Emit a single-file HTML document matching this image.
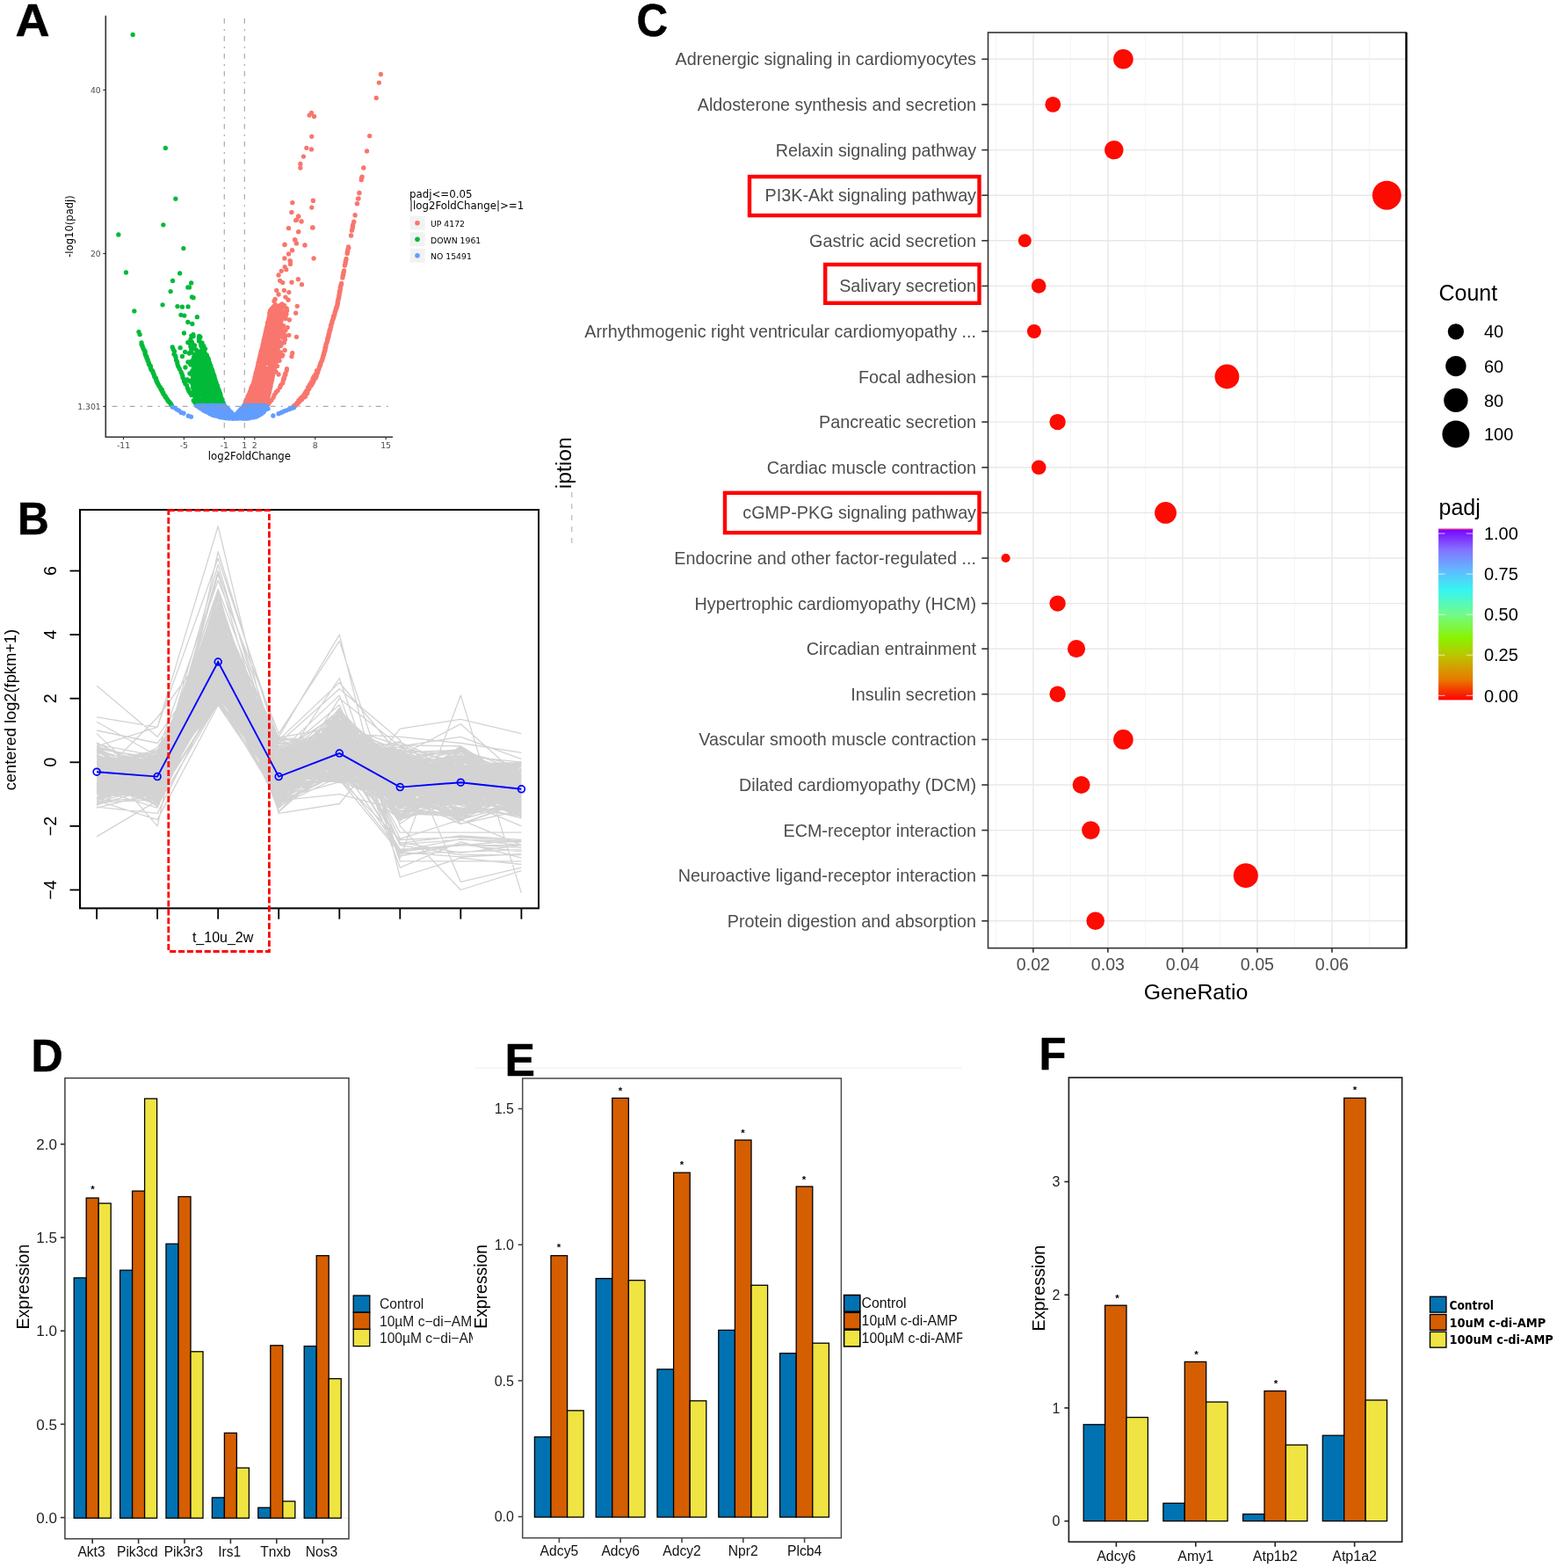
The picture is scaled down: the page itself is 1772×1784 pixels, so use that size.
<!DOCTYPE html>
<html><head><meta charset="utf-8"><title>Figure</title>
<style>html,body{margin:0;padding:0;background:#fff;}svg{display:block;}</style></head>
<body><svg width="1772" height="1784" viewBox="0 0 1772 1784" font-family="'Liberation Sans', Arial, sans-serif"><g>
<path d="M301.3 457.3a2.65 2.65 0 1 0 5.3 0a2.65 2.65 0 1 0 -5.3 0M296.7 456.1a2.65 2.65 0 1 0 5.3 0a2.65 2.65 0 1 0 -5.3 0M306.2 372.2a2.65 2.65 0 1 0 5.3 0a2.65 2.65 0 1 0 -5.3 0M288.6 447.5a2.65 2.65 0 1 0 5.3 0a2.65 2.65 0 1 0 -5.3 0M296.2 438a2.65 2.65 0 1 0 5.3 0a2.65 2.65 0 1 0 -5.3 0M298.3 391.1a2.65 2.65 0 1 0 5.3 0a2.65 2.65 0 1 0 -5.3 0M303.9 386a2.65 2.65 0 1 0 5.3 0a2.65 2.65 0 1 0 -5.3 0M311.3 361.4a2.65 2.65 0 1 0 5.3 0a2.65 2.65 0 1 0 -5.3 0M294.4 443a2.65 2.65 0 1 0 5.3 0a2.65 2.65 0 1 0 -5.3 0M310 365a2.65 2.65 0 1 0 5.3 0a2.65 2.65 0 1 0 -5.3 0M290.5 429.9a2.65 2.65 0 1 0 5.3 0a2.65 2.65 0 1 0 -5.3 0M291.6 457.1a2.65 2.65 0 1 0 5.3 0a2.65 2.65 0 1 0 -5.3 0M284.3 456.2a2.65 2.65 0 1 0 5.3 0a2.65 2.65 0 1 0 -5.3 0M305.7 376.7a2.65 2.65 0 1 0 5.3 0a2.65 2.65 0 1 0 -5.3 0M301.5 371.2a2.65 2.65 0 1 0 5.3 0a2.65 2.65 0 1 0 -5.3 0M312.9 360.8a2.65 2.65 0 1 0 5.3 0a2.65 2.65 0 1 0 -5.3 0M297.4 409.2a2.65 2.65 0 1 0 5.3 0a2.65 2.65 0 1 0 -5.3 0M287 435.6a2.65 2.65 0 1 0 5.3 0a2.65 2.65 0 1 0 -5.3 0M291.9 422.4a2.65 2.65 0 1 0 5.3 0a2.65 2.65 0 1 0 -5.3 0M299.8 382.5a2.65 2.65 0 1 0 5.3 0a2.65 2.65 0 1 0 -5.3 0M283 444.7a2.65 2.65 0 1 0 5.3 0a2.65 2.65 0 1 0 -5.3 0M289.2 423a2.65 2.65 0 1 0 5.3 0a2.65 2.65 0 1 0 -5.3 0M303.9 387.2a2.65 2.65 0 1 0 5.3 0a2.65 2.65 0 1 0 -5.3 0M293.1 422.6a2.65 2.65 0 1 0 5.3 0a2.65 2.65 0 1 0 -5.3 0M305.4 375.3a2.65 2.65 0 1 0 5.3 0a2.65 2.65 0 1 0 -5.3 0M311.8 387.3a2.65 2.65 0 1 0 5.3 0a2.65 2.65 0 1 0 -5.3 0M302.4 367.6a2.65 2.65 0 1 0 5.3 0a2.65 2.65 0 1 0 -5.3 0M280.3 451.8a2.65 2.65 0 1 0 5.3 0a2.65 2.65 0 1 0 -5.3 0M306.9 428.8a2.65 2.65 0 1 0 5.3 0a2.65 2.65 0 1 0 -5.3 0M302.8 367.4a2.65 2.65 0 1 0 5.3 0a2.65 2.65 0 1 0 -5.3 0M306.2 376a2.65 2.65 0 1 0 5.3 0a2.65 2.65 0 1 0 -5.3 0M294.1 425.5a2.65 2.65 0 1 0 5.3 0a2.65 2.65 0 1 0 -5.3 0M284.4 452a2.65 2.65 0 1 0 5.3 0a2.65 2.65 0 1 0 -5.3 0M307.6 356.6a2.65 2.65 0 1 0 5.3 0a2.65 2.65 0 1 0 -5.3 0M305.2 392a2.65 2.65 0 1 0 5.3 0a2.65 2.65 0 1 0 -5.3 0M302.4 398.9a2.65 2.65 0 1 0 5.3 0a2.65 2.65 0 1 0 -5.3 0M293.8 405.7a2.65 2.65 0 1 0 5.3 0a2.65 2.65 0 1 0 -5.3 0M315.3 361.4a2.65 2.65 0 1 0 5.3 0a2.65 2.65 0 1 0 -5.3 0M308.1 351.7a2.65 2.65 0 1 0 5.3 0a2.65 2.65 0 1 0 -5.3 0M305.7 423.9a2.65 2.65 0 1 0 5.3 0a2.65 2.65 0 1 0 -5.3 0M297.5 398a2.65 2.65 0 1 0 5.3 0a2.65 2.65 0 1 0 -5.3 0M288.2 448.6a2.65 2.65 0 1 0 5.3 0a2.65 2.65 0 1 0 -5.3 0M289.7 440.6a2.65 2.65 0 1 0 5.3 0a2.65 2.65 0 1 0 -5.3 0M298.9 434.3a2.65 2.65 0 1 0 5.3 0a2.65 2.65 0 1 0 -5.3 0M301.1 399.8a2.65 2.65 0 1 0 5.3 0a2.65 2.65 0 1 0 -5.3 0M303.4 375.7a2.65 2.65 0 1 0 5.3 0a2.65 2.65 0 1 0 -5.3 0M311.5 380.8a2.65 2.65 0 1 0 5.3 0a2.65 2.65 0 1 0 -5.3 0M310.8 383.6a2.65 2.65 0 1 0 5.3 0a2.65 2.65 0 1 0 -5.3 0M291.2 442.5a2.65 2.65 0 1 0 5.3 0a2.65 2.65 0 1 0 -5.3 0M299.7 419.1a2.65 2.65 0 1 0 5.3 0a2.65 2.65 0 1 0 -5.3 0M296.6 404.2a2.65 2.65 0 1 0 5.3 0a2.65 2.65 0 1 0 -5.3 0M304.9 365.6a2.65 2.65 0 1 0 5.3 0a2.65 2.65 0 1 0 -5.3 0M294.4 458.4a2.65 2.65 0 1 0 5.3 0a2.65 2.65 0 1 0 -5.3 0M309.2 395.7a2.65 2.65 0 1 0 5.3 0a2.65 2.65 0 1 0 -5.3 0M297.5 395.2a2.65 2.65 0 1 0 5.3 0a2.65 2.65 0 1 0 -5.3 0M304 441.9a2.65 2.65 0 1 0 5.3 0a2.65 2.65 0 1 0 -5.3 0M314.2 365.6a2.65 2.65 0 1 0 5.3 0a2.65 2.65 0 1 0 -5.3 0M299.6 386.8a2.65 2.65 0 1 0 5.3 0a2.65 2.65 0 1 0 -5.3 0M310.2 353.6a2.65 2.65 0 1 0 5.3 0a2.65 2.65 0 1 0 -5.3 0M304.4 416.9a2.65 2.65 0 1 0 5.3 0a2.65 2.65 0 1 0 -5.3 0M303.2 381.2a2.65 2.65 0 1 0 5.3 0a2.65 2.65 0 1 0 -5.3 0M290.1 448.7a2.65 2.65 0 1 0 5.3 0a2.65 2.65 0 1 0 -5.3 0M304.5 398.2a2.65 2.65 0 1 0 5.3 0a2.65 2.65 0 1 0 -5.3 0M293.3 407.8a2.65 2.65 0 1 0 5.3 0a2.65 2.65 0 1 0 -5.3 0M299.6 392.4a2.65 2.65 0 1 0 5.3 0a2.65 2.65 0 1 0 -5.3 0M296.4 410.5a2.65 2.65 0 1 0 5.3 0a2.65 2.65 0 1 0 -5.3 0M294.2 446.2a2.65 2.65 0 1 0 5.3 0a2.65 2.65 0 1 0 -5.3 0M299 429a2.65 2.65 0 1 0 5.3 0a2.65 2.65 0 1 0 -5.3 0M307.9 359.9a2.65 2.65 0 1 0 5.3 0a2.65 2.65 0 1 0 -5.3 0M308.7 362.5a2.65 2.65 0 1 0 5.3 0a2.65 2.65 0 1 0 -5.3 0M308.7 353.3a2.65 2.65 0 1 0 5.3 0a2.65 2.65 0 1 0 -5.3 0M305.8 395.8a2.65 2.65 0 1 0 5.3 0a2.65 2.65 0 1 0 -5.3 0M290 434.7a2.65 2.65 0 1 0 5.3 0a2.65 2.65 0 1 0 -5.3 0M304.6 441.8a2.65 2.65 0 1 0 5.3 0a2.65 2.65 0 1 0 -5.3 0M306.4 351.7a2.65 2.65 0 1 0 5.3 0a2.65 2.65 0 1 0 -5.3 0M298.9 439.2a2.65 2.65 0 1 0 5.3 0a2.65 2.65 0 1 0 -5.3 0M280.2 453.3a2.65 2.65 0 1 0 5.3 0a2.65 2.65 0 1 0 -5.3 0M304.4 376a2.65 2.65 0 1 0 5.3 0a2.65 2.65 0 1 0 -5.3 0M305 439.8a2.65 2.65 0 1 0 5.3 0a2.65 2.65 0 1 0 -5.3 0M296.9 447.3a2.65 2.65 0 1 0 5.3 0a2.65 2.65 0 1 0 -5.3 0M309.8 350.8a2.65 2.65 0 1 0 5.3 0a2.65 2.65 0 1 0 -5.3 0M304.6 391.9a2.65 2.65 0 1 0 5.3 0a2.65 2.65 0 1 0 -5.3 0M311.7 392a2.65 2.65 0 1 0 5.3 0a2.65 2.65 0 1 0 -5.3 0M284.7 449.7a2.65 2.65 0 1 0 5.3 0a2.65 2.65 0 1 0 -5.3 0M295.5 413.2a2.65 2.65 0 1 0 5.3 0a2.65 2.65 0 1 0 -5.3 0M295.1 460.3a2.65 2.65 0 1 0 5.3 0a2.65 2.65 0 1 0 -5.3 0M304.2 378.1a2.65 2.65 0 1 0 5.3 0a2.65 2.65 0 1 0 -5.3 0M298.1 456.9a2.65 2.65 0 1 0 5.3 0a2.65 2.65 0 1 0 -5.3 0M299.5 435.5a2.65 2.65 0 1 0 5.3 0a2.65 2.65 0 1 0 -5.3 0M302.6 419.8a2.65 2.65 0 1 0 5.3 0a2.65 2.65 0 1 0 -5.3 0M288.4 434.6a2.65 2.65 0 1 0 5.3 0a2.65 2.65 0 1 0 -5.3 0M307.1 405.3a2.65 2.65 0 1 0 5.3 0a2.65 2.65 0 1 0 -5.3 0M302.7 387.1a2.65 2.65 0 1 0 5.3 0a2.65 2.65 0 1 0 -5.3 0M299 393.5a2.65 2.65 0 1 0 5.3 0a2.65 2.65 0 1 0 -5.3 0M289.2 460.6a2.65 2.65 0 1 0 5.3 0a2.65 2.65 0 1 0 -5.3 0M299.8 381.5a2.65 2.65 0 1 0 5.3 0a2.65 2.65 0 1 0 -5.3 0M306.6 410.2a2.65 2.65 0 1 0 5.3 0a2.65 2.65 0 1 0 -5.3 0M300.3 460.5a2.65 2.65 0 1 0 5.3 0a2.65 2.65 0 1 0 -5.3 0M290.7 435.9a2.65 2.65 0 1 0 5.3 0a2.65 2.65 0 1 0 -5.3 0M293.8 446.7a2.65 2.65 0 1 0 5.3 0a2.65 2.65 0 1 0 -5.3 0M314 378.5a2.65 2.65 0 1 0 5.3 0a2.65 2.65 0 1 0 -5.3 0M305.6 371.8a2.65 2.65 0 1 0 5.3 0a2.65 2.65 0 1 0 -5.3 0M301.3 446.2a2.65 2.65 0 1 0 5.3 0a2.65 2.65 0 1 0 -5.3 0M303.2 369.4a2.65 2.65 0 1 0 5.3 0a2.65 2.65 0 1 0 -5.3 0M315 371.1a2.65 2.65 0 1 0 5.3 0a2.65 2.65 0 1 0 -5.3 0M289.4 433a2.65 2.65 0 1 0 5.3 0a2.65 2.65 0 1 0 -5.3 0M303.3 393.4a2.65 2.65 0 1 0 5.3 0a2.65 2.65 0 1 0 -5.3 0M304.5 385.6a2.65 2.65 0 1 0 5.3 0a2.65 2.65 0 1 0 -5.3 0M301.1 376.3a2.65 2.65 0 1 0 5.3 0a2.65 2.65 0 1 0 -5.3 0M301.8 430.1a2.65 2.65 0 1 0 5.3 0a2.65 2.65 0 1 0 -5.3 0M308.3 357.1a2.65 2.65 0 1 0 5.3 0a2.65 2.65 0 1 0 -5.3 0M310.4 395.5a2.65 2.65 0 1 0 5.3 0a2.65 2.65 0 1 0 -5.3 0M298.5 414.5a2.65 2.65 0 1 0 5.3 0a2.65 2.65 0 1 0 -5.3 0M299.2 422.4a2.65 2.65 0 1 0 5.3 0a2.65 2.65 0 1 0 -5.3 0M301.2 384.8a2.65 2.65 0 1 0 5.3 0a2.65 2.65 0 1 0 -5.3 0M307.2 376.4a2.65 2.65 0 1 0 5.3 0a2.65 2.65 0 1 0 -5.3 0M305.9 434.6a2.65 2.65 0 1 0 5.3 0a2.65 2.65 0 1 0 -5.3 0M308.7 382.3a2.65 2.65 0 1 0 5.3 0a2.65 2.65 0 1 0 -5.3 0M297.9 455.1a2.65 2.65 0 1 0 5.3 0a2.65 2.65 0 1 0 -5.3 0M295.8 422.2a2.65 2.65 0 1 0 5.3 0a2.65 2.65 0 1 0 -5.3 0M308.6 388.5a2.65 2.65 0 1 0 5.3 0a2.65 2.65 0 1 0 -5.3 0M307.9 357.1a2.65 2.65 0 1 0 5.3 0a2.65 2.65 0 1 0 -5.3 0M308.8 374.6a2.65 2.65 0 1 0 5.3 0a2.65 2.65 0 1 0 -5.3 0M302.7 386.4a2.65 2.65 0 1 0 5.3 0a2.65 2.65 0 1 0 -5.3 0M309.8 399.7a2.65 2.65 0 1 0 5.3 0a2.65 2.65 0 1 0 -5.3 0M289.3 450.8a2.65 2.65 0 1 0 5.3 0a2.65 2.65 0 1 0 -5.3 0M292.6 446.2a2.65 2.65 0 1 0 5.3 0a2.65 2.65 0 1 0 -5.3 0M293 452.6a2.65 2.65 0 1 0 5.3 0a2.65 2.65 0 1 0 -5.3 0M308 420.7a2.65 2.65 0 1 0 5.3 0a2.65 2.65 0 1 0 -5.3 0M288.2 461.2a2.65 2.65 0 1 0 5.3 0a2.65 2.65 0 1 0 -5.3 0M282.1 446.1a2.65 2.65 0 1 0 5.3 0a2.65 2.65 0 1 0 -5.3 0M312.7 377.5a2.65 2.65 0 1 0 5.3 0a2.65 2.65 0 1 0 -5.3 0M296.2 449.3a2.65 2.65 0 1 0 5.3 0a2.65 2.65 0 1 0 -5.3 0M301 398.9a2.65 2.65 0 1 0 5.3 0a2.65 2.65 0 1 0 -5.3 0M300.3 448.4a2.65 2.65 0 1 0 5.3 0a2.65 2.65 0 1 0 -5.3 0M284.4 448.5a2.65 2.65 0 1 0 5.3 0a2.65 2.65 0 1 0 -5.3 0M290.8 436.5a2.65 2.65 0 1 0 5.3 0a2.65 2.65 0 1 0 -5.3 0M312.5 367.7a2.65 2.65 0 1 0 5.3 0a2.65 2.65 0 1 0 -5.3 0M280.1 458.9a2.65 2.65 0 1 0 5.3 0a2.65 2.65 0 1 0 -5.3 0M304.7 357.1a2.65 2.65 0 1 0 5.3 0a2.65 2.65 0 1 0 -5.3 0M290 452.5a2.65 2.65 0 1 0 5.3 0a2.65 2.65 0 1 0 -5.3 0M285.4 438a2.65 2.65 0 1 0 5.3 0a2.65 2.65 0 1 0 -5.3 0M276.2 460.8a2.65 2.65 0 1 0 5.3 0a2.65 2.65 0 1 0 -5.3 0M289 447.9a2.65 2.65 0 1 0 5.3 0a2.65 2.65 0 1 0 -5.3 0M284.6 458.2a2.65 2.65 0 1 0 5.3 0a2.65 2.65 0 1 0 -5.3 0M292.9 410.8a2.65 2.65 0 1 0 5.3 0a2.65 2.65 0 1 0 -5.3 0M304.9 421.9a2.65 2.65 0 1 0 5.3 0a2.65 2.65 0 1 0 -5.3 0M298.7 409.9a2.65 2.65 0 1 0 5.3 0a2.65 2.65 0 1 0 -5.3 0M293.4 458.8a2.65 2.65 0 1 0 5.3 0a2.65 2.65 0 1 0 -5.3 0M301.5 453.4a2.65 2.65 0 1 0 5.3 0a2.65 2.65 0 1 0 -5.3 0M314.4 352.4a2.65 2.65 0 1 0 5.3 0a2.65 2.65 0 1 0 -5.3 0M305.2 384.1a2.65 2.65 0 1 0 5.3 0a2.65 2.65 0 1 0 -5.3 0M303.1 409.9a2.65 2.65 0 1 0 5.3 0a2.65 2.65 0 1 0 -5.3 0M288.9 458.6a2.65 2.65 0 1 0 5.3 0a2.65 2.65 0 1 0 -5.3 0M312 405.5a2.65 2.65 0 1 0 5.3 0a2.65 2.65 0 1 0 -5.3 0M307.3 390.3a2.65 2.65 0 1 0 5.3 0a2.65 2.65 0 1 0 -5.3 0M306 392a2.65 2.65 0 1 0 5.3 0a2.65 2.65 0 1 0 -5.3 0M298 417.3a2.65 2.65 0 1 0 5.3 0a2.65 2.65 0 1 0 -5.3 0M304.5 383.8a2.65 2.65 0 1 0 5.3 0a2.65 2.65 0 1 0 -5.3 0M302.4 409.3a2.65 2.65 0 1 0 5.3 0a2.65 2.65 0 1 0 -5.3 0M286.7 451.4a2.65 2.65 0 1 0 5.3 0a2.65 2.65 0 1 0 -5.3 0M295.7 429.8a2.65 2.65 0 1 0 5.3 0a2.65 2.65 0 1 0 -5.3 0M297.8 401.6a2.65 2.65 0 1 0 5.3 0a2.65 2.65 0 1 0 -5.3 0M297.9 407.5a2.65 2.65 0 1 0 5.3 0a2.65 2.65 0 1 0 -5.3 0M310.3 374.2a2.65 2.65 0 1 0 5.3 0a2.65 2.65 0 1 0 -5.3 0M295.1 420.5a2.65 2.65 0 1 0 5.3 0a2.65 2.65 0 1 0 -5.3 0M312.7 351.7a2.65 2.65 0 1 0 5.3 0a2.65 2.65 0 1 0 -5.3 0M291.7 442.6a2.65 2.65 0 1 0 5.3 0a2.65 2.65 0 1 0 -5.3 0M310.5 360.9a2.65 2.65 0 1 0 5.3 0a2.65 2.65 0 1 0 -5.3 0M309.9 406.8a2.65 2.65 0 1 0 5.3 0a2.65 2.65 0 1 0 -5.3 0M292.4 461.6a2.65 2.65 0 1 0 5.3 0a2.65 2.65 0 1 0 -5.3 0M305.2 398.5a2.65 2.65 0 1 0 5.3 0a2.65 2.65 0 1 0 -5.3 0M295.9 438.7a2.65 2.65 0 1 0 5.3 0a2.65 2.65 0 1 0 -5.3 0M308 364a2.65 2.65 0 1 0 5.3 0a2.65 2.65 0 1 0 -5.3 0M304.6 389a2.65 2.65 0 1 0 5.3 0a2.65 2.65 0 1 0 -5.3 0M306.2 378.3a2.65 2.65 0 1 0 5.3 0a2.65 2.65 0 1 0 -5.3 0M311.2 357.2a2.65 2.65 0 1 0 5.3 0a2.65 2.65 0 1 0 -5.3 0M302.7 445.6a2.65 2.65 0 1 0 5.3 0a2.65 2.65 0 1 0 -5.3 0M309.4 417.9a2.65 2.65 0 1 0 5.3 0a2.65 2.65 0 1 0 -5.3 0M306 380.7a2.65 2.65 0 1 0 5.3 0a2.65 2.65 0 1 0 -5.3 0M292.9 421.4a2.65 2.65 0 1 0 5.3 0a2.65 2.65 0 1 0 -5.3 0M310.2 387.3a2.65 2.65 0 1 0 5.3 0a2.65 2.65 0 1 0 -5.3 0M291.9 413.4a2.65 2.65 0 1 0 5.3 0a2.65 2.65 0 1 0 -5.3 0M315.1 368.8a2.65 2.65 0 1 0 5.3 0a2.65 2.65 0 1 0 -5.3 0M291.4 423.4a2.65 2.65 0 1 0 5.3 0a2.65 2.65 0 1 0 -5.3 0M307.9 390.4a2.65 2.65 0 1 0 5.3 0a2.65 2.65 0 1 0 -5.3 0M298 403.9a2.65 2.65 0 1 0 5.3 0a2.65 2.65 0 1 0 -5.3 0M295.2 399.9a2.65 2.65 0 1 0 5.3 0a2.65 2.65 0 1 0 -5.3 0M311.5 394.5a2.65 2.65 0 1 0 5.3 0a2.65 2.65 0 1 0 -5.3 0M295.7 449.3a2.65 2.65 0 1 0 5.3 0a2.65 2.65 0 1 0 -5.3 0M294.3 403.3a2.65 2.65 0 1 0 5.3 0a2.65 2.65 0 1 0 -5.3 0M297.4 441.7a2.65 2.65 0 1 0 5.3 0a2.65 2.65 0 1 0 -5.3 0M304.2 432a2.65 2.65 0 1 0 5.3 0a2.65 2.65 0 1 0 -5.3 0M304.6 410.5a2.65 2.65 0 1 0 5.3 0a2.65 2.65 0 1 0 -5.3 0M307.7 411.7a2.65 2.65 0 1 0 5.3 0a2.65 2.65 0 1 0 -5.3 0M305.9 402.3a2.65 2.65 0 1 0 5.3 0a2.65 2.65 0 1 0 -5.3 0M293.3 414a2.65 2.65 0 1 0 5.3 0a2.65 2.65 0 1 0 -5.3 0M312.8 363.5a2.65 2.65 0 1 0 5.3 0a2.65 2.65 0 1 0 -5.3 0M297.3 395.1a2.65 2.65 0 1 0 5.3 0a2.65 2.65 0 1 0 -5.3 0M312.2 376.3a2.65 2.65 0 1 0 5.3 0a2.65 2.65 0 1 0 -5.3 0M298.4 389.8a2.65 2.65 0 1 0 5.3 0a2.65 2.65 0 1 0 -5.3 0M295.3 403a2.65 2.65 0 1 0 5.3 0a2.65 2.65 0 1 0 -5.3 0M300.5 388.8a2.65 2.65 0 1 0 5.3 0a2.65 2.65 0 1 0 -5.3 0M309.8 369.8a2.65 2.65 0 1 0 5.3 0a2.65 2.65 0 1 0 -5.3 0M298.3 393.8a2.65 2.65 0 1 0 5.3 0a2.65 2.65 0 1 0 -5.3 0M299.6 384a2.65 2.65 0 1 0 5.3 0a2.65 2.65 0 1 0 -5.3 0M287.1 438.4a2.65 2.65 0 1 0 5.3 0a2.65 2.65 0 1 0 -5.3 0M287.9 428.6a2.65 2.65 0 1 0 5.3 0a2.65 2.65 0 1 0 -5.3 0M309.9 414.9a2.65 2.65 0 1 0 5.3 0a2.65 2.65 0 1 0 -5.3 0M294.9 454.4a2.65 2.65 0 1 0 5.3 0a2.65 2.65 0 1 0 -5.3 0M294.5 447.9a2.65 2.65 0 1 0 5.3 0a2.65 2.65 0 1 0 -5.3 0M312.4 355a2.65 2.65 0 1 0 5.3 0a2.65 2.65 0 1 0 -5.3 0M309.8 404.1a2.65 2.65 0 1 0 5.3 0a2.65 2.65 0 1 0 -5.3 0M304.3 424.5a2.65 2.65 0 1 0 5.3 0a2.65 2.65 0 1 0 -5.3 0M311.4 363.5a2.65 2.65 0 1 0 5.3 0a2.65 2.65 0 1 0 -5.3 0M314.8 370.5a2.65 2.65 0 1 0 5.3 0a2.65 2.65 0 1 0 -5.3 0M293.2 422.6a2.65 2.65 0 1 0 5.3 0a2.65 2.65 0 1 0 -5.3 0M286.4 451.1a2.65 2.65 0 1 0 5.3 0a2.65 2.65 0 1 0 -5.3 0M304.8 364.5a2.65 2.65 0 1 0 5.3 0a2.65 2.65 0 1 0 -5.3 0M300.4 383.4a2.65 2.65 0 1 0 5.3 0a2.65 2.65 0 1 0 -5.3 0M311.5 364.2a2.65 2.65 0 1 0 5.3 0a2.65 2.65 0 1 0 -5.3 0M291.7 420.5a2.65 2.65 0 1 0 5.3 0a2.65 2.65 0 1 0 -5.3 0M306.7 396.2a2.65 2.65 0 1 0 5.3 0a2.65 2.65 0 1 0 -5.3 0M304.5 359.9a2.65 2.65 0 1 0 5.3 0a2.65 2.65 0 1 0 -5.3 0M311 360.8a2.65 2.65 0 1 0 5.3 0a2.65 2.65 0 1 0 -5.3 0M307.6 403.9a2.65 2.65 0 1 0 5.3 0a2.65 2.65 0 1 0 -5.3 0M315.3 357.4a2.65 2.65 0 1 0 5.3 0a2.65 2.65 0 1 0 -5.3 0M296.2 446.2a2.65 2.65 0 1 0 5.3 0a2.65 2.65 0 1 0 -5.3 0M301.1 409a2.65 2.65 0 1 0 5.3 0a2.65 2.65 0 1 0 -5.3 0M287 449.6a2.65 2.65 0 1 0 5.3 0a2.65 2.65 0 1 0 -5.3 0M311.7 372.9a2.65 2.65 0 1 0 5.3 0a2.65 2.65 0 1 0 -5.3 0M315.1 350.4a2.65 2.65 0 1 0 5.3 0a2.65 2.65 0 1 0 -5.3 0M290.2 455.5a2.65 2.65 0 1 0 5.3 0a2.65 2.65 0 1 0 -5.3 0M299.1 437.5a2.65 2.65 0 1 0 5.3 0a2.65 2.65 0 1 0 -5.3 0M301 399.9a2.65 2.65 0 1 0 5.3 0a2.65 2.65 0 1 0 -5.3 0M303.9 365.6a2.65 2.65 0 1 0 5.3 0a2.65 2.65 0 1 0 -5.3 0M282.6 455.2a2.65 2.65 0 1 0 5.3 0a2.65 2.65 0 1 0 -5.3 0M289.6 443.7a2.65 2.65 0 1 0 5.3 0a2.65 2.65 0 1 0 -5.3 0M312.9 402a2.65 2.65 0 1 0 5.3 0a2.65 2.65 0 1 0 -5.3 0M313.1 360.2a2.65 2.65 0 1 0 5.3 0a2.65 2.65 0 1 0 -5.3 0M296.7 408.4a2.65 2.65 0 1 0 5.3 0a2.65 2.65 0 1 0 -5.3 0M285.7 447.1a2.65 2.65 0 1 0 5.3 0a2.65 2.65 0 1 0 -5.3 0M296.9 449.3a2.65 2.65 0 1 0 5.3 0a2.65 2.65 0 1 0 -5.3 0M296.4 437.8a2.65 2.65 0 1 0 5.3 0a2.65 2.65 0 1 0 -5.3 0M299.9 426.1a2.65 2.65 0 1 0 5.3 0a2.65 2.65 0 1 0 -5.3 0M313.6 356.4a2.65 2.65 0 1 0 5.3 0a2.65 2.65 0 1 0 -5.3 0M300.9 437a2.65 2.65 0 1 0 5.3 0a2.65 2.65 0 1 0 -5.3 0M305.9 353.9a2.65 2.65 0 1 0 5.3 0a2.65 2.65 0 1 0 -5.3 0M301.9 426.4a2.65 2.65 0 1 0 5.3 0a2.65 2.65 0 1 0 -5.3 0M310.4 386.1a2.65 2.65 0 1 0 5.3 0a2.65 2.65 0 1 0 -5.3 0M310.2 399.9a2.65 2.65 0 1 0 5.3 0a2.65 2.65 0 1 0 -5.3 0M304.5 364.1a2.65 2.65 0 1 0 5.3 0a2.65 2.65 0 1 0 -5.3 0M289.6 459.1a2.65 2.65 0 1 0 5.3 0a2.65 2.65 0 1 0 -5.3 0M296 404a2.65 2.65 0 1 0 5.3 0a2.65 2.65 0 1 0 -5.3 0M307.7 420a2.65 2.65 0 1 0 5.3 0a2.65 2.65 0 1 0 -5.3 0M307.4 362.2a2.65 2.65 0 1 0 5.3 0a2.65 2.65 0 1 0 -5.3 0M300.7 396.8a2.65 2.65 0 1 0 5.3 0a2.65 2.65 0 1 0 -5.3 0M312.8 381.1a2.65 2.65 0 1 0 5.3 0a2.65 2.65 0 1 0 -5.3 0M316 360a2.65 2.65 0 1 0 5.3 0a2.65 2.65 0 1 0 -5.3 0M286.2 443.3a2.65 2.65 0 1 0 5.3 0a2.65 2.65 0 1 0 -5.3 0M296.5 451.3a2.65 2.65 0 1 0 5.3 0a2.65 2.65 0 1 0 -5.3 0M304.8 428.5a2.65 2.65 0 1 0 5.3 0a2.65 2.65 0 1 0 -5.3 0M292.2 437a2.65 2.65 0 1 0 5.3 0a2.65 2.65 0 1 0 -5.3 0M303.4 443a2.65 2.65 0 1 0 5.3 0a2.65 2.65 0 1 0 -5.3 0M310.3 394.9a2.65 2.65 0 1 0 5.3 0a2.65 2.65 0 1 0 -5.3 0M301.4 399.4a2.65 2.65 0 1 0 5.3 0a2.65 2.65 0 1 0 -5.3 0M290.6 444a2.65 2.65 0 1 0 5.3 0a2.65 2.65 0 1 0 -5.3 0M302 380.4a2.65 2.65 0 1 0 5.3 0a2.65 2.65 0 1 0 -5.3 0M305.5 397.6a2.65 2.65 0 1 0 5.3 0a2.65 2.65 0 1 0 -5.3 0M303.8 439.7a2.65 2.65 0 1 0 5.3 0a2.65 2.65 0 1 0 -5.3 0M285 449.2a2.65 2.65 0 1 0 5.3 0a2.65 2.65 0 1 0 -5.3 0M301.6 449.7a2.65 2.65 0 1 0 5.3 0a2.65 2.65 0 1 0 -5.3 0M311.1 365.4a2.65 2.65 0 1 0 5.3 0a2.65 2.65 0 1 0 -5.3 0M282.9 455.6a2.65 2.65 0 1 0 5.3 0a2.65 2.65 0 1 0 -5.3 0M294.9 439.9a2.65 2.65 0 1 0 5.3 0a2.65 2.65 0 1 0 -5.3 0M312.4 405.9a2.65 2.65 0 1 0 5.3 0a2.65 2.65 0 1 0 -5.3 0M291.5 453.7a2.65 2.65 0 1 0 5.3 0a2.65 2.65 0 1 0 -5.3 0M294.4 457a2.65 2.65 0 1 0 5.3 0a2.65 2.65 0 1 0 -5.3 0M290.9 422.9a2.65 2.65 0 1 0 5.3 0a2.65 2.65 0 1 0 -5.3 0M302.5 390a2.65 2.65 0 1 0 5.3 0a2.65 2.65 0 1 0 -5.3 0M297.8 424.6a2.65 2.65 0 1 0 5.3 0a2.65 2.65 0 1 0 -5.3 0M291 459.2a2.65 2.65 0 1 0 5.3 0a2.65 2.65 0 1 0 -5.3 0M304.7 410.9a2.65 2.65 0 1 0 5.3 0a2.65 2.65 0 1 0 -5.3 0M294.6 433.2a2.65 2.65 0 1 0 5.3 0a2.65 2.65 0 1 0 -5.3 0M307.6 350.7a2.65 2.65 0 1 0 5.3 0a2.65 2.65 0 1 0 -5.3 0M292.2 432.8a2.65 2.65 0 1 0 5.3 0a2.65 2.65 0 1 0 -5.3 0M302.9 379.1a2.65 2.65 0 1 0 5.3 0a2.65 2.65 0 1 0 -5.3 0M308.1 380.2a2.65 2.65 0 1 0 5.3 0a2.65 2.65 0 1 0 -5.3 0M298.8 395.2a2.65 2.65 0 1 0 5.3 0a2.65 2.65 0 1 0 -5.3 0M291.7 457.6a2.65 2.65 0 1 0 5.3 0a2.65 2.65 0 1 0 -5.3 0M305.9 426.3a2.65 2.65 0 1 0 5.3 0a2.65 2.65 0 1 0 -5.3 0M300.1 441.8a2.65 2.65 0 1 0 5.3 0a2.65 2.65 0 1 0 -5.3 0M309.5 386.7a2.65 2.65 0 1 0 5.3 0a2.65 2.65 0 1 0 -5.3 0M313.1 365.4a2.65 2.65 0 1 0 5.3 0a2.65 2.65 0 1 0 -5.3 0M307.1 366.4a2.65 2.65 0 1 0 5.3 0a2.65 2.65 0 1 0 -5.3 0M315.9 369.4a2.65 2.65 0 1 0 5.3 0a2.65 2.65 0 1 0 -5.3 0M284.1 451.4a2.65 2.65 0 1 0 5.3 0a2.65 2.65 0 1 0 -5.3 0M294.7 443.1a2.65 2.65 0 1 0 5.3 0a2.65 2.65 0 1 0 -5.3 0M302.7 436.4a2.65 2.65 0 1 0 5.3 0a2.65 2.65 0 1 0 -5.3 0M307.9 400.9a2.65 2.65 0 1 0 5.3 0a2.65 2.65 0 1 0 -5.3 0M299.4 424a2.65 2.65 0 1 0 5.3 0a2.65 2.65 0 1 0 -5.3 0M307.7 378.4a2.65 2.65 0 1 0 5.3 0a2.65 2.65 0 1 0 -5.3 0M290.9 452.4a2.65 2.65 0 1 0 5.3 0a2.65 2.65 0 1 0 -5.3 0M302.4 376.6a2.65 2.65 0 1 0 5.3 0a2.65 2.65 0 1 0 -5.3 0M308.5 351.5a2.65 2.65 0 1 0 5.3 0a2.65 2.65 0 1 0 -5.3 0M310.9 412a2.65 2.65 0 1 0 5.3 0a2.65 2.65 0 1 0 -5.3 0M290.6 455a2.65 2.65 0 1 0 5.3 0a2.65 2.65 0 1 0 -5.3 0M307.8 424.8a2.65 2.65 0 1 0 5.3 0a2.65 2.65 0 1 0 -5.3 0M293.1 439.8a2.65 2.65 0 1 0 5.3 0a2.65 2.65 0 1 0 -5.3 0M302.6 426.4a2.65 2.65 0 1 0 5.3 0a2.65 2.65 0 1 0 -5.3 0M308.7 392.1a2.65 2.65 0 1 0 5.3 0a2.65 2.65 0 1 0 -5.3 0M310 387a2.65 2.65 0 1 0 5.3 0a2.65 2.65 0 1 0 -5.3 0M283.3 447.1a2.65 2.65 0 1 0 5.3 0a2.65 2.65 0 1 0 -5.3 0M298.2 406.7a2.65 2.65 0 1 0 5.3 0a2.65 2.65 0 1 0 -5.3 0M296.9 444.8a2.65 2.65 0 1 0 5.3 0a2.65 2.65 0 1 0 -5.3 0M304.1 413.3a2.65 2.65 0 1 0 5.3 0a2.65 2.65 0 1 0 -5.3 0M292.7 412.8a2.65 2.65 0 1 0 5.3 0a2.65 2.65 0 1 0 -5.3 0M287.1 444a2.65 2.65 0 1 0 5.3 0a2.65 2.65 0 1 0 -5.3 0M307.8 404.4a2.65 2.65 0 1 0 5.3 0a2.65 2.65 0 1 0 -5.3 0M303.3 447.9a2.65 2.65 0 1 0 5.3 0a2.65 2.65 0 1 0 -5.3 0M305.6 417.2a2.65 2.65 0 1 0 5.3 0a2.65 2.65 0 1 0 -5.3 0M301.3 441.7a2.65 2.65 0 1 0 5.3 0a2.65 2.65 0 1 0 -5.3 0M309.8 388.1a2.65 2.65 0 1 0 5.3 0a2.65 2.65 0 1 0 -5.3 0M305.4 355a2.65 2.65 0 1 0 5.3 0a2.65 2.65 0 1 0 -5.3 0M311.4 384.2a2.65 2.65 0 1 0 5.3 0a2.65 2.65 0 1 0 -5.3 0M299.2 439.7a2.65 2.65 0 1 0 5.3 0a2.65 2.65 0 1 0 -5.3 0M302.4 385.9a2.65 2.65 0 1 0 5.3 0a2.65 2.65 0 1 0 -5.3 0M284.3 443.4a2.65 2.65 0 1 0 5.3 0a2.65 2.65 0 1 0 -5.3 0M310.1 408.6a2.65 2.65 0 1 0 5.3 0a2.65 2.65 0 1 0 -5.3 0M302.4 430.2a2.65 2.65 0 1 0 5.3 0a2.65 2.65 0 1 0 -5.3 0M300.5 392.8a2.65 2.65 0 1 0 5.3 0a2.65 2.65 0 1 0 -5.3 0M297.4 414.5a2.65 2.65 0 1 0 5.3 0a2.65 2.65 0 1 0 -5.3 0M285.1 446.7a2.65 2.65 0 1 0 5.3 0a2.65 2.65 0 1 0 -5.3 0M294.9 425.3a2.65 2.65 0 1 0 5.3 0a2.65 2.65 0 1 0 -5.3 0M305.8 399.1a2.65 2.65 0 1 0 5.3 0a2.65 2.65 0 1 0 -5.3 0M297.5 397.2a2.65 2.65 0 1 0 5.3 0a2.65 2.65 0 1 0 -5.3 0M299.4 427.5a2.65 2.65 0 1 0 5.3 0a2.65 2.65 0 1 0 -5.3 0M306.4 429.6a2.65 2.65 0 1 0 5.3 0a2.65 2.65 0 1 0 -5.3 0M306.4 419.3a2.65 2.65 0 1 0 5.3 0a2.65 2.65 0 1 0 -5.3 0M290.6 450.3a2.65 2.65 0 1 0 5.3 0a2.65 2.65 0 1 0 -5.3 0M309.9 399.1a2.65 2.65 0 1 0 5.3 0a2.65 2.65 0 1 0 -5.3 0M295.6 460.8a2.65 2.65 0 1 0 5.3 0a2.65 2.65 0 1 0 -5.3 0M295.8 441.4a2.65 2.65 0 1 0 5.3 0a2.65 2.65 0 1 0 -5.3 0M299.6 405.2a2.65 2.65 0 1 0 5.3 0a2.65 2.65 0 1 0 -5.3 0M306.8 391a2.65 2.65 0 1 0 5.3 0a2.65 2.65 0 1 0 -5.3 0M302.2 448.7a2.65 2.65 0 1 0 5.3 0a2.65 2.65 0 1 0 -5.3 0M296.2 420.4a2.65 2.65 0 1 0 5.3 0a2.65 2.65 0 1 0 -5.3 0M295 414.2a2.65 2.65 0 1 0 5.3 0a2.65 2.65 0 1 0 -5.3 0M302.7 428.1a2.65 2.65 0 1 0 5.3 0a2.65 2.65 0 1 0 -5.3 0M306.5 352.9a2.65 2.65 0 1 0 5.3 0a2.65 2.65 0 1 0 -5.3 0M304.3 428.9a2.65 2.65 0 1 0 5.3 0a2.65 2.65 0 1 0 -5.3 0M305.1 401a2.65 2.65 0 1 0 5.3 0a2.65 2.65 0 1 0 -5.3 0M281.4 451.4a2.65 2.65 0 1 0 5.3 0a2.65 2.65 0 1 0 -5.3 0M285.6 460.4a2.65 2.65 0 1 0 5.3 0a2.65 2.65 0 1 0 -5.3 0M302.6 432.1a2.65 2.65 0 1 0 5.3 0a2.65 2.65 0 1 0 -5.3 0M285.7 453.9a2.65 2.65 0 1 0 5.3 0a2.65 2.65 0 1 0 -5.3 0M307.9 358.7a2.65 2.65 0 1 0 5.3 0a2.65 2.65 0 1 0 -5.3 0M299.3 441.3a2.65 2.65 0 1 0 5.3 0a2.65 2.65 0 1 0 -5.3 0M297 418.1a2.65 2.65 0 1 0 5.3 0a2.65 2.65 0 1 0 -5.3 0M300.9 438.8a2.65 2.65 0 1 0 5.3 0a2.65 2.65 0 1 0 -5.3 0M303.3 370.6a2.65 2.65 0 1 0 5.3 0a2.65 2.65 0 1 0 -5.3 0M311.8 358.4a2.65 2.65 0 1 0 5.3 0a2.65 2.65 0 1 0 -5.3 0M308.1 363.7a2.65 2.65 0 1 0 5.3 0a2.65 2.65 0 1 0 -5.3 0M305.1 415.7a2.65 2.65 0 1 0 5.3 0a2.65 2.65 0 1 0 -5.3 0M297.7 399.2a2.65 2.65 0 1 0 5.3 0a2.65 2.65 0 1 0 -5.3 0M292.9 417.1a2.65 2.65 0 1 0 5.3 0a2.65 2.65 0 1 0 -5.3 0M293.9 447.9a2.65 2.65 0 1 0 5.3 0a2.65 2.65 0 1 0 -5.3 0M283.1 455.3a2.65 2.65 0 1 0 5.3 0a2.65 2.65 0 1 0 -5.3 0M294.3 428.1a2.65 2.65 0 1 0 5.3 0a2.65 2.65 0 1 0 -5.3 0M307.7 378.3a2.65 2.65 0 1 0 5.3 0a2.65 2.65 0 1 0 -5.3 0M289.5 435.5a2.65 2.65 0 1 0 5.3 0a2.65 2.65 0 1 0 -5.3 0M309.5 408a2.65 2.65 0 1 0 5.3 0a2.65 2.65 0 1 0 -5.3 0M316.9 365.3a2.65 2.65 0 1 0 5.3 0a2.65 2.65 0 1 0 -5.3 0M298.2 421.6a2.65 2.65 0 1 0 5.3 0a2.65 2.65 0 1 0 -5.3 0M298.5 454.8a2.65 2.65 0 1 0 5.3 0a2.65 2.65 0 1 0 -5.3 0M292.9 452a2.65 2.65 0 1 0 5.3 0a2.65 2.65 0 1 0 -5.3 0M287.7 451.1a2.65 2.65 0 1 0 5.3 0a2.65 2.65 0 1 0 -5.3 0M304.9 426.3a2.65 2.65 0 1 0 5.3 0a2.65 2.65 0 1 0 -5.3 0M300.8 422.3a2.65 2.65 0 1 0 5.3 0a2.65 2.65 0 1 0 -5.3 0M301.1 426.8a2.65 2.65 0 1 0 5.3 0a2.65 2.65 0 1 0 -5.3 0M287.1 435.3a2.65 2.65 0 1 0 5.3 0a2.65 2.65 0 1 0 -5.3 0M305 398a2.65 2.65 0 1 0 5.3 0a2.65 2.65 0 1 0 -5.3 0M306.7 357.6a2.65 2.65 0 1 0 5.3 0a2.65 2.65 0 1 0 -5.3 0M311.1 350.2a2.65 2.65 0 1 0 5.3 0a2.65 2.65 0 1 0 -5.3 0M311 372.8a2.65 2.65 0 1 0 5.3 0a2.65 2.65 0 1 0 -5.3 0M304.2 378.7a2.65 2.65 0 1 0 5.3 0a2.65 2.65 0 1 0 -5.3 0M314.3 364.9a2.65 2.65 0 1 0 5.3 0a2.65 2.65 0 1 0 -5.3 0M303.7 414.3a2.65 2.65 0 1 0 5.3 0a2.65 2.65 0 1 0 -5.3 0M303.8 367.5a2.65 2.65 0 1 0 5.3 0a2.65 2.65 0 1 0 -5.3 0M303.4 412.3a2.65 2.65 0 1 0 5.3 0a2.65 2.65 0 1 0 -5.3 0M280.9 457.6a2.65 2.65 0 1 0 5.3 0a2.65 2.65 0 1 0 -5.3 0M291 429.9a2.65 2.65 0 1 0 5.3 0a2.65 2.65 0 1 0 -5.3 0M286 438.4a2.65 2.65 0 1 0 5.3 0a2.65 2.65 0 1 0 -5.3 0M308.2 372.5a2.65 2.65 0 1 0 5.3 0a2.65 2.65 0 1 0 -5.3 0M302.9 401.1a2.65 2.65 0 1 0 5.3 0a2.65 2.65 0 1 0 -5.3 0M312.7 352.5a2.65 2.65 0 1 0 5.3 0a2.65 2.65 0 1 0 -5.3 0M303.9 443.1a2.65 2.65 0 1 0 5.3 0a2.65 2.65 0 1 0 -5.3 0M295.1 428.7a2.65 2.65 0 1 0 5.3 0a2.65 2.65 0 1 0 -5.3 0M307.4 411.5a2.65 2.65 0 1 0 5.3 0a2.65 2.65 0 1 0 -5.3 0M312.2 359.4a2.65 2.65 0 1 0 5.3 0a2.65 2.65 0 1 0 -5.3 0M312.5 371.2a2.65 2.65 0 1 0 5.3 0a2.65 2.65 0 1 0 -5.3 0M306.8 355.3a2.65 2.65 0 1 0 5.3 0a2.65 2.65 0 1 0 -5.3 0M303.4 406a2.65 2.65 0 1 0 5.3 0a2.65 2.65 0 1 0 -5.3 0M307.2 408.6a2.65 2.65 0 1 0 5.3 0a2.65 2.65 0 1 0 -5.3 0M301.4 421.7a2.65 2.65 0 1 0 5.3 0a2.65 2.65 0 1 0 -5.3 0M312.2 389.1a2.65 2.65 0 1 0 5.3 0a2.65 2.65 0 1 0 -5.3 0M314.2 367.6a2.65 2.65 0 1 0 5.3 0a2.65 2.65 0 1 0 -5.3 0M314.1 356.1a2.65 2.65 0 1 0 5.3 0a2.65 2.65 0 1 0 -5.3 0M300.4 454.9a2.65 2.65 0 1 0 5.3 0a2.65 2.65 0 1 0 -5.3 0M292.6 424.9a2.65 2.65 0 1 0 5.3 0a2.65 2.65 0 1 0 -5.3 0M297.4 455.9a2.65 2.65 0 1 0 5.3 0a2.65 2.65 0 1 0 -5.3 0M296.5 461a2.65 2.65 0 1 0 5.3 0a2.65 2.65 0 1 0 -5.3 0M302.1 371.6a2.65 2.65 0 1 0 5.3 0a2.65 2.65 0 1 0 -5.3 0M311.2 370a2.65 2.65 0 1 0 5.3 0a2.65 2.65 0 1 0 -5.3 0M285.1 457.4a2.65 2.65 0 1 0 5.3 0a2.65 2.65 0 1 0 -5.3 0M290.1 423.7a2.65 2.65 0 1 0 5.3 0a2.65 2.65 0 1 0 -5.3 0M299.5 428.7a2.65 2.65 0 1 0 5.3 0a2.65 2.65 0 1 0 -5.3 0M280.5 457.3a2.65 2.65 0 1 0 5.3 0a2.65 2.65 0 1 0 -5.3 0M297.8 413.7a2.65 2.65 0 1 0 5.3 0a2.65 2.65 0 1 0 -5.3 0M313.5 353.3a2.65 2.65 0 1 0 5.3 0a2.65 2.65 0 1 0 -5.3 0M300.5 398.8a2.65 2.65 0 1 0 5.3 0a2.65 2.65 0 1 0 -5.3 0M292.9 449a2.65 2.65 0 1 0 5.3 0a2.65 2.65 0 1 0 -5.3 0M293.4 407.7a2.65 2.65 0 1 0 5.3 0a2.65 2.65 0 1 0 -5.3 0M303.4 405.8a2.65 2.65 0 1 0 5.3 0a2.65 2.65 0 1 0 -5.3 0M303.6 414.2a2.65 2.65 0 1 0 5.3 0a2.65 2.65 0 1 0 -5.3 0M305.1 376.2a2.65 2.65 0 1 0 5.3 0a2.65 2.65 0 1 0 -5.3 0M297.9 424.7a2.65 2.65 0 1 0 5.3 0a2.65 2.65 0 1 0 -5.3 0M302.2 401a2.65 2.65 0 1 0 5.3 0a2.65 2.65 0 1 0 -5.3 0M304.3 438.8a2.65 2.65 0 1 0 5.3 0a2.65 2.65 0 1 0 -5.3 0M304.5 428.4a2.65 2.65 0 1 0 5.3 0a2.65 2.65 0 1 0 -5.3 0M303.2 367.5a2.65 2.65 0 1 0 5.3 0a2.65 2.65 0 1 0 -5.3 0M292.9 457.5a2.65 2.65 0 1 0 5.3 0a2.65 2.65 0 1 0 -5.3 0M314.1 373.5a2.65 2.65 0 1 0 5.3 0a2.65 2.65 0 1 0 -5.3 0M307 388.1a2.65 2.65 0 1 0 5.3 0a2.65 2.65 0 1 0 -5.3 0M303.9 435a2.65 2.65 0 1 0 5.3 0a2.65 2.65 0 1 0 -5.3 0M290.6 427.9a2.65 2.65 0 1 0 5.3 0a2.65 2.65 0 1 0 -5.3 0M304.4 365.2a2.65 2.65 0 1 0 5.3 0a2.65 2.65 0 1 0 -5.3 0M291.2 457.6a2.65 2.65 0 1 0 5.3 0a2.65 2.65 0 1 0 -5.3 0M303 419.8a2.65 2.65 0 1 0 5.3 0a2.65 2.65 0 1 0 -5.3 0M306.6 378.1a2.65 2.65 0 1 0 5.3 0a2.65 2.65 0 1 0 -5.3 0M280.3 454.4a2.65 2.65 0 1 0 5.3 0a2.65 2.65 0 1 0 -5.3 0M317.1 363.8a2.65 2.65 0 1 0 5.3 0a2.65 2.65 0 1 0 -5.3 0M302.2 427a2.65 2.65 0 1 0 5.3 0a2.65 2.65 0 1 0 -5.3 0M286.7 437.9a2.65 2.65 0 1 0 5.3 0a2.65 2.65 0 1 0 -5.3 0M306.7 386.1a2.65 2.65 0 1 0 5.3 0a2.65 2.65 0 1 0 -5.3 0M305.1 391.1a2.65 2.65 0 1 0 5.3 0a2.65 2.65 0 1 0 -5.3 0M306.2 373.1a2.65 2.65 0 1 0 5.3 0a2.65 2.65 0 1 0 -5.3 0M303.9 411.8a2.65 2.65 0 1 0 5.3 0a2.65 2.65 0 1 0 -5.3 0M302.6 374.5a2.65 2.65 0 1 0 5.3 0a2.65 2.65 0 1 0 -5.3 0M298.3 430.2a2.65 2.65 0 1 0 5.3 0a2.65 2.65 0 1 0 -5.3 0M302.9 426.3a2.65 2.65 0 1 0 5.3 0a2.65 2.65 0 1 0 -5.3 0M301.8 450.6a2.65 2.65 0 1 0 5.3 0a2.65 2.65 0 1 0 -5.3 0M303.8 376.7a2.65 2.65 0 1 0 5.3 0a2.65 2.65 0 1 0 -5.3 0M309.5 382.4a2.65 2.65 0 1 0 5.3 0a2.65 2.65 0 1 0 -5.3 0M288.9 429.8a2.65 2.65 0 1 0 5.3 0a2.65 2.65 0 1 0 -5.3 0M297.8 388.5a2.65 2.65 0 1 0 5.3 0a2.65 2.65 0 1 0 -5.3 0M306.2 407.7a2.65 2.65 0 1 0 5.3 0a2.65 2.65 0 1 0 -5.3 0M308.7 358.9a2.65 2.65 0 1 0 5.3 0a2.65 2.65 0 1 0 -5.3 0M304.1 372.3a2.65 2.65 0 1 0 5.3 0a2.65 2.65 0 1 0 -5.3 0M306 435.4a2.65 2.65 0 1 0 5.3 0a2.65 2.65 0 1 0 -5.3 0M294.9 420.1a2.65 2.65 0 1 0 5.3 0a2.65 2.65 0 1 0 -5.3 0M302 381.3a2.65 2.65 0 1 0 5.3 0a2.65 2.65 0 1 0 -5.3 0M308.5 397.1a2.65 2.65 0 1 0 5.3 0a2.65 2.65 0 1 0 -5.3 0M279.4 457.7a2.65 2.65 0 1 0 5.3 0a2.65 2.65 0 1 0 -5.3 0M308.4 362.3a2.65 2.65 0 1 0 5.3 0a2.65 2.65 0 1 0 -5.3 0M311.2 366.2a2.65 2.65 0 1 0 5.3 0a2.65 2.65 0 1 0 -5.3 0M317.1 360.2a2.65 2.65 0 1 0 5.3 0a2.65 2.65 0 1 0 -5.3 0M295.7 456.9a2.65 2.65 0 1 0 5.3 0a2.65 2.65 0 1 0 -5.3 0M301.3 380a2.65 2.65 0 1 0 5.3 0a2.65 2.65 0 1 0 -5.3 0M295.4 429.2a2.65 2.65 0 1 0 5.3 0a2.65 2.65 0 1 0 -5.3 0M306.9 361.6a2.65 2.65 0 1 0 5.3 0a2.65 2.65 0 1 0 -5.3 0M283.7 457.1a2.65 2.65 0 1 0 5.3 0a2.65 2.65 0 1 0 -5.3 0M312.1 383.7a2.65 2.65 0 1 0 5.3 0a2.65 2.65 0 1 0 -5.3 0M293.3 441.4a2.65 2.65 0 1 0 5.3 0a2.65 2.65 0 1 0 -5.3 0M301.4 450.3a2.65 2.65 0 1 0 5.3 0a2.65 2.65 0 1 0 -5.3 0M285.1 451.5a2.65 2.65 0 1 0 5.3 0a2.65 2.65 0 1 0 -5.3 0M293 419.9a2.65 2.65 0 1 0 5.3 0a2.65 2.65 0 1 0 -5.3 0M285.9 452.6a2.65 2.65 0 1 0 5.3 0a2.65 2.65 0 1 0 -5.3 0M310.3 375.9a2.65 2.65 0 1 0 5.3 0a2.65 2.65 0 1 0 -5.3 0M303.6 390.6a2.65 2.65 0 1 0 5.3 0a2.65 2.65 0 1 0 -5.3 0M311.5 362.1a2.65 2.65 0 1 0 5.3 0a2.65 2.65 0 1 0 -5.3 0M298.5 385.5a2.65 2.65 0 1 0 5.3 0a2.65 2.65 0 1 0 -5.3 0M310.6 386.5a2.65 2.65 0 1 0 5.3 0a2.65 2.65 0 1 0 -5.3 0M313.1 362.7a2.65 2.65 0 1 0 5.3 0a2.65 2.65 0 1 0 -5.3 0M304.5 421.9a2.65 2.65 0 1 0 5.3 0a2.65 2.65 0 1 0 -5.3 0M298.9 399.2a2.65 2.65 0 1 0 5.3 0a2.65 2.65 0 1 0 -5.3 0M289.9 436.9a2.65 2.65 0 1 0 5.3 0a2.65 2.65 0 1 0 -5.3 0M309.6 372.9a2.65 2.65 0 1 0 5.3 0a2.65 2.65 0 1 0 -5.3 0M307.2 369.6a2.65 2.65 0 1 0 5.3 0a2.65 2.65 0 1 0 -5.3 0M288.7 447.4a2.65 2.65 0 1 0 5.3 0a2.65 2.65 0 1 0 -5.3 0M300.6 442.2a2.65 2.65 0 1 0 5.3 0a2.65 2.65 0 1 0 -5.3 0M297.6 402.5a2.65 2.65 0 1 0 5.3 0a2.65 2.65 0 1 0 -5.3 0M293.3 448.1a2.65 2.65 0 1 0 5.3 0a2.65 2.65 0 1 0 -5.3 0M304 370.7a2.65 2.65 0 1 0 5.3 0a2.65 2.65 0 1 0 -5.3 0M280.7 452a2.65 2.65 0 1 0 5.3 0a2.65 2.65 0 1 0 -5.3 0M293.9 429.4a2.65 2.65 0 1 0 5.3 0a2.65 2.65 0 1 0 -5.3 0M297.9 441.2a2.65 2.65 0 1 0 5.3 0a2.65 2.65 0 1 0 -5.3 0M309.3 387.8a2.65 2.65 0 1 0 5.3 0a2.65 2.65 0 1 0 -5.3 0M309.8 371.9a2.65 2.65 0 1 0 5.3 0a2.65 2.65 0 1 0 -5.3 0M289.5 431a2.65 2.65 0 1 0 5.3 0a2.65 2.65 0 1 0 -5.3 0M296.9 423.7a2.65 2.65 0 1 0 5.3 0a2.65 2.65 0 1 0 -5.3 0M281.5 456.9a2.65 2.65 0 1 0 5.3 0a2.65 2.65 0 1 0 -5.3 0M309.5 367.8a2.65 2.65 0 1 0 5.3 0a2.65 2.65 0 1 0 -5.3 0M290.9 453.1a2.65 2.65 0 1 0 5.3 0a2.65 2.65 0 1 0 -5.3 0M297 450.2a2.65 2.65 0 1 0 5.3 0a2.65 2.65 0 1 0 -5.3 0M297.3 454.1a2.65 2.65 0 1 0 5.3 0a2.65 2.65 0 1 0 -5.3 0M302.5 439.3a2.65 2.65 0 1 0 5.3 0a2.65 2.65 0 1 0 -5.3 0M293.6 416.1a2.65 2.65 0 1 0 5.3 0a2.65 2.65 0 1 0 -5.3 0M293.4 405.8a2.65 2.65 0 1 0 5.3 0a2.65 2.65 0 1 0 -5.3 0M306.2 432.9a2.65 2.65 0 1 0 5.3 0a2.65 2.65 0 1 0 -5.3 0M301.3 450.9a2.65 2.65 0 1 0 5.3 0a2.65 2.65 0 1 0 -5.3 0M306.3 433a2.65 2.65 0 1 0 5.3 0a2.65 2.65 0 1 0 -5.3 0M306 428.6a2.65 2.65 0 1 0 5.3 0a2.65 2.65 0 1 0 -5.3 0M287.1 443.3a2.65 2.65 0 1 0 5.3 0a2.65 2.65 0 1 0 -5.3 0M315.1 352.8a2.65 2.65 0 1 0 5.3 0a2.65 2.65 0 1 0 -5.3 0M289.8 435a2.65 2.65 0 1 0 5.3 0a2.65 2.65 0 1 0 -5.3 0M301.9 381.6a2.65 2.65 0 1 0 5.3 0a2.65 2.65 0 1 0 -5.3 0M294.3 458.8a2.65 2.65 0 1 0 5.3 0a2.65 2.65 0 1 0 -5.3 0M296.3 455.5a2.65 2.65 0 1 0 5.3 0a2.65 2.65 0 1 0 -5.3 0M305.1 391.8a2.65 2.65 0 1 0 5.3 0a2.65 2.65 0 1 0 -5.3 0M281.9 446.3a2.65 2.65 0 1 0 5.3 0a2.65 2.65 0 1 0 -5.3 0M290.6 419.3a2.65 2.65 0 1 0 5.3 0a2.65 2.65 0 1 0 -5.3 0M299.2 423a2.65 2.65 0 1 0 5.3 0a2.65 2.65 0 1 0 -5.3 0M300.7 424.7a2.65 2.65 0 1 0 5.3 0a2.65 2.65 0 1 0 -5.3 0M290 455.5a2.65 2.65 0 1 0 5.3 0a2.65 2.65 0 1 0 -5.3 0M299 393.1a2.65 2.65 0 1 0 5.3 0a2.65 2.65 0 1 0 -5.3 0M296 403.8a2.65 2.65 0 1 0 5.3 0a2.65 2.65 0 1 0 -5.3 0M291 449.8a2.65 2.65 0 1 0 5.3 0a2.65 2.65 0 1 0 -5.3 0M292 416.9a2.65 2.65 0 1 0 5.3 0a2.65 2.65 0 1 0 -5.3 0M309.1 376.7a2.65 2.65 0 1 0 5.3 0a2.65 2.65 0 1 0 -5.3 0M291 451.9a2.65 2.65 0 1 0 5.3 0a2.65 2.65 0 1 0 -5.3 0M289.6 441.3a2.65 2.65 0 1 0 5.3 0a2.65 2.65 0 1 0 -5.3 0M306.9 429.7a2.65 2.65 0 1 0 5.3 0a2.65 2.65 0 1 0 -5.3 0M299 452.9a2.65 2.65 0 1 0 5.3 0a2.65 2.65 0 1 0 -5.3 0M279.2 453.3a2.65 2.65 0 1 0 5.3 0a2.65 2.65 0 1 0 -5.3 0M305.8 419.3a2.65 2.65 0 1 0 5.3 0a2.65 2.65 0 1 0 -5.3 0M290.9 459.5a2.65 2.65 0 1 0 5.3 0a2.65 2.65 0 1 0 -5.3 0M305.7 366.9a2.65 2.65 0 1 0 5.3 0a2.65 2.65 0 1 0 -5.3 0M290.4 431.6a2.65 2.65 0 1 0 5.3 0a2.65 2.65 0 1 0 -5.3 0M294.3 437.8a2.65 2.65 0 1 0 5.3 0a2.65 2.65 0 1 0 -5.3 0M300.1 398.7a2.65 2.65 0 1 0 5.3 0a2.65 2.65 0 1 0 -5.3 0M291.8 426.3a2.65 2.65 0 1 0 5.3 0a2.65 2.65 0 1 0 -5.3 0M309.1 406a2.65 2.65 0 1 0 5.3 0a2.65 2.65 0 1 0 -5.3 0M293.2 423.8a2.65 2.65 0 1 0 5.3 0a2.65 2.65 0 1 0 -5.3 0M299.9 430.6a2.65 2.65 0 1 0 5.3 0a2.65 2.65 0 1 0 -5.3 0M292.9 457.3a2.65 2.65 0 1 0 5.3 0a2.65 2.65 0 1 0 -5.3 0M301.8 383.1a2.65 2.65 0 1 0 5.3 0a2.65 2.65 0 1 0 -5.3 0M289 434a2.65 2.65 0 1 0 5.3 0a2.65 2.65 0 1 0 -5.3 0M282.2 445.5a2.65 2.65 0 1 0 5.3 0a2.65 2.65 0 1 0 -5.3 0M315 356.3a2.65 2.65 0 1 0 5.3 0a2.65 2.65 0 1 0 -5.3 0M300 451.2a2.65 2.65 0 1 0 5.3 0a2.65 2.65 0 1 0 -5.3 0M300.6 395.9a2.65 2.65 0 1 0 5.3 0a2.65 2.65 0 1 0 -5.3 0M315.5 356.8a2.65 2.65 0 1 0 5.3 0a2.65 2.65 0 1 0 -5.3 0M308.8 358.6a2.65 2.65 0 1 0 5.3 0a2.65 2.65 0 1 0 -5.3 0M312.8 397.6a2.65 2.65 0 1 0 5.3 0a2.65 2.65 0 1 0 -5.3 0M306.6 376.3a2.65 2.65 0 1 0 5.3 0a2.65 2.65 0 1 0 -5.3 0M306.8 421.4a2.65 2.65 0 1 0 5.3 0a2.65 2.65 0 1 0 -5.3 0M306.4 371.4a2.65 2.65 0 1 0 5.3 0a2.65 2.65 0 1 0 -5.3 0M303.5 378.7a2.65 2.65 0 1 0 5.3 0a2.65 2.65 0 1 0 -5.3 0M291.3 452.7a2.65 2.65 0 1 0 5.3 0a2.65 2.65 0 1 0 -5.3 0M293.7 412.6a2.65 2.65 0 1 0 5.3 0a2.65 2.65 0 1 0 -5.3 0M295 446.2a2.65 2.65 0 1 0 5.3 0a2.65 2.65 0 1 0 -5.3 0M292.6 456.1a2.65 2.65 0 1 0 5.3 0a2.65 2.65 0 1 0 -5.3 0M307.6 363.4a2.65 2.65 0 1 0 5.3 0a2.65 2.65 0 1 0 -5.3 0M307.2 361.8a2.65 2.65 0 1 0 5.3 0a2.65 2.65 0 1 0 -5.3 0M302.7 390.1a2.65 2.65 0 1 0 5.3 0a2.65 2.65 0 1 0 -5.3 0M286.1 440.6a2.65 2.65 0 1 0 5.3 0a2.65 2.65 0 1 0 -5.3 0M313.8 350.7a2.65 2.65 0 1 0 5.3 0a2.65 2.65 0 1 0 -5.3 0M295.3 400.7a2.65 2.65 0 1 0 5.3 0a2.65 2.65 0 1 0 -5.3 0M306.3 430.7a2.65 2.65 0 1 0 5.3 0a2.65 2.65 0 1 0 -5.3 0M290.1 454.2a2.65 2.65 0 1 0 5.3 0a2.65 2.65 0 1 0 -5.3 0M310.4 360.5a2.65 2.65 0 1 0 5.3 0a2.65 2.65 0 1 0 -5.3 0M309.1 375.5a2.65 2.65 0 1 0 5.3 0a2.65 2.65 0 1 0 -5.3 0M314.6 372.2a2.65 2.65 0 1 0 5.3 0a2.65 2.65 0 1 0 -5.3 0M302.5 408.1a2.65 2.65 0 1 0 5.3 0a2.65 2.65 0 1 0 -5.3 0M312.1 397.8a2.65 2.65 0 1 0 5.3 0a2.65 2.65 0 1 0 -5.3 0M279.6 452a2.65 2.65 0 1 0 5.3 0a2.65 2.65 0 1 0 -5.3 0M307.4 373.4a2.65 2.65 0 1 0 5.3 0a2.65 2.65 0 1 0 -5.3 0M295.3 441.5a2.65 2.65 0 1 0 5.3 0a2.65 2.65 0 1 0 -5.3 0M299.2 393.4a2.65 2.65 0 1 0 5.3 0a2.65 2.65 0 1 0 -5.3 0M295.6 403.5a2.65 2.65 0 1 0 5.3 0a2.65 2.65 0 1 0 -5.3 0M299.2 434.5a2.65 2.65 0 1 0 5.3 0a2.65 2.65 0 1 0 -5.3 0M313.5 389.1a2.65 2.65 0 1 0 5.3 0a2.65 2.65 0 1 0 -5.3 0M298.9 382.9a2.65 2.65 0 1 0 5.3 0a2.65 2.65 0 1 0 -5.3 0M302.4 411.6a2.65 2.65 0 1 0 5.3 0a2.65 2.65 0 1 0 -5.3 0M290.9 456.1a2.65 2.65 0 1 0 5.3 0a2.65 2.65 0 1 0 -5.3 0M302.6 409.3a2.65 2.65 0 1 0 5.3 0a2.65 2.65 0 1 0 -5.3 0M290.8 416.4a2.65 2.65 0 1 0 5.3 0a2.65 2.65 0 1 0 -5.3 0M288.3 458.4a2.65 2.65 0 1 0 5.3 0a2.65 2.65 0 1 0 -5.3 0M285.9 458.8a2.65 2.65 0 1 0 5.3 0a2.65 2.65 0 1 0 -5.3 0M293.2 450.7a2.65 2.65 0 1 0 5.3 0a2.65 2.65 0 1 0 -5.3 0M300.7 441.7a2.65 2.65 0 1 0 5.3 0a2.65 2.65 0 1 0 -5.3 0M279.7 454.1a2.65 2.65 0 1 0 5.3 0a2.65 2.65 0 1 0 -5.3 0M286.9 448.1a2.65 2.65 0 1 0 5.3 0a2.65 2.65 0 1 0 -5.3 0M305.3 354.5a2.65 2.65 0 1 0 5.3 0a2.65 2.65 0 1 0 -5.3 0M291 422.9a2.65 2.65 0 1 0 5.3 0a2.65 2.65 0 1 0 -5.3 0M303.4 365.3a2.65 2.65 0 1 0 5.3 0a2.65 2.65 0 1 0 -5.3 0M306.6 410.2a2.65 2.65 0 1 0 5.3 0a2.65 2.65 0 1 0 -5.3 0M290.8 450.4a2.65 2.65 0 1 0 5.3 0a2.65 2.65 0 1 0 -5.3 0M300.7 439a2.65 2.65 0 1 0 5.3 0a2.65 2.65 0 1 0 -5.3 0M275.1 461.5a2.65 2.65 0 1 0 5.3 0a2.65 2.65 0 1 0 -5.3 0M276 460.1a2.65 2.65 0 1 0 5.3 0a2.65 2.65 0 1 0 -5.3 0M276.5 458.6a2.65 2.65 0 1 0 5.3 0a2.65 2.65 0 1 0 -5.3 0M276.9 456.9a2.65 2.65 0 1 0 5.3 0a2.65 2.65 0 1 0 -5.3 0M277.7 455.5a2.65 2.65 0 1 0 5.3 0a2.65 2.65 0 1 0 -5.3 0M278.5 454.1a2.65 2.65 0 1 0 5.3 0a2.65 2.65 0 1 0 -5.3 0M279.1 452.6a2.65 2.65 0 1 0 5.3 0a2.65 2.65 0 1 0 -5.3 0M279.3 451.3a2.65 2.65 0 1 0 5.3 0a2.65 2.65 0 1 0 -5.3 0M280.1 449.8a2.65 2.65 0 1 0 5.3 0a2.65 2.65 0 1 0 -5.3 0M280.9 448.3a2.65 2.65 0 1 0 5.3 0a2.65 2.65 0 1 0 -5.3 0M281.5 447.2a2.65 2.65 0 1 0 5.3 0a2.65 2.65 0 1 0 -5.3 0M281.9 445.6a2.65 2.65 0 1 0 5.3 0a2.65 2.65 0 1 0 -5.3 0M282.8 444.2a2.65 2.65 0 1 0 5.3 0a2.65 2.65 0 1 0 -5.3 0M283 442.4a2.65 2.65 0 1 0 5.3 0a2.65 2.65 0 1 0 -5.3 0M283.5 441.1a2.65 2.65 0 1 0 5.3 0a2.65 2.65 0 1 0 -5.3 0M284.1 439.8a2.65 2.65 0 1 0 5.3 0a2.65 2.65 0 1 0 -5.3 0M284.9 438.2a2.65 2.65 0 1 0 5.3 0a2.65 2.65 0 1 0 -5.3 0M285.6 437.1a2.65 2.65 0 1 0 5.3 0a2.65 2.65 0 1 0 -5.3 0M286 435.2a2.65 2.65 0 1 0 5.3 0a2.65 2.65 0 1 0 -5.3 0M286.4 433.8a2.65 2.65 0 1 0 5.3 0a2.65 2.65 0 1 0 -5.3 0M287.1 432.5a2.65 2.65 0 1 0 5.3 0a2.65 2.65 0 1 0 -5.3 0M287.2 430.6a2.65 2.65 0 1 0 5.3 0a2.65 2.65 0 1 0 -5.3 0M287.4 429.1a2.65 2.65 0 1 0 5.3 0a2.65 2.65 0 1 0 -5.3 0M288.2 427.8a2.65 2.65 0 1 0 5.3 0a2.65 2.65 0 1 0 -5.3 0M288.2 426.3a2.65 2.65 0 1 0 5.3 0a2.65 2.65 0 1 0 -5.3 0M288.5 424.7a2.65 2.65 0 1 0 5.3 0a2.65 2.65 0 1 0 -5.3 0M289 422.9a2.65 2.65 0 1 0 5.3 0a2.65 2.65 0 1 0 -5.3 0M289.6 421.8a2.65 2.65 0 1 0 5.3 0a2.65 2.65 0 1 0 -5.3 0M289.9 419.9a2.65 2.65 0 1 0 5.3 0a2.65 2.65 0 1 0 -5.3 0M290.3 418.5a2.65 2.65 0 1 0 5.3 0a2.65 2.65 0 1 0 -5.3 0M290.7 416.8a2.65 2.65 0 1 0 5.3 0a2.65 2.65 0 1 0 -5.3 0M291.2 415.2a2.65 2.65 0 1 0 5.3 0a2.65 2.65 0 1 0 -5.3 0M291.2 413.9a2.65 2.65 0 1 0 5.3 0a2.65 2.65 0 1 0 -5.3 0M291.5 412.2a2.65 2.65 0 1 0 5.3 0a2.65 2.65 0 1 0 -5.3 0M292.2 411.2a2.65 2.65 0 1 0 5.3 0a2.65 2.65 0 1 0 -5.3 0M292.3 409.2a2.65 2.65 0 1 0 5.3 0a2.65 2.65 0 1 0 -5.3 0M292.9 407.7a2.65 2.65 0 1 0 5.3 0a2.65 2.65 0 1 0 -5.3 0M293.1 406.4a2.65 2.65 0 1 0 5.3 0a2.65 2.65 0 1 0 -5.3 0M293.5 404.6a2.65 2.65 0 1 0 5.3 0a2.65 2.65 0 1 0 -5.3 0M293.6 403.4a2.65 2.65 0 1 0 5.3 0a2.65 2.65 0 1 0 -5.3 0M294.5 402.1a2.65 2.65 0 1 0 5.3 0a2.65 2.65 0 1 0 -5.3 0M294.3 400.4a2.65 2.65 0 1 0 5.3 0a2.65 2.65 0 1 0 -5.3 0M294.9 398.7a2.65 2.65 0 1 0 5.3 0a2.65 2.65 0 1 0 -5.3 0M295.4 397.4a2.65 2.65 0 1 0 5.3 0a2.65 2.65 0 1 0 -5.3 0M295.8 395.8a2.65 2.65 0 1 0 5.3 0a2.65 2.65 0 1 0 -5.3 0M296.2 394.7a2.65 2.65 0 1 0 5.3 0a2.65 2.65 0 1 0 -5.3 0M296.3 392.8a2.65 2.65 0 1 0 5.3 0a2.65 2.65 0 1 0 -5.3 0M296.6 391.3a2.65 2.65 0 1 0 5.3 0a2.65 2.65 0 1 0 -5.3 0M297.1 390.2a2.65 2.65 0 1 0 5.3 0a2.65 2.65 0 1 0 -5.3 0M297.4 388.9a2.65 2.65 0 1 0 5.3 0a2.65 2.65 0 1 0 -5.3 0M297.4 387.3a2.65 2.65 0 1 0 5.3 0a2.65 2.65 0 1 0 -5.3 0M298.2 385.4a2.65 2.65 0 1 0 5.3 0a2.65 2.65 0 1 0 -5.3 0M298.3 383.9a2.65 2.65 0 1 0 5.3 0a2.65 2.65 0 1 0 -5.3 0M298.8 382.8a2.65 2.65 0 1 0 5.3 0a2.65 2.65 0 1 0 -5.3 0M299 381.4a2.65 2.65 0 1 0 5.3 0a2.65 2.65 0 1 0 -5.3 0M299.3 379.9a2.65 2.65 0 1 0 5.3 0a2.65 2.65 0 1 0 -5.3 0M299.6 378.6a2.65 2.65 0 1 0 5.3 0a2.65 2.65 0 1 0 -5.3 0M300.1 376.5a2.65 2.65 0 1 0 5.3 0a2.65 2.65 0 1 0 -5.3 0M300.2 375.5a2.65 2.65 0 1 0 5.3 0a2.65 2.65 0 1 0 -5.3 0M301 374a2.65 2.65 0 1 0 5.3 0a2.65 2.65 0 1 0 -5.3 0M300.9 372.6a2.65 2.65 0 1 0 5.3 0a2.65 2.65 0 1 0 -5.3 0M301.6 370.6a2.65 2.65 0 1 0 5.3 0a2.65 2.65 0 1 0 -5.3 0M301.7 369.3a2.65 2.65 0 1 0 5.3 0a2.65 2.65 0 1 0 -5.3 0M301.8 367.4a2.65 2.65 0 1 0 5.3 0a2.65 2.65 0 1 0 -5.3 0M302.3 366.3a2.65 2.65 0 1 0 5.3 0a2.65 2.65 0 1 0 -5.3 0M303 364.3a2.65 2.65 0 1 0 5.3 0a2.65 2.65 0 1 0 -5.3 0M303.3 363a2.65 2.65 0 1 0 5.3 0a2.65 2.65 0 1 0 -5.3 0M303.6 361.3a2.65 2.65 0 1 0 5.3 0a2.65 2.65 0 1 0 -5.3 0M304 359.8a2.65 2.65 0 1 0 5.3 0a2.65 2.65 0 1 0 -5.3 0M304.3 358.1a2.65 2.65 0 1 0 5.3 0a2.65 2.65 0 1 0 -5.3 0M304.1 356.5a2.65 2.65 0 1 0 5.3 0a2.65 2.65 0 1 0 -5.3 0M304.6 354.8a2.65 2.65 0 1 0 5.3 0a2.65 2.65 0 1 0 -5.3 0M304.9 353.3a2.65 2.65 0 1 0 5.3 0a2.65 2.65 0 1 0 -5.3 0M306.1 351.8a2.65 2.65 0 1 0 5.3 0a2.65 2.65 0 1 0 -5.3 0M307.1 350.7a2.65 2.65 0 1 0 5.3 0a2.65 2.65 0 1 0 -5.3 0M308.4 349.3a2.65 2.65 0 1 0 5.3 0a2.65 2.65 0 1 0 -5.3 0M309.6 347.8a2.65 2.65 0 1 0 5.3 0a2.65 2.65 0 1 0 -5.3 0M310.7 346.6a2.65 2.65 0 1 0 5.3 0a2.65 2.65 0 1 0 -5.3 0M312.2 347.9a2.65 2.65 0 1 0 5.3 0a2.65 2.65 0 1 0 -5.3 0M313.5 348.8a2.65 2.65 0 1 0 5.3 0a2.65 2.65 0 1 0 -5.3 0M314.5 350.1a2.65 2.65 0 1 0 5.3 0a2.65 2.65 0 1 0 -5.3 0M316 350.9a2.65 2.65 0 1 0 5.3 0a2.65 2.65 0 1 0 -5.3 0M317.2 351.9a2.65 2.65 0 1 0 5.3 0a2.65 2.65 0 1 0 -5.3 0M317.7 353.8a2.65 2.65 0 1 0 5.3 0a2.65 2.65 0 1 0 -5.3 0M317.7 355.3a2.65 2.65 0 1 0 5.3 0a2.65 2.65 0 1 0 -5.3 0M317.8 356.8a2.65 2.65 0 1 0 5.3 0a2.65 2.65 0 1 0 -5.3 0M318.1 358.3a2.65 2.65 0 1 0 5.3 0a2.65 2.65 0 1 0 -5.3 0M318.3 360.2a2.65 2.65 0 1 0 5.3 0a2.65 2.65 0 1 0 -5.3 0M318.1 361.4a2.65 2.65 0 1 0 5.3 0a2.65 2.65 0 1 0 -5.3 0M317.5 363.4a2.65 2.65 0 1 0 5.3 0a2.65 2.65 0 1 0 -5.3 0M317.4 364.9a2.65 2.65 0 1 0 5.3 0a2.65 2.65 0 1 0 -5.3 0M317 366.5a2.65 2.65 0 1 0 5.3 0a2.65 2.65 0 1 0 -5.3 0M316.5 367.7a2.65 2.65 0 1 0 5.3 0a2.65 2.65 0 1 0 -5.3 0M316.2 369.3a2.65 2.65 0 1 0 5.3 0a2.65 2.65 0 1 0 -5.3 0M316.2 371.2a2.65 2.65 0 1 0 5.3 0a2.65 2.65 0 1 0 -5.3 0M315.7 373.1a2.65 2.65 0 1 0 5.3 0a2.65 2.65 0 1 0 -5.3 0M315.4 374.2a2.65 2.65 0 1 0 5.3 0a2.65 2.65 0 1 0 -5.3 0M314.8 375.8a2.65 2.65 0 1 0 5.3 0a2.65 2.65 0 1 0 -5.3 0M314.9 377.6a2.65 2.65 0 1 0 5.3 0a2.65 2.65 0 1 0 -5.3 0M314.7 378.9a2.65 2.65 0 1 0 5.3 0a2.65 2.65 0 1 0 -5.3 0M314.5 380.5a2.65 2.65 0 1 0 5.3 0a2.65 2.65 0 1 0 -5.3 0M314.6 382.2a2.65 2.65 0 1 0 5.3 0a2.65 2.65 0 1 0 -5.3 0M314.6 383.7a2.65 2.65 0 1 0 5.3 0a2.65 2.65 0 1 0 -5.3 0M314.3 385a2.65 2.65 0 1 0 5.3 0a2.65 2.65 0 1 0 -5.3 0M314.1 386.8a2.65 2.65 0 1 0 5.3 0a2.65 2.65 0 1 0 -5.3 0M313.9 387.8a2.65 2.65 0 1 0 5.3 0a2.65 2.65 0 1 0 -5.3 0M313.9 389.8a2.65 2.65 0 1 0 5.3 0a2.65 2.65 0 1 0 -5.3 0M314.1 391a2.65 2.65 0 1 0 5.3 0a2.65 2.65 0 1 0 -5.3 0M314 392.8a2.65 2.65 0 1 0 5.3 0a2.65 2.65 0 1 0 -5.3 0M313.6 394a2.65 2.65 0 1 0 5.3 0a2.65 2.65 0 1 0 -5.3 0M313.7 395.6a2.65 2.65 0 1 0 5.3 0a2.65 2.65 0 1 0 -5.3 0M313.2 397.4a2.65 2.65 0 1 0 5.3 0a2.65 2.65 0 1 0 -5.3 0M313.3 398.6a2.65 2.65 0 1 0 5.3 0a2.65 2.65 0 1 0 -5.3 0M313.3 400.1a2.65 2.65 0 1 0 5.3 0a2.65 2.65 0 1 0 -5.3 0M312.8 401.7a2.65 2.65 0 1 0 5.3 0a2.65 2.65 0 1 0 -5.3 0M312.9 403a2.65 2.65 0 1 0 5.3 0a2.65 2.65 0 1 0 -5.3 0M312.8 405a2.65 2.65 0 1 0 5.3 0a2.65 2.65 0 1 0 -5.3 0M312.4 406.4a2.65 2.65 0 1 0 5.3 0a2.65 2.65 0 1 0 -5.3 0M312.3 407.6a2.65 2.65 0 1 0 5.3 0a2.65 2.65 0 1 0 -5.3 0M311.6 409.4a2.65 2.65 0 1 0 5.3 0a2.65 2.65 0 1 0 -5.3 0M311.6 410.7a2.65 2.65 0 1 0 5.3 0a2.65 2.65 0 1 0 -5.3 0M311 412.5a2.65 2.65 0 1 0 5.3 0a2.65 2.65 0 1 0 -5.3 0M311.1 413.7a2.65 2.65 0 1 0 5.3 0a2.65 2.65 0 1 0 -5.3 0M310.6 415.4a2.65 2.65 0 1 0 5.3 0a2.65 2.65 0 1 0 -5.3 0M310.1 416.5a2.65 2.65 0 1 0 5.3 0a2.65 2.65 0 1 0 -5.3 0M309.8 418.4a2.65 2.65 0 1 0 5.3 0a2.65 2.65 0 1 0 -5.3 0M309.6 419.8a2.65 2.65 0 1 0 5.3 0a2.65 2.65 0 1 0 -5.3 0M309 421.2a2.65 2.65 0 1 0 5.3 0a2.65 2.65 0 1 0 -5.3 0M308.8 422.8a2.65 2.65 0 1 0 5.3 0a2.65 2.65 0 1 0 -5.3 0M308.5 424.6a2.65 2.65 0 1 0 5.3 0a2.65 2.65 0 1 0 -5.3 0M308 426.1a2.65 2.65 0 1 0 5.3 0a2.65 2.65 0 1 0 -5.3 0M307.7 427.6a2.65 2.65 0 1 0 5.3 0a2.65 2.65 0 1 0 -5.3 0M307.4 428.9a2.65 2.65 0 1 0 5.3 0a2.65 2.65 0 1 0 -5.3 0M307.1 430.1a2.65 2.65 0 1 0 5.3 0a2.65 2.65 0 1 0 -5.3 0M307.1 432a2.65 2.65 0 1 0 5.3 0a2.65 2.65 0 1 0 -5.3 0M306.4 433.5a2.65 2.65 0 1 0 5.3 0a2.65 2.65 0 1 0 -5.3 0M306.2 435.1a2.65 2.65 0 1 0 5.3 0a2.65 2.65 0 1 0 -5.3 0M305.6 436.3a2.65 2.65 0 1 0 5.3 0a2.65 2.65 0 1 0 -5.3 0M305.4 437.9a2.65 2.65 0 1 0 5.3 0a2.65 2.65 0 1 0 -5.3 0M305.4 439.6a2.65 2.65 0 1 0 5.3 0a2.65 2.65 0 1 0 -5.3 0M304.9 440.8a2.65 2.65 0 1 0 5.3 0a2.65 2.65 0 1 0 -5.3 0M304.7 442.1a2.65 2.65 0 1 0 5.3 0a2.65 2.65 0 1 0 -5.3 0M304.1 444a2.65 2.65 0 1 0 5.3 0a2.65 2.65 0 1 0 -5.3 0M303.9 445.7a2.65 2.65 0 1 0 5.3 0a2.65 2.65 0 1 0 -5.3 0M303.3 446.9a2.65 2.65 0 1 0 5.3 0a2.65 2.65 0 1 0 -5.3 0M303.1 448.1a2.65 2.65 0 1 0 5.3 0a2.65 2.65 0 1 0 -5.3 0M302.7 449.6a2.65 2.65 0 1 0 5.3 0a2.65 2.65 0 1 0 -5.3 0M302.5 451.3a2.65 2.65 0 1 0 5.3 0a2.65 2.65 0 1 0 -5.3 0M302.2 452.8a2.65 2.65 0 1 0 5.3 0a2.65 2.65 0 1 0 -5.3 0M302 454.4a2.65 2.65 0 1 0 5.3 0a2.65 2.65 0 1 0 -5.3 0M301.9 455.7a2.65 2.65 0 1 0 5.3 0a2.65 2.65 0 1 0 -5.3 0M301.3 457.4a2.65 2.65 0 1 0 5.3 0a2.65 2.65 0 1 0 -5.3 0M300.8 459.1a2.65 2.65 0 1 0 5.3 0a2.65 2.65 0 1 0 -5.3 0M300.4 460.6a2.65 2.65 0 1 0 5.3 0a2.65 2.65 0 1 0 -5.3 0M300.2 461.8a2.65 2.65 0 1 0 5.3 0a2.65 2.65 0 1 0 -5.3 0M298.8 461.9a2.65 2.65 0 1 0 5.3 0a2.65 2.65 0 1 0 -5.3 0M297 461.6a2.65 2.65 0 1 0 5.3 0a2.65 2.65 0 1 0 -5.3 0M295.9 461.7a2.65 2.65 0 1 0 5.3 0a2.65 2.65 0 1 0 -5.3 0M293.8 461.9a2.65 2.65 0 1 0 5.3 0a2.65 2.65 0 1 0 -5.3 0M292.5 461.7a2.65 2.65 0 1 0 5.3 0a2.65 2.65 0 1 0 -5.3 0M290.8 462a2.65 2.65 0 1 0 5.3 0a2.65 2.65 0 1 0 -5.3 0M289.3 461.7a2.65 2.65 0 1 0 5.3 0a2.65 2.65 0 1 0 -5.3 0M288.1 461.6a2.65 2.65 0 1 0 5.3 0a2.65 2.65 0 1 0 -5.3 0M286.2 461.5a2.65 2.65 0 1 0 5.3 0a2.65 2.65 0 1 0 -5.3 0M284.8 461.7a2.65 2.65 0 1 0 5.3 0a2.65 2.65 0 1 0 -5.3 0M283.1 461.6a2.65 2.65 0 1 0 5.3 0a2.65 2.65 0 1 0 -5.3 0M281.4 461.8a2.65 2.65 0 1 0 5.3 0a2.65 2.65 0 1 0 -5.3 0M280 461.8a2.65 2.65 0 1 0 5.3 0a2.65 2.65 0 1 0 -5.3 0M278.4 461.7a2.65 2.65 0 1 0 5.3 0a2.65 2.65 0 1 0 -5.3 0M276.6 461.4a2.65 2.65 0 1 0 5.3 0a2.65 2.65 0 1 0 -5.3 0M319.6 379.7a2.65 2.65 0 1 0 5.3 0a2.65 2.65 0 1 0 -5.3 0M314.7 352.8a2.65 2.65 0 1 0 5.3 0a2.65 2.65 0 1 0 -5.3 0M320 358.3a2.65 2.65 0 1 0 5.3 0a2.65 2.65 0 1 0 -5.3 0M318.8 347.3a2.65 2.65 0 1 0 5.3 0a2.65 2.65 0 1 0 -5.3 0M318.1 350.4a2.65 2.65 0 1 0 5.3 0a2.65 2.65 0 1 0 -5.3 0M315.6 363.3a2.65 2.65 0 1 0 5.3 0a2.65 2.65 0 1 0 -5.3 0M316.6 347.1a2.65 2.65 0 1 0 5.3 0a2.65 2.65 0 1 0 -5.3 0M315 390.5a2.65 2.65 0 1 0 5.3 0a2.65 2.65 0 1 0 -5.3 0M319.6 384.2a2.65 2.65 0 1 0 5.3 0a2.65 2.65 0 1 0 -5.3 0M318.2 405.2a2.65 2.65 0 1 0 5.3 0a2.65 2.65 0 1 0 -5.3 0M317.1 355a2.65 2.65 0 1 0 5.3 0a2.65 2.65 0 1 0 -5.3 0M314 409.7a2.65 2.65 0 1 0 5.3 0a2.65 2.65 0 1 0 -5.3 0M317 402.8a2.65 2.65 0 1 0 5.3 0a2.65 2.65 0 1 0 -5.3 0M312.1 375.4a2.65 2.65 0 1 0 5.3 0a2.65 2.65 0 1 0 -5.3 0M320.8 359.1a2.65 2.65 0 1 0 5.3 0a2.65 2.65 0 1 0 -5.3 0M323.6 350.9a2.65 2.65 0 1 0 5.3 0a2.65 2.65 0 1 0 -5.3 0M313.9 409.7a2.65 2.65 0 1 0 5.3 0a2.65 2.65 0 1 0 -5.3 0M319.9 382.9a2.65 2.65 0 1 0 5.3 0a2.65 2.65 0 1 0 -5.3 0M324 353.3a2.65 2.65 0 1 0 5.3 0a2.65 2.65 0 1 0 -5.3 0M318.3 345.9a2.65 2.65 0 1 0 5.3 0a2.65 2.65 0 1 0 -5.3 0M310 417.8a2.65 2.65 0 1 0 5.3 0a2.65 2.65 0 1 0 -5.3 0M322.4 360.3a2.65 2.65 0 1 0 5.3 0a2.65 2.65 0 1 0 -5.3 0M320.9 355.5a2.65 2.65 0 1 0 5.3 0a2.65 2.65 0 1 0 -5.3 0M316.6 390.1a2.65 2.65 0 1 0 5.3 0a2.65 2.65 0 1 0 -5.3 0M320.1 376.8a2.65 2.65 0 1 0 5.3 0a2.65 2.65 0 1 0 -5.3 0M322.2 376a2.65 2.65 0 1 0 5.3 0a2.65 2.65 0 1 0 -5.3 0M308.1 421.1a2.65 2.65 0 1 0 5.3 0a2.65 2.65 0 1 0 -5.3 0M323.3 357.3a2.65 2.65 0 1 0 5.3 0a2.65 2.65 0 1 0 -5.3 0M320 370.6a2.65 2.65 0 1 0 5.3 0a2.65 2.65 0 1 0 -5.3 0M308.7 354.6a2.65 2.65 0 1 0 5.3 0a2.65 2.65 0 1 0 -5.3 0M315.6 380.1a2.65 2.65 0 1 0 5.3 0a2.65 2.65 0 1 0 -5.3 0M311.9 353.9a2.65 2.65 0 1 0 5.3 0a2.65 2.65 0 1 0 -5.3 0M311.7 400.9a2.65 2.65 0 1 0 5.3 0a2.65 2.65 0 1 0 -5.3 0M319.1 371.5a2.65 2.65 0 1 0 5.3 0a2.65 2.65 0 1 0 -5.3 0M315.9 348.9a2.65 2.65 0 1 0 5.3 0a2.65 2.65 0 1 0 -5.3 0M315.5 405.8a2.65 2.65 0 1 0 5.3 0a2.65 2.65 0 1 0 -5.3 0M311.8 408.1a2.65 2.65 0 1 0 5.3 0a2.65 2.65 0 1 0 -5.3 0M318.6 378.4a2.65 2.65 0 1 0 5.3 0a2.65 2.65 0 1 0 -5.3 0M309.4 409.8a2.65 2.65 0 1 0 5.3 0a2.65 2.65 0 1 0 -5.3 0M316.6 389.1a2.65 2.65 0 1 0 5.3 0a2.65 2.65 0 1 0 -5.3 0M318.4 346.3a2.65 2.65 0 1 0 5.3 0a2.65 2.65 0 1 0 -5.3 0M322 361.3a2.65 2.65 0 1 0 5.3 0a2.65 2.65 0 1 0 -5.3 0M313.8 395.6a2.65 2.65 0 1 0 5.3 0a2.65 2.65 0 1 0 -5.3 0M315.6 348.4a2.65 2.65 0 1 0 5.3 0a2.65 2.65 0 1 0 -5.3 0M312.7 348.4a2.65 2.65 0 1 0 5.3 0a2.65 2.65 0 1 0 -5.3 0M316.3 374.6a2.65 2.65 0 1 0 5.3 0a2.65 2.65 0 1 0 -5.3 0M315.4 410.3a2.65 2.65 0 1 0 5.3 0a2.65 2.65 0 1 0 -5.3 0M321.8 386.3a2.65 2.65 0 1 0 5.3 0a2.65 2.65 0 1 0 -5.3 0M316.3 354.6a2.65 2.65 0 1 0 5.3 0a2.65 2.65 0 1 0 -5.3 0M322.1 362.6a2.65 2.65 0 1 0 5.3 0a2.65 2.65 0 1 0 -5.3 0M320.8 355.5a2.65 2.65 0 1 0 5.3 0a2.65 2.65 0 1 0 -5.3 0M317.1 393.3a2.65 2.65 0 1 0 5.3 0a2.65 2.65 0 1 0 -5.3 0M319.9 348.8a2.65 2.65 0 1 0 5.3 0a2.65 2.65 0 1 0 -5.3 0M316.6 401a2.65 2.65 0 1 0 5.3 0a2.65 2.65 0 1 0 -5.3 0M309.3 342.6a2.65 2.65 0 1 0 5.3 0a2.65 2.65 0 1 0 -5.3 0M300.9 461.5a2.65 2.65 0 1 0 5.3 0a2.65 2.65 0 1 0 -5.3 0M302.9 459.4a2.65 2.65 0 1 0 5.3 0a2.65 2.65 0 1 0 -5.3 0M304.5 457.3a2.65 2.65 0 1 0 5.3 0a2.65 2.65 0 1 0 -5.3 0M306.3 455.3a2.65 2.65 0 1 0 5.3 0a2.65 2.65 0 1 0 -5.3 0M308.4 452.3a2.65 2.65 0 1 0 5.3 0a2.65 2.65 0 1 0 -5.3 0M309.6 449.3a2.65 2.65 0 1 0 5.3 0a2.65 2.65 0 1 0 -5.3 0M311.4 446.5a2.65 2.65 0 1 0 5.3 0a2.65 2.65 0 1 0 -5.3 0M313.5 444.3a2.65 2.65 0 1 0 5.3 0a2.65 2.65 0 1 0 -5.3 0M315.8 440.8a2.65 2.65 0 1 0 5.3 0a2.65 2.65 0 1 0 -5.3 0M316.8 438.5a2.65 2.65 0 1 0 5.3 0a2.65 2.65 0 1 0 -5.3 0M319.1 435.8a2.65 2.65 0 1 0 5.3 0a2.65 2.65 0 1 0 -5.3 0M319.8 432.6a2.65 2.65 0 1 0 5.3 0a2.65 2.65 0 1 0 -5.3 0M320.2 430.5a2.65 2.65 0 1 0 5.3 0a2.65 2.65 0 1 0 -5.3 0M321.4 427.4a2.65 2.65 0 1 0 5.3 0a2.65 2.65 0 1 0 -5.3 0M322.1 425.1a2.65 2.65 0 1 0 5.3 0a2.65 2.65 0 1 0 -5.3 0M323.4 422.1a2.65 2.65 0 1 0 5.3 0a2.65 2.65 0 1 0 -5.3 0M331.6 461.9a2.65 2.65 0 1 0 5.3 0a2.65 2.65 0 1 0 -5.3 0M333.6 461.3a2.65 2.65 0 1 0 5.3 0a2.65 2.65 0 1 0 -5.3 0M333.7 461a2.65 2.65 0 1 0 5.3 0a2.65 2.65 0 1 0 -5.3 0M333.9 460.4a2.65 2.65 0 1 0 5.3 0a2.65 2.65 0 1 0 -5.3 0M334 459.8a2.65 2.65 0 1 0 5.3 0a2.65 2.65 0 1 0 -5.3 0M335.8 458.2a2.65 2.65 0 1 0 5.3 0a2.65 2.65 0 1 0 -5.3 0M335.4 459.2a2.65 2.65 0 1 0 5.3 0a2.65 2.65 0 1 0 -5.3 0M337.2 456.9a2.65 2.65 0 1 0 5.3 0a2.65 2.65 0 1 0 -5.3 0M337.1 457.5a2.65 2.65 0 1 0 5.3 0a2.65 2.65 0 1 0 -5.3 0M338.1 456.6a2.65 2.65 0 1 0 5.3 0a2.65 2.65 0 1 0 -5.3 0M337.2 455.7a2.65 2.65 0 1 0 5.3 0a2.65 2.65 0 1 0 -5.3 0M338.9 455.9a2.65 2.65 0 1 0 5.3 0a2.65 2.65 0 1 0 -5.3 0M338.5 455.1a2.65 2.65 0 1 0 5.3 0a2.65 2.65 0 1 0 -5.3 0M340 454.6a2.65 2.65 0 1 0 5.3 0a2.65 2.65 0 1 0 -5.3 0M339.3 453.5a2.65 2.65 0 1 0 5.3 0a2.65 2.65 0 1 0 -5.3 0M340.4 453.2a2.65 2.65 0 1 0 5.3 0a2.65 2.65 0 1 0 -5.3 0M341 451.7a2.65 2.65 0 1 0 5.3 0a2.65 2.65 0 1 0 -5.3 0M342.3 451.4a2.65 2.65 0 1 0 5.3 0a2.65 2.65 0 1 0 -5.3 0M343.1 450.8a2.65 2.65 0 1 0 5.3 0a2.65 2.65 0 1 0 -5.3 0M343.2 451.2a2.65 2.65 0 1 0 5.3 0a2.65 2.65 0 1 0 -5.3 0M342.9 450.5a2.65 2.65 0 1 0 5.3 0a2.65 2.65 0 1 0 -5.3 0M343.2 450.2a2.65 2.65 0 1 0 5.3 0a2.65 2.65 0 1 0 -5.3 0M343.5 449a2.65 2.65 0 1 0 5.3 0a2.65 2.65 0 1 0 -5.3 0M344.6 447.2a2.65 2.65 0 1 0 5.3 0a2.65 2.65 0 1 0 -5.3 0M345.1 447.2a2.65 2.65 0 1 0 5.3 0a2.65 2.65 0 1 0 -5.3 0M345.5 445.7a2.65 2.65 0 1 0 5.3 0a2.65 2.65 0 1 0 -5.3 0M346.1 445.3a2.65 2.65 0 1 0 5.3 0a2.65 2.65 0 1 0 -5.3 0M347.4 444.8a2.65 2.65 0 1 0 5.3 0a2.65 2.65 0 1 0 -5.3 0M346.8 443.8a2.65 2.65 0 1 0 5.3 0a2.65 2.65 0 1 0 -5.3 0M348.2 443.2a2.65 2.65 0 1 0 5.3 0a2.65 2.65 0 1 0 -5.3 0M348 443.5a2.65 2.65 0 1 0 5.3 0a2.65 2.65 0 1 0 -5.3 0M347.9 442.7a2.65 2.65 0 1 0 5.3 0a2.65 2.65 0 1 0 -5.3 0M348.1 440.7a2.65 2.65 0 1 0 5.3 0a2.65 2.65 0 1 0 -5.3 0M348 440.6a2.65 2.65 0 1 0 5.3 0a2.65 2.65 0 1 0 -5.3 0M350.1 439.4a2.65 2.65 0 1 0 5.3 0a2.65 2.65 0 1 0 -5.3 0M349.6 439.8a2.65 2.65 0 1 0 5.3 0a2.65 2.65 0 1 0 -5.3 0M349.7 437.9a2.65 2.65 0 1 0 5.3 0a2.65 2.65 0 1 0 -5.3 0M350.6 437.7a2.65 2.65 0 1 0 5.3 0a2.65 2.65 0 1 0 -5.3 0M351.8 438a2.65 2.65 0 1 0 5.3 0a2.65 2.65 0 1 0 -5.3 0M350.8 436.6a2.65 2.65 0 1 0 5.3 0a2.65 2.65 0 1 0 -5.3 0M351.6 434.8a2.65 2.65 0 1 0 5.3 0a2.65 2.65 0 1 0 -5.3 0M352.1 435.9a2.65 2.65 0 1 0 5.3 0a2.65 2.65 0 1 0 -5.3 0M352.2 434.5a2.65 2.65 0 1 0 5.3 0a2.65 2.65 0 1 0 -5.3 0M353.4 432.7a2.65 2.65 0 1 0 5.3 0a2.65 2.65 0 1 0 -5.3 0M354.2 432.1a2.65 2.65 0 1 0 5.3 0a2.65 2.65 0 1 0 -5.3 0M353.4 432.6a2.65 2.65 0 1 0 5.3 0a2.65 2.65 0 1 0 -5.3 0M353.3 431.2a2.65 2.65 0 1 0 5.3 0a2.65 2.65 0 1 0 -5.3 0M353.9 430.7a2.65 2.65 0 1 0 5.3 0a2.65 2.65 0 1 0 -5.3 0M354.1 429.4a2.65 2.65 0 1 0 5.3 0a2.65 2.65 0 1 0 -5.3 0M354.9 428.5a2.65 2.65 0 1 0 5.3 0a2.65 2.65 0 1 0 -5.3 0M355 428a2.65 2.65 0 1 0 5.3 0a2.65 2.65 0 1 0 -5.3 0M356.3 427.2a2.65 2.65 0 1 0 5.3 0a2.65 2.65 0 1 0 -5.3 0M357.3 427a2.65 2.65 0 1 0 5.3 0a2.65 2.65 0 1 0 -5.3 0M356.5 425.9a2.65 2.65 0 1 0 5.3 0a2.65 2.65 0 1 0 -5.3 0M358 424.7a2.65 2.65 0 1 0 5.3 0a2.65 2.65 0 1 0 -5.3 0M358.1 424.1a2.65 2.65 0 1 0 5.3 0a2.65 2.65 0 1 0 -5.3 0M358.9 423.9a2.65 2.65 0 1 0 5.3 0a2.65 2.65 0 1 0 -5.3 0M358.5 424.1a2.65 2.65 0 1 0 5.3 0a2.65 2.65 0 1 0 -5.3 0M357.9 421.7a2.65 2.65 0 1 0 5.3 0a2.65 2.65 0 1 0 -5.3 0M359.4 422a2.65 2.65 0 1 0 5.3 0a2.65 2.65 0 1 0 -5.3 0M334.1 461.2a2.65 2.65 0 1 0 5.3 0a2.65 2.65 0 1 0 -5.3 0M334.7 460.2a2.65 2.65 0 1 0 5.3 0a2.65 2.65 0 1 0 -5.3 0M335.5 459.4a2.65 2.65 0 1 0 5.3 0a2.65 2.65 0 1 0 -5.3 0M336.6 458.5a2.65 2.65 0 1 0 5.3 0a2.65 2.65 0 1 0 -5.3 0M337.1 458a2.65 2.65 0 1 0 5.3 0a2.65 2.65 0 1 0 -5.3 0M337.7 457.2a2.65 2.65 0 1 0 5.3 0a2.65 2.65 0 1 0 -5.3 0M339.1 455.6a2.65 2.65 0 1 0 5.3 0a2.65 2.65 0 1 0 -5.3 0M339.5 455a2.65 2.65 0 1 0 5.3 0a2.65 2.65 0 1 0 -5.3 0M340.8 454.4a2.65 2.65 0 1 0 5.3 0a2.65 2.65 0 1 0 -5.3 0M341.5 453.1a2.65 2.65 0 1 0 5.3 0a2.65 2.65 0 1 0 -5.3 0M343 452a2.65 2.65 0 1 0 5.3 0a2.65 2.65 0 1 0 -5.3 0M344 451.8a2.65 2.65 0 1 0 5.3 0a2.65 2.65 0 1 0 -5.3 0M344.9 451a2.65 2.65 0 1 0 5.3 0a2.65 2.65 0 1 0 -5.3 0M344.9 449.9a2.65 2.65 0 1 0 5.3 0a2.65 2.65 0 1 0 -5.3 0M345.9 448a2.65 2.65 0 1 0 5.3 0a2.65 2.65 0 1 0 -5.3 0M347 447.5a2.65 2.65 0 1 0 5.3 0a2.65 2.65 0 1 0 -5.3 0M347.3 446.3a2.65 2.65 0 1 0 5.3 0a2.65 2.65 0 1 0 -5.3 0M347.1 445.6a2.65 2.65 0 1 0 5.3 0a2.65 2.65 0 1 0 -5.3 0M347.8 443.7a2.65 2.65 0 1 0 5.3 0a2.65 2.65 0 1 0 -5.3 0M348.9 442.6a2.65 2.65 0 1 0 5.3 0a2.65 2.65 0 1 0 -5.3 0M349.3 442.1a2.65 2.65 0 1 0 5.3 0a2.65 2.65 0 1 0 -5.3 0M349.5 440.9a2.65 2.65 0 1 0 5.3 0a2.65 2.65 0 1 0 -5.3 0M350.1 439.6a2.65 2.65 0 1 0 5.3 0a2.65 2.65 0 1 0 -5.3 0M351.4 438.8a2.65 2.65 0 1 0 5.3 0a2.65 2.65 0 1 0 -5.3 0M351.3 437.1a2.65 2.65 0 1 0 5.3 0a2.65 2.65 0 1 0 -5.3 0M353 436.2a2.65 2.65 0 1 0 5.3 0a2.65 2.65 0 1 0 -5.3 0M352.9 435.1a2.65 2.65 0 1 0 5.3 0a2.65 2.65 0 1 0 -5.3 0M353.9 434.5a2.65 2.65 0 1 0 5.3 0a2.65 2.65 0 1 0 -5.3 0M354.4 433a2.65 2.65 0 1 0 5.3 0a2.65 2.65 0 1 0 -5.3 0M354.9 432a2.65 2.65 0 1 0 5.3 0a2.65 2.65 0 1 0 -5.3 0M355.1 431.4a2.65 2.65 0 1 0 5.3 0a2.65 2.65 0 1 0 -5.3 0M356.6 430.1a2.65 2.65 0 1 0 5.3 0a2.65 2.65 0 1 0 -5.3 0M357.2 428.6a2.65 2.65 0 1 0 5.3 0a2.65 2.65 0 1 0 -5.3 0M357.7 427.3a2.65 2.65 0 1 0 5.3 0a2.65 2.65 0 1 0 -5.3 0M359.5 421.2a2.65 2.65 0 1 0 5.3 0a2.65 2.65 0 1 0 -5.3 0M360 420.3a2.65 2.65 0 1 0 5.3 0a2.65 2.65 0 1 0 -5.3 0M360.4 418.9a2.65 2.65 0 1 0 5.3 0a2.65 2.65 0 1 0 -5.3 0M360.7 418.1a2.65 2.65 0 1 0 5.3 0a2.65 2.65 0 1 0 -5.3 0M360.8 417.1a2.65 2.65 0 1 0 5.3 0a2.65 2.65 0 1 0 -5.3 0M361.5 416.5a2.65 2.65 0 1 0 5.3 0a2.65 2.65 0 1 0 -5.3 0M361.9 415.4a2.65 2.65 0 1 0 5.3 0a2.65 2.65 0 1 0 -5.3 0M361.8 414.1a2.65 2.65 0 1 0 5.3 0a2.65 2.65 0 1 0 -5.3 0M362.5 413.1a2.65 2.65 0 1 0 5.3 0a2.65 2.65 0 1 0 -5.3 0M362.7 412.1a2.65 2.65 0 1 0 5.3 0a2.65 2.65 0 1 0 -5.3 0M363 411.6a2.65 2.65 0 1 0 5.3 0a2.65 2.65 0 1 0 -5.3 0M363.4 410.7a2.65 2.65 0 1 0 5.3 0a2.65 2.65 0 1 0 -5.3 0M363.9 409.8a2.65 2.65 0 1 0 5.3 0a2.65 2.65 0 1 0 -5.3 0M364.2 408.4a2.65 2.65 0 1 0 5.3 0a2.65 2.65 0 1 0 -5.3 0M364.7 407.3a2.65 2.65 0 1 0 5.3 0a2.65 2.65 0 1 0 -5.3 0M364.9 406.5a2.65 2.65 0 1 0 5.3 0a2.65 2.65 0 1 0 -5.3 0M364.9 405.9a2.65 2.65 0 1 0 5.3 0a2.65 2.65 0 1 0 -5.3 0M365.4 404.3a2.65 2.65 0 1 0 5.3 0a2.65 2.65 0 1 0 -5.3 0M366 403.5a2.65 2.65 0 1 0 5.3 0a2.65 2.65 0 1 0 -5.3 0M365.8 402.4a2.65 2.65 0 1 0 5.3 0a2.65 2.65 0 1 0 -5.3 0M365.9 401.9a2.65 2.65 0 1 0 5.3 0a2.65 2.65 0 1 0 -5.3 0M366.5 400.8a2.65 2.65 0 1 0 5.3 0a2.65 2.65 0 1 0 -5.3 0M366.5 399.6a2.65 2.65 0 1 0 5.3 0a2.65 2.65 0 1 0 -5.3 0M367.3 398.7a2.65 2.65 0 1 0 5.3 0a2.65 2.65 0 1 0 -5.3 0M367.5 398.1a2.65 2.65 0 1 0 5.3 0a2.65 2.65 0 1 0 -5.3 0M367.2 397.1a2.65 2.65 0 1 0 5.3 0a2.65 2.65 0 1 0 -5.3 0M367.3 396a2.65 2.65 0 1 0 5.3 0a2.65 2.65 0 1 0 -5.3 0M368.1 395a2.65 2.65 0 1 0 5.3 0a2.65 2.65 0 1 0 -5.3 0M368.2 394.1a2.65 2.65 0 1 0 5.3 0a2.65 2.65 0 1 0 -5.3 0M368.1 392.9a2.65 2.65 0 1 0 5.3 0a2.65 2.65 0 1 0 -5.3 0M368.5 391.9a2.65 2.65 0 1 0 5.3 0a2.65 2.65 0 1 0 -5.3 0M368.6 391.1a2.65 2.65 0 1 0 5.3 0a2.65 2.65 0 1 0 -5.3 0M369.2 390.2a2.65 2.65 0 1 0 5.3 0a2.65 2.65 0 1 0 -5.3 0M369.4 389.1a2.65 2.65 0 1 0 5.3 0a2.65 2.65 0 1 0 -5.3 0M369.9 388.2a2.65 2.65 0 1 0 5.3 0a2.65 2.65 0 1 0 -5.3 0M369.9 386.9a2.65 2.65 0 1 0 5.3 0a2.65 2.65 0 1 0 -5.3 0M370.4 386a2.65 2.65 0 1 0 5.3 0a2.65 2.65 0 1 0 -5.3 0M370.1 385a2.65 2.65 0 1 0 5.3 0a2.65 2.65 0 1 0 -5.3 0M370.7 384.4a2.65 2.65 0 1 0 5.3 0a2.65 2.65 0 1 0 -5.3 0M370.9 383.3a2.65 2.65 0 1 0 5.3 0a2.65 2.65 0 1 0 -5.3 0M371.4 382.4a2.65 2.65 0 1 0 5.3 0a2.65 2.65 0 1 0 -5.3 0M371.3 381.2a2.65 2.65 0 1 0 5.3 0a2.65 2.65 0 1 0 -5.3 0M371.8 380.1a2.65 2.65 0 1 0 5.3 0a2.65 2.65 0 1 0 -5.3 0M371.6 379.4a2.65 2.65 0 1 0 5.3 0a2.65 2.65 0 1 0 -5.3 0M372.3 378.1a2.65 2.65 0 1 0 5.3 0a2.65 2.65 0 1 0 -5.3 0M372.5 377.6a2.65 2.65 0 1 0 5.3 0a2.65 2.65 0 1 0 -5.3 0M372.3 376.1a2.65 2.65 0 1 0 5.3 0a2.65 2.65 0 1 0 -5.3 0M372.8 375.3a2.65 2.65 0 1 0 5.3 0a2.65 2.65 0 1 0 -5.3 0M373.4 374.8a2.65 2.65 0 1 0 5.3 0a2.65 2.65 0 1 0 -5.3 0M373.3 373.7a2.65 2.65 0 1 0 5.3 0a2.65 2.65 0 1 0 -5.3 0M373.7 372.3a2.65 2.65 0 1 0 5.3 0a2.65 2.65 0 1 0 -5.3 0M374.1 371.3a2.65 2.65 0 1 0 5.3 0a2.65 2.65 0 1 0 -5.3 0M373.8 370.5a2.65 2.65 0 1 0 5.3 0a2.65 2.65 0 1 0 -5.3 0M374 369.6a2.65 2.65 0 1 0 5.3 0a2.65 2.65 0 1 0 -5.3 0M374.5 368.9a2.65 2.65 0 1 0 5.3 0a2.65 2.65 0 1 0 -5.3 0M374.8 367.9a2.65 2.65 0 1 0 5.3 0a2.65 2.65 0 1 0 -5.3 0M375.3 366.7a2.65 2.65 0 1 0 5.3 0a2.65 2.65 0 1 0 -5.3 0M375.3 365.6a2.65 2.65 0 1 0 5.3 0a2.65 2.65 0 1 0 -5.3 0M375.7 364.7a2.65 2.65 0 1 0 5.3 0a2.65 2.65 0 1 0 -5.3 0M376.1 363.8a2.65 2.65 0 1 0 5.3 0a2.65 2.65 0 1 0 -5.3 0M376.2 362.9a2.65 2.65 0 1 0 5.3 0a2.65 2.65 0 1 0 -5.3 0M377 361.7a2.65 2.65 0 1 0 5.3 0a2.65 2.65 0 1 0 -5.3 0M376.8 360.6a2.65 2.65 0 1 0 5.3 0a2.65 2.65 0 1 0 -5.3 0M376.9 359.7a2.65 2.65 0 1 0 5.3 0a2.65 2.65 0 1 0 -5.3 0M377.5 359.2a2.65 2.65 0 1 0 5.3 0a2.65 2.65 0 1 0 -5.3 0M377.9 358.4a2.65 2.65 0 1 0 5.3 0a2.65 2.65 0 1 0 -5.3 0M378.3 357.2a2.65 2.65 0 1 0 5.3 0a2.65 2.65 0 1 0 -5.3 0M378.4 355.8a2.65 2.65 0 1 0 5.3 0a2.65 2.65 0 1 0 -5.3 0M378.6 355a2.65 2.65 0 1 0 5.3 0a2.65 2.65 0 1 0 -5.3 0M379.1 353.9a2.65 2.65 0 1 0 5.3 0a2.65 2.65 0 1 0 -5.3 0M379.3 353.2a2.65 2.65 0 1 0 5.3 0a2.65 2.65 0 1 0 -5.3 0M379.6 352.2a2.65 2.65 0 1 0 5.3 0a2.65 2.65 0 1 0 -5.3 0M379.6 351.5a2.65 2.65 0 1 0 5.3 0a2.65 2.65 0 1 0 -5.3 0M380.4 350.4a2.65 2.65 0 1 0 5.3 0a2.65 2.65 0 1 0 -5.3 0M380.2 349.5a2.65 2.65 0 1 0 5.3 0a2.65 2.65 0 1 0 -5.3 0M381 348.8a2.65 2.65 0 1 0 5.3 0a2.65 2.65 0 1 0 -5.3 0M381.2 347.2a2.65 2.65 0 1 0 5.3 0a2.65 2.65 0 1 0 -5.3 0M381.5 346.6a2.65 2.65 0 1 0 5.3 0a2.65 2.65 0 1 0 -5.3 0M381.3 345.8a2.65 2.65 0 1 0 5.3 0a2.65 2.65 0 1 0 -5.3 0M381.8 344.8a2.65 2.65 0 1 0 5.3 0a2.65 2.65 0 1 0 -5.3 0M381.6 343.6a2.65 2.65 0 1 0 5.3 0a2.65 2.65 0 1 0 -5.3 0M381.9 342.4a2.65 2.65 0 1 0 5.3 0a2.65 2.65 0 1 0 -5.3 0M382.3 341.6a2.65 2.65 0 1 0 5.3 0a2.65 2.65 0 1 0 -5.3 0M382.2 340.5a2.65 2.65 0 1 0 5.3 0a2.65 2.65 0 1 0 -5.3 0M382.8 339.5a2.65 2.65 0 1 0 5.3 0a2.65 2.65 0 1 0 -5.3 0M383 338.5a2.65 2.65 0 1 0 5.3 0a2.65 2.65 0 1 0 -5.3 0M383.2 337.2a2.65 2.65 0 1 0 5.3 0a2.65 2.65 0 1 0 -5.3 0M383.1 336.5a2.65 2.65 0 1 0 5.3 0a2.65 2.65 0 1 0 -5.3 0M383.4 335.8a2.65 2.65 0 1 0 5.3 0a2.65 2.65 0 1 0 -5.3 0M383.5 334.5a2.65 2.65 0 1 0 5.3 0a2.65 2.65 0 1 0 -5.3 0M383.7 333.5a2.65 2.65 0 1 0 5.3 0a2.65 2.65 0 1 0 -5.3 0M384 332.8a2.65 2.65 0 1 0 5.3 0a2.65 2.65 0 1 0 -5.3 0M383.7 331.4a2.65 2.65 0 1 0 5.3 0a2.65 2.65 0 1 0 -5.3 0M384.5 330.2a2.65 2.65 0 1 0 5.3 0a2.65 2.65 0 1 0 -5.3 0M384.6 329.2a2.65 2.65 0 1 0 5.3 0a2.65 2.65 0 1 0 -5.3 0M384.7 328.7a2.65 2.65 0 1 0 5.3 0a2.65 2.65 0 1 0 -5.3 0M384.6 327.4a2.65 2.65 0 1 0 5.3 0a2.65 2.65 0 1 0 -5.3 0M384.7 326.6a2.65 2.65 0 1 0 5.3 0a2.65 2.65 0 1 0 -5.3 0M385.1 325.6a2.65 2.65 0 1 0 5.3 0a2.65 2.65 0 1 0 -5.3 0M385.2 324.6a2.65 2.65 0 1 0 5.3 0a2.65 2.65 0 1 0 -5.3 0M385.8 323.7a2.65 2.65 0 1 0 5.3 0a2.65 2.65 0 1 0 -5.3 0M386 322.3a2.65 2.65 0 1 0 5.3 0a2.65 2.65 0 1 0 -5.3 0M387.2 316a2.65 2.65 0 1 0 5.3 0a2.65 2.65 0 1 0 -5.3 0M387.4 314.8a2.65 2.65 0 1 0 5.3 0a2.65 2.65 0 1 0 -5.3 0M387.6 313.4a2.65 2.65 0 1 0 5.3 0a2.65 2.65 0 1 0 -5.3 0M388.1 312.2a2.65 2.65 0 1 0 5.3 0a2.65 2.65 0 1 0 -5.3 0M388.1 310.6a2.65 2.65 0 1 0 5.3 0a2.65 2.65 0 1 0 -5.3 0M388.6 309.5a2.65 2.65 0 1 0 5.3 0a2.65 2.65 0 1 0 -5.3 0M388.9 308a2.65 2.65 0 1 0 5.3 0a2.65 2.65 0 1 0 -5.3 0M389.7 302.1a2.65 2.65 0 1 0 5.3 0a2.65 2.65 0 1 0 -5.3 0M390.1 300.8a2.65 2.65 0 1 0 5.3 0a2.65 2.65 0 1 0 -5.3 0M390.5 299.3a2.65 2.65 0 1 0 5.3 0a2.65 2.65 0 1 0 -5.3 0M390.5 298.1a2.65 2.65 0 1 0 5.3 0a2.65 2.65 0 1 0 -5.3 0M390.7 296.9a2.65 2.65 0 1 0 5.3 0a2.65 2.65 0 1 0 -5.3 0M391.2 295.8a2.65 2.65 0 1 0 5.3 0a2.65 2.65 0 1 0 -5.3 0M391.4 294.5a2.65 2.65 0 1 0 5.3 0a2.65 2.65 0 1 0 -5.3 0M392.4 288.1a2.65 2.65 0 1 0 5.3 0a2.65 2.65 0 1 0 -5.3 0M392.8 286.5a2.65 2.65 0 1 0 5.3 0a2.65 2.65 0 1 0 -5.3 0M393.2 285.3a2.65 2.65 0 1 0 5.3 0a2.65 2.65 0 1 0 -5.3 0M393.2 284a2.65 2.65 0 1 0 5.3 0a2.65 2.65 0 1 0 -5.3 0M393.7 282.3a2.65 2.65 0 1 0 5.3 0a2.65 2.65 0 1 0 -5.3 0M393.9 281a2.65 2.65 0 1 0 5.3 0a2.65 2.65 0 1 0 -5.3 0M396.8 267.9a2.65 2.65 0 1 0 5.3 0a2.65 2.65 0 1 0 -5.3 0M397 267.8a2.65 2.65 0 1 0 5.3 0a2.65 2.65 0 1 0 -5.3 0M398.6 259.5a2.65 2.65 0 1 0 5.3 0a2.65 2.65 0 1 0 -5.3 0M398.7 258.6a2.65 2.65 0 1 0 5.3 0a2.65 2.65 0 1 0 -5.3 0M398.8 257.4a2.65 2.65 0 1 0 5.3 0a2.65 2.65 0 1 0 -5.3 0M399 256a2.65 2.65 0 1 0 5.3 0a2.65 2.65 0 1 0 -5.3 0M400.2 252.3a2.65 2.65 0 1 0 5.3 0a2.65 2.65 0 1 0 -5.3 0M400.1 252.4a2.65 2.65 0 1 0 5.3 0a2.65 2.65 0 1 0 -5.3 0M401.5 244.9a2.65 2.65 0 1 0 5.3 0a2.65 2.65 0 1 0 -5.3 0M401.4 244.7a2.65 2.65 0 1 0 5.3 0a2.65 2.65 0 1 0 -5.3 0M403.7 231.8a2.65 2.65 0 1 0 5.3 0a2.65 2.65 0 1 0 -5.3 0M403.8 231.7a2.65 2.65 0 1 0 5.3 0a2.65 2.65 0 1 0 -5.3 0M405.4 226.1a2.65 2.65 0 1 0 5.3 0a2.65 2.65 0 1 0 -5.3 0M405.4 226a2.65 2.65 0 1 0 5.3 0a2.65 2.65 0 1 0 -5.3 0M406.3 219.4a2.65 2.65 0 1 0 5.3 0a2.65 2.65 0 1 0 -5.3 0M406.2 219.5a2.65 2.65 0 1 0 5.3 0a2.65 2.65 0 1 0 -5.3 0M408.6 203.6a2.65 2.65 0 1 0 5.3 0a2.65 2.65 0 1 0 -5.3 0M408.9 202.5a2.65 2.65 0 1 0 5.3 0a2.65 2.65 0 1 0 -5.3 0M409.5 201.1a2.65 2.65 0 1 0 5.3 0a2.65 2.65 0 1 0 -5.3 0M411.2 190.9a2.65 2.65 0 1 0 5.3 0a2.65 2.65 0 1 0 -5.3 0M411.1 191a2.65 2.65 0 1 0 5.3 0a2.65 2.65 0 1 0 -5.3 0M330.1 230.6a2.65 2.65 0 1 0 5.3 0a2.65 2.65 0 1 0 -5.3 0M329.3 241.6a2.65 2.65 0 1 0 5.3 0a2.65 2.65 0 1 0 -5.3 0M337.2 246.3a2.65 2.65 0 1 0 5.3 0a2.65 2.65 0 1 0 -5.3 0M334.8 250.2a2.65 2.65 0 1 0 5.3 0a2.65 2.65 0 1 0 -5.3 0M340.3 251.8a2.65 2.65 0 1 0 5.3 0a2.65 2.65 0 1 0 -5.3 0M325.7 259.6a2.65 2.65 0 1 0 5.3 0a2.65 2.65 0 1 0 -5.3 0M337.2 263.6a2.65 2.65 0 1 0 5.3 0a2.65 2.65 0 1 0 -5.3 0M333.3 273a2.65 2.65 0 1 0 5.3 0a2.65 2.65 0 1 0 -5.3 0M334.8 276.9a2.65 2.65 0 1 0 5.3 0a2.65 2.65 0 1 0 -5.3 0M344.2 278.9a2.65 2.65 0 1 0 5.3 0a2.65 2.65 0 1 0 -5.3 0M321.5 278.2a2.65 2.65 0 1 0 5.3 0a2.65 2.65 0 1 0 -5.3 0M329.8 284.7a2.65 2.65 0 1 0 5.3 0a2.65 2.65 0 1 0 -5.3 0M325.9 288.8a2.65 2.65 0 1 0 5.3 0a2.65 2.65 0 1 0 -5.3 0M321.2 293.8a2.65 2.65 0 1 0 5.3 0a2.65 2.65 0 1 0 -5.3 0M327.8 297.3a2.65 2.65 0 1 0 5.3 0a2.65 2.65 0 1 0 -5.3 0M327.8 300.4a2.65 2.65 0 1 0 5.3 0a2.65 2.65 0 1 0 -5.3 0M354.4 293.8a2.65 2.65 0 1 0 5.3 0a2.65 2.65 0 1 0 -5.3 0M352.1 236.1a2.65 2.65 0 1 0 5.3 0a2.65 2.65 0 1 0 -5.3 0M353.7 228.2a2.65 2.65 0 1 0 5.3 0a2.65 2.65 0 1 0 -5.3 0M352.9 258.9a2.65 2.65 0 1 0 5.3 0a2.65 2.65 0 1 0 -5.3 0M321.5 303.6a2.65 2.65 0 1 0 5.3 0a2.65 2.65 0 1 0 -5.3 0M317.6 308.3a2.65 2.65 0 1 0 5.3 0a2.65 2.65 0 1 0 -5.3 0M323.1 306.7a2.65 2.65 0 1 0 5.3 0a2.65 2.65 0 1 0 -5.3 0M314.4 313a2.65 2.65 0 1 0 5.3 0a2.65 2.65 0 1 0 -5.3 0M316 319.3a2.65 2.65 0 1 0 5.3 0a2.65 2.65 0 1 0 -5.3 0M319.1 321.6a2.65 2.65 0 1 0 5.3 0a2.65 2.65 0 1 0 -5.3 0M329.3 321.2a2.65 2.65 0 1 0 5.3 0a2.65 2.65 0 1 0 -5.3 0M336.7 317.7a2.65 2.65 0 1 0 5.3 0a2.65 2.65 0 1 0 -5.3 0M340.8 323.7a2.65 2.65 0 1 0 5.3 0a2.65 2.65 0 1 0 -5.3 0M312.1 330.3a2.65 2.65 0 1 0 5.3 0a2.65 2.65 0 1 0 -5.3 0M320.7 330.3a2.65 2.65 0 1 0 5.3 0a2.65 2.65 0 1 0 -5.3 0M326.2 332.6a2.65 2.65 0 1 0 5.3 0a2.65 2.65 0 1 0 -5.3 0M314.4 335a2.65 2.65 0 1 0 5.3 0a2.65 2.65 0 1 0 -5.3 0M310.5 340.5a2.65 2.65 0 1 0 5.3 0a2.65 2.65 0 1 0 -5.3 0M322.3 338.1a2.65 2.65 0 1 0 5.3 0a2.65 2.65 0 1 0 -5.3 0M325.4 341.2a2.65 2.65 0 1 0 5.3 0a2.65 2.65 0 1 0 -5.3 0M320.7 347.5a2.65 2.65 0 1 0 5.3 0a2.65 2.65 0 1 0 -5.3 0M323.1 351.4a2.65 2.65 0 1 0 5.3 0a2.65 2.65 0 1 0 -5.3 0M335.6 348.3a2.65 2.65 0 1 0 5.3 0a2.65 2.65 0 1 0 -5.3 0M334 356.2a2.65 2.65 0 1 0 5.3 0a2.65 2.65 0 1 0 -5.3 0M326.7 364a2.65 2.65 0 1 0 5.3 0a2.65 2.65 0 1 0 -5.3 0M324.6 372.6a2.65 2.65 0 1 0 5.3 0a2.65 2.65 0 1 0 -5.3 0M322.3 382a2.65 2.65 0 1 0 5.3 0a2.65 2.65 0 1 0 -5.3 0M326.2 381.3a2.65 2.65 0 1 0 5.3 0a2.65 2.65 0 1 0 -5.3 0M334.8 383.3a2.65 2.65 0 1 0 5.3 0a2.65 2.65 0 1 0 -5.3 0M320.7 389.9a2.65 2.65 0 1 0 5.3 0a2.65 2.65 0 1 0 -5.3 0M321.5 398.5a2.65 2.65 0 1 0 5.3 0a2.65 2.65 0 1 0 -5.3 0M330.1 401.7a2.65 2.65 0 1 0 5.3 0a2.65 2.65 0 1 0 -5.3 0M329.3 405.6a2.65 2.65 0 1 0 5.3 0a2.65 2.65 0 1 0 -5.3 0M319.1 404a2.65 2.65 0 1 0 5.3 0a2.65 2.65 0 1 0 -5.3 0M314.4 410.3a2.65 2.65 0 1 0 5.3 0a2.65 2.65 0 1 0 -5.3 0M323.8 419.7a2.65 2.65 0 1 0 5.3 0a2.65 2.65 0 1 0 -5.3 0M322.3 426a2.65 2.65 0 1 0 5.3 0a2.65 2.65 0 1 0 -5.3 0M320.7 430.7a2.65 2.65 0 1 0 5.3 0a2.65 2.65 0 1 0 -5.3 0M319.1 435.4a2.65 2.65 0 1 0 5.3 0a2.65 2.65 0 1 0 -5.3 0M312.9 416.6a2.65 2.65 0 1 0 5.3 0a2.65 2.65 0 1 0 -5.3 0M311.3 422.8a2.65 2.65 0 1 0 5.3 0a2.65 2.65 0 1 0 -5.3 0M314.4 426a2.65 2.65 0 1 0 5.3 0a2.65 2.65 0 1 0 -5.3 0M430.7 84.5a2.65 2.65 0 1 0 5.3 0a2.65 2.65 0 1 0 -5.3 0M428.7 94.1a2.65 2.65 0 1 0 5.3 0a2.65 2.65 0 1 0 -5.3 0M425.6 111.4a2.65 2.65 0 1 0 5.3 0a2.65 2.65 0 1 0 -5.3 0M351.8 128.3a2.65 2.65 0 1 0 5.3 0a2.65 2.65 0 1 0 -5.3 0M349.4 131.1a2.65 2.65 0 1 0 5.3 0a2.65 2.65 0 1 0 -5.3 0M354.9 132.5a2.65 2.65 0 1 0 5.3 0a2.65 2.65 0 1 0 -5.3 0M352.1 155.3a2.65 2.65 0 1 0 5.3 0a2.65 2.65 0 1 0 -5.3 0M418 154.7a2.65 2.65 0 1 0 5.3 0a2.65 2.65 0 1 0 -5.3 0M346.2 168.3a2.65 2.65 0 1 0 5.3 0a2.65 2.65 0 1 0 -5.3 0M351.8 169.9a2.65 2.65 0 1 0 5.3 0a2.65 2.65 0 1 0 -5.3 0M414.9 171.9a2.65 2.65 0 1 0 5.3 0a2.65 2.65 0 1 0 -5.3 0M342.8 178.1a2.65 2.65 0 1 0 5.3 0a2.65 2.65 0 1 0 -5.3 0M339.2 186.4a2.65 2.65 0 1 0 5.3 0a2.65 2.65 0 1 0 -5.3 0M339.2 191.1a2.65 2.65 0 1 0 5.3 0a2.65 2.65 0 1 0 -5.3 0M411.1 191.1a2.65 2.65 0 1 0 5.3 0a2.65 2.65 0 1 0 -5.3 0M409.1 202.1a2.65 2.65 0 1 0 5.3 0a2.65 2.65 0 1 0 -5.3 0M408.6 204.7a2.65 2.65 0 1 0 5.3 0a2.65 2.65 0 1 0 -5.3 0M330.2 230.6a2.65 2.65 0 1 0 5.3 0a2.65 2.65 0 1 0 -5.3 0M353.8 228.4a2.65 2.65 0 1 0 5.3 0a2.65 2.65 0 1 0 -5.3 0M352.2 236.1a2.65 2.65 0 1 0 5.3 0a2.65 2.65 0 1 0 -5.3 0M406.2 219.7a2.65 2.65 0 1 0 5.3 0a2.65 2.65 0 1 0 -5.3 0M404.8 226.1a2.65 2.65 0 1 0 5.3 0a2.65 2.65 0 1 0 -5.3 0M403.9 231.6a2.65 2.65 0 1 0 5.3 0a2.65 2.65 0 1 0 -5.3 0M329.2 241.6a2.65 2.65 0 1 0 5.3 0a2.65 2.65 0 1 0 -5.3 0M336.9 246a2.65 2.65 0 1 0 5.3 0a2.65 2.65 0 1 0 -5.3 0M334 250.7a2.65 2.65 0 1 0 5.3 0a2.65 2.65 0 1 0 -5.3 0M340.5 252a2.65 2.65 0 1 0 5.3 0a2.65 2.65 0 1 0 -5.3 0M401.5 244.8a2.65 2.65 0 1 0 5.3 0a2.65 2.65 0 1 0 -5.3 0M400 252.3a2.65 2.65 0 1 0 5.3 0a2.65 2.65 0 1 0 -5.3 0M398.4 258.6a2.65 2.65 0 1 0 5.3 0a2.65 2.65 0 1 0 -5.3 0M397.8 262.2a2.65 2.65 0 1 0 5.3 0a2.65 2.65 0 1 0 -5.3 0M325.9 259.7a2.65 2.65 0 1 0 5.3 0a2.65 2.65 0 1 0 -5.3 0M336.9 263.8a2.65 2.65 0 1 0 5.3 0a2.65 2.65 0 1 0 -5.3 0M353.4 259a2.65 2.65 0 1 0 5.3 0a2.65 2.65 0 1 0 -5.3 0M397 268a2.65 2.65 0 1 0 5.3 0a2.65 2.65 0 1 0 -5.3 0M332.9 272.7a2.65 2.65 0 1 0 5.3 0a2.65 2.65 0 1 0 -5.3 0M334.5 276.8a2.65 2.65 0 1 0 5.3 0a2.65 2.65 0 1 0 -5.3 0M321.2 278.5a2.65 2.65 0 1 0 5.3 0a2.65 2.65 0 1 0 -5.3 0M344.4 279a2.65 2.65 0 1 0 5.3 0a2.65 2.65 0 1 0 -5.3 0M330 284.8a2.65 2.65 0 1 0 5.3 0a2.65 2.65 0 1 0 -5.3 0M325.9 288.9a2.65 2.65 0 1 0 5.3 0a2.65 2.65 0 1 0 -5.3 0M321.2 293.9a2.65 2.65 0 1 0 5.3 0a2.65 2.65 0 1 0 -5.3 0M327.4 296.6a2.65 2.65 0 1 0 5.3 0a2.65 2.65 0 1 0 -5.3 0M354.4 293.9a2.65 2.65 0 1 0 5.3 0a2.65 2.65 0 1 0 -5.3 0M394.2 282.1a2.65 2.65 0 1 0 5.3 0a2.65 2.65 0 1 0 -5.3 0M392.6 288.4a2.65 2.65 0 1 0 5.3 0a2.65 2.65 0 1 0 -5.3 0M391 296.2a2.65 2.65 0 1 0 5.3 0a2.65 2.65 0 1 0 -5.3 0" fill="#F8766D"/>
<path d="M155.3 377.6a2.65 2.65 0 1 0 5.3 0a2.65 2.65 0 1 0 -5.3 0M156.5 380.6a2.65 2.65 0 1 0 5.3 0a2.65 2.65 0 1 0 -5.3 0M158.4 389.9a2.65 2.65 0 1 0 5.3 0a2.65 2.65 0 1 0 -5.3 0M158.4 391.4a2.65 2.65 0 1 0 5.3 0a2.65 2.65 0 1 0 -5.3 0M158.9 392.7a2.65 2.65 0 1 0 5.3 0a2.65 2.65 0 1 0 -5.3 0M159.3 393.5a2.65 2.65 0 1 0 5.3 0a2.65 2.65 0 1 0 -5.3 0M160.1 395.4a2.65 2.65 0 1 0 5.3 0a2.65 2.65 0 1 0 -5.3 0M160.2 396a2.65 2.65 0 1 0 5.3 0a2.65 2.65 0 1 0 -5.3 0M161.1 397.9a2.65 2.65 0 1 0 5.3 0a2.65 2.65 0 1 0 -5.3 0M161.5 398.5a2.65 2.65 0 1 0 5.3 0a2.65 2.65 0 1 0 -5.3 0M162.3 399.3a2.65 2.65 0 1 0 5.3 0a2.65 2.65 0 1 0 -5.3 0M162.6 400.7a2.65 2.65 0 1 0 5.3 0a2.65 2.65 0 1 0 -5.3 0M162.3 401.7a2.65 2.65 0 1 0 5.3 0a2.65 2.65 0 1 0 -5.3 0M162.9 403.5a2.65 2.65 0 1 0 5.3 0a2.65 2.65 0 1 0 -5.3 0M163.2 404.5a2.65 2.65 0 1 0 5.3 0a2.65 2.65 0 1 0 -5.3 0M164.1 405.4a2.65 2.65 0 1 0 5.3 0a2.65 2.65 0 1 0 -5.3 0M164.4 406.3a2.65 2.65 0 1 0 5.3 0a2.65 2.65 0 1 0 -5.3 0M164.3 407.6a2.65 2.65 0 1 0 5.3 0a2.65 2.65 0 1 0 -5.3 0M165.4 408.9a2.65 2.65 0 1 0 5.3 0a2.65 2.65 0 1 0 -5.3 0M165.4 410.3a2.65 2.65 0 1 0 5.3 0a2.65 2.65 0 1 0 -5.3 0M166 411.1a2.65 2.65 0 1 0 5.3 0a2.65 2.65 0 1 0 -5.3 0M166.7 412.7a2.65 2.65 0 1 0 5.3 0a2.65 2.65 0 1 0 -5.3 0M166.6 413.7a2.65 2.65 0 1 0 5.3 0a2.65 2.65 0 1 0 -5.3 0M167.3 415.2a2.65 2.65 0 1 0 5.3 0a2.65 2.65 0 1 0 -5.3 0M168 415.7a2.65 2.65 0 1 0 5.3 0a2.65 2.65 0 1 0 -5.3 0M168.8 416.7a2.65 2.65 0 1 0 5.3 0a2.65 2.65 0 1 0 -5.3 0M168.7 418.5a2.65 2.65 0 1 0 5.3 0a2.65 2.65 0 1 0 -5.3 0M169 419.3a2.65 2.65 0 1 0 5.3 0a2.65 2.65 0 1 0 -5.3 0M169.4 420.6a2.65 2.65 0 1 0 5.3 0a2.65 2.65 0 1 0 -5.3 0M170.6 421.7a2.65 2.65 0 1 0 5.3 0a2.65 2.65 0 1 0 -5.3 0M171.3 422.5a2.65 2.65 0 1 0 5.3 0a2.65 2.65 0 1 0 -5.3 0M171.6 424a2.65 2.65 0 1 0 5.3 0a2.65 2.65 0 1 0 -5.3 0M172 425a2.65 2.65 0 1 0 5.3 0a2.65 2.65 0 1 0 -5.3 0M172.8 426.6a2.65 2.65 0 1 0 5.3 0a2.65 2.65 0 1 0 -5.3 0M173 427.4a2.65 2.65 0 1 0 5.3 0a2.65 2.65 0 1 0 -5.3 0M173.1 428.6a2.65 2.65 0 1 0 5.3 0a2.65 2.65 0 1 0 -5.3 0M174.2 430a2.65 2.65 0 1 0 5.3 0a2.65 2.65 0 1 0 -5.3 0M174.9 430.5a2.65 2.65 0 1 0 5.3 0a2.65 2.65 0 1 0 -5.3 0M175 432a2.65 2.65 0 1 0 5.3 0a2.65 2.65 0 1 0 -5.3 0M175.1 432.9a2.65 2.65 0 1 0 5.3 0a2.65 2.65 0 1 0 -5.3 0M175.8 433.7a2.65 2.65 0 1 0 5.3 0a2.65 2.65 0 1 0 -5.3 0M176.2 435.5a2.65 2.65 0 1 0 5.3 0a2.65 2.65 0 1 0 -5.3 0M176.9 436a2.65 2.65 0 1 0 5.3 0a2.65 2.65 0 1 0 -5.3 0M177.7 437.7a2.65 2.65 0 1 0 5.3 0a2.65 2.65 0 1 0 -5.3 0M178 438.4a2.65 2.65 0 1 0 5.3 0a2.65 2.65 0 1 0 -5.3 0M179 439.9a2.65 2.65 0 1 0 5.3 0a2.65 2.65 0 1 0 -5.3 0M179.9 441a2.65 2.65 0 1 0 5.3 0a2.65 2.65 0 1 0 -5.3 0M180 441.6a2.65 2.65 0 1 0 5.3 0a2.65 2.65 0 1 0 -5.3 0M180.6 443.2a2.65 2.65 0 1 0 5.3 0a2.65 2.65 0 1 0 -5.3 0M181.8 443.5a2.65 2.65 0 1 0 5.3 0a2.65 2.65 0 1 0 -5.3 0M181.6 444.7a2.65 2.65 0 1 0 5.3 0a2.65 2.65 0 1 0 -5.3 0M182.3 446a2.65 2.65 0 1 0 5.3 0a2.65 2.65 0 1 0 -5.3 0M183.2 446.9a2.65 2.65 0 1 0 5.3 0a2.65 2.65 0 1 0 -5.3 0M183.2 448.1a2.65 2.65 0 1 0 5.3 0a2.65 2.65 0 1 0 -5.3 0M184.2 449.3a2.65 2.65 0 1 0 5.3 0a2.65 2.65 0 1 0 -5.3 0M185.3 450.5a2.65 2.65 0 1 0 5.3 0a2.65 2.65 0 1 0 -5.3 0M185.5 451.5a2.65 2.65 0 1 0 5.3 0a2.65 2.65 0 1 0 -5.3 0M186.2 452.1a2.65 2.65 0 1 0 5.3 0a2.65 2.65 0 1 0 -5.3 0M187.2 453.7a2.65 2.65 0 1 0 5.3 0a2.65 2.65 0 1 0 -5.3 0M188 454.7a2.65 2.65 0 1 0 5.3 0a2.65 2.65 0 1 0 -5.3 0M188.3 455.3a2.65 2.65 0 1 0 5.3 0a2.65 2.65 0 1 0 -5.3 0M188.8 456.5a2.65 2.65 0 1 0 5.3 0a2.65 2.65 0 1 0 -5.3 0M189.6 456.9a2.65 2.65 0 1 0 5.3 0a2.65 2.65 0 1 0 -5.3 0M190.5 458a2.65 2.65 0 1 0 5.3 0a2.65 2.65 0 1 0 -5.3 0M191.4 458.8a2.65 2.65 0 1 0 5.3 0a2.65 2.65 0 1 0 -5.3 0M191.9 459.9a2.65 2.65 0 1 0 5.3 0a2.65 2.65 0 1 0 -5.3 0M192.8 461.1a2.65 2.65 0 1 0 5.3 0a2.65 2.65 0 1 0 -5.3 0M193.6 395a2.65 2.65 0 1 0 5.3 0a2.65 2.65 0 1 0 -5.3 0M194.5 397.5a2.65 2.65 0 1 0 5.3 0a2.65 2.65 0 1 0 -5.3 0M195.8 399.7a2.65 2.65 0 1 0 5.3 0a2.65 2.65 0 1 0 -5.3 0M195.4 403a2.65 2.65 0 1 0 5.3 0a2.65 2.65 0 1 0 -5.3 0M196.7 404.3a2.65 2.65 0 1 0 5.3 0a2.65 2.65 0 1 0 -5.3 0M197.4 406.5a2.65 2.65 0 1 0 5.3 0a2.65 2.65 0 1 0 -5.3 0M198 410a2.65 2.65 0 1 0 5.3 0a2.65 2.65 0 1 0 -5.3 0M199.1 411.9a2.65 2.65 0 1 0 5.3 0a2.65 2.65 0 1 0 -5.3 0M199.2 413.8a2.65 2.65 0 1 0 5.3 0a2.65 2.65 0 1 0 -5.3 0M200 416.5a2.65 2.65 0 1 0 5.3 0a2.65 2.65 0 1 0 -5.3 0M201.3 418.8a2.65 2.65 0 1 0 5.3 0a2.65 2.65 0 1 0 -5.3 0M202 420.3a2.65 2.65 0 1 0 5.3 0a2.65 2.65 0 1 0 -5.3 0M203.5 423.5a2.65 2.65 0 1 0 5.3 0a2.65 2.65 0 1 0 -5.3 0M204.4 425.5a2.65 2.65 0 1 0 5.3 0a2.65 2.65 0 1 0 -5.3 0M205.2 427.7a2.65 2.65 0 1 0 5.3 0a2.65 2.65 0 1 0 -5.3 0M205.4 429.7a2.65 2.65 0 1 0 5.3 0a2.65 2.65 0 1 0 -5.3 0M206.5 431.3a2.65 2.65 0 1 0 5.3 0a2.65 2.65 0 1 0 -5.3 0M207 433.9a2.65 2.65 0 1 0 5.3 0a2.65 2.65 0 1 0 -5.3 0M208.2 436.6a2.65 2.65 0 1 0 5.3 0a2.65 2.65 0 1 0 -5.3 0M209.9 438.6a2.65 2.65 0 1 0 5.3 0a2.65 2.65 0 1 0 -5.3 0M210.8 441.4a2.65 2.65 0 1 0 5.3 0a2.65 2.65 0 1 0 -5.3 0M211.7 442.9a2.65 2.65 0 1 0 5.3 0a2.65 2.65 0 1 0 -5.3 0M212.1 444.7a2.65 2.65 0 1 0 5.3 0a2.65 2.65 0 1 0 -5.3 0M213.4 446.7a2.65 2.65 0 1 0 5.3 0a2.65 2.65 0 1 0 -5.3 0M215.2 449.5a2.65 2.65 0 1 0 5.3 0a2.65 2.65 0 1 0 -5.3 0M217.6 455.7a2.65 2.65 0 1 0 5.3 0a2.65 2.65 0 1 0 -5.3 0M218.9 457.5a2.65 2.65 0 1 0 5.3 0a2.65 2.65 0 1 0 -5.3 0M220.1 459.1a2.65 2.65 0 1 0 5.3 0a2.65 2.65 0 1 0 -5.3 0M222.3 460.7a2.65 2.65 0 1 0 5.3 0a2.65 2.65 0 1 0 -5.3 0M223.2 448.1a2.65 2.65 0 1 0 5.3 0a2.65 2.65 0 1 0 -5.3 0M228.7 448.9a2.65 2.65 0 1 0 5.3 0a2.65 2.65 0 1 0 -5.3 0M231.1 458.1a2.65 2.65 0 1 0 5.3 0a2.65 2.65 0 1 0 -5.3 0M221.4 407.6a2.65 2.65 0 1 0 5.3 0a2.65 2.65 0 1 0 -5.3 0M222 450.5a2.65 2.65 0 1 0 5.3 0a2.65 2.65 0 1 0 -5.3 0M229.3 432.8a2.65 2.65 0 1 0 5.3 0a2.65 2.65 0 1 0 -5.3 0M235.5 457.3a2.65 2.65 0 1 0 5.3 0a2.65 2.65 0 1 0 -5.3 0M232.3 453.4a2.65 2.65 0 1 0 5.3 0a2.65 2.65 0 1 0 -5.3 0M225.8 416.6a2.65 2.65 0 1 0 5.3 0a2.65 2.65 0 1 0 -5.3 0M225.4 435.2a2.65 2.65 0 1 0 5.3 0a2.65 2.65 0 1 0 -5.3 0M226.1 424.6a2.65 2.65 0 1 0 5.3 0a2.65 2.65 0 1 0 -5.3 0M221.5 455.8a2.65 2.65 0 1 0 5.3 0a2.65 2.65 0 1 0 -5.3 0M229.4 427.1a2.65 2.65 0 1 0 5.3 0a2.65 2.65 0 1 0 -5.3 0M237.6 455.4a2.65 2.65 0 1 0 5.3 0a2.65 2.65 0 1 0 -5.3 0M231.8 456.3a2.65 2.65 0 1 0 5.3 0a2.65 2.65 0 1 0 -5.3 0M234.7 431.8a2.65 2.65 0 1 0 5.3 0a2.65 2.65 0 1 0 -5.3 0M232.5 409.6a2.65 2.65 0 1 0 5.3 0a2.65 2.65 0 1 0 -5.3 0M223 428.1a2.65 2.65 0 1 0 5.3 0a2.65 2.65 0 1 0 -5.3 0M242.6 433.3a2.65 2.65 0 1 0 5.3 0a2.65 2.65 0 1 0 -5.3 0M228.4 430.9a2.65 2.65 0 1 0 5.3 0a2.65 2.65 0 1 0 -5.3 0M236.6 447.8a2.65 2.65 0 1 0 5.3 0a2.65 2.65 0 1 0 -5.3 0M220.6 433.6a2.65 2.65 0 1 0 5.3 0a2.65 2.65 0 1 0 -5.3 0M225.7 415.6a2.65 2.65 0 1 0 5.3 0a2.65 2.65 0 1 0 -5.3 0M236.8 446.3a2.65 2.65 0 1 0 5.3 0a2.65 2.65 0 1 0 -5.3 0M238.6 430.1a2.65 2.65 0 1 0 5.3 0a2.65 2.65 0 1 0 -5.3 0M235 442a2.65 2.65 0 1 0 5.3 0a2.65 2.65 0 1 0 -5.3 0M232.9 431.9a2.65 2.65 0 1 0 5.3 0a2.65 2.65 0 1 0 -5.3 0M233.8 457.8a2.65 2.65 0 1 0 5.3 0a2.65 2.65 0 1 0 -5.3 0M241.7 453.7a2.65 2.65 0 1 0 5.3 0a2.65 2.65 0 1 0 -5.3 0M236.7 457.9a2.65 2.65 0 1 0 5.3 0a2.65 2.65 0 1 0 -5.3 0M221.2 426.1a2.65 2.65 0 1 0 5.3 0a2.65 2.65 0 1 0 -5.3 0M219.4 413.3a2.65 2.65 0 1 0 5.3 0a2.65 2.65 0 1 0 -5.3 0M219.4 440.5a2.65 2.65 0 1 0 5.3 0a2.65 2.65 0 1 0 -5.3 0M244.7 455a2.65 2.65 0 1 0 5.3 0a2.65 2.65 0 1 0 -5.3 0M222.3 443.5a2.65 2.65 0 1 0 5.3 0a2.65 2.65 0 1 0 -5.3 0M248.2 459.4a2.65 2.65 0 1 0 5.3 0a2.65 2.65 0 1 0 -5.3 0M224.6 458.5a2.65 2.65 0 1 0 5.3 0a2.65 2.65 0 1 0 -5.3 0M231 428.9a2.65 2.65 0 1 0 5.3 0a2.65 2.65 0 1 0 -5.3 0M222.6 425.4a2.65 2.65 0 1 0 5.3 0a2.65 2.65 0 1 0 -5.3 0M235.2 419.5a2.65 2.65 0 1 0 5.3 0a2.65 2.65 0 1 0 -5.3 0M223.8 418.2a2.65 2.65 0 1 0 5.3 0a2.65 2.65 0 1 0 -5.3 0M236.5 426a2.65 2.65 0 1 0 5.3 0a2.65 2.65 0 1 0 -5.3 0M239 430.5a2.65 2.65 0 1 0 5.3 0a2.65 2.65 0 1 0 -5.3 0M244.8 459.7a2.65 2.65 0 1 0 5.3 0a2.65 2.65 0 1 0 -5.3 0M220.6 414.9a2.65 2.65 0 1 0 5.3 0a2.65 2.65 0 1 0 -5.3 0M226.5 406.2a2.65 2.65 0 1 0 5.3 0a2.65 2.65 0 1 0 -5.3 0M231.8 455.9a2.65 2.65 0 1 0 5.3 0a2.65 2.65 0 1 0 -5.3 0M222.2 456.4a2.65 2.65 0 1 0 5.3 0a2.65 2.65 0 1 0 -5.3 0M237.1 442.5a2.65 2.65 0 1 0 5.3 0a2.65 2.65 0 1 0 -5.3 0M239.4 448.9a2.65 2.65 0 1 0 5.3 0a2.65 2.65 0 1 0 -5.3 0M219.8 452.4a2.65 2.65 0 1 0 5.3 0a2.65 2.65 0 1 0 -5.3 0M233 419.5a2.65 2.65 0 1 0 5.3 0a2.65 2.65 0 1 0 -5.3 0M236.5 456.8a2.65 2.65 0 1 0 5.3 0a2.65 2.65 0 1 0 -5.3 0M226.4 406.2a2.65 2.65 0 1 0 5.3 0a2.65 2.65 0 1 0 -5.3 0M235.6 413.1a2.65 2.65 0 1 0 5.3 0a2.65 2.65 0 1 0 -5.3 0M227.9 417.4a2.65 2.65 0 1 0 5.3 0a2.65 2.65 0 1 0 -5.3 0M223.6 428.1a2.65 2.65 0 1 0 5.3 0a2.65 2.65 0 1 0 -5.3 0M234.4 451a2.65 2.65 0 1 0 5.3 0a2.65 2.65 0 1 0 -5.3 0M230.8 430.2a2.65 2.65 0 1 0 5.3 0a2.65 2.65 0 1 0 -5.3 0M241.3 460.4a2.65 2.65 0 1 0 5.3 0a2.65 2.65 0 1 0 -5.3 0M229 450.9a2.65 2.65 0 1 0 5.3 0a2.65 2.65 0 1 0 -5.3 0M241.9 438.4a2.65 2.65 0 1 0 5.3 0a2.65 2.65 0 1 0 -5.3 0M231.2 420.1a2.65 2.65 0 1 0 5.3 0a2.65 2.65 0 1 0 -5.3 0M219.4 445a2.65 2.65 0 1 0 5.3 0a2.65 2.65 0 1 0 -5.3 0M225.9 408.4a2.65 2.65 0 1 0 5.3 0a2.65 2.65 0 1 0 -5.3 0M219.8 451.4a2.65 2.65 0 1 0 5.3 0a2.65 2.65 0 1 0 -5.3 0M226.9 413.4a2.65 2.65 0 1 0 5.3 0a2.65 2.65 0 1 0 -5.3 0M227.3 427.2a2.65 2.65 0 1 0 5.3 0a2.65 2.65 0 1 0 -5.3 0M222.4 426.3a2.65 2.65 0 1 0 5.3 0a2.65 2.65 0 1 0 -5.3 0M226.2 459.1a2.65 2.65 0 1 0 5.3 0a2.65 2.65 0 1 0 -5.3 0M225.5 459.3a2.65 2.65 0 1 0 5.3 0a2.65 2.65 0 1 0 -5.3 0M227.8 420.6a2.65 2.65 0 1 0 5.3 0a2.65 2.65 0 1 0 -5.3 0M233.7 429.9a2.65 2.65 0 1 0 5.3 0a2.65 2.65 0 1 0 -5.3 0M224 430.1a2.65 2.65 0 1 0 5.3 0a2.65 2.65 0 1 0 -5.3 0M220 423.4a2.65 2.65 0 1 0 5.3 0a2.65 2.65 0 1 0 -5.3 0M227.7 412.8a2.65 2.65 0 1 0 5.3 0a2.65 2.65 0 1 0 -5.3 0M237.6 431.6a2.65 2.65 0 1 0 5.3 0a2.65 2.65 0 1 0 -5.3 0M243.5 439.8a2.65 2.65 0 1 0 5.3 0a2.65 2.65 0 1 0 -5.3 0M242.3 453.8a2.65 2.65 0 1 0 5.3 0a2.65 2.65 0 1 0 -5.3 0M230.7 418.7a2.65 2.65 0 1 0 5.3 0a2.65 2.65 0 1 0 -5.3 0M242.6 438.8a2.65 2.65 0 1 0 5.3 0a2.65 2.65 0 1 0 -5.3 0M242.9 449.6a2.65 2.65 0 1 0 5.3 0a2.65 2.65 0 1 0 -5.3 0M221.8 431.3a2.65 2.65 0 1 0 5.3 0a2.65 2.65 0 1 0 -5.3 0M234.8 451a2.65 2.65 0 1 0 5.3 0a2.65 2.65 0 1 0 -5.3 0M245.4 450.5a2.65 2.65 0 1 0 5.3 0a2.65 2.65 0 1 0 -5.3 0M237.6 454.7a2.65 2.65 0 1 0 5.3 0a2.65 2.65 0 1 0 -5.3 0M241.1 442a2.65 2.65 0 1 0 5.3 0a2.65 2.65 0 1 0 -5.3 0M221.6 420.9a2.65 2.65 0 1 0 5.3 0a2.65 2.65 0 1 0 -5.3 0M220.6 451.1a2.65 2.65 0 1 0 5.3 0a2.65 2.65 0 1 0 -5.3 0M236.7 437.9a2.65 2.65 0 1 0 5.3 0a2.65 2.65 0 1 0 -5.3 0M239.1 441.2a2.65 2.65 0 1 0 5.3 0a2.65 2.65 0 1 0 -5.3 0M245.2 445.5a2.65 2.65 0 1 0 5.3 0a2.65 2.65 0 1 0 -5.3 0M234.7 432a2.65 2.65 0 1 0 5.3 0a2.65 2.65 0 1 0 -5.3 0M219.5 414.9a2.65 2.65 0 1 0 5.3 0a2.65 2.65 0 1 0 -5.3 0M243.1 460a2.65 2.65 0 1 0 5.3 0a2.65 2.65 0 1 0 -5.3 0M234.4 422.3a2.65 2.65 0 1 0 5.3 0a2.65 2.65 0 1 0 -5.3 0M233.9 441.4a2.65 2.65 0 1 0 5.3 0a2.65 2.65 0 1 0 -5.3 0M222.1 414.1a2.65 2.65 0 1 0 5.3 0a2.65 2.65 0 1 0 -5.3 0M219 415.1a2.65 2.65 0 1 0 5.3 0a2.65 2.65 0 1 0 -5.3 0M240.7 442a2.65 2.65 0 1 0 5.3 0a2.65 2.65 0 1 0 -5.3 0M235.2 427.5a2.65 2.65 0 1 0 5.3 0a2.65 2.65 0 1 0 -5.3 0M217.5 427.1a2.65 2.65 0 1 0 5.3 0a2.65 2.65 0 1 0 -5.3 0M246 459.5a2.65 2.65 0 1 0 5.3 0a2.65 2.65 0 1 0 -5.3 0M232.8 415.1a2.65 2.65 0 1 0 5.3 0a2.65 2.65 0 1 0 -5.3 0M224.3 458a2.65 2.65 0 1 0 5.3 0a2.65 2.65 0 1 0 -5.3 0M224.3 434.9a2.65 2.65 0 1 0 5.3 0a2.65 2.65 0 1 0 -5.3 0M221.9 431.3a2.65 2.65 0 1 0 5.3 0a2.65 2.65 0 1 0 -5.3 0M225.1 455a2.65 2.65 0 1 0 5.3 0a2.65 2.65 0 1 0 -5.3 0M217 429.2a2.65 2.65 0 1 0 5.3 0a2.65 2.65 0 1 0 -5.3 0M232.9 417.2a2.65 2.65 0 1 0 5.3 0a2.65 2.65 0 1 0 -5.3 0M221.8 419.8a2.65 2.65 0 1 0 5.3 0a2.65 2.65 0 1 0 -5.3 0M228.1 451.4a2.65 2.65 0 1 0 5.3 0a2.65 2.65 0 1 0 -5.3 0M230.1 422.9a2.65 2.65 0 1 0 5.3 0a2.65 2.65 0 1 0 -5.3 0M229.7 425.2a2.65 2.65 0 1 0 5.3 0a2.65 2.65 0 1 0 -5.3 0M226.6 401.1a2.65 2.65 0 1 0 5.3 0a2.65 2.65 0 1 0 -5.3 0M220.5 451a2.65 2.65 0 1 0 5.3 0a2.65 2.65 0 1 0 -5.3 0M227 457.4a2.65 2.65 0 1 0 5.3 0a2.65 2.65 0 1 0 -5.3 0M225.7 414.9a2.65 2.65 0 1 0 5.3 0a2.65 2.65 0 1 0 -5.3 0M230.1 458.7a2.65 2.65 0 1 0 5.3 0a2.65 2.65 0 1 0 -5.3 0M248.2 449.6a2.65 2.65 0 1 0 5.3 0a2.65 2.65 0 1 0 -5.3 0M239.2 456a2.65 2.65 0 1 0 5.3 0a2.65 2.65 0 1 0 -5.3 0M243.6 438.9a2.65 2.65 0 1 0 5.3 0a2.65 2.65 0 1 0 -5.3 0M227 401.1a2.65 2.65 0 1 0 5.3 0a2.65 2.65 0 1 0 -5.3 0M233.6 419.8a2.65 2.65 0 1 0 5.3 0a2.65 2.65 0 1 0 -5.3 0M227.4 444.9a2.65 2.65 0 1 0 5.3 0a2.65 2.65 0 1 0 -5.3 0M236.6 423a2.65 2.65 0 1 0 5.3 0a2.65 2.65 0 1 0 -5.3 0M222.8 408.3a2.65 2.65 0 1 0 5.3 0a2.65 2.65 0 1 0 -5.3 0M224.2 455.5a2.65 2.65 0 1 0 5.3 0a2.65 2.65 0 1 0 -5.3 0M234.5 412a2.65 2.65 0 1 0 5.3 0a2.65 2.65 0 1 0 -5.3 0M249 461.3a2.65 2.65 0 1 0 5.3 0a2.65 2.65 0 1 0 -5.3 0M232.8 406.9a2.65 2.65 0 1 0 5.3 0a2.65 2.65 0 1 0 -5.3 0M223.7 403.8a2.65 2.65 0 1 0 5.3 0a2.65 2.65 0 1 0 -5.3 0M229 403.8a2.65 2.65 0 1 0 5.3 0a2.65 2.65 0 1 0 -5.3 0M225.3 414.4a2.65 2.65 0 1 0 5.3 0a2.65 2.65 0 1 0 -5.3 0M237.1 454.3a2.65 2.65 0 1 0 5.3 0a2.65 2.65 0 1 0 -5.3 0M231.5 431.3a2.65 2.65 0 1 0 5.3 0a2.65 2.65 0 1 0 -5.3 0M230.2 419.5a2.65 2.65 0 1 0 5.3 0a2.65 2.65 0 1 0 -5.3 0M219.1 415.6a2.65 2.65 0 1 0 5.3 0a2.65 2.65 0 1 0 -5.3 0M234.7 438a2.65 2.65 0 1 0 5.3 0a2.65 2.65 0 1 0 -5.3 0M226.5 413.8a2.65 2.65 0 1 0 5.3 0a2.65 2.65 0 1 0 -5.3 0M231 426.3a2.65 2.65 0 1 0 5.3 0a2.65 2.65 0 1 0 -5.3 0M218 443.1a2.65 2.65 0 1 0 5.3 0a2.65 2.65 0 1 0 -5.3 0M230.7 456.9a2.65 2.65 0 1 0 5.3 0a2.65 2.65 0 1 0 -5.3 0M246.2 452.3a2.65 2.65 0 1 0 5.3 0a2.65 2.65 0 1 0 -5.3 0M235.4 441.3a2.65 2.65 0 1 0 5.3 0a2.65 2.65 0 1 0 -5.3 0M239.8 446.6a2.65 2.65 0 1 0 5.3 0a2.65 2.65 0 1 0 -5.3 0M233.1 433a2.65 2.65 0 1 0 5.3 0a2.65 2.65 0 1 0 -5.3 0M225.1 456.4a2.65 2.65 0 1 0 5.3 0a2.65 2.65 0 1 0 -5.3 0M221.4 414a2.65 2.65 0 1 0 5.3 0a2.65 2.65 0 1 0 -5.3 0M239.4 442.4a2.65 2.65 0 1 0 5.3 0a2.65 2.65 0 1 0 -5.3 0M235.5 435a2.65 2.65 0 1 0 5.3 0a2.65 2.65 0 1 0 -5.3 0M230.6 412.2a2.65 2.65 0 1 0 5.3 0a2.65 2.65 0 1 0 -5.3 0M227.6 427.3a2.65 2.65 0 1 0 5.3 0a2.65 2.65 0 1 0 -5.3 0M225.2 413.7a2.65 2.65 0 1 0 5.3 0a2.65 2.65 0 1 0 -5.3 0M227.8 399.4a2.65 2.65 0 1 0 5.3 0a2.65 2.65 0 1 0 -5.3 0M234.5 440.8a2.65 2.65 0 1 0 5.3 0a2.65 2.65 0 1 0 -5.3 0M231.8 414.3a2.65 2.65 0 1 0 5.3 0a2.65 2.65 0 1 0 -5.3 0M240.5 456.7a2.65 2.65 0 1 0 5.3 0a2.65 2.65 0 1 0 -5.3 0M228.9 424.7a2.65 2.65 0 1 0 5.3 0a2.65 2.65 0 1 0 -5.3 0M245.1 444.9a2.65 2.65 0 1 0 5.3 0a2.65 2.65 0 1 0 -5.3 0M234.8 411a2.65 2.65 0 1 0 5.3 0a2.65 2.65 0 1 0 -5.3 0M224.7 446.3a2.65 2.65 0 1 0 5.3 0a2.65 2.65 0 1 0 -5.3 0M227.3 458.4a2.65 2.65 0 1 0 5.3 0a2.65 2.65 0 1 0 -5.3 0M234.4 409.9a2.65 2.65 0 1 0 5.3 0a2.65 2.65 0 1 0 -5.3 0M224.8 424.5a2.65 2.65 0 1 0 5.3 0a2.65 2.65 0 1 0 -5.3 0M240.5 458.2a2.65 2.65 0 1 0 5.3 0a2.65 2.65 0 1 0 -5.3 0M222 423a2.65 2.65 0 1 0 5.3 0a2.65 2.65 0 1 0 -5.3 0M224.4 459.9a2.65 2.65 0 1 0 5.3 0a2.65 2.65 0 1 0 -5.3 0M219 423a2.65 2.65 0 1 0 5.3 0a2.65 2.65 0 1 0 -5.3 0M248.7 454.1a2.65 2.65 0 1 0 5.3 0a2.65 2.65 0 1 0 -5.3 0M242.9 461.3a2.65 2.65 0 1 0 5.3 0a2.65 2.65 0 1 0 -5.3 0M223.4 457.4a2.65 2.65 0 1 0 5.3 0a2.65 2.65 0 1 0 -5.3 0M230.1 419.1a2.65 2.65 0 1 0 5.3 0a2.65 2.65 0 1 0 -5.3 0M226.8 420.3a2.65 2.65 0 1 0 5.3 0a2.65 2.65 0 1 0 -5.3 0M229.5 450.2a2.65 2.65 0 1 0 5.3 0a2.65 2.65 0 1 0 -5.3 0M218.6 428.1a2.65 2.65 0 1 0 5.3 0a2.65 2.65 0 1 0 -5.3 0M230.1 456.4a2.65 2.65 0 1 0 5.3 0a2.65 2.65 0 1 0 -5.3 0M223.7 421.1a2.65 2.65 0 1 0 5.3 0a2.65 2.65 0 1 0 -5.3 0M231.4 449.6a2.65 2.65 0 1 0 5.3 0a2.65 2.65 0 1 0 -5.3 0M243.4 455.1a2.65 2.65 0 1 0 5.3 0a2.65 2.65 0 1 0 -5.3 0M228.9 415.3a2.65 2.65 0 1 0 5.3 0a2.65 2.65 0 1 0 -5.3 0M226.2 443.5a2.65 2.65 0 1 0 5.3 0a2.65 2.65 0 1 0 -5.3 0M228.1 415.5a2.65 2.65 0 1 0 5.3 0a2.65 2.65 0 1 0 -5.3 0M225.2 428.2a2.65 2.65 0 1 0 5.3 0a2.65 2.65 0 1 0 -5.3 0M250.8 458.6a2.65 2.65 0 1 0 5.3 0a2.65 2.65 0 1 0 -5.3 0M230.6 413.9a2.65 2.65 0 1 0 5.3 0a2.65 2.65 0 1 0 -5.3 0M232.1 429.3a2.65 2.65 0 1 0 5.3 0a2.65 2.65 0 1 0 -5.3 0M245.3 444.9a2.65 2.65 0 1 0 5.3 0a2.65 2.65 0 1 0 -5.3 0M246.1 447.1a2.65 2.65 0 1 0 5.3 0a2.65 2.65 0 1 0 -5.3 0M228.2 421a2.65 2.65 0 1 0 5.3 0a2.65 2.65 0 1 0 -5.3 0M223.9 445.8a2.65 2.65 0 1 0 5.3 0a2.65 2.65 0 1 0 -5.3 0M225.6 402.1a2.65 2.65 0 1 0 5.3 0a2.65 2.65 0 1 0 -5.3 0M218.1 433.1a2.65 2.65 0 1 0 5.3 0a2.65 2.65 0 1 0 -5.3 0M228.4 460.2a2.65 2.65 0 1 0 5.3 0a2.65 2.65 0 1 0 -5.3 0M248.2 460.7a2.65 2.65 0 1 0 5.3 0a2.65 2.65 0 1 0 -5.3 0M226.3 403.3a2.65 2.65 0 1 0 5.3 0a2.65 2.65 0 1 0 -5.3 0M220.3 429.7a2.65 2.65 0 1 0 5.3 0a2.65 2.65 0 1 0 -5.3 0M225.2 424.5a2.65 2.65 0 1 0 5.3 0a2.65 2.65 0 1 0 -5.3 0M238.9 440.8a2.65 2.65 0 1 0 5.3 0a2.65 2.65 0 1 0 -5.3 0M243.4 451.8a2.65 2.65 0 1 0 5.3 0a2.65 2.65 0 1 0 -5.3 0M237 421.7a2.65 2.65 0 1 0 5.3 0a2.65 2.65 0 1 0 -5.3 0M225.6 413.6a2.65 2.65 0 1 0 5.3 0a2.65 2.65 0 1 0 -5.3 0M222.3 454.1a2.65 2.65 0 1 0 5.3 0a2.65 2.65 0 1 0 -5.3 0M237.4 418.7a2.65 2.65 0 1 0 5.3 0a2.65 2.65 0 1 0 -5.3 0M230.9 461a2.65 2.65 0 1 0 5.3 0a2.65 2.65 0 1 0 -5.3 0M234.9 412.7a2.65 2.65 0 1 0 5.3 0a2.65 2.65 0 1 0 -5.3 0M233.7 450a2.65 2.65 0 1 0 5.3 0a2.65 2.65 0 1 0 -5.3 0M246.7 456.1a2.65 2.65 0 1 0 5.3 0a2.65 2.65 0 1 0 -5.3 0M221.1 410a2.65 2.65 0 1 0 5.3 0a2.65 2.65 0 1 0 -5.3 0M226.1 447.4a2.65 2.65 0 1 0 5.3 0a2.65 2.65 0 1 0 -5.3 0M238 437.4a2.65 2.65 0 1 0 5.3 0a2.65 2.65 0 1 0 -5.3 0M224.6 421.4a2.65 2.65 0 1 0 5.3 0a2.65 2.65 0 1 0 -5.3 0M221.9 411a2.65 2.65 0 1 0 5.3 0a2.65 2.65 0 1 0 -5.3 0M225.9 436.1a2.65 2.65 0 1 0 5.3 0a2.65 2.65 0 1 0 -5.3 0M227.9 410.9a2.65 2.65 0 1 0 5.3 0a2.65 2.65 0 1 0 -5.3 0M230.9 432.9a2.65 2.65 0 1 0 5.3 0a2.65 2.65 0 1 0 -5.3 0M222.7 442.2a2.65 2.65 0 1 0 5.3 0a2.65 2.65 0 1 0 -5.3 0M231.4 416a2.65 2.65 0 1 0 5.3 0a2.65 2.65 0 1 0 -5.3 0M227.8 458.5a2.65 2.65 0 1 0 5.3 0a2.65 2.65 0 1 0 -5.3 0M227.9 434a2.65 2.65 0 1 0 5.3 0a2.65 2.65 0 1 0 -5.3 0M229.5 424.4a2.65 2.65 0 1 0 5.3 0a2.65 2.65 0 1 0 -5.3 0M247.5 461.3a2.65 2.65 0 1 0 5.3 0a2.65 2.65 0 1 0 -5.3 0M229.8 410.5a2.65 2.65 0 1 0 5.3 0a2.65 2.65 0 1 0 -5.3 0M231.9 450.1a2.65 2.65 0 1 0 5.3 0a2.65 2.65 0 1 0 -5.3 0M231.3 454.1a2.65 2.65 0 1 0 5.3 0a2.65 2.65 0 1 0 -5.3 0M233.2 408.3a2.65 2.65 0 1 0 5.3 0a2.65 2.65 0 1 0 -5.3 0M217.4 433a2.65 2.65 0 1 0 5.3 0a2.65 2.65 0 1 0 -5.3 0M239.6 455.8a2.65 2.65 0 1 0 5.3 0a2.65 2.65 0 1 0 -5.3 0M220 437.5a2.65 2.65 0 1 0 5.3 0a2.65 2.65 0 1 0 -5.3 0M230 430a2.65 2.65 0 1 0 5.3 0a2.65 2.65 0 1 0 -5.3 0M222 416a2.65 2.65 0 1 0 5.3 0a2.65 2.65 0 1 0 -5.3 0M235.4 456.8a2.65 2.65 0 1 0 5.3 0a2.65 2.65 0 1 0 -5.3 0M220.7 429.1a2.65 2.65 0 1 0 5.3 0a2.65 2.65 0 1 0 -5.3 0M245.4 459.4a2.65 2.65 0 1 0 5.3 0a2.65 2.65 0 1 0 -5.3 0M223.9 406a2.65 2.65 0 1 0 5.3 0a2.65 2.65 0 1 0 -5.3 0M250.3 459.9a2.65 2.65 0 1 0 5.3 0a2.65 2.65 0 1 0 -5.3 0M231.2 451.7a2.65 2.65 0 1 0 5.3 0a2.65 2.65 0 1 0 -5.3 0M224.6 423.4a2.65 2.65 0 1 0 5.3 0a2.65 2.65 0 1 0 -5.3 0M235.2 422.4a2.65 2.65 0 1 0 5.3 0a2.65 2.65 0 1 0 -5.3 0M221.2 413.7a2.65 2.65 0 1 0 5.3 0a2.65 2.65 0 1 0 -5.3 0M242.6 455a2.65 2.65 0 1 0 5.3 0a2.65 2.65 0 1 0 -5.3 0M218.3 433.7a2.65 2.65 0 1 0 5.3 0a2.65 2.65 0 1 0 -5.3 0M238.1 432.9a2.65 2.65 0 1 0 5.3 0a2.65 2.65 0 1 0 -5.3 0M231.8 435a2.65 2.65 0 1 0 5.3 0a2.65 2.65 0 1 0 -5.3 0M232 439.8a2.65 2.65 0 1 0 5.3 0a2.65 2.65 0 1 0 -5.3 0M232.7 425.8a2.65 2.65 0 1 0 5.3 0a2.65 2.65 0 1 0 -5.3 0M217.7 437.3a2.65 2.65 0 1 0 5.3 0a2.65 2.65 0 1 0 -5.3 0M234.2 412.9a2.65 2.65 0 1 0 5.3 0a2.65 2.65 0 1 0 -5.3 0M244 447.5a2.65 2.65 0 1 0 5.3 0a2.65 2.65 0 1 0 -5.3 0M233.1 409.4a2.65 2.65 0 1 0 5.3 0a2.65 2.65 0 1 0 -5.3 0M221.4 425.3a2.65 2.65 0 1 0 5.3 0a2.65 2.65 0 1 0 -5.3 0M220.1 426.1a2.65 2.65 0 1 0 5.3 0a2.65 2.65 0 1 0 -5.3 0M242.9 447.4a2.65 2.65 0 1 0 5.3 0a2.65 2.65 0 1 0 -5.3 0M234.7 422a2.65 2.65 0 1 0 5.3 0a2.65 2.65 0 1 0 -5.3 0M247.3 461.3a2.65 2.65 0 1 0 5.3 0a2.65 2.65 0 1 0 -5.3 0M242.8 449.8a2.65 2.65 0 1 0 5.3 0a2.65 2.65 0 1 0 -5.3 0M223.7 460.3a2.65 2.65 0 1 0 5.3 0a2.65 2.65 0 1 0 -5.3 0M234.3 458.7a2.65 2.65 0 1 0 5.3 0a2.65 2.65 0 1 0 -5.3 0M244.8 457.1a2.65 2.65 0 1 0 5.3 0a2.65 2.65 0 1 0 -5.3 0M219.2 420.3a2.65 2.65 0 1 0 5.3 0a2.65 2.65 0 1 0 -5.3 0M234.7 456.4a2.65 2.65 0 1 0 5.3 0a2.65 2.65 0 1 0 -5.3 0M224.2 414.7a2.65 2.65 0 1 0 5.3 0a2.65 2.65 0 1 0 -5.3 0M234.8 418.3a2.65 2.65 0 1 0 5.3 0a2.65 2.65 0 1 0 -5.3 0M222.6 457.5a2.65 2.65 0 1 0 5.3 0a2.65 2.65 0 1 0 -5.3 0M241 454.9a2.65 2.65 0 1 0 5.3 0a2.65 2.65 0 1 0 -5.3 0M222.8 447.8a2.65 2.65 0 1 0 5.3 0a2.65 2.65 0 1 0 -5.3 0M220.9 431.7a2.65 2.65 0 1 0 5.3 0a2.65 2.65 0 1 0 -5.3 0M237.4 454a2.65 2.65 0 1 0 5.3 0a2.65 2.65 0 1 0 -5.3 0M239.2 423a2.65 2.65 0 1 0 5.3 0a2.65 2.65 0 1 0 -5.3 0M229.6 446.6a2.65 2.65 0 1 0 5.3 0a2.65 2.65 0 1 0 -5.3 0M232.6 409.2a2.65 2.65 0 1 0 5.3 0a2.65 2.65 0 1 0 -5.3 0M239.5 460.5a2.65 2.65 0 1 0 5.3 0a2.65 2.65 0 1 0 -5.3 0M237.6 440.1a2.65 2.65 0 1 0 5.3 0a2.65 2.65 0 1 0 -5.3 0M238.7 425.4a2.65 2.65 0 1 0 5.3 0a2.65 2.65 0 1 0 -5.3 0M235.1 454.9a2.65 2.65 0 1 0 5.3 0a2.65 2.65 0 1 0 -5.3 0M221.5 412.4a2.65 2.65 0 1 0 5.3 0a2.65 2.65 0 1 0 -5.3 0M220.6 420.7a2.65 2.65 0 1 0 5.3 0a2.65 2.65 0 1 0 -5.3 0M224.8 435.1a2.65 2.65 0 1 0 5.3 0a2.65 2.65 0 1 0 -5.3 0M239 428.2a2.65 2.65 0 1 0 5.3 0a2.65 2.65 0 1 0 -5.3 0M221.6 457.5a2.65 2.65 0 1 0 5.3 0a2.65 2.65 0 1 0 -5.3 0M225.5 407.5a2.65 2.65 0 1 0 5.3 0a2.65 2.65 0 1 0 -5.3 0M220.3 438.5a2.65 2.65 0 1 0 5.3 0a2.65 2.65 0 1 0 -5.3 0M231.1 414.8a2.65 2.65 0 1 0 5.3 0a2.65 2.65 0 1 0 -5.3 0M217.3 439a2.65 2.65 0 1 0 5.3 0a2.65 2.65 0 1 0 -5.3 0M236.8 420.2a2.65 2.65 0 1 0 5.3 0a2.65 2.65 0 1 0 -5.3 0M239.8 426.2a2.65 2.65 0 1 0 5.3 0a2.65 2.65 0 1 0 -5.3 0M225.7 455.4a2.65 2.65 0 1 0 5.3 0a2.65 2.65 0 1 0 -5.3 0M218.4 431.8a2.65 2.65 0 1 0 5.3 0a2.65 2.65 0 1 0 -5.3 0M231.3 413.1a2.65 2.65 0 1 0 5.3 0a2.65 2.65 0 1 0 -5.3 0M218.9 447.5a2.65 2.65 0 1 0 5.3 0a2.65 2.65 0 1 0 -5.3 0M217.3 433a2.65 2.65 0 1 0 5.3 0a2.65 2.65 0 1 0 -5.3 0M223.9 436.6a2.65 2.65 0 1 0 5.3 0a2.65 2.65 0 1 0 -5.3 0M234.8 438.7a2.65 2.65 0 1 0 5.3 0a2.65 2.65 0 1 0 -5.3 0M227.8 417.1a2.65 2.65 0 1 0 5.3 0a2.65 2.65 0 1 0 -5.3 0M244.6 443.4a2.65 2.65 0 1 0 5.3 0a2.65 2.65 0 1 0 -5.3 0M224.9 404.7a2.65 2.65 0 1 0 5.3 0a2.65 2.65 0 1 0 -5.3 0M228.8 445.6a2.65 2.65 0 1 0 5.3 0a2.65 2.65 0 1 0 -5.3 0M241.5 451.7a2.65 2.65 0 1 0 5.3 0a2.65 2.65 0 1 0 -5.3 0M236.5 425.7a2.65 2.65 0 1 0 5.3 0a2.65 2.65 0 1 0 -5.3 0M226.3 438.8a2.65 2.65 0 1 0 5.3 0a2.65 2.65 0 1 0 -5.3 0M226.1 413a2.65 2.65 0 1 0 5.3 0a2.65 2.65 0 1 0 -5.3 0M243.3 458a2.65 2.65 0 1 0 5.3 0a2.65 2.65 0 1 0 -5.3 0M225.3 455.6a2.65 2.65 0 1 0 5.3 0a2.65 2.65 0 1 0 -5.3 0M239.2 442a2.65 2.65 0 1 0 5.3 0a2.65 2.65 0 1 0 -5.3 0M240.5 460.2a2.65 2.65 0 1 0 5.3 0a2.65 2.65 0 1 0 -5.3 0M233.5 451.3a2.65 2.65 0 1 0 5.3 0a2.65 2.65 0 1 0 -5.3 0M241.6 452.5a2.65 2.65 0 1 0 5.3 0a2.65 2.65 0 1 0 -5.3 0M232.4 444a2.65 2.65 0 1 0 5.3 0a2.65 2.65 0 1 0 -5.3 0M237.1 417.5a2.65 2.65 0 1 0 5.3 0a2.65 2.65 0 1 0 -5.3 0M224.4 437.5a2.65 2.65 0 1 0 5.3 0a2.65 2.65 0 1 0 -5.3 0M229.1 407a2.65 2.65 0 1 0 5.3 0a2.65 2.65 0 1 0 -5.3 0M241.4 438.3a2.65 2.65 0 1 0 5.3 0a2.65 2.65 0 1 0 -5.3 0M241.6 444.8a2.65 2.65 0 1 0 5.3 0a2.65 2.65 0 1 0 -5.3 0M219.2 435.5a2.65 2.65 0 1 0 5.3 0a2.65 2.65 0 1 0 -5.3 0M229.8 449.9a2.65 2.65 0 1 0 5.3 0a2.65 2.65 0 1 0 -5.3 0M245.9 454.6a2.65 2.65 0 1 0 5.3 0a2.65 2.65 0 1 0 -5.3 0M249.3 458a2.65 2.65 0 1 0 5.3 0a2.65 2.65 0 1 0 -5.3 0M220.7 411.1a2.65 2.65 0 1 0 5.3 0a2.65 2.65 0 1 0 -5.3 0M246.9 449.6a2.65 2.65 0 1 0 5.3 0a2.65 2.65 0 1 0 -5.3 0M239.4 450.4a2.65 2.65 0 1 0 5.3 0a2.65 2.65 0 1 0 -5.3 0M228.2 424.9a2.65 2.65 0 1 0 5.3 0a2.65 2.65 0 1 0 -5.3 0M226.9 443.5a2.65 2.65 0 1 0 5.3 0a2.65 2.65 0 1 0 -5.3 0M229.9 418.4a2.65 2.65 0 1 0 5.3 0a2.65 2.65 0 1 0 -5.3 0M217.9 424.2a2.65 2.65 0 1 0 5.3 0a2.65 2.65 0 1 0 -5.3 0M232.3 447.1a2.65 2.65 0 1 0 5.3 0a2.65 2.65 0 1 0 -5.3 0M229.2 442.7a2.65 2.65 0 1 0 5.3 0a2.65 2.65 0 1 0 -5.3 0M243.9 460.1a2.65 2.65 0 1 0 5.3 0a2.65 2.65 0 1 0 -5.3 0M217 429.2a2.65 2.65 0 1 0 5.3 0a2.65 2.65 0 1 0 -5.3 0M234.3 448.6a2.65 2.65 0 1 0 5.3 0a2.65 2.65 0 1 0 -5.3 0M223.4 429.4a2.65 2.65 0 1 0 5.3 0a2.65 2.65 0 1 0 -5.3 0M229.2 450.8a2.65 2.65 0 1 0 5.3 0a2.65 2.65 0 1 0 -5.3 0M226.1 457.9a2.65 2.65 0 1 0 5.3 0a2.65 2.65 0 1 0 -5.3 0M226.9 411.6a2.65 2.65 0 1 0 5.3 0a2.65 2.65 0 1 0 -5.3 0M220.8 438.4a2.65 2.65 0 1 0 5.3 0a2.65 2.65 0 1 0 -5.3 0M219.7 448a2.65 2.65 0 1 0 5.3 0a2.65 2.65 0 1 0 -5.3 0M241.6 448a2.65 2.65 0 1 0 5.3 0a2.65 2.65 0 1 0 -5.3 0M231.1 423.1a2.65 2.65 0 1 0 5.3 0a2.65 2.65 0 1 0 -5.3 0M224.2 414.7a2.65 2.65 0 1 0 5.3 0a2.65 2.65 0 1 0 -5.3 0M230.3 454.1a2.65 2.65 0 1 0 5.3 0a2.65 2.65 0 1 0 -5.3 0M225.1 427.3a2.65 2.65 0 1 0 5.3 0a2.65 2.65 0 1 0 -5.3 0M235.7 445.9a2.65 2.65 0 1 0 5.3 0a2.65 2.65 0 1 0 -5.3 0M243.6 439a2.65 2.65 0 1 0 5.3 0a2.65 2.65 0 1 0 -5.3 0M229.2 418.7a2.65 2.65 0 1 0 5.3 0a2.65 2.65 0 1 0 -5.3 0M222.4 451.5a2.65 2.65 0 1 0 5.3 0a2.65 2.65 0 1 0 -5.3 0M240.4 445.1a2.65 2.65 0 1 0 5.3 0a2.65 2.65 0 1 0 -5.3 0M222.9 425.9a2.65 2.65 0 1 0 5.3 0a2.65 2.65 0 1 0 -5.3 0M221.3 427.3a2.65 2.65 0 1 0 5.3 0a2.65 2.65 0 1 0 -5.3 0M223.7 417.1a2.65 2.65 0 1 0 5.3 0a2.65 2.65 0 1 0 -5.3 0M241.8 451.6a2.65 2.65 0 1 0 5.3 0a2.65 2.65 0 1 0 -5.3 0M222.3 407.9a2.65 2.65 0 1 0 5.3 0a2.65 2.65 0 1 0 -5.3 0M225.6 418.7a2.65 2.65 0 1 0 5.3 0a2.65 2.65 0 1 0 -5.3 0M228.5 410a2.65 2.65 0 1 0 5.3 0a2.65 2.65 0 1 0 -5.3 0M220.5 422.4a2.65 2.65 0 1 0 5.3 0a2.65 2.65 0 1 0 -5.3 0M223.8 438.5a2.65 2.65 0 1 0 5.3 0a2.65 2.65 0 1 0 -5.3 0M220.6 411.1a2.65 2.65 0 1 0 5.3 0a2.65 2.65 0 1 0 -5.3 0M231 448.2a2.65 2.65 0 1 0 5.3 0a2.65 2.65 0 1 0 -5.3 0M241.5 429.8a2.65 2.65 0 1 0 5.3 0a2.65 2.65 0 1 0 -5.3 0M239.3 427.4a2.65 2.65 0 1 0 5.3 0a2.65 2.65 0 1 0 -5.3 0M221.9 436.3a2.65 2.65 0 1 0 5.3 0a2.65 2.65 0 1 0 -5.3 0M231.2 445.1a2.65 2.65 0 1 0 5.3 0a2.65 2.65 0 1 0 -5.3 0M237.2 445.6a2.65 2.65 0 1 0 5.3 0a2.65 2.65 0 1 0 -5.3 0M231.8 412.5a2.65 2.65 0 1 0 5.3 0a2.65 2.65 0 1 0 -5.3 0M242.5 453.9a2.65 2.65 0 1 0 5.3 0a2.65 2.65 0 1 0 -5.3 0M244.3 442.5a2.65 2.65 0 1 0 5.3 0a2.65 2.65 0 1 0 -5.3 0M239.6 426.8a2.65 2.65 0 1 0 5.3 0a2.65 2.65 0 1 0 -5.3 0M228 437.9a2.65 2.65 0 1 0 5.3 0a2.65 2.65 0 1 0 -5.3 0M220.3 424.6a2.65 2.65 0 1 0 5.3 0a2.65 2.65 0 1 0 -5.3 0M244.6 443.3a2.65 2.65 0 1 0 5.3 0a2.65 2.65 0 1 0 -5.3 0M231.9 426.9a2.65 2.65 0 1 0 5.3 0a2.65 2.65 0 1 0 -5.3 0M238.9 424a2.65 2.65 0 1 0 5.3 0a2.65 2.65 0 1 0 -5.3 0M240.8 457.1a2.65 2.65 0 1 0 5.3 0a2.65 2.65 0 1 0 -5.3 0M223.3 439.6a2.65 2.65 0 1 0 5.3 0a2.65 2.65 0 1 0 -5.3 0M234.2 459.9a2.65 2.65 0 1 0 5.3 0a2.65 2.65 0 1 0 -5.3 0M218.2 432.5a2.65 2.65 0 1 0 5.3 0a2.65 2.65 0 1 0 -5.3 0M222.6 447.6a2.65 2.65 0 1 0 5.3 0a2.65 2.65 0 1 0 -5.3 0M220.4 434.5a2.65 2.65 0 1 0 5.3 0a2.65 2.65 0 1 0 -5.3 0M236.1 443.5a2.65 2.65 0 1 0 5.3 0a2.65 2.65 0 1 0 -5.3 0M235 438.6a2.65 2.65 0 1 0 5.3 0a2.65 2.65 0 1 0 -5.3 0M231.4 458.2a2.65 2.65 0 1 0 5.3 0a2.65 2.65 0 1 0 -5.3 0M224.3 441.5a2.65 2.65 0 1 0 5.3 0a2.65 2.65 0 1 0 -5.3 0M230.8 446.4a2.65 2.65 0 1 0 5.3 0a2.65 2.65 0 1 0 -5.3 0M229.5 401.6a2.65 2.65 0 1 0 5.3 0a2.65 2.65 0 1 0 -5.3 0M226.6 423.4a2.65 2.65 0 1 0 5.3 0a2.65 2.65 0 1 0 -5.3 0M217.3 424.6a2.65 2.65 0 1 0 5.3 0a2.65 2.65 0 1 0 -5.3 0M231.8 442.3a2.65 2.65 0 1 0 5.3 0a2.65 2.65 0 1 0 -5.3 0M229.4 414.8a2.65 2.65 0 1 0 5.3 0a2.65 2.65 0 1 0 -5.3 0M224.8 445.1a2.65 2.65 0 1 0 5.3 0a2.65 2.65 0 1 0 -5.3 0M224.6 448.9a2.65 2.65 0 1 0 5.3 0a2.65 2.65 0 1 0 -5.3 0M230.8 411.5a2.65 2.65 0 1 0 5.3 0a2.65 2.65 0 1 0 -5.3 0M221.4 447.3a2.65 2.65 0 1 0 5.3 0a2.65 2.65 0 1 0 -5.3 0M233.5 433.7a2.65 2.65 0 1 0 5.3 0a2.65 2.65 0 1 0 -5.3 0M224.9 459.2a2.65 2.65 0 1 0 5.3 0a2.65 2.65 0 1 0 -5.3 0M229.4 438.6a2.65 2.65 0 1 0 5.3 0a2.65 2.65 0 1 0 -5.3 0M245.9 449.8a2.65 2.65 0 1 0 5.3 0a2.65 2.65 0 1 0 -5.3 0M233.5 416.7a2.65 2.65 0 1 0 5.3 0a2.65 2.65 0 1 0 -5.3 0M230.2 414.1a2.65 2.65 0 1 0 5.3 0a2.65 2.65 0 1 0 -5.3 0M232 409.8a2.65 2.65 0 1 0 5.3 0a2.65 2.65 0 1 0 -5.3 0M226.8 413.6a2.65 2.65 0 1 0 5.3 0a2.65 2.65 0 1 0 -5.3 0M227.6 428.5a2.65 2.65 0 1 0 5.3 0a2.65 2.65 0 1 0 -5.3 0M232.1 438.5a2.65 2.65 0 1 0 5.3 0a2.65 2.65 0 1 0 -5.3 0M221.8 450.8a2.65 2.65 0 1 0 5.3 0a2.65 2.65 0 1 0 -5.3 0M225.1 447.3a2.65 2.65 0 1 0 5.3 0a2.65 2.65 0 1 0 -5.3 0M229.1 407.7a2.65 2.65 0 1 0 5.3 0a2.65 2.65 0 1 0 -5.3 0M222.8 454.6a2.65 2.65 0 1 0 5.3 0a2.65 2.65 0 1 0 -5.3 0M238.4 447.6a2.65 2.65 0 1 0 5.3 0a2.65 2.65 0 1 0 -5.3 0M240.6 454.8a2.65 2.65 0 1 0 5.3 0a2.65 2.65 0 1 0 -5.3 0M244.8 451.3a2.65 2.65 0 1 0 5.3 0a2.65 2.65 0 1 0 -5.3 0M223.9 442a2.65 2.65 0 1 0 5.3 0a2.65 2.65 0 1 0 -5.3 0M235.7 445.1a2.65 2.65 0 1 0 5.3 0a2.65 2.65 0 1 0 -5.3 0M232.4 454.1a2.65 2.65 0 1 0 5.3 0a2.65 2.65 0 1 0 -5.3 0M225.2 406.8a2.65 2.65 0 1 0 5.3 0a2.65 2.65 0 1 0 -5.3 0M233.4 407.2a2.65 2.65 0 1 0 5.3 0a2.65 2.65 0 1 0 -5.3 0M234.3 429.6a2.65 2.65 0 1 0 5.3 0a2.65 2.65 0 1 0 -5.3 0M236 452.8a2.65 2.65 0 1 0 5.3 0a2.65 2.65 0 1 0 -5.3 0M233.5 433.7a2.65 2.65 0 1 0 5.3 0a2.65 2.65 0 1 0 -5.3 0M240.5 451.4a2.65 2.65 0 1 0 5.3 0a2.65 2.65 0 1 0 -5.3 0M230.2 424.6a2.65 2.65 0 1 0 5.3 0a2.65 2.65 0 1 0 -5.3 0M239.5 438.4a2.65 2.65 0 1 0 5.3 0a2.65 2.65 0 1 0 -5.3 0M217.9 436.7a2.65 2.65 0 1 0 5.3 0a2.65 2.65 0 1 0 -5.3 0M241.1 457.1a2.65 2.65 0 1 0 5.3 0a2.65 2.65 0 1 0 -5.3 0M228.6 460.3a2.65 2.65 0 1 0 5.3 0a2.65 2.65 0 1 0 -5.3 0M235 428.8a2.65 2.65 0 1 0 5.3 0a2.65 2.65 0 1 0 -5.3 0M242.3 437.7a2.65 2.65 0 1 0 5.3 0a2.65 2.65 0 1 0 -5.3 0M228.9 452.7a2.65 2.65 0 1 0 5.3 0a2.65 2.65 0 1 0 -5.3 0M229.8 428.1a2.65 2.65 0 1 0 5.3 0a2.65 2.65 0 1 0 -5.3 0M235.5 446.9a2.65 2.65 0 1 0 5.3 0a2.65 2.65 0 1 0 -5.3 0M224.3 425.6a2.65 2.65 0 1 0 5.3 0a2.65 2.65 0 1 0 -5.3 0M231.8 433.2a2.65 2.65 0 1 0 5.3 0a2.65 2.65 0 1 0 -5.3 0M234.7 415.3a2.65 2.65 0 1 0 5.3 0a2.65 2.65 0 1 0 -5.3 0M234.8 459.9a2.65 2.65 0 1 0 5.3 0a2.65 2.65 0 1 0 -5.3 0M240.1 448.3a2.65 2.65 0 1 0 5.3 0a2.65 2.65 0 1 0 -5.3 0M228.6 418.1a2.65 2.65 0 1 0 5.3 0a2.65 2.65 0 1 0 -5.3 0M227.5 435.2a2.65 2.65 0 1 0 5.3 0a2.65 2.65 0 1 0 -5.3 0M239.4 447.8a2.65 2.65 0 1 0 5.3 0a2.65 2.65 0 1 0 -5.3 0M218.3 443.9a2.65 2.65 0 1 0 5.3 0a2.65 2.65 0 1 0 -5.3 0M218.6 417.1a2.65 2.65 0 1 0 5.3 0a2.65 2.65 0 1 0 -5.3 0M240.2 448.1a2.65 2.65 0 1 0 5.3 0a2.65 2.65 0 1 0 -5.3 0M238.7 437.8a2.65 2.65 0 1 0 5.3 0a2.65 2.65 0 1 0 -5.3 0M241.6 435.9a2.65 2.65 0 1 0 5.3 0a2.65 2.65 0 1 0 -5.3 0M240.5 427.1a2.65 2.65 0 1 0 5.3 0a2.65 2.65 0 1 0 -5.3 0M244.3 456a2.65 2.65 0 1 0 5.3 0a2.65 2.65 0 1 0 -5.3 0M246.1 447.9a2.65 2.65 0 1 0 5.3 0a2.65 2.65 0 1 0 -5.3 0M227.6 424.8a2.65 2.65 0 1 0 5.3 0a2.65 2.65 0 1 0 -5.3 0M228.2 425.3a2.65 2.65 0 1 0 5.3 0a2.65 2.65 0 1 0 -5.3 0M239.6 457.3a2.65 2.65 0 1 0 5.3 0a2.65 2.65 0 1 0 -5.3 0M218.8 434a2.65 2.65 0 1 0 5.3 0a2.65 2.65 0 1 0 -5.3 0M217.4 422.6a2.65 2.65 0 1 0 5.3 0a2.65 2.65 0 1 0 -5.3 0M237.9 457.5a2.65 2.65 0 1 0 5.3 0a2.65 2.65 0 1 0 -5.3 0M231.5 404.5a2.65 2.65 0 1 0 5.3 0a2.65 2.65 0 1 0 -5.3 0M220 453.2a2.65 2.65 0 1 0 5.3 0a2.65 2.65 0 1 0 -5.3 0M218.6 447.2a2.65 2.65 0 1 0 5.3 0a2.65 2.65 0 1 0 -5.3 0M242.2 452.3a2.65 2.65 0 1 0 5.3 0a2.65 2.65 0 1 0 -5.3 0M239.2 443a2.65 2.65 0 1 0 5.3 0a2.65 2.65 0 1 0 -5.3 0M233.2 457.2a2.65 2.65 0 1 0 5.3 0a2.65 2.65 0 1 0 -5.3 0M225.9 459.2a2.65 2.65 0 1 0 5.3 0a2.65 2.65 0 1 0 -5.3 0M217.4 439.3a2.65 2.65 0 1 0 5.3 0a2.65 2.65 0 1 0 -5.3 0M227.9 444.3a2.65 2.65 0 1 0 5.3 0a2.65 2.65 0 1 0 -5.3 0M222.7 452.7a2.65 2.65 0 1 0 5.3 0a2.65 2.65 0 1 0 -5.3 0M229.9 434.5a2.65 2.65 0 1 0 5.3 0a2.65 2.65 0 1 0 -5.3 0M232.4 441a2.65 2.65 0 1 0 5.3 0a2.65 2.65 0 1 0 -5.3 0M222 448.6a2.65 2.65 0 1 0 5.3 0a2.65 2.65 0 1 0 -5.3 0M229.7 439a2.65 2.65 0 1 0 5.3 0a2.65 2.65 0 1 0 -5.3 0M239.2 424.5a2.65 2.65 0 1 0 5.3 0a2.65 2.65 0 1 0 -5.3 0M230.5 447.9a2.65 2.65 0 1 0 5.3 0a2.65 2.65 0 1 0 -5.3 0M237 416.6a2.65 2.65 0 1 0 5.3 0a2.65 2.65 0 1 0 -5.3 0M241.8 450.5a2.65 2.65 0 1 0 5.3 0a2.65 2.65 0 1 0 -5.3 0M228.6 436.5a2.65 2.65 0 1 0 5.3 0a2.65 2.65 0 1 0 -5.3 0M232.1 454.4a2.65 2.65 0 1 0 5.3 0a2.65 2.65 0 1 0 -5.3 0M230.2 441.5a2.65 2.65 0 1 0 5.3 0a2.65 2.65 0 1 0 -5.3 0M238.2 454.9a2.65 2.65 0 1 0 5.3 0a2.65 2.65 0 1 0 -5.3 0M231.8 435.3a2.65 2.65 0 1 0 5.3 0a2.65 2.65 0 1 0 -5.3 0M245.8 454.4a2.65 2.65 0 1 0 5.3 0a2.65 2.65 0 1 0 -5.3 0M245.7 453.1a2.65 2.65 0 1 0 5.3 0a2.65 2.65 0 1 0 -5.3 0M247.1 449.2a2.65 2.65 0 1 0 5.3 0a2.65 2.65 0 1 0 -5.3 0M241.2 456a2.65 2.65 0 1 0 5.3 0a2.65 2.65 0 1 0 -5.3 0M229.2 403.4a2.65 2.65 0 1 0 5.3 0a2.65 2.65 0 1 0 -5.3 0M236.5 448.6a2.65 2.65 0 1 0 5.3 0a2.65 2.65 0 1 0 -5.3 0M224 445.6a2.65 2.65 0 1 0 5.3 0a2.65 2.65 0 1 0 -5.3 0M238.4 441a2.65 2.65 0 1 0 5.3 0a2.65 2.65 0 1 0 -5.3 0M233.4 411.1a2.65 2.65 0 1 0 5.3 0a2.65 2.65 0 1 0 -5.3 0M225.9 445.7a2.65 2.65 0 1 0 5.3 0a2.65 2.65 0 1 0 -5.3 0M220 449.2a2.65 2.65 0 1 0 5.3 0a2.65 2.65 0 1 0 -5.3 0M237.4 455a2.65 2.65 0 1 0 5.3 0a2.65 2.65 0 1 0 -5.3 0M233.8 435.4a2.65 2.65 0 1 0 5.3 0a2.65 2.65 0 1 0 -5.3 0M223.6 410.2a2.65 2.65 0 1 0 5.3 0a2.65 2.65 0 1 0 -5.3 0M223.3 442.5a2.65 2.65 0 1 0 5.3 0a2.65 2.65 0 1 0 -5.3 0M229.7 433.8a2.65 2.65 0 1 0 5.3 0a2.65 2.65 0 1 0 -5.3 0M231.1 430.8a2.65 2.65 0 1 0 5.3 0a2.65 2.65 0 1 0 -5.3 0M220.6 438.2a2.65 2.65 0 1 0 5.3 0a2.65 2.65 0 1 0 -5.3 0M238.1 419.9a2.65 2.65 0 1 0 5.3 0a2.65 2.65 0 1 0 -5.3 0M245.9 459.2a2.65 2.65 0 1 0 5.3 0a2.65 2.65 0 1 0 -5.3 0M225.9 400.4a2.65 2.65 0 1 0 5.3 0a2.65 2.65 0 1 0 -5.3 0M224 409.5a2.65 2.65 0 1 0 5.3 0a2.65 2.65 0 1 0 -5.3 0M236.6 453.3a2.65 2.65 0 1 0 5.3 0a2.65 2.65 0 1 0 -5.3 0M233.1 458.1a2.65 2.65 0 1 0 5.3 0a2.65 2.65 0 1 0 -5.3 0M238.1 423.2a2.65 2.65 0 1 0 5.3 0a2.65 2.65 0 1 0 -5.3 0M226 433.8a2.65 2.65 0 1 0 5.3 0a2.65 2.65 0 1 0 -5.3 0M239.6 458.7a2.65 2.65 0 1 0 5.3 0a2.65 2.65 0 1 0 -5.3 0M232.8 408.1a2.65 2.65 0 1 0 5.3 0a2.65 2.65 0 1 0 -5.3 0M251.1 461a2.65 2.65 0 1 0 5.3 0a2.65 2.65 0 1 0 -5.3 0M221.7 461.2a2.65 2.65 0 1 0 5.3 0a2.65 2.65 0 1 0 -5.3 0M221.3 459.9a2.65 2.65 0 1 0 5.3 0a2.65 2.65 0 1 0 -5.3 0M221.4 458.7a2.65 2.65 0 1 0 5.3 0a2.65 2.65 0 1 0 -5.3 0M221 456.6a2.65 2.65 0 1 0 5.3 0a2.65 2.65 0 1 0 -5.3 0M220.6 455.5a2.65 2.65 0 1 0 5.3 0a2.65 2.65 0 1 0 -5.3 0M220.2 454.1a2.65 2.65 0 1 0 5.3 0a2.65 2.65 0 1 0 -5.3 0M219.4 452.1a2.65 2.65 0 1 0 5.3 0a2.65 2.65 0 1 0 -5.3 0M219.5 451a2.65 2.65 0 1 0 5.3 0a2.65 2.65 0 1 0 -5.3 0M219.1 449.1a2.65 2.65 0 1 0 5.3 0a2.65 2.65 0 1 0 -5.3 0M218.7 447.8a2.65 2.65 0 1 0 5.3 0a2.65 2.65 0 1 0 -5.3 0M218 446a2.65 2.65 0 1 0 5.3 0a2.65 2.65 0 1 0 -5.3 0M217.8 444.4a2.65 2.65 0 1 0 5.3 0a2.65 2.65 0 1 0 -5.3 0M217.6 442.9a2.65 2.65 0 1 0 5.3 0a2.65 2.65 0 1 0 -5.3 0M217.1 441.3a2.65 2.65 0 1 0 5.3 0a2.65 2.65 0 1 0 -5.3 0M217 439.7a2.65 2.65 0 1 0 5.3 0a2.65 2.65 0 1 0 -5.3 0M217 438.3a2.65 2.65 0 1 0 5.3 0a2.65 2.65 0 1 0 -5.3 0M216.6 437.3a2.65 2.65 0 1 0 5.3 0a2.65 2.65 0 1 0 -5.3 0M216.7 435.8a2.65 2.65 0 1 0 5.3 0a2.65 2.65 0 1 0 -5.3 0M217.1 434.2a2.65 2.65 0 1 0 5.3 0a2.65 2.65 0 1 0 -5.3 0M216.6 432.5a2.65 2.65 0 1 0 5.3 0a2.65 2.65 0 1 0 -5.3 0M216.6 431.3a2.65 2.65 0 1 0 5.3 0a2.65 2.65 0 1 0 -5.3 0M217.1 429.6a2.65 2.65 0 1 0 5.3 0a2.65 2.65 0 1 0 -5.3 0M216.8 427.9a2.65 2.65 0 1 0 5.3 0a2.65 2.65 0 1 0 -5.3 0M217 426.5a2.65 2.65 0 1 0 5.3 0a2.65 2.65 0 1 0 -5.3 0M216.9 424.8a2.65 2.65 0 1 0 5.3 0a2.65 2.65 0 1 0 -5.3 0M217 423.1a2.65 2.65 0 1 0 5.3 0a2.65 2.65 0 1 0 -5.3 0M217.6 421.8a2.65 2.65 0 1 0 5.3 0a2.65 2.65 0 1 0 -5.3 0M217.6 420.3a2.65 2.65 0 1 0 5.3 0a2.65 2.65 0 1 0 -5.3 0M218 418.4a2.65 2.65 0 1 0 5.3 0a2.65 2.65 0 1 0 -5.3 0M218.2 416.7a2.65 2.65 0 1 0 5.3 0a2.65 2.65 0 1 0 -5.3 0M218.9 415.2a2.65 2.65 0 1 0 5.3 0a2.65 2.65 0 1 0 -5.3 0M218.8 413.6a2.65 2.65 0 1 0 5.3 0a2.65 2.65 0 1 0 -5.3 0M219.2 412.2a2.65 2.65 0 1 0 5.3 0a2.65 2.65 0 1 0 -5.3 0M219.7 410.9a2.65 2.65 0 1 0 5.3 0a2.65 2.65 0 1 0 -5.3 0M220.2 409.4a2.65 2.65 0 1 0 5.3 0a2.65 2.65 0 1 0 -5.3 0M221.2 407.5a2.65 2.65 0 1 0 5.3 0a2.65 2.65 0 1 0 -5.3 0M221.6 406.2a2.65 2.65 0 1 0 5.3 0a2.65 2.65 0 1 0 -5.3 0M222.1 404.7a2.65 2.65 0 1 0 5.3 0a2.65 2.65 0 1 0 -5.3 0M222.7 403.7a2.65 2.65 0 1 0 5.3 0a2.65 2.65 0 1 0 -5.3 0M223.6 402.3a2.65 2.65 0 1 0 5.3 0a2.65 2.65 0 1 0 -5.3 0M224.4 400.9a2.65 2.65 0 1 0 5.3 0a2.65 2.65 0 1 0 -5.3 0M226.1 399.7a2.65 2.65 0 1 0 5.3 0a2.65 2.65 0 1 0 -5.3 0M227.2 398.9a2.65 2.65 0 1 0 5.3 0a2.65 2.65 0 1 0 -5.3 0M228.6 397.7a2.65 2.65 0 1 0 5.3 0a2.65 2.65 0 1 0 -5.3 0M229.4 399.3a2.65 2.65 0 1 0 5.3 0a2.65 2.65 0 1 0 -5.3 0M229.8 400.6a2.65 2.65 0 1 0 5.3 0a2.65 2.65 0 1 0 -5.3 0M231 402.3a2.65 2.65 0 1 0 5.3 0a2.65 2.65 0 1 0 -5.3 0M231.5 403.7a2.65 2.65 0 1 0 5.3 0a2.65 2.65 0 1 0 -5.3 0M232.7 405a2.65 2.65 0 1 0 5.3 0a2.65 2.65 0 1 0 -5.3 0M233.4 406.4a2.65 2.65 0 1 0 5.3 0a2.65 2.65 0 1 0 -5.3 0M234 408.2a2.65 2.65 0 1 0 5.3 0a2.65 2.65 0 1 0 -5.3 0M234.8 409.3a2.65 2.65 0 1 0 5.3 0a2.65 2.65 0 1 0 -5.3 0M234.9 410.6a2.65 2.65 0 1 0 5.3 0a2.65 2.65 0 1 0 -5.3 0M235.7 412.3a2.65 2.65 0 1 0 5.3 0a2.65 2.65 0 1 0 -5.3 0M236 413.6a2.65 2.65 0 1 0 5.3 0a2.65 2.65 0 1 0 -5.3 0M236.7 415.4a2.65 2.65 0 1 0 5.3 0a2.65 2.65 0 1 0 -5.3 0M237.3 416.7a2.65 2.65 0 1 0 5.3 0a2.65 2.65 0 1 0 -5.3 0M237.4 417.9a2.65 2.65 0 1 0 5.3 0a2.65 2.65 0 1 0 -5.3 0M238.2 419.5a2.65 2.65 0 1 0 5.3 0a2.65 2.65 0 1 0 -5.3 0M238.7 420.7a2.65 2.65 0 1 0 5.3 0a2.65 2.65 0 1 0 -5.3 0M239.3 422.4a2.65 2.65 0 1 0 5.3 0a2.65 2.65 0 1 0 -5.3 0M239.8 424.1a2.65 2.65 0 1 0 5.3 0a2.65 2.65 0 1 0 -5.3 0M240 425.1a2.65 2.65 0 1 0 5.3 0a2.65 2.65 0 1 0 -5.3 0M240.8 426.8a2.65 2.65 0 1 0 5.3 0a2.65 2.65 0 1 0 -5.3 0M241.3 428.1a2.65 2.65 0 1 0 5.3 0a2.65 2.65 0 1 0 -5.3 0M241.3 429.9a2.65 2.65 0 1 0 5.3 0a2.65 2.65 0 1 0 -5.3 0M241.9 430.9a2.65 2.65 0 1 0 5.3 0a2.65 2.65 0 1 0 -5.3 0M242.4 432.6a2.65 2.65 0 1 0 5.3 0a2.65 2.65 0 1 0 -5.3 0M242.7 434a2.65 2.65 0 1 0 5.3 0a2.65 2.65 0 1 0 -5.3 0M243.5 435.5a2.65 2.65 0 1 0 5.3 0a2.65 2.65 0 1 0 -5.3 0M243.8 437a2.65 2.65 0 1 0 5.3 0a2.65 2.65 0 1 0 -5.3 0M244.7 438.6a2.65 2.65 0 1 0 5.3 0a2.65 2.65 0 1 0 -5.3 0M244.9 439.9a2.65 2.65 0 1 0 5.3 0a2.65 2.65 0 1 0 -5.3 0M245.4 441.4a2.65 2.65 0 1 0 5.3 0a2.65 2.65 0 1 0 -5.3 0M245.7 442.9a2.65 2.65 0 1 0 5.3 0a2.65 2.65 0 1 0 -5.3 0M246.7 444.1a2.65 2.65 0 1 0 5.3 0a2.65 2.65 0 1 0 -5.3 0M246.9 445.6a2.65 2.65 0 1 0 5.3 0a2.65 2.65 0 1 0 -5.3 0M247.5 446.8a2.65 2.65 0 1 0 5.3 0a2.65 2.65 0 1 0 -5.3 0M248.2 448.3a2.65 2.65 0 1 0 5.3 0a2.65 2.65 0 1 0 -5.3 0M248.2 449.7a2.65 2.65 0 1 0 5.3 0a2.65 2.65 0 1 0 -5.3 0M248.8 451.6a2.65 2.65 0 1 0 5.3 0a2.65 2.65 0 1 0 -5.3 0M249.1 452.6a2.65 2.65 0 1 0 5.3 0a2.65 2.65 0 1 0 -5.3 0M250 454.1a2.65 2.65 0 1 0 5.3 0a2.65 2.65 0 1 0 -5.3 0M250.1 455.8a2.65 2.65 0 1 0 5.3 0a2.65 2.65 0 1 0 -5.3 0M250.9 457.2a2.65 2.65 0 1 0 5.3 0a2.65 2.65 0 1 0 -5.3 0M251.5 458.4a2.65 2.65 0 1 0 5.3 0a2.65 2.65 0 1 0 -5.3 0M252.1 460.2a2.65 2.65 0 1 0 5.3 0a2.65 2.65 0 1 0 -5.3 0M252.1 461.3a2.65 2.65 0 1 0 5.3 0a2.65 2.65 0 1 0 -5.3 0M250.8 461.5a2.65 2.65 0 1 0 5.3 0a2.65 2.65 0 1 0 -5.3 0M249.2 461.3a2.65 2.65 0 1 0 5.3 0a2.65 2.65 0 1 0 -5.3 0M247.7 461.3a2.65 2.65 0 1 0 5.3 0a2.65 2.65 0 1 0 -5.3 0M246.3 461.7a2.65 2.65 0 1 0 5.3 0a2.65 2.65 0 1 0 -5.3 0M244.5 461.5a2.65 2.65 0 1 0 5.3 0a2.65 2.65 0 1 0 -5.3 0M243.3 461.3a2.65 2.65 0 1 0 5.3 0a2.65 2.65 0 1 0 -5.3 0M241.9 461.8a2.65 2.65 0 1 0 5.3 0a2.65 2.65 0 1 0 -5.3 0M240.1 461.5a2.65 2.65 0 1 0 5.3 0a2.65 2.65 0 1 0 -5.3 0M238.8 461.5a2.65 2.65 0 1 0 5.3 0a2.65 2.65 0 1 0 -5.3 0M237 461.8a2.65 2.65 0 1 0 5.3 0a2.65 2.65 0 1 0 -5.3 0M235.7 461.4a2.65 2.65 0 1 0 5.3 0a2.65 2.65 0 1 0 -5.3 0M233.9 461.4a2.65 2.65 0 1 0 5.3 0a2.65 2.65 0 1 0 -5.3 0M232.5 461.8a2.65 2.65 0 1 0 5.3 0a2.65 2.65 0 1 0 -5.3 0M231.2 461.7a2.65 2.65 0 1 0 5.3 0a2.65 2.65 0 1 0 -5.3 0M229.7 461.7a2.65 2.65 0 1 0 5.3 0a2.65 2.65 0 1 0 -5.3 0M227.7 461.5a2.65 2.65 0 1 0 5.3 0a2.65 2.65 0 1 0 -5.3 0M226.7 461.8a2.65 2.65 0 1 0 5.3 0a2.65 2.65 0 1 0 -5.3 0M224.7 461.5a2.65 2.65 0 1 0 5.3 0a2.65 2.65 0 1 0 -5.3 0M223.5 461.4a2.65 2.65 0 1 0 5.3 0a2.65 2.65 0 1 0 -5.3 0M224.1 382.3a2.65 2.65 0 1 0 5.3 0a2.65 2.65 0 1 0 -5.3 0M221.7 409.3a2.65 2.65 0 1 0 5.3 0a2.65 2.65 0 1 0 -5.3 0M226.7 394.5a2.65 2.65 0 1 0 5.3 0a2.65 2.65 0 1 0 -5.3 0M227.6 395a2.65 2.65 0 1 0 5.3 0a2.65 2.65 0 1 0 -5.3 0M226.3 393.5a2.65 2.65 0 1 0 5.3 0a2.65 2.65 0 1 0 -5.3 0M223.8 404.9a2.65 2.65 0 1 0 5.3 0a2.65 2.65 0 1 0 -5.3 0M218.7 418.1a2.65 2.65 0 1 0 5.3 0a2.65 2.65 0 1 0 -5.3 0M214.2 414.8a2.65 2.65 0 1 0 5.3 0a2.65 2.65 0 1 0 -5.3 0M217.8 406.9a2.65 2.65 0 1 0 5.3 0a2.65 2.65 0 1 0 -5.3 0M224.2 387.2a2.65 2.65 0 1 0 5.3 0a2.65 2.65 0 1 0 -5.3 0M214.3 386.1a2.65 2.65 0 1 0 5.3 0a2.65 2.65 0 1 0 -5.3 0M218.4 403.2a2.65 2.65 0 1 0 5.3 0a2.65 2.65 0 1 0 -5.3 0M218.3 393.1a2.65 2.65 0 1 0 5.3 0a2.65 2.65 0 1 0 -5.3 0M213.5 411.9a2.65 2.65 0 1 0 5.3 0a2.65 2.65 0 1 0 -5.3 0M216.2 422a2.65 2.65 0 1 0 5.3 0a2.65 2.65 0 1 0 -5.3 0M222.4 412a2.65 2.65 0 1 0 5.3 0a2.65 2.65 0 1 0 -5.3 0M226.1 407.1a2.65 2.65 0 1 0 5.3 0a2.65 2.65 0 1 0 -5.3 0M218.8 393a2.65 2.65 0 1 0 5.3 0a2.65 2.65 0 1 0 -5.3 0M216.7 409.8a2.65 2.65 0 1 0 5.3 0a2.65 2.65 0 1 0 -5.3 0M220.5 414.3a2.65 2.65 0 1 0 5.3 0a2.65 2.65 0 1 0 -5.3 0M224.7 408.5a2.65 2.65 0 1 0 5.3 0a2.65 2.65 0 1 0 -5.3 0M218.4 425.9a2.65 2.65 0 1 0 5.3 0a2.65 2.65 0 1 0 -5.3 0M215.2 382.1a2.65 2.65 0 1 0 5.3 0a2.65 2.65 0 1 0 -5.3 0M232.3 405.3a2.65 2.65 0 1 0 5.3 0a2.65 2.65 0 1 0 -5.3 0M212.8 402a2.65 2.65 0 1 0 5.3 0a2.65 2.65 0 1 0 -5.3 0M214 392a2.65 2.65 0 1 0 5.3 0a2.65 2.65 0 1 0 -5.3 0M215.1 398.9a2.65 2.65 0 1 0 5.3 0a2.65 2.65 0 1 0 -5.3 0M219.8 419.9a2.65 2.65 0 1 0 5.3 0a2.65 2.65 0 1 0 -5.3 0M229.6 407.5a2.65 2.65 0 1 0 5.3 0a2.65 2.65 0 1 0 -5.3 0M225.1 403.9a2.65 2.65 0 1 0 5.3 0a2.65 2.65 0 1 0 -5.3 0M225.9 401.5a2.65 2.65 0 1 0 5.3 0a2.65 2.65 0 1 0 -5.3 0M222.2 406.4a2.65 2.65 0 1 0 5.3 0a2.65 2.65 0 1 0 -5.3 0M228.7 396.2a2.65 2.65 0 1 0 5.3 0a2.65 2.65 0 1 0 -5.3 0M220.7 412.4a2.65 2.65 0 1 0 5.3 0a2.65 2.65 0 1 0 -5.3 0M220.6 398a2.65 2.65 0 1 0 5.3 0a2.65 2.65 0 1 0 -5.3 0M223.3 405.5a2.65 2.65 0 1 0 5.3 0a2.65 2.65 0 1 0 -5.3 0M215.8 396.9a2.65 2.65 0 1 0 5.3 0a2.65 2.65 0 1 0 -5.3 0M214.8 413.7a2.65 2.65 0 1 0 5.3 0a2.65 2.65 0 1 0 -5.3 0M225.3 383.5a2.65 2.65 0 1 0 5.3 0a2.65 2.65 0 1 0 -5.3 0M224.9 408.8a2.65 2.65 0 1 0 5.3 0a2.65 2.65 0 1 0 -5.3 0M223.8 410.1a2.65 2.65 0 1 0 5.3 0a2.65 2.65 0 1 0 -5.3 0M227.8 402.2a2.65 2.65 0 1 0 5.3 0a2.65 2.65 0 1 0 -5.3 0M219.9 414.9a2.65 2.65 0 1 0 5.3 0a2.65 2.65 0 1 0 -5.3 0M227.6 410.6a2.65 2.65 0 1 0 5.3 0a2.65 2.65 0 1 0 -5.3 0M213.7 401.2a2.65 2.65 0 1 0 5.3 0a2.65 2.65 0 1 0 -5.3 0M221 412.8a2.65 2.65 0 1 0 5.3 0a2.65 2.65 0 1 0 -5.3 0M234.5 408.2a2.65 2.65 0 1 0 5.3 0a2.65 2.65 0 1 0 -5.3 0M221.9 416.7a2.65 2.65 0 1 0 5.3 0a2.65 2.65 0 1 0 -5.3 0M215.4 397.7a2.65 2.65 0 1 0 5.3 0a2.65 2.65 0 1 0 -5.3 0M223.7 384.9a2.65 2.65 0 1 0 5.3 0a2.65 2.65 0 1 0 -5.3 0M232.7 404.1a2.65 2.65 0 1 0 5.3 0a2.65 2.65 0 1 0 -5.3 0M215.1 396a2.65 2.65 0 1 0 5.3 0a2.65 2.65 0 1 0 -5.3 0M223.6 409.3a2.65 2.65 0 1 0 5.3 0a2.65 2.65 0 1 0 -5.3 0M215.9 389.3a2.65 2.65 0 1 0 5.3 0a2.65 2.65 0 1 0 -5.3 0M218.7 420.8a2.65 2.65 0 1 0 5.3 0a2.65 2.65 0 1 0 -5.3 0M227.4 390.2a2.65 2.65 0 1 0 5.3 0a2.65 2.65 0 1 0 -5.3 0M217.7 418.1a2.65 2.65 0 1 0 5.3 0a2.65 2.65 0 1 0 -5.3 0M225.1 403.5a2.65 2.65 0 1 0 5.3 0a2.65 2.65 0 1 0 -5.3 0M214.3 387.7a2.65 2.65 0 1 0 5.3 0a2.65 2.65 0 1 0 -5.3 0M213.8 388.6a2.65 2.65 0 1 0 5.3 0a2.65 2.65 0 1 0 -5.3 0M229.8 398a2.65 2.65 0 1 0 5.3 0a2.65 2.65 0 1 0 -5.3 0M228.5 399.9a2.65 2.65 0 1 0 5.3 0a2.65 2.65 0 1 0 -5.3 0M215.4 394.5a2.65 2.65 0 1 0 5.3 0a2.65 2.65 0 1 0 -5.3 0M213.7 434a2.65 2.65 0 1 0 5.3 0a2.65 2.65 0 1 0 -5.3 0M225.3 399.6a2.65 2.65 0 1 0 5.3 0a2.65 2.65 0 1 0 -5.3 0M222.1 401.9a2.65 2.65 0 1 0 5.3 0a2.65 2.65 0 1 0 -5.3 0M212.7 433.2a2.65 2.65 0 1 0 5.3 0a2.65 2.65 0 1 0 -5.3 0M221.9 416.5a2.65 2.65 0 1 0 5.3 0a2.65 2.65 0 1 0 -5.3 0M217.3 380.7a2.65 2.65 0 1 0 5.3 0a2.65 2.65 0 1 0 -5.3 0M230.9 396.8a2.65 2.65 0 1 0 5.3 0a2.65 2.65 0 1 0 -5.3 0M148.5 39.4a2.65 2.65 0 1 0 5.3 0a2.65 2.65 0 1 0 -5.3 0M185.7 168.4a2.65 2.65 0 1 0 5.3 0a2.65 2.65 0 1 0 -5.3 0M197.2 226.2a2.65 2.65 0 1 0 5.3 0a2.65 2.65 0 1 0 -5.3 0M183.2 255.8a2.65 2.65 0 1 0 5.3 0a2.65 2.65 0 1 0 -5.3 0M132.2 267a2.65 2.65 0 1 0 5.3 0a2.65 2.65 0 1 0 -5.3 0M206.2 282.6a2.65 2.65 0 1 0 5.3 0a2.65 2.65 0 1 0 -5.3 0M140.8 310a2.65 2.65 0 1 0 5.3 0a2.65 2.65 0 1 0 -5.3 0M202 310.9a2.65 2.65 0 1 0 5.3 0a2.65 2.65 0 1 0 -5.3 0M193.9 319.5a2.65 2.65 0 1 0 5.3 0a2.65 2.65 0 1 0 -5.3 0M215 321.9a2.65 2.65 0 1 0 5.3 0a2.65 2.65 0 1 0 -5.3 0M212.8 326.9a2.65 2.65 0 1 0 5.3 0a2.65 2.65 0 1 0 -5.3 0M211.2 326.9a2.65 2.65 0 1 0 5.3 0a2.65 2.65 0 1 0 -5.3 0M191.5 331.6a2.65 2.65 0 1 0 5.3 0a2.65 2.65 0 1 0 -5.3 0M215.8 337.9a2.65 2.65 0 1 0 5.3 0a2.65 2.65 0 1 0 -5.3 0M217.4 338.7a2.65 2.65 0 1 0 5.3 0a2.65 2.65 0 1 0 -5.3 0M182.4 346.8a2.65 2.65 0 1 0 5.3 0a2.65 2.65 0 1 0 -5.3 0M199.3 348.6a2.65 2.65 0 1 0 5.3 0a2.65 2.65 0 1 0 -5.3 0M204.8 349.2a2.65 2.65 0 1 0 5.3 0a2.65 2.65 0 1 0 -5.3 0M211.4 348.9a2.65 2.65 0 1 0 5.3 0a2.65 2.65 0 1 0 -5.3 0M150.2 353.9a2.65 2.65 0 1 0 5.3 0a2.65 2.65 0 1 0 -5.3 0M203.3 358.3a2.65 2.65 0 1 0 5.3 0a2.65 2.65 0 1 0 -5.3 0M207.2 359.1a2.65 2.65 0 1 0 5.3 0a2.65 2.65 0 1 0 -5.3 0M221.7 360.7a2.65 2.65 0 1 0 5.3 0a2.65 2.65 0 1 0 -5.3 0M211.2 366.5a2.65 2.65 0 1 0 5.3 0a2.65 2.65 0 1 0 -5.3 0M216.2 368.5a2.65 2.65 0 1 0 5.3 0a2.65 2.65 0 1 0 -5.3 0M206.8 379a2.65 2.65 0 1 0 5.3 0a2.65 2.65 0 1 0 -5.3 0M217.4 382.6a2.65 2.65 0 1 0 5.3 0a2.65 2.65 0 1 0 -5.3 0M223.8 383.4a2.65 2.65 0 1 0 5.3 0a2.65 2.65 0 1 0 -5.3 0M223.8 388.1a2.65 2.65 0 1 0 5.3 0a2.65 2.65 0 1 0 -5.3 0M226 392a2.65 2.65 0 1 0 5.3 0a2.65 2.65 0 1 0 -5.3 0M211.2 389.7a2.65 2.65 0 1 0 5.3 0a2.65 2.65 0 1 0 -5.3 0M214.3 394.4a2.65 2.65 0 1 0 5.3 0a2.65 2.65 0 1 0 -5.3 0M229.2 393.6a2.65 2.65 0 1 0 5.3 0a2.65 2.65 0 1 0 -5.3 0M202.5 395.7a2.65 2.65 0 1 0 5.3 0a2.65 2.65 0 1 0 -5.3 0M230 397.5a2.65 2.65 0 1 0 5.3 0a2.65 2.65 0 1 0 -5.3 0M208 400.4a2.65 2.65 0 1 0 5.3 0a2.65 2.65 0 1 0 -5.3 0M204.8 405.4a2.65 2.65 0 1 0 5.3 0a2.65 2.65 0 1 0 -5.3 0M211.3 412a2.65 2.65 0 1 0 5.3 0a2.65 2.65 0 1 0 -5.3 0M208.3 418a2.65 2.65 0 1 0 5.3 0a2.65 2.65 0 1 0 -5.3 0M213.3 425a2.65 2.65 0 1 0 5.3 0a2.65 2.65 0 1 0 -5.3 0M210.3 432a2.65 2.65 0 1 0 5.3 0a2.65 2.65 0 1 0 -5.3 0" fill="#00BA38"/>
<path d="M193.6 463.1a2.65 2.65 0 1 0 5.3 0a2.65 2.65 0 1 0 -5.3 0M196.4 464.1a2.65 2.65 0 1 0 5.3 0a2.65 2.65 0 1 0 -5.3 0M198.5 465.8a2.65 2.65 0 1 0 5.3 0a2.65 2.65 0 1 0 -5.3 0M200.9 467.1a2.65 2.65 0 1 0 5.3 0a2.65 2.65 0 1 0 -5.3 0M203.6 469.4a2.65 2.65 0 1 0 5.3 0a2.65 2.65 0 1 0 -5.3 0M206.3 470.2a2.65 2.65 0 1 0 5.3 0a2.65 2.65 0 1 0 -5.3 0M211.7 473.2a2.65 2.65 0 1 0 5.3 0a2.65 2.65 0 1 0 -5.3 0M214.8 474.2a2.65 2.65 0 1 0 5.3 0a2.65 2.65 0 1 0 -5.3 0M276.8 471.3a2.65 2.65 0 1 0 5.3 0a2.65 2.65 0 1 0 -5.3 0M282.3 465.9a2.65 2.65 0 1 0 5.3 0a2.65 2.65 0 1 0 -5.3 0M229.2 465.6a2.65 2.65 0 1 0 5.3 0a2.65 2.65 0 1 0 -5.3 0M282.8 468.3a2.65 2.65 0 1 0 5.3 0a2.65 2.65 0 1 0 -5.3 0M286.3 463.8a2.65 2.65 0 1 0 5.3 0a2.65 2.65 0 1 0 -5.3 0M229.8 466.6a2.65 2.65 0 1 0 5.3 0a2.65 2.65 0 1 0 -5.3 0M291.4 463.8a2.65 2.65 0 1 0 5.3 0a2.65 2.65 0 1 0 -5.3 0M228 465.1a2.65 2.65 0 1 0 5.3 0a2.65 2.65 0 1 0 -5.3 0M274.2 474.2a2.65 2.65 0 1 0 5.3 0a2.65 2.65 0 1 0 -5.3 0M253.9 468a2.65 2.65 0 1 0 5.3 0a2.65 2.65 0 1 0 -5.3 0M278.2 472.9a2.65 2.65 0 1 0 5.3 0a2.65 2.65 0 1 0 -5.3 0M231.5 467.1a2.65 2.65 0 1 0 5.3 0a2.65 2.65 0 1 0 -5.3 0M244.7 465.6a2.65 2.65 0 1 0 5.3 0a2.65 2.65 0 1 0 -5.3 0M280.2 464.6a2.65 2.65 0 1 0 5.3 0a2.65 2.65 0 1 0 -5.3 0M247.2 465.6a2.65 2.65 0 1 0 5.3 0a2.65 2.65 0 1 0 -5.3 0M290.1 470.8a2.65 2.65 0 1 0 5.3 0a2.65 2.65 0 1 0 -5.3 0M257.1 469.7a2.65 2.65 0 1 0 5.3 0a2.65 2.65 0 1 0 -5.3 0M290 465.2a2.65 2.65 0 1 0 5.3 0a2.65 2.65 0 1 0 -5.3 0M241.9 463a2.65 2.65 0 1 0 5.3 0a2.65 2.65 0 1 0 -5.3 0M261.3 472.6a2.65 2.65 0 1 0 5.3 0a2.65 2.65 0 1 0 -5.3 0M233.8 467.8a2.65 2.65 0 1 0 5.3 0a2.65 2.65 0 1 0 -5.3 0M251.8 473.7a2.65 2.65 0 1 0 5.3 0a2.65 2.65 0 1 0 -5.3 0M292.4 467a2.65 2.65 0 1 0 5.3 0a2.65 2.65 0 1 0 -5.3 0M280.3 474.9a2.65 2.65 0 1 0 5.3 0a2.65 2.65 0 1 0 -5.3 0M273.9 466a2.65 2.65 0 1 0 5.3 0a2.65 2.65 0 1 0 -5.3 0M256.9 468.3a2.65 2.65 0 1 0 5.3 0a2.65 2.65 0 1 0 -5.3 0M295.1 468.4a2.65 2.65 0 1 0 5.3 0a2.65 2.65 0 1 0 -5.3 0M298.1 463.5a2.65 2.65 0 1 0 5.3 0a2.65 2.65 0 1 0 -5.3 0M290.8 467.5a2.65 2.65 0 1 0 5.3 0a2.65 2.65 0 1 0 -5.3 0M288.8 473.4a2.65 2.65 0 1 0 5.3 0a2.65 2.65 0 1 0 -5.3 0M251.1 473.5a2.65 2.65 0 1 0 5.3 0a2.65 2.65 0 1 0 -5.3 0M279.5 462.8a2.65 2.65 0 1 0 5.3 0a2.65 2.65 0 1 0 -5.3 0M299.2 464.7a2.65 2.65 0 1 0 5.3 0a2.65 2.65 0 1 0 -5.3 0M251.2 467.5a2.65 2.65 0 1 0 5.3 0a2.65 2.65 0 1 0 -5.3 0M267.2 474.4a2.65 2.65 0 1 0 5.3 0a2.65 2.65 0 1 0 -5.3 0M250.4 463.1a2.65 2.65 0 1 0 5.3 0a2.65 2.65 0 1 0 -5.3 0M249.3 467.6a2.65 2.65 0 1 0 5.3 0a2.65 2.65 0 1 0 -5.3 0M268.4 469.4a2.65 2.65 0 1 0 5.3 0a2.65 2.65 0 1 0 -5.3 0M255.2 465.1a2.65 2.65 0 1 0 5.3 0a2.65 2.65 0 1 0 -5.3 0M246.5 468.7a2.65 2.65 0 1 0 5.3 0a2.65 2.65 0 1 0 -5.3 0M256.9 475.7a2.65 2.65 0 1 0 5.3 0a2.65 2.65 0 1 0 -5.3 0M225.6 463.8a2.65 2.65 0 1 0 5.3 0a2.65 2.65 0 1 0 -5.3 0M248.9 472.8a2.65 2.65 0 1 0 5.3 0a2.65 2.65 0 1 0 -5.3 0M292.1 464.9a2.65 2.65 0 1 0 5.3 0a2.65 2.65 0 1 0 -5.3 0M283.5 467.9a2.65 2.65 0 1 0 5.3 0a2.65 2.65 0 1 0 -5.3 0M224.7 462.5a2.65 2.65 0 1 0 5.3 0a2.65 2.65 0 1 0 -5.3 0M274.5 471.5a2.65 2.65 0 1 0 5.3 0a2.65 2.65 0 1 0 -5.3 0M251.6 474.8a2.65 2.65 0 1 0 5.3 0a2.65 2.65 0 1 0 -5.3 0M286.6 465.9a2.65 2.65 0 1 0 5.3 0a2.65 2.65 0 1 0 -5.3 0M273.4 464.8a2.65 2.65 0 1 0 5.3 0a2.65 2.65 0 1 0 -5.3 0M236.2 464.1a2.65 2.65 0 1 0 5.3 0a2.65 2.65 0 1 0 -5.3 0M286.3 468.1a2.65 2.65 0 1 0 5.3 0a2.65 2.65 0 1 0 -5.3 0M278.3 466.5a2.65 2.65 0 1 0 5.3 0a2.65 2.65 0 1 0 -5.3 0M285.6 470.1a2.65 2.65 0 1 0 5.3 0a2.65 2.65 0 1 0 -5.3 0M273.4 467.2a2.65 2.65 0 1 0 5.3 0a2.65 2.65 0 1 0 -5.3 0M229.3 466.3a2.65 2.65 0 1 0 5.3 0a2.65 2.65 0 1 0 -5.3 0M290.5 472.8a2.65 2.65 0 1 0 5.3 0a2.65 2.65 0 1 0 -5.3 0M278.6 465.9a2.65 2.65 0 1 0 5.3 0a2.65 2.65 0 1 0 -5.3 0M239.8 471.7a2.65 2.65 0 1 0 5.3 0a2.65 2.65 0 1 0 -5.3 0M245.1 472a2.65 2.65 0 1 0 5.3 0a2.65 2.65 0 1 0 -5.3 0M249.2 472.5a2.65 2.65 0 1 0 5.3 0a2.65 2.65 0 1 0 -5.3 0M267 473.3a2.65 2.65 0 1 0 5.3 0a2.65 2.65 0 1 0 -5.3 0M291.2 461.9a2.65 2.65 0 1 0 5.3 0a2.65 2.65 0 1 0 -5.3 0M282.6 466.1a2.65 2.65 0 1 0 5.3 0a2.65 2.65 0 1 0 -5.3 0M265.2 472.5a2.65 2.65 0 1 0 5.3 0a2.65 2.65 0 1 0 -5.3 0M282.7 464.7a2.65 2.65 0 1 0 5.3 0a2.65 2.65 0 1 0 -5.3 0M242 471.2a2.65 2.65 0 1 0 5.3 0a2.65 2.65 0 1 0 -5.3 0M282.2 470.7a2.65 2.65 0 1 0 5.3 0a2.65 2.65 0 1 0 -5.3 0M256.6 472.1a2.65 2.65 0 1 0 5.3 0a2.65 2.65 0 1 0 -5.3 0M274.6 464.5a2.65 2.65 0 1 0 5.3 0a2.65 2.65 0 1 0 -5.3 0M279.4 464.4a2.65 2.65 0 1 0 5.3 0a2.65 2.65 0 1 0 -5.3 0M246.1 466.5a2.65 2.65 0 1 0 5.3 0a2.65 2.65 0 1 0 -5.3 0M229 466.6a2.65 2.65 0 1 0 5.3 0a2.65 2.65 0 1 0 -5.3 0M279.4 469.9a2.65 2.65 0 1 0 5.3 0a2.65 2.65 0 1 0 -5.3 0M233.1 462.9a2.65 2.65 0 1 0 5.3 0a2.65 2.65 0 1 0 -5.3 0M241.4 469a2.65 2.65 0 1 0 5.3 0a2.65 2.65 0 1 0 -5.3 0M296 465.6a2.65 2.65 0 1 0 5.3 0a2.65 2.65 0 1 0 -5.3 0M281 471.6a2.65 2.65 0 1 0 5.3 0a2.65 2.65 0 1 0 -5.3 0M246.9 464.4a2.65 2.65 0 1 0 5.3 0a2.65 2.65 0 1 0 -5.3 0M255.6 474.5a2.65 2.65 0 1 0 5.3 0a2.65 2.65 0 1 0 -5.3 0M245.9 461.7a2.65 2.65 0 1 0 5.3 0a2.65 2.65 0 1 0 -5.3 0M293 465.4a2.65 2.65 0 1 0 5.3 0a2.65 2.65 0 1 0 -5.3 0M238.2 463.2a2.65 2.65 0 1 0 5.3 0a2.65 2.65 0 1 0 -5.3 0M250.6 463.2a2.65 2.65 0 1 0 5.3 0a2.65 2.65 0 1 0 -5.3 0M235.7 465.1a2.65 2.65 0 1 0 5.3 0a2.65 2.65 0 1 0 -5.3 0M245.6 469.1a2.65 2.65 0 1 0 5.3 0a2.65 2.65 0 1 0 -5.3 0M283 472a2.65 2.65 0 1 0 5.3 0a2.65 2.65 0 1 0 -5.3 0M284.3 469.6a2.65 2.65 0 1 0 5.3 0a2.65 2.65 0 1 0 -5.3 0M240.3 469.3a2.65 2.65 0 1 0 5.3 0a2.65 2.65 0 1 0 -5.3 0M287.8 466.6a2.65 2.65 0 1 0 5.3 0a2.65 2.65 0 1 0 -5.3 0M261 471.1a2.65 2.65 0 1 0 5.3 0a2.65 2.65 0 1 0 -5.3 0M236.7 470.6a2.65 2.65 0 1 0 5.3 0a2.65 2.65 0 1 0 -5.3 0M230.7 463.7a2.65 2.65 0 1 0 5.3 0a2.65 2.65 0 1 0 -5.3 0M284.6 462.9a2.65 2.65 0 1 0 5.3 0a2.65 2.65 0 1 0 -5.3 0M270.9 474a2.65 2.65 0 1 0 5.3 0a2.65 2.65 0 1 0 -5.3 0M231.4 464.7a2.65 2.65 0 1 0 5.3 0a2.65 2.65 0 1 0 -5.3 0M282.2 468.3a2.65 2.65 0 1 0 5.3 0a2.65 2.65 0 1 0 -5.3 0M295.5 466.4a2.65 2.65 0 1 0 5.3 0a2.65 2.65 0 1 0 -5.3 0M292.3 464.4a2.65 2.65 0 1 0 5.3 0a2.65 2.65 0 1 0 -5.3 0M264.8 475.1a2.65 2.65 0 1 0 5.3 0a2.65 2.65 0 1 0 -5.3 0M283 472.4a2.65 2.65 0 1 0 5.3 0a2.65 2.65 0 1 0 -5.3 0M297.6 463a2.65 2.65 0 1 0 5.3 0a2.65 2.65 0 1 0 -5.3 0M283.7 472a2.65 2.65 0 1 0 5.3 0a2.65 2.65 0 1 0 -5.3 0M246.6 471.4a2.65 2.65 0 1 0 5.3 0a2.65 2.65 0 1 0 -5.3 0M254 472.4a2.65 2.65 0 1 0 5.3 0a2.65 2.65 0 1 0 -5.3 0M252 473.1a2.65 2.65 0 1 0 5.3 0a2.65 2.65 0 1 0 -5.3 0M258.9 473.3a2.65 2.65 0 1 0 5.3 0a2.65 2.65 0 1 0 -5.3 0M245.3 469.4a2.65 2.65 0 1 0 5.3 0a2.65 2.65 0 1 0 -5.3 0M275.3 467.7a2.65 2.65 0 1 0 5.3 0a2.65 2.65 0 1 0 -5.3 0M297.5 462.7a2.65 2.65 0 1 0 5.3 0a2.65 2.65 0 1 0 -5.3 0M277.4 472a2.65 2.65 0 1 0 5.3 0a2.65 2.65 0 1 0 -5.3 0M294.9 467.9a2.65 2.65 0 1 0 5.3 0a2.65 2.65 0 1 0 -5.3 0M268.7 473.3a2.65 2.65 0 1 0 5.3 0a2.65 2.65 0 1 0 -5.3 0M243.3 461.9a2.65 2.65 0 1 0 5.3 0a2.65 2.65 0 1 0 -5.3 0M294.9 465.4a2.65 2.65 0 1 0 5.3 0a2.65 2.65 0 1 0 -5.3 0M224.6 463.5a2.65 2.65 0 1 0 5.3 0a2.65 2.65 0 1 0 -5.3 0M238.1 463.6a2.65 2.65 0 1 0 5.3 0a2.65 2.65 0 1 0 -5.3 0M292.8 471.1a2.65 2.65 0 1 0 5.3 0a2.65 2.65 0 1 0 -5.3 0M254.2 475.2a2.65 2.65 0 1 0 5.3 0a2.65 2.65 0 1 0 -5.3 0M288.3 472.1a2.65 2.65 0 1 0 5.3 0a2.65 2.65 0 1 0 -5.3 0M285.2 463.4a2.65 2.65 0 1 0 5.3 0a2.65 2.65 0 1 0 -5.3 0M291.1 467.6a2.65 2.65 0 1 0 5.3 0a2.65 2.65 0 1 0 -5.3 0M242.5 465a2.65 2.65 0 1 0 5.3 0a2.65 2.65 0 1 0 -5.3 0M257.9 470.9a2.65 2.65 0 1 0 5.3 0a2.65 2.65 0 1 0 -5.3 0M266.7 474.4a2.65 2.65 0 1 0 5.3 0a2.65 2.65 0 1 0 -5.3 0M246.3 463.3a2.65 2.65 0 1 0 5.3 0a2.65 2.65 0 1 0 -5.3 0M294.6 468.5a2.65 2.65 0 1 0 5.3 0a2.65 2.65 0 1 0 -5.3 0M291.3 471.6a2.65 2.65 0 1 0 5.3 0a2.65 2.65 0 1 0 -5.3 0M279.4 472.5a2.65 2.65 0 1 0 5.3 0a2.65 2.65 0 1 0 -5.3 0M245.4 472.1a2.65 2.65 0 1 0 5.3 0a2.65 2.65 0 1 0 -5.3 0M237.8 469.5a2.65 2.65 0 1 0 5.3 0a2.65 2.65 0 1 0 -5.3 0M268.7 472.7a2.65 2.65 0 1 0 5.3 0a2.65 2.65 0 1 0 -5.3 0M234.7 466.5a2.65 2.65 0 1 0 5.3 0a2.65 2.65 0 1 0 -5.3 0M287 473.2a2.65 2.65 0 1 0 5.3 0a2.65 2.65 0 1 0 -5.3 0M299.2 463.2a2.65 2.65 0 1 0 5.3 0a2.65 2.65 0 1 0 -5.3 0M238.1 463a2.65 2.65 0 1 0 5.3 0a2.65 2.65 0 1 0 -5.3 0M279 472.3a2.65 2.65 0 1 0 5.3 0a2.65 2.65 0 1 0 -5.3 0M272.9 472.8a2.65 2.65 0 1 0 5.3 0a2.65 2.65 0 1 0 -5.3 0M273.6 470a2.65 2.65 0 1 0 5.3 0a2.65 2.65 0 1 0 -5.3 0M260.7 472.5a2.65 2.65 0 1 0 5.3 0a2.65 2.65 0 1 0 -5.3 0M255.2 467.6a2.65 2.65 0 1 0 5.3 0a2.65 2.65 0 1 0 -5.3 0M255.8 469.6a2.65 2.65 0 1 0 5.3 0a2.65 2.65 0 1 0 -5.3 0M250.1 467.2a2.65 2.65 0 1 0 5.3 0a2.65 2.65 0 1 0 -5.3 0M255.3 466.9a2.65 2.65 0 1 0 5.3 0a2.65 2.65 0 1 0 -5.3 0M298.7 462.8a2.65 2.65 0 1 0 5.3 0a2.65 2.65 0 1 0 -5.3 0M252.8 468a2.65 2.65 0 1 0 5.3 0a2.65 2.65 0 1 0 -5.3 0M240.4 461.7a2.65 2.65 0 1 0 5.3 0a2.65 2.65 0 1 0 -5.3 0M244.1 468.2a2.65 2.65 0 1 0 5.3 0a2.65 2.65 0 1 0 -5.3 0M247.1 462.3a2.65 2.65 0 1 0 5.3 0a2.65 2.65 0 1 0 -5.3 0M240.5 465.2a2.65 2.65 0 1 0 5.3 0a2.65 2.65 0 1 0 -5.3 0M276.9 473.1a2.65 2.65 0 1 0 5.3 0a2.65 2.65 0 1 0 -5.3 0M274.3 468.4a2.65 2.65 0 1 0 5.3 0a2.65 2.65 0 1 0 -5.3 0M279.5 463.3a2.65 2.65 0 1 0 5.3 0a2.65 2.65 0 1 0 -5.3 0M239.6 466.5a2.65 2.65 0 1 0 5.3 0a2.65 2.65 0 1 0 -5.3 0M256.3 473.3a2.65 2.65 0 1 0 5.3 0a2.65 2.65 0 1 0 -5.3 0M297.1 466.2a2.65 2.65 0 1 0 5.3 0a2.65 2.65 0 1 0 -5.3 0M254 470.5a2.65 2.65 0 1 0 5.3 0a2.65 2.65 0 1 0 -5.3 0M272.1 466.5a2.65 2.65 0 1 0 5.3 0a2.65 2.65 0 1 0 -5.3 0M224 463.3a2.65 2.65 0 1 0 5.3 0a2.65 2.65 0 1 0 -5.3 0M245.7 470.5a2.65 2.65 0 1 0 5.3 0a2.65 2.65 0 1 0 -5.3 0M293 469a2.65 2.65 0 1 0 5.3 0a2.65 2.65 0 1 0 -5.3 0M241.6 470a2.65 2.65 0 1 0 5.3 0a2.65 2.65 0 1 0 -5.3 0M243.3 472.8a2.65 2.65 0 1 0 5.3 0a2.65 2.65 0 1 0 -5.3 0M233.8 465.3a2.65 2.65 0 1 0 5.3 0a2.65 2.65 0 1 0 -5.3 0M256.3 474.7a2.65 2.65 0 1 0 5.3 0a2.65 2.65 0 1 0 -5.3 0M234.5 464.3a2.65 2.65 0 1 0 5.3 0a2.65 2.65 0 1 0 -5.3 0M231.8 464.6a2.65 2.65 0 1 0 5.3 0a2.65 2.65 0 1 0 -5.3 0M247.8 467.2a2.65 2.65 0 1 0 5.3 0a2.65 2.65 0 1 0 -5.3 0M281.8 467.4a2.65 2.65 0 1 0 5.3 0a2.65 2.65 0 1 0 -5.3 0M283 474.6a2.65 2.65 0 1 0 5.3 0a2.65 2.65 0 1 0 -5.3 0M255.2 474.9a2.65 2.65 0 1 0 5.3 0a2.65 2.65 0 1 0 -5.3 0M251.7 465.4a2.65 2.65 0 1 0 5.3 0a2.65 2.65 0 1 0 -5.3 0M250 471.6a2.65 2.65 0 1 0 5.3 0a2.65 2.65 0 1 0 -5.3 0M258 469.1a2.65 2.65 0 1 0 5.3 0a2.65 2.65 0 1 0 -5.3 0M237.8 464.1a2.65 2.65 0 1 0 5.3 0a2.65 2.65 0 1 0 -5.3 0M248.1 471.4a2.65 2.65 0 1 0 5.3 0a2.65 2.65 0 1 0 -5.3 0M277.9 467.8a2.65 2.65 0 1 0 5.3 0a2.65 2.65 0 1 0 -5.3 0M226.8 465.3a2.65 2.65 0 1 0 5.3 0a2.65 2.65 0 1 0 -5.3 0M241.1 465.7a2.65 2.65 0 1 0 5.3 0a2.65 2.65 0 1 0 -5.3 0M243.6 466.5a2.65 2.65 0 1 0 5.3 0a2.65 2.65 0 1 0 -5.3 0M284.3 472.9a2.65 2.65 0 1 0 5.3 0a2.65 2.65 0 1 0 -5.3 0M276.9 474.3a2.65 2.65 0 1 0 5.3 0a2.65 2.65 0 1 0 -5.3 0M224.9 463.9a2.65 2.65 0 1 0 5.3 0a2.65 2.65 0 1 0 -5.3 0M241.9 469.2a2.65 2.65 0 1 0 5.3 0a2.65 2.65 0 1 0 -5.3 0M286.8 470a2.65 2.65 0 1 0 5.3 0a2.65 2.65 0 1 0 -5.3 0M255.6 465a2.65 2.65 0 1 0 5.3 0a2.65 2.65 0 1 0 -5.3 0M248.5 462.2a2.65 2.65 0 1 0 5.3 0a2.65 2.65 0 1 0 -5.3 0M288.8 463.2a2.65 2.65 0 1 0 5.3 0a2.65 2.65 0 1 0 -5.3 0M273.3 466.7a2.65 2.65 0 1 0 5.3 0a2.65 2.65 0 1 0 -5.3 0M292.1 465.8a2.65 2.65 0 1 0 5.3 0a2.65 2.65 0 1 0 -5.3 0M229.4 464.4a2.65 2.65 0 1 0 5.3 0a2.65 2.65 0 1 0 -5.3 0M272.5 471.4a2.65 2.65 0 1 0 5.3 0a2.65 2.65 0 1 0 -5.3 0M243.8 465.5a2.65 2.65 0 1 0 5.3 0a2.65 2.65 0 1 0 -5.3 0M249.2 464.2a2.65 2.65 0 1 0 5.3 0a2.65 2.65 0 1 0 -5.3 0M256.1 475a2.65 2.65 0 1 0 5.3 0a2.65 2.65 0 1 0 -5.3 0M241.1 463.9a2.65 2.65 0 1 0 5.3 0a2.65 2.65 0 1 0 -5.3 0M271.5 471a2.65 2.65 0 1 0 5.3 0a2.65 2.65 0 1 0 -5.3 0M290.9 463.1a2.65 2.65 0 1 0 5.3 0a2.65 2.65 0 1 0 -5.3 0M235.2 465a2.65 2.65 0 1 0 5.3 0a2.65 2.65 0 1 0 -5.3 0M265.4 472a2.65 2.65 0 1 0 5.3 0a2.65 2.65 0 1 0 -5.3 0M292.5 468.3a2.65 2.65 0 1 0 5.3 0a2.65 2.65 0 1 0 -5.3 0M283.6 463.4a2.65 2.65 0 1 0 5.3 0a2.65 2.65 0 1 0 -5.3 0M276.2 463.1a2.65 2.65 0 1 0 5.3 0a2.65 2.65 0 1 0 -5.3 0M276 473a2.65 2.65 0 1 0 5.3 0a2.65 2.65 0 1 0 -5.3 0M253.9 463.8a2.65 2.65 0 1 0 5.3 0a2.65 2.65 0 1 0 -5.3 0M273.8 466.1a2.65 2.65 0 1 0 5.3 0a2.65 2.65 0 1 0 -5.3 0M232 463.9a2.65 2.65 0 1 0 5.3 0a2.65 2.65 0 1 0 -5.3 0M253.4 463.3a2.65 2.65 0 1 0 5.3 0a2.65 2.65 0 1 0 -5.3 0M252 469.5a2.65 2.65 0 1 0 5.3 0a2.65 2.65 0 1 0 -5.3 0M285 462.8a2.65 2.65 0 1 0 5.3 0a2.65 2.65 0 1 0 -5.3 0M282.3 469.3a2.65 2.65 0 1 0 5.3 0a2.65 2.65 0 1 0 -5.3 0M284 469.8a2.65 2.65 0 1 0 5.3 0a2.65 2.65 0 1 0 -5.3 0M230.7 465.2a2.65 2.65 0 1 0 5.3 0a2.65 2.65 0 1 0 -5.3 0M247 467.4a2.65 2.65 0 1 0 5.3 0a2.65 2.65 0 1 0 -5.3 0M277.5 473a2.65 2.65 0 1 0 5.3 0a2.65 2.65 0 1 0 -5.3 0M284.7 474.3a2.65 2.65 0 1 0 5.3 0a2.65 2.65 0 1 0 -5.3 0M246.6 463.6a2.65 2.65 0 1 0 5.3 0a2.65 2.65 0 1 0 -5.3 0M282 471.6a2.65 2.65 0 1 0 5.3 0a2.65 2.65 0 1 0 -5.3 0M250.9 466.5a2.65 2.65 0 1 0 5.3 0a2.65 2.65 0 1 0 -5.3 0M258 473.3a2.65 2.65 0 1 0 5.3 0a2.65 2.65 0 1 0 -5.3 0M248.4 466.2a2.65 2.65 0 1 0 5.3 0a2.65 2.65 0 1 0 -5.3 0M262.2 472.3a2.65 2.65 0 1 0 5.3 0a2.65 2.65 0 1 0 -5.3 0M291.6 466.6a2.65 2.65 0 1 0 5.3 0a2.65 2.65 0 1 0 -5.3 0M276.5 467.4a2.65 2.65 0 1 0 5.3 0a2.65 2.65 0 1 0 -5.3 0M289.9 472.5a2.65 2.65 0 1 0 5.3 0a2.65 2.65 0 1 0 -5.3 0M285.1 465.9a2.65 2.65 0 1 0 5.3 0a2.65 2.65 0 1 0 -5.3 0M228.1 464.3a2.65 2.65 0 1 0 5.3 0a2.65 2.65 0 1 0 -5.3 0M298.1 462.1a2.65 2.65 0 1 0 5.3 0a2.65 2.65 0 1 0 -5.3 0M285.8 469.2a2.65 2.65 0 1 0 5.3 0a2.65 2.65 0 1 0 -5.3 0M254 469.6a2.65 2.65 0 1 0 5.3 0a2.65 2.65 0 1 0 -5.3 0M229.5 463.5a2.65 2.65 0 1 0 5.3 0a2.65 2.65 0 1 0 -5.3 0M274.9 470.8a2.65 2.65 0 1 0 5.3 0a2.65 2.65 0 1 0 -5.3 0M285.6 471.5a2.65 2.65 0 1 0 5.3 0a2.65 2.65 0 1 0 -5.3 0M295.4 462.2a2.65 2.65 0 1 0 5.3 0a2.65 2.65 0 1 0 -5.3 0M283.4 463.7a2.65 2.65 0 1 0 5.3 0a2.65 2.65 0 1 0 -5.3 0M233.8 469.1a2.65 2.65 0 1 0 5.3 0a2.65 2.65 0 1 0 -5.3 0M253 468.4a2.65 2.65 0 1 0 5.3 0a2.65 2.65 0 1 0 -5.3 0M283.6 471.4a2.65 2.65 0 1 0 5.3 0a2.65 2.65 0 1 0 -5.3 0M245.6 472.1a2.65 2.65 0 1 0 5.3 0a2.65 2.65 0 1 0 -5.3 0M260.1 473.1a2.65 2.65 0 1 0 5.3 0a2.65 2.65 0 1 0 -5.3 0M250.3 474.3a2.65 2.65 0 1 0 5.3 0a2.65 2.65 0 1 0 -5.3 0M275.8 468a2.65 2.65 0 1 0 5.3 0a2.65 2.65 0 1 0 -5.3 0M266.1 473.2a2.65 2.65 0 1 0 5.3 0a2.65 2.65 0 1 0 -5.3 0M263.5 475.4a2.65 2.65 0 1 0 5.3 0a2.65 2.65 0 1 0 -5.3 0M278.2 468.6a2.65 2.65 0 1 0 5.3 0a2.65 2.65 0 1 0 -5.3 0M289 463.7a2.65 2.65 0 1 0 5.3 0a2.65 2.65 0 1 0 -5.3 0M248.2 471.9a2.65 2.65 0 1 0 5.3 0a2.65 2.65 0 1 0 -5.3 0M286.9 466.9a2.65 2.65 0 1 0 5.3 0a2.65 2.65 0 1 0 -5.3 0M225 463.3a2.65 2.65 0 1 0 5.3 0a2.65 2.65 0 1 0 -5.3 0M247 465.3a2.65 2.65 0 1 0 5.3 0a2.65 2.65 0 1 0 -5.3 0M245.9 470.2a2.65 2.65 0 1 0 5.3 0a2.65 2.65 0 1 0 -5.3 0M287.1 462.6a2.65 2.65 0 1 0 5.3 0a2.65 2.65 0 1 0 -5.3 0M231.2 466.5a2.65 2.65 0 1 0 5.3 0a2.65 2.65 0 1 0 -5.3 0M231.4 467.6a2.65 2.65 0 1 0 5.3 0a2.65 2.65 0 1 0 -5.3 0M297.7 464.7a2.65 2.65 0 1 0 5.3 0a2.65 2.65 0 1 0 -5.3 0M239 461.8a2.65 2.65 0 1 0 5.3 0a2.65 2.65 0 1 0 -5.3 0M243.1 462.3a2.65 2.65 0 1 0 5.3 0a2.65 2.65 0 1 0 -5.3 0M275 469.6a2.65 2.65 0 1 0 5.3 0a2.65 2.65 0 1 0 -5.3 0M279.8 471.5a2.65 2.65 0 1 0 5.3 0a2.65 2.65 0 1 0 -5.3 0M278.2 468.3a2.65 2.65 0 1 0 5.3 0a2.65 2.65 0 1 0 -5.3 0M289.3 473.3a2.65 2.65 0 1 0 5.3 0a2.65 2.65 0 1 0 -5.3 0M242.9 472.2a2.65 2.65 0 1 0 5.3 0a2.65 2.65 0 1 0 -5.3 0M299.7 463.1a2.65 2.65 0 1 0 5.3 0a2.65 2.65 0 1 0 -5.3 0M249.2 470.2a2.65 2.65 0 1 0 5.3 0a2.65 2.65 0 1 0 -5.3 0M247.6 465.9a2.65 2.65 0 1 0 5.3 0a2.65 2.65 0 1 0 -5.3 0M268.3 473.5a2.65 2.65 0 1 0 5.3 0a2.65 2.65 0 1 0 -5.3 0M279.7 475.8a2.65 2.65 0 1 0 5.3 0a2.65 2.65 0 1 0 -5.3 0M295.9 463a2.65 2.65 0 1 0 5.3 0a2.65 2.65 0 1 0 -5.3 0M263.9 475.4a2.65 2.65 0 1 0 5.3 0a2.65 2.65 0 1 0 -5.3 0M241.5 461.9a2.65 2.65 0 1 0 5.3 0a2.65 2.65 0 1 0 -5.3 0M296.7 465.3a2.65 2.65 0 1 0 5.3 0a2.65 2.65 0 1 0 -5.3 0M267.3 475a2.65 2.65 0 1 0 5.3 0a2.65 2.65 0 1 0 -5.3 0M296.5 465.2a2.65 2.65 0 1 0 5.3 0a2.65 2.65 0 1 0 -5.3 0M250.6 469.9a2.65 2.65 0 1 0 5.3 0a2.65 2.65 0 1 0 -5.3 0M240.2 471.8a2.65 2.65 0 1 0 5.3 0a2.65 2.65 0 1 0 -5.3 0M294.6 462.5a2.65 2.65 0 1 0 5.3 0a2.65 2.65 0 1 0 -5.3 0M276.8 466.6a2.65 2.65 0 1 0 5.3 0a2.65 2.65 0 1 0 -5.3 0M232.8 462.6a2.65 2.65 0 1 0 5.3 0a2.65 2.65 0 1 0 -5.3 0M257.9 473a2.65 2.65 0 1 0 5.3 0a2.65 2.65 0 1 0 -5.3 0M262.6 475.7a2.65 2.65 0 1 0 5.3 0a2.65 2.65 0 1 0 -5.3 0M279.5 471.2a2.65 2.65 0 1 0 5.3 0a2.65 2.65 0 1 0 -5.3 0M288.4 467.4a2.65 2.65 0 1 0 5.3 0a2.65 2.65 0 1 0 -5.3 0M265.8 473.8a2.65 2.65 0 1 0 5.3 0a2.65 2.65 0 1 0 -5.3 0M294.7 467.9a2.65 2.65 0 1 0 5.3 0a2.65 2.65 0 1 0 -5.3 0M236.1 467.5a2.65 2.65 0 1 0 5.3 0a2.65 2.65 0 1 0 -5.3 0M278.1 463.4a2.65 2.65 0 1 0 5.3 0a2.65 2.65 0 1 0 -5.3 0M235.2 461.6a2.65 2.65 0 1 0 5.3 0a2.65 2.65 0 1 0 -5.3 0M281.4 470.2a2.65 2.65 0 1 0 5.3 0a2.65 2.65 0 1 0 -5.3 0M250.4 461.8a2.65 2.65 0 1 0 5.3 0a2.65 2.65 0 1 0 -5.3 0M255.7 464.9a2.65 2.65 0 1 0 5.3 0a2.65 2.65 0 1 0 -5.3 0M268.2 475.7a2.65 2.65 0 1 0 5.3 0a2.65 2.65 0 1 0 -5.3 0M238 462.6a2.65 2.65 0 1 0 5.3 0a2.65 2.65 0 1 0 -5.3 0M276.6 463.1a2.65 2.65 0 1 0 5.3 0a2.65 2.65 0 1 0 -5.3 0M239.1 467.9a2.65 2.65 0 1 0 5.3 0a2.65 2.65 0 1 0 -5.3 0M246.5 468.4a2.65 2.65 0 1 0 5.3 0a2.65 2.65 0 1 0 -5.3 0M234.3 467.3a2.65 2.65 0 1 0 5.3 0a2.65 2.65 0 1 0 -5.3 0M277.1 466.2a2.65 2.65 0 1 0 5.3 0a2.65 2.65 0 1 0 -5.3 0M284.7 464.2a2.65 2.65 0 1 0 5.3 0a2.65 2.65 0 1 0 -5.3 0M257.4 474.8a2.65 2.65 0 1 0 5.3 0a2.65 2.65 0 1 0 -5.3 0M274.7 466.9a2.65 2.65 0 1 0 5.3 0a2.65 2.65 0 1 0 -5.3 0M281.7 468.4a2.65 2.65 0 1 0 5.3 0a2.65 2.65 0 1 0 -5.3 0M259 471.4a2.65 2.65 0 1 0 5.3 0a2.65 2.65 0 1 0 -5.3 0M269.9 467.6a2.65 2.65 0 1 0 5.3 0a2.65 2.65 0 1 0 -5.3 0M236.2 468.2a2.65 2.65 0 1 0 5.3 0a2.65 2.65 0 1 0 -5.3 0M265.1 474.5a2.65 2.65 0 1 0 5.3 0a2.65 2.65 0 1 0 -5.3 0M247.5 464.7a2.65 2.65 0 1 0 5.3 0a2.65 2.65 0 1 0 -5.3 0M271.5 472.2a2.65 2.65 0 1 0 5.3 0a2.65 2.65 0 1 0 -5.3 0M241.1 471.5a2.65 2.65 0 1 0 5.3 0a2.65 2.65 0 1 0 -5.3 0M296.1 467.8a2.65 2.65 0 1 0 5.3 0a2.65 2.65 0 1 0 -5.3 0M273.3 474.1a2.65 2.65 0 1 0 5.3 0a2.65 2.65 0 1 0 -5.3 0M237.5 466.5a2.65 2.65 0 1 0 5.3 0a2.65 2.65 0 1 0 -5.3 0M299.7 462.4a2.65 2.65 0 1 0 5.3 0a2.65 2.65 0 1 0 -5.3 0M245.7 468.4a2.65 2.65 0 1 0 5.3 0a2.65 2.65 0 1 0 -5.3 0M280.6 470.6a2.65 2.65 0 1 0 5.3 0a2.65 2.65 0 1 0 -5.3 0M289.5 467.5a2.65 2.65 0 1 0 5.3 0a2.65 2.65 0 1 0 -5.3 0M297.8 466.7a2.65 2.65 0 1 0 5.3 0a2.65 2.65 0 1 0 -5.3 0M270.7 469.4a2.65 2.65 0 1 0 5.3 0a2.65 2.65 0 1 0 -5.3 0M242.3 472.8a2.65 2.65 0 1 0 5.3 0a2.65 2.65 0 1 0 -5.3 0M245.2 470.3a2.65 2.65 0 1 0 5.3 0a2.65 2.65 0 1 0 -5.3 0M285.7 463.1a2.65 2.65 0 1 0 5.3 0a2.65 2.65 0 1 0 -5.3 0M283.4 467.2a2.65 2.65 0 1 0 5.3 0a2.65 2.65 0 1 0 -5.3 0M279.9 471.7a2.65 2.65 0 1 0 5.3 0a2.65 2.65 0 1 0 -5.3 0M232.6 462a2.65 2.65 0 1 0 5.3 0a2.65 2.65 0 1 0 -5.3 0M287.5 471.3a2.65 2.65 0 1 0 5.3 0a2.65 2.65 0 1 0 -5.3 0M271.6 466a2.65 2.65 0 1 0 5.3 0a2.65 2.65 0 1 0 -5.3 0M248.5 466.6a2.65 2.65 0 1 0 5.3 0a2.65 2.65 0 1 0 -5.3 0M285.8 472.9a2.65 2.65 0 1 0 5.3 0a2.65 2.65 0 1 0 -5.3 0M284.4 463.3a2.65 2.65 0 1 0 5.3 0a2.65 2.65 0 1 0 -5.3 0M288.4 473.5a2.65 2.65 0 1 0 5.3 0a2.65 2.65 0 1 0 -5.3 0M289.6 463.2a2.65 2.65 0 1 0 5.3 0a2.65 2.65 0 1 0 -5.3 0M247.2 461.5a2.65 2.65 0 1 0 5.3 0a2.65 2.65 0 1 0 -5.3 0M282.7 473.1a2.65 2.65 0 1 0 5.3 0a2.65 2.65 0 1 0 -5.3 0M267.6 475.8a2.65 2.65 0 1 0 5.3 0a2.65 2.65 0 1 0 -5.3 0M283 474.9a2.65 2.65 0 1 0 5.3 0a2.65 2.65 0 1 0 -5.3 0M298 462.7a2.65 2.65 0 1 0 5.3 0a2.65 2.65 0 1 0 -5.3 0M281.1 464.8a2.65 2.65 0 1 0 5.3 0a2.65 2.65 0 1 0 -5.3 0M247.2 466.5a2.65 2.65 0 1 0 5.3 0a2.65 2.65 0 1 0 -5.3 0M300 462.4a2.65 2.65 0 1 0 5.3 0a2.65 2.65 0 1 0 -5.3 0M277.2 469a2.65 2.65 0 1 0 5.3 0a2.65 2.65 0 1 0 -5.3 0M282.4 466.4a2.65 2.65 0 1 0 5.3 0a2.65 2.65 0 1 0 -5.3 0M254.3 472.3a2.65 2.65 0 1 0 5.3 0a2.65 2.65 0 1 0 -5.3 0M277.3 474.4a2.65 2.65 0 1 0 5.3 0a2.65 2.65 0 1 0 -5.3 0M246 473.8a2.65 2.65 0 1 0 5.3 0a2.65 2.65 0 1 0 -5.3 0M280 469.8a2.65 2.65 0 1 0 5.3 0a2.65 2.65 0 1 0 -5.3 0M253.8 469.7a2.65 2.65 0 1 0 5.3 0a2.65 2.65 0 1 0 -5.3 0M227.5 462.9a2.65 2.65 0 1 0 5.3 0a2.65 2.65 0 1 0 -5.3 0M246.1 463.3a2.65 2.65 0 1 0 5.3 0a2.65 2.65 0 1 0 -5.3 0M279.6 470.4a2.65 2.65 0 1 0 5.3 0a2.65 2.65 0 1 0 -5.3 0M287.1 470.5a2.65 2.65 0 1 0 5.3 0a2.65 2.65 0 1 0 -5.3 0M239.5 469.7a2.65 2.65 0 1 0 5.3 0a2.65 2.65 0 1 0 -5.3 0M252.8 465.4a2.65 2.65 0 1 0 5.3 0a2.65 2.65 0 1 0 -5.3 0M271.7 475a2.65 2.65 0 1 0 5.3 0a2.65 2.65 0 1 0 -5.3 0M235 465.3a2.65 2.65 0 1 0 5.3 0a2.65 2.65 0 1 0 -5.3 0M245.4 469.3a2.65 2.65 0 1 0 5.3 0a2.65 2.65 0 1 0 -5.3 0M259.7 474.7a2.65 2.65 0 1 0 5.3 0a2.65 2.65 0 1 0 -5.3 0M267.3 470.7a2.65 2.65 0 1 0 5.3 0a2.65 2.65 0 1 0 -5.3 0M267.9 472.9a2.65 2.65 0 1 0 5.3 0a2.65 2.65 0 1 0 -5.3 0M250.5 461.5a2.65 2.65 0 1 0 5.3 0a2.65 2.65 0 1 0 -5.3 0M231.4 463.1a2.65 2.65 0 1 0 5.3 0a2.65 2.65 0 1 0 -5.3 0M239 471a2.65 2.65 0 1 0 5.3 0a2.65 2.65 0 1 0 -5.3 0M231.8 461.8a2.65 2.65 0 1 0 5.3 0a2.65 2.65 0 1 0 -5.3 0M242 467a2.65 2.65 0 1 0 5.3 0a2.65 2.65 0 1 0 -5.3 0M237.7 461.5a2.65 2.65 0 1 0 5.3 0a2.65 2.65 0 1 0 -5.3 0M242 465a2.65 2.65 0 1 0 5.3 0a2.65 2.65 0 1 0 -5.3 0M247.2 467.5a2.65 2.65 0 1 0 5.3 0a2.65 2.65 0 1 0 -5.3 0M250 466.2a2.65 2.65 0 1 0 5.3 0a2.65 2.65 0 1 0 -5.3 0M280.1 468.6a2.65 2.65 0 1 0 5.3 0a2.65 2.65 0 1 0 -5.3 0M293 468.1a2.65 2.65 0 1 0 5.3 0a2.65 2.65 0 1 0 -5.3 0M292.3 463.3a2.65 2.65 0 1 0 5.3 0a2.65 2.65 0 1 0 -5.3 0M230.7 466.1a2.65 2.65 0 1 0 5.3 0a2.65 2.65 0 1 0 -5.3 0M270.6 471.3a2.65 2.65 0 1 0 5.3 0a2.65 2.65 0 1 0 -5.3 0M271.4 470.5a2.65 2.65 0 1 0 5.3 0a2.65 2.65 0 1 0 -5.3 0M251.4 462.5a2.65 2.65 0 1 0 5.3 0a2.65 2.65 0 1 0 -5.3 0M235 466.5a2.65 2.65 0 1 0 5.3 0a2.65 2.65 0 1 0 -5.3 0M286.5 473.6a2.65 2.65 0 1 0 5.3 0a2.65 2.65 0 1 0 -5.3 0M251.7 475.1a2.65 2.65 0 1 0 5.3 0a2.65 2.65 0 1 0 -5.3 0M242.1 469.8a2.65 2.65 0 1 0 5.3 0a2.65 2.65 0 1 0 -5.3 0M274.9 464.9a2.65 2.65 0 1 0 5.3 0a2.65 2.65 0 1 0 -5.3 0M251.7 463a2.65 2.65 0 1 0 5.3 0a2.65 2.65 0 1 0 -5.3 0M284.8 464.2a2.65 2.65 0 1 0 5.3 0a2.65 2.65 0 1 0 -5.3 0M232.2 465.5a2.65 2.65 0 1 0 5.3 0a2.65 2.65 0 1 0 -5.3 0M272.3 470.7a2.65 2.65 0 1 0 5.3 0a2.65 2.65 0 1 0 -5.3 0M263.1 473.9a2.65 2.65 0 1 0 5.3 0a2.65 2.65 0 1 0 -5.3 0M281.2 464.5a2.65 2.65 0 1 0 5.3 0a2.65 2.65 0 1 0 -5.3 0M240.6 463.6a2.65 2.65 0 1 0 5.3 0a2.65 2.65 0 1 0 -5.3 0M291.9 471a2.65 2.65 0 1 0 5.3 0a2.65 2.65 0 1 0 -5.3 0M228.3 464.7a2.65 2.65 0 1 0 5.3 0a2.65 2.65 0 1 0 -5.3 0M268.4 469.2a2.65 2.65 0 1 0 5.3 0a2.65 2.65 0 1 0 -5.3 0M223.5 462.9a2.65 2.65 0 1 0 5.3 0a2.65 2.65 0 1 0 -5.3 0M240.5 470a2.65 2.65 0 1 0 5.3 0a2.65 2.65 0 1 0 -5.3 0M296.7 467.2a2.65 2.65 0 1 0 5.3 0a2.65 2.65 0 1 0 -5.3 0M255 469.3a2.65 2.65 0 1 0 5.3 0a2.65 2.65 0 1 0 -5.3 0M282.6 469.3a2.65 2.65 0 1 0 5.3 0a2.65 2.65 0 1 0 -5.3 0M278.4 470.8a2.65 2.65 0 1 0 5.3 0a2.65 2.65 0 1 0 -5.3 0M281.8 464.6a2.65 2.65 0 1 0 5.3 0a2.65 2.65 0 1 0 -5.3 0M239 471.8a2.65 2.65 0 1 0 5.3 0a2.65 2.65 0 1 0 -5.3 0M277.6 472a2.65 2.65 0 1 0 5.3 0a2.65 2.65 0 1 0 -5.3 0M285 465.3a2.65 2.65 0 1 0 5.3 0a2.65 2.65 0 1 0 -5.3 0M274.6 468.7a2.65 2.65 0 1 0 5.3 0a2.65 2.65 0 1 0 -5.3 0M296.2 468a2.65 2.65 0 1 0 5.3 0a2.65 2.65 0 1 0 -5.3 0M249.8 461.9a2.65 2.65 0 1 0 5.3 0a2.65 2.65 0 1 0 -5.3 0M258.8 469.2a2.65 2.65 0 1 0 5.3 0a2.65 2.65 0 1 0 -5.3 0M245.9 463a2.65 2.65 0 1 0 5.3 0a2.65 2.65 0 1 0 -5.3 0M235 467.9a2.65 2.65 0 1 0 5.3 0a2.65 2.65 0 1 0 -5.3 0M249.1 468.8a2.65 2.65 0 1 0 5.3 0a2.65 2.65 0 1 0 -5.3 0M232 461.8a2.65 2.65 0 1 0 5.3 0a2.65 2.65 0 1 0 -5.3 0M265.9 475.6a2.65 2.65 0 1 0 5.3 0a2.65 2.65 0 1 0 -5.3 0M243.7 466.6a2.65 2.65 0 1 0 5.3 0a2.65 2.65 0 1 0 -5.3 0M246.8 472.3a2.65 2.65 0 1 0 5.3 0a2.65 2.65 0 1 0 -5.3 0M260.6 473a2.65 2.65 0 1 0 5.3 0a2.65 2.65 0 1 0 -5.3 0M237.8 466.8a2.65 2.65 0 1 0 5.3 0a2.65 2.65 0 1 0 -5.3 0M253.1 467.1a2.65 2.65 0 1 0 5.3 0a2.65 2.65 0 1 0 -5.3 0M267.2 475.5a2.65 2.65 0 1 0 5.3 0a2.65 2.65 0 1 0 -5.3 0M272.4 470.1a2.65 2.65 0 1 0 5.3 0a2.65 2.65 0 1 0 -5.3 0M287.3 466.3a2.65 2.65 0 1 0 5.3 0a2.65 2.65 0 1 0 -5.3 0M251.1 470.8a2.65 2.65 0 1 0 5.3 0a2.65 2.65 0 1 0 -5.3 0M250.7 465.5a2.65 2.65 0 1 0 5.3 0a2.65 2.65 0 1 0 -5.3 0M292.5 464.7a2.65 2.65 0 1 0 5.3 0a2.65 2.65 0 1 0 -5.3 0M242.9 468.6a2.65 2.65 0 1 0 5.3 0a2.65 2.65 0 1 0 -5.3 0M299.4 463.2a2.65 2.65 0 1 0 5.3 0a2.65 2.65 0 1 0 -5.3 0M283.7 471.8a2.65 2.65 0 1 0 5.3 0a2.65 2.65 0 1 0 -5.3 0M284.5 463.2a2.65 2.65 0 1 0 5.3 0a2.65 2.65 0 1 0 -5.3 0M292.2 466.7a2.65 2.65 0 1 0 5.3 0a2.65 2.65 0 1 0 -5.3 0M286.2 468.3a2.65 2.65 0 1 0 5.3 0a2.65 2.65 0 1 0 -5.3 0M292.3 468.4a2.65 2.65 0 1 0 5.3 0a2.65 2.65 0 1 0 -5.3 0M241.9 463.7a2.65 2.65 0 1 0 5.3 0a2.65 2.65 0 1 0 -5.3 0M267 474a2.65 2.65 0 1 0 5.3 0a2.65 2.65 0 1 0 -5.3 0M233.4 468.5a2.65 2.65 0 1 0 5.3 0a2.65 2.65 0 1 0 -5.3 0M278.9 468.9a2.65 2.65 0 1 0 5.3 0a2.65 2.65 0 1 0 -5.3 0M269.9 474a2.65 2.65 0 1 0 5.3 0a2.65 2.65 0 1 0 -5.3 0M234.5 465a2.65 2.65 0 1 0 5.3 0a2.65 2.65 0 1 0 -5.3 0M278.5 469.3a2.65 2.65 0 1 0 5.3 0a2.65 2.65 0 1 0 -5.3 0M245.9 473.6a2.65 2.65 0 1 0 5.3 0a2.65 2.65 0 1 0 -5.3 0M299.7 462.5a2.65 2.65 0 1 0 5.3 0a2.65 2.65 0 1 0 -5.3 0M252.3 468a2.65 2.65 0 1 0 5.3 0a2.65 2.65 0 1 0 -5.3 0M241.8 472.3a2.65 2.65 0 1 0 5.3 0a2.65 2.65 0 1 0 -5.3 0M293.4 463.5a2.65 2.65 0 1 0 5.3 0a2.65 2.65 0 1 0 -5.3 0M261.6 475.5a2.65 2.65 0 1 0 5.3 0a2.65 2.65 0 1 0 -5.3 0M292.1 468a2.65 2.65 0 1 0 5.3 0a2.65 2.65 0 1 0 -5.3 0M262.5 472.9a2.65 2.65 0 1 0 5.3 0a2.65 2.65 0 1 0 -5.3 0M236.2 465.6a2.65 2.65 0 1 0 5.3 0a2.65 2.65 0 1 0 -5.3 0M281.1 467.6a2.65 2.65 0 1 0 5.3 0a2.65 2.65 0 1 0 -5.3 0M295 464.7a2.65 2.65 0 1 0 5.3 0a2.65 2.65 0 1 0 -5.3 0M291.2 464.8a2.65 2.65 0 1 0 5.3 0a2.65 2.65 0 1 0 -5.3 0M225.1 462.8a2.65 2.65 0 1 0 5.3 0a2.65 2.65 0 1 0 -5.3 0M278.4 462a2.65 2.65 0 1 0 5.3 0a2.65 2.65 0 1 0 -5.3 0M256.9 466.2a2.65 2.65 0 1 0 5.3 0a2.65 2.65 0 1 0 -5.3 0M287.5 471.5a2.65 2.65 0 1 0 5.3 0a2.65 2.65 0 1 0 -5.3 0M230.9 463a2.65 2.65 0 1 0 5.3 0a2.65 2.65 0 1 0 -5.3 0M272 475.5a2.65 2.65 0 1 0 5.3 0a2.65 2.65 0 1 0 -5.3 0M282 468.4a2.65 2.65 0 1 0 5.3 0a2.65 2.65 0 1 0 -5.3 0M230.8 464.6a2.65 2.65 0 1 0 5.3 0a2.65 2.65 0 1 0 -5.3 0M271 473.9a2.65 2.65 0 1 0 5.3 0a2.65 2.65 0 1 0 -5.3 0M222.2 461.6a2.65 2.65 0 1 0 5.3 0a2.65 2.65 0 1 0 -5.3 0M298.8 465.3a2.65 2.65 0 1 0 5.3 0a2.65 2.65 0 1 0 -5.3 0M292.7 469.7a2.65 2.65 0 1 0 5.3 0a2.65 2.65 0 1 0 -5.3 0M269.6 470.4a2.65 2.65 0 1 0 5.3 0a2.65 2.65 0 1 0 -5.3 0M282.7 469a2.65 2.65 0 1 0 5.3 0a2.65 2.65 0 1 0 -5.3 0M230.4 464.7a2.65 2.65 0 1 0 5.3 0a2.65 2.65 0 1 0 -5.3 0M229.9 465.1a2.65 2.65 0 1 0 5.3 0a2.65 2.65 0 1 0 -5.3 0M284.7 469.4a2.65 2.65 0 1 0 5.3 0a2.65 2.65 0 1 0 -5.3 0M266.4 473.9a2.65 2.65 0 1 0 5.3 0a2.65 2.65 0 1 0 -5.3 0M250.7 467.8a2.65 2.65 0 1 0 5.3 0a2.65 2.65 0 1 0 -5.3 0M267.3 475.8a2.65 2.65 0 1 0 5.3 0a2.65 2.65 0 1 0 -5.3 0M259 471.8a2.65 2.65 0 1 0 5.3 0a2.65 2.65 0 1 0 -5.3 0M246.4 470.2a2.65 2.65 0 1 0 5.3 0a2.65 2.65 0 1 0 -5.3 0M286.7 468.3a2.65 2.65 0 1 0 5.3 0a2.65 2.65 0 1 0 -5.3 0M241.7 468.9a2.65 2.65 0 1 0 5.3 0a2.65 2.65 0 1 0 -5.3 0M282.3 468.7a2.65 2.65 0 1 0 5.3 0a2.65 2.65 0 1 0 -5.3 0M249.7 465.2a2.65 2.65 0 1 0 5.3 0a2.65 2.65 0 1 0 -5.3 0M296 465.1a2.65 2.65 0 1 0 5.3 0a2.65 2.65 0 1 0 -5.3 0M275.4 466.4a2.65 2.65 0 1 0 5.3 0a2.65 2.65 0 1 0 -5.3 0M256.5 471.4a2.65 2.65 0 1 0 5.3 0a2.65 2.65 0 1 0 -5.3 0M234.1 466.8a2.65 2.65 0 1 0 5.3 0a2.65 2.65 0 1 0 -5.3 0M284 471.4a2.65 2.65 0 1 0 5.3 0a2.65 2.65 0 1 0 -5.3 0M238.6 465.2a2.65 2.65 0 1 0 5.3 0a2.65 2.65 0 1 0 -5.3 0M266.9 474.9a2.65 2.65 0 1 0 5.3 0a2.65 2.65 0 1 0 -5.3 0M265.5 474.8a2.65 2.65 0 1 0 5.3 0a2.65 2.65 0 1 0 -5.3 0M258.7 469a2.65 2.65 0 1 0 5.3 0a2.65 2.65 0 1 0 -5.3 0M243.7 468.2a2.65 2.65 0 1 0 5.3 0a2.65 2.65 0 1 0 -5.3 0M295.9 468.6a2.65 2.65 0 1 0 5.3 0a2.65 2.65 0 1 0 -5.3 0M237.1 470.5a2.65 2.65 0 1 0 5.3 0a2.65 2.65 0 1 0 -5.3 0M228.3 461.9a2.65 2.65 0 1 0 5.3 0a2.65 2.65 0 1 0 -5.3 0M277.1 470.2a2.65 2.65 0 1 0 5.3 0a2.65 2.65 0 1 0 -5.3 0M273.3 468.8a2.65 2.65 0 1 0 5.3 0a2.65 2.65 0 1 0 -5.3 0M287.9 470.2a2.65 2.65 0 1 0 5.3 0a2.65 2.65 0 1 0 -5.3 0M224.9 463.3a2.65 2.65 0 1 0 5.3 0a2.65 2.65 0 1 0 -5.3 0M293.4 469.4a2.65 2.65 0 1 0 5.3 0a2.65 2.65 0 1 0 -5.3 0M272.7 473.2a2.65 2.65 0 1 0 5.3 0a2.65 2.65 0 1 0 -5.3 0M285.9 466.5a2.65 2.65 0 1 0 5.3 0a2.65 2.65 0 1 0 -5.3 0M277.4 461.6a2.65 2.65 0 1 0 5.3 0a2.65 2.65 0 1 0 -5.3 0M291.1 463a2.65 2.65 0 1 0 5.3 0a2.65 2.65 0 1 0 -5.3 0M247.8 463.7a2.65 2.65 0 1 0 5.3 0a2.65 2.65 0 1 0 -5.3 0M273.6 470.9a2.65 2.65 0 1 0 5.3 0a2.65 2.65 0 1 0 -5.3 0M264.6 475.1a2.65 2.65 0 1 0 5.3 0a2.65 2.65 0 1 0 -5.3 0M277.4 464a2.65 2.65 0 1 0 5.3 0a2.65 2.65 0 1 0 -5.3 0M293.2 468.6a2.65 2.65 0 1 0 5.3 0a2.65 2.65 0 1 0 -5.3 0M247.3 471.1a2.65 2.65 0 1 0 5.3 0a2.65 2.65 0 1 0 -5.3 0M277.9 468.2a2.65 2.65 0 1 0 5.3 0a2.65 2.65 0 1 0 -5.3 0M243.3 467.6a2.65 2.65 0 1 0 5.3 0a2.65 2.65 0 1 0 -5.3 0M278.2 464.8a2.65 2.65 0 1 0 5.3 0a2.65 2.65 0 1 0 -5.3 0M233.9 468.5a2.65 2.65 0 1 0 5.3 0a2.65 2.65 0 1 0 -5.3 0M242.6 472.7a2.65 2.65 0 1 0 5.3 0a2.65 2.65 0 1 0 -5.3 0M245.7 462.7a2.65 2.65 0 1 0 5.3 0a2.65 2.65 0 1 0 -5.3 0M260.1 474.1a2.65 2.65 0 1 0 5.3 0a2.65 2.65 0 1 0 -5.3 0M283.2 462.2a2.65 2.65 0 1 0 5.3 0a2.65 2.65 0 1 0 -5.3 0M277.3 470.5a2.65 2.65 0 1 0 5.3 0a2.65 2.65 0 1 0 -5.3 0M259.7 471.1a2.65 2.65 0 1 0 5.3 0a2.65 2.65 0 1 0 -5.3 0M276.7 463.4a2.65 2.65 0 1 0 5.3 0a2.65 2.65 0 1 0 -5.3 0M246 473.8a2.65 2.65 0 1 0 5.3 0a2.65 2.65 0 1 0 -5.3 0M277.9 468.6a2.65 2.65 0 1 0 5.3 0a2.65 2.65 0 1 0 -5.3 0M251.9 469.5a2.65 2.65 0 1 0 5.3 0a2.65 2.65 0 1 0 -5.3 0M293.6 471a2.65 2.65 0 1 0 5.3 0a2.65 2.65 0 1 0 -5.3 0M243.9 473.2a2.65 2.65 0 1 0 5.3 0a2.65 2.65 0 1 0 -5.3 0M273.2 470.3a2.65 2.65 0 1 0 5.3 0a2.65 2.65 0 1 0 -5.3 0M280.4 465.4a2.65 2.65 0 1 0 5.3 0a2.65 2.65 0 1 0 -5.3 0M287.8 469.4a2.65 2.65 0 1 0 5.3 0a2.65 2.65 0 1 0 -5.3 0M281.6 473.7a2.65 2.65 0 1 0 5.3 0a2.65 2.65 0 1 0 -5.3 0M241.6 467.5a2.65 2.65 0 1 0 5.3 0a2.65 2.65 0 1 0 -5.3 0M250.1 462.6a2.65 2.65 0 1 0 5.3 0a2.65 2.65 0 1 0 -5.3 0M291 471.4a2.65 2.65 0 1 0 5.3 0a2.65 2.65 0 1 0 -5.3 0M260.3 469.4a2.65 2.65 0 1 0 5.3 0a2.65 2.65 0 1 0 -5.3 0M291.4 462.5a2.65 2.65 0 1 0 5.3 0a2.65 2.65 0 1 0 -5.3 0M249.8 471.5a2.65 2.65 0 1 0 5.3 0a2.65 2.65 0 1 0 -5.3 0M241.9 464.7a2.65 2.65 0 1 0 5.3 0a2.65 2.65 0 1 0 -5.3 0M274.7 466.4a2.65 2.65 0 1 0 5.3 0a2.65 2.65 0 1 0 -5.3 0M298.6 465.5a2.65 2.65 0 1 0 5.3 0a2.65 2.65 0 1 0 -5.3 0M249.9 462.6a2.65 2.65 0 1 0 5.3 0a2.65 2.65 0 1 0 -5.3 0M261.3 475.4a2.65 2.65 0 1 0 5.3 0a2.65 2.65 0 1 0 -5.3 0M282 466.8a2.65 2.65 0 1 0 5.3 0a2.65 2.65 0 1 0 -5.3 0M289.5 462.5a2.65 2.65 0 1 0 5.3 0a2.65 2.65 0 1 0 -5.3 0M252.3 467.7a2.65 2.65 0 1 0 5.3 0a2.65 2.65 0 1 0 -5.3 0M269.8 469.1a2.65 2.65 0 1 0 5.3 0a2.65 2.65 0 1 0 -5.3 0M247.3 461.6a2.65 2.65 0 1 0 5.3 0a2.65 2.65 0 1 0 -5.3 0M283.3 470.9a2.65 2.65 0 1 0 5.3 0a2.65 2.65 0 1 0 -5.3 0M250.3 468.4a2.65 2.65 0 1 0 5.3 0a2.65 2.65 0 1 0 -5.3 0M298.8 464.3a2.65 2.65 0 1 0 5.3 0a2.65 2.65 0 1 0 -5.3 0M266 472.2a2.65 2.65 0 1 0 5.3 0a2.65 2.65 0 1 0 -5.3 0M278.4 469.4a2.65 2.65 0 1 0 5.3 0a2.65 2.65 0 1 0 -5.3 0M287 473.2a2.65 2.65 0 1 0 5.3 0a2.65 2.65 0 1 0 -5.3 0M271.4 471.2a2.65 2.65 0 1 0 5.3 0a2.65 2.65 0 1 0 -5.3 0M235.6 466.4a2.65 2.65 0 1 0 5.3 0a2.65 2.65 0 1 0 -5.3 0M247.3 474a2.65 2.65 0 1 0 5.3 0a2.65 2.65 0 1 0 -5.3 0M283.6 465.7a2.65 2.65 0 1 0 5.3 0a2.65 2.65 0 1 0 -5.3 0M300.5 462.4a2.65 2.65 0 1 0 5.3 0a2.65 2.65 0 1 0 -5.3 0M249.9 467.1a2.65 2.65 0 1 0 5.3 0a2.65 2.65 0 1 0 -5.3 0M289.4 469.2a2.65 2.65 0 1 0 5.3 0a2.65 2.65 0 1 0 -5.3 0M271.5 467.9a2.65 2.65 0 1 0 5.3 0a2.65 2.65 0 1 0 -5.3 0M258 475.4a2.65 2.65 0 1 0 5.3 0a2.65 2.65 0 1 0 -5.3 0M243.4 469.1a2.65 2.65 0 1 0 5.3 0a2.65 2.65 0 1 0 -5.3 0M284.9 467.8a2.65 2.65 0 1 0 5.3 0a2.65 2.65 0 1 0 -5.3 0M233 465.3a2.65 2.65 0 1 0 5.3 0a2.65 2.65 0 1 0 -5.3 0M254.9 472.5a2.65 2.65 0 1 0 5.3 0a2.65 2.65 0 1 0 -5.3 0M256 467.6a2.65 2.65 0 1 0 5.3 0a2.65 2.65 0 1 0 -5.3 0M253.4 469.1a2.65 2.65 0 1 0 5.3 0a2.65 2.65 0 1 0 -5.3 0M236.5 463.4a2.65 2.65 0 1 0 5.3 0a2.65 2.65 0 1 0 -5.3 0M278.8 462.1a2.65 2.65 0 1 0 5.3 0a2.65 2.65 0 1 0 -5.3 0M275.2 466.8a2.65 2.65 0 1 0 5.3 0a2.65 2.65 0 1 0 -5.3 0M295.2 465.9a2.65 2.65 0 1 0 5.3 0a2.65 2.65 0 1 0 -5.3 0M255.8 466.1a2.65 2.65 0 1 0 5.3 0a2.65 2.65 0 1 0 -5.3 0M274.7 467.5a2.65 2.65 0 1 0 5.3 0a2.65 2.65 0 1 0 -5.3 0M277.7 465.7a2.65 2.65 0 1 0 5.3 0a2.65 2.65 0 1 0 -5.3 0M257.7 469.6a2.65 2.65 0 1 0 5.3 0a2.65 2.65 0 1 0 -5.3 0M278.5 471a2.65 2.65 0 1 0 5.3 0a2.65 2.65 0 1 0 -5.3 0M230.3 463.6a2.65 2.65 0 1 0 5.3 0a2.65 2.65 0 1 0 -5.3 0M236 464.2a2.65 2.65 0 1 0 5.3 0a2.65 2.65 0 1 0 -5.3 0M274 466.4a2.65 2.65 0 1 0 5.3 0a2.65 2.65 0 1 0 -5.3 0M293.6 464.9a2.65 2.65 0 1 0 5.3 0a2.65 2.65 0 1 0 -5.3 0M240.9 464.2a2.65 2.65 0 1 0 5.3 0a2.65 2.65 0 1 0 -5.3 0M285.9 471.3a2.65 2.65 0 1 0 5.3 0a2.65 2.65 0 1 0 -5.3 0M255.5 470.3a2.65 2.65 0 1 0 5.3 0a2.65 2.65 0 1 0 -5.3 0M273.6 467.9a2.65 2.65 0 1 0 5.3 0a2.65 2.65 0 1 0 -5.3 0M296.7 466.9a2.65 2.65 0 1 0 5.3 0a2.65 2.65 0 1 0 -5.3 0M283 474a2.65 2.65 0 1 0 5.3 0a2.65 2.65 0 1 0 -5.3 0M251.1 466.9a2.65 2.65 0 1 0 5.3 0a2.65 2.65 0 1 0 -5.3 0M238.1 463.4a2.65 2.65 0 1 0 5.3 0a2.65 2.65 0 1 0 -5.3 0M276 468.9a2.65 2.65 0 1 0 5.3 0a2.65 2.65 0 1 0 -5.3 0M288.1 461.9a2.65 2.65 0 1 0 5.3 0a2.65 2.65 0 1 0 -5.3 0M290.9 470.4a2.65 2.65 0 1 0 5.3 0a2.65 2.65 0 1 0 -5.3 0M270.7 467.8a2.65 2.65 0 1 0 5.3 0a2.65 2.65 0 1 0 -5.3 0M267.1 474.2a2.65 2.65 0 1 0 5.3 0a2.65 2.65 0 1 0 -5.3 0M244.7 469.9a2.65 2.65 0 1 0 5.3 0a2.65 2.65 0 1 0 -5.3 0M238 470.9a2.65 2.65 0 1 0 5.3 0a2.65 2.65 0 1 0 -5.3 0M263 473.4a2.65 2.65 0 1 0 5.3 0a2.65 2.65 0 1 0 -5.3 0M237.5 464.2a2.65 2.65 0 1 0 5.3 0a2.65 2.65 0 1 0 -5.3 0M245.7 473.1a2.65 2.65 0 1 0 5.3 0a2.65 2.65 0 1 0 -5.3 0M239.8 470.7a2.65 2.65 0 1 0 5.3 0a2.65 2.65 0 1 0 -5.3 0M223.9 462.7a2.65 2.65 0 1 0 5.3 0a2.65 2.65 0 1 0 -5.3 0M277.7 468.7a2.65 2.65 0 1 0 5.3 0a2.65 2.65 0 1 0 -5.3 0M296.2 467.2a2.65 2.65 0 1 0 5.3 0a2.65 2.65 0 1 0 -5.3 0M291.6 469.9a2.65 2.65 0 1 0 5.3 0a2.65 2.65 0 1 0 -5.3 0M249 465.6a2.65 2.65 0 1 0 5.3 0a2.65 2.65 0 1 0 -5.3 0M288.3 467a2.65 2.65 0 1 0 5.3 0a2.65 2.65 0 1 0 -5.3 0M269.4 469.5a2.65 2.65 0 1 0 5.3 0a2.65 2.65 0 1 0 -5.3 0M237.3 462a2.65 2.65 0 1 0 5.3 0a2.65 2.65 0 1 0 -5.3 0M279.9 463.9a2.65 2.65 0 1 0 5.3 0a2.65 2.65 0 1 0 -5.3 0M273.4 470.4a2.65 2.65 0 1 0 5.3 0a2.65 2.65 0 1 0 -5.3 0M289.6 462.1a2.65 2.65 0 1 0 5.3 0a2.65 2.65 0 1 0 -5.3 0M287.8 468.4a2.65 2.65 0 1 0 5.3 0a2.65 2.65 0 1 0 -5.3 0M238.6 467.4a2.65 2.65 0 1 0 5.3 0a2.65 2.65 0 1 0 -5.3 0M238.8 471.7a2.65 2.65 0 1 0 5.3 0a2.65 2.65 0 1 0 -5.3 0M270.5 471.8a2.65 2.65 0 1 0 5.3 0a2.65 2.65 0 1 0 -5.3 0M297 465.8a2.65 2.65 0 1 0 5.3 0a2.65 2.65 0 1 0 -5.3 0M275.7 467.3a2.65 2.65 0 1 0 5.3 0a2.65 2.65 0 1 0 -5.3 0M282.1 470.2a2.65 2.65 0 1 0 5.3 0a2.65 2.65 0 1 0 -5.3 0M248.3 473.4a2.65 2.65 0 1 0 5.3 0a2.65 2.65 0 1 0 -5.3 0M275.4 473.7a2.65 2.65 0 1 0 5.3 0a2.65 2.65 0 1 0 -5.3 0M285.2 468.1a2.65 2.65 0 1 0 5.3 0a2.65 2.65 0 1 0 -5.3 0M252.8 473a2.65 2.65 0 1 0 5.3 0a2.65 2.65 0 1 0 -5.3 0M273.5 469.3a2.65 2.65 0 1 0 5.3 0a2.65 2.65 0 1 0 -5.3 0M290.9 462a2.65 2.65 0 1 0 5.3 0a2.65 2.65 0 1 0 -5.3 0M239.3 463.4a2.65 2.65 0 1 0 5.3 0a2.65 2.65 0 1 0 -5.3 0M281.3 471.3a2.65 2.65 0 1 0 5.3 0a2.65 2.65 0 1 0 -5.3 0M254 470.1a2.65 2.65 0 1 0 5.3 0a2.65 2.65 0 1 0 -5.3 0M265.4 475.3a2.65 2.65 0 1 0 5.3 0a2.65 2.65 0 1 0 -5.3 0M258.1 467.5a2.65 2.65 0 1 0 5.3 0a2.65 2.65 0 1 0 -5.3 0M276.3 463.1a2.65 2.65 0 1 0 5.3 0a2.65 2.65 0 1 0 -5.3 0M276.5 475a2.65 2.65 0 1 0 5.3 0a2.65 2.65 0 1 0 -5.3 0M281.9 469.4a2.65 2.65 0 1 0 5.3 0a2.65 2.65 0 1 0 -5.3 0M249.5 462.9a2.65 2.65 0 1 0 5.3 0a2.65 2.65 0 1 0 -5.3 0M285.6 468.5a2.65 2.65 0 1 0 5.3 0a2.65 2.65 0 1 0 -5.3 0M289.7 464.2a2.65 2.65 0 1 0 5.3 0a2.65 2.65 0 1 0 -5.3 0M248.1 469a2.65 2.65 0 1 0 5.3 0a2.65 2.65 0 1 0 -5.3 0M279.2 468a2.65 2.65 0 1 0 5.3 0a2.65 2.65 0 1 0 -5.3 0M252.5 467.6a2.65 2.65 0 1 0 5.3 0a2.65 2.65 0 1 0 -5.3 0M239.2 468.5a2.65 2.65 0 1 0 5.3 0a2.65 2.65 0 1 0 -5.3 0M277.6 466.7a2.65 2.65 0 1 0 5.3 0a2.65 2.65 0 1 0 -5.3 0M274.1 468.7a2.65 2.65 0 1 0 5.3 0a2.65 2.65 0 1 0 -5.3 0M244.3 469.4a2.65 2.65 0 1 0 5.3 0a2.65 2.65 0 1 0 -5.3 0M297.7 464.5a2.65 2.65 0 1 0 5.3 0a2.65 2.65 0 1 0 -5.3 0M226.4 464.5a2.65 2.65 0 1 0 5.3 0a2.65 2.65 0 1 0 -5.3 0M243 468.9a2.65 2.65 0 1 0 5.3 0a2.65 2.65 0 1 0 -5.3 0M235.2 465.9a2.65 2.65 0 1 0 5.3 0a2.65 2.65 0 1 0 -5.3 0M293.4 467.9a2.65 2.65 0 1 0 5.3 0a2.65 2.65 0 1 0 -5.3 0M239.9 470.2a2.65 2.65 0 1 0 5.3 0a2.65 2.65 0 1 0 -5.3 0M280.6 470.4a2.65 2.65 0 1 0 5.3 0a2.65 2.65 0 1 0 -5.3 0M293.7 470.3a2.65 2.65 0 1 0 5.3 0a2.65 2.65 0 1 0 -5.3 0M235.9 464.2a2.65 2.65 0 1 0 5.3 0a2.65 2.65 0 1 0 -5.3 0M277.4 473.3a2.65 2.65 0 1 0 5.3 0a2.65 2.65 0 1 0 -5.3 0M243.9 468.3a2.65 2.65 0 1 0 5.3 0a2.65 2.65 0 1 0 -5.3 0M290.8 469.6a2.65 2.65 0 1 0 5.3 0a2.65 2.65 0 1 0 -5.3 0M280.6 472.6a2.65 2.65 0 1 0 5.3 0a2.65 2.65 0 1 0 -5.3 0M243.5 470.5a2.65 2.65 0 1 0 5.3 0a2.65 2.65 0 1 0 -5.3 0M251.2 468.4a2.65 2.65 0 1 0 5.3 0a2.65 2.65 0 1 0 -5.3 0M234.2 466a2.65 2.65 0 1 0 5.3 0a2.65 2.65 0 1 0 -5.3 0M237.3 462a2.65 2.65 0 1 0 5.3 0a2.65 2.65 0 1 0 -5.3 0M282 463.8a2.65 2.65 0 1 0 5.3 0a2.65 2.65 0 1 0 -5.3 0M281.2 461.6a2.65 2.65 0 1 0 5.3 0a2.65 2.65 0 1 0 -5.3 0M231.2 466.7a2.65 2.65 0 1 0 5.3 0a2.65 2.65 0 1 0 -5.3 0M248.9 472.2a2.65 2.65 0 1 0 5.3 0a2.65 2.65 0 1 0 -5.3 0M260.6 475.5a2.65 2.65 0 1 0 5.3 0a2.65 2.65 0 1 0 -5.3 0M288.5 464a2.65 2.65 0 1 0 5.3 0a2.65 2.65 0 1 0 -5.3 0M234.9 466.2a2.65 2.65 0 1 0 5.3 0a2.65 2.65 0 1 0 -5.3 0M238.9 464.3a2.65 2.65 0 1 0 5.3 0a2.65 2.65 0 1 0 -5.3 0M282.5 469.8a2.65 2.65 0 1 0 5.3 0a2.65 2.65 0 1 0 -5.3 0M287.2 462.8a2.65 2.65 0 1 0 5.3 0a2.65 2.65 0 1 0 -5.3 0M288.8 468.9a2.65 2.65 0 1 0 5.3 0a2.65 2.65 0 1 0 -5.3 0M276.8 467.4a2.65 2.65 0 1 0 5.3 0a2.65 2.65 0 1 0 -5.3 0M278.8 470a2.65 2.65 0 1 0 5.3 0a2.65 2.65 0 1 0 -5.3 0M232.5 465.9a2.65 2.65 0 1 0 5.3 0a2.65 2.65 0 1 0 -5.3 0M281.2 461.7a2.65 2.65 0 1 0 5.3 0a2.65 2.65 0 1 0 -5.3 0M271.6 469.4a2.65 2.65 0 1 0 5.3 0a2.65 2.65 0 1 0 -5.3 0M278.2 466.3a2.65 2.65 0 1 0 5.3 0a2.65 2.65 0 1 0 -5.3 0M259.3 468.4a2.65 2.65 0 1 0 5.3 0a2.65 2.65 0 1 0 -5.3 0M281 462.6a2.65 2.65 0 1 0 5.3 0a2.65 2.65 0 1 0 -5.3 0M237.8 464.9a2.65 2.65 0 1 0 5.3 0a2.65 2.65 0 1 0 -5.3 0M292.6 466.8a2.65 2.65 0 1 0 5.3 0a2.65 2.65 0 1 0 -5.3 0M291.4 472.2a2.65 2.65 0 1 0 5.3 0a2.65 2.65 0 1 0 -5.3 0M242.8 469.5a2.65 2.65 0 1 0 5.3 0a2.65 2.65 0 1 0 -5.3 0M274.7 465.7a2.65 2.65 0 1 0 5.3 0a2.65 2.65 0 1 0 -5.3 0M293.8 470.5a2.65 2.65 0 1 0 5.3 0a2.65 2.65 0 1 0 -5.3 0M291.8 465.9a2.65 2.65 0 1 0 5.3 0a2.65 2.65 0 1 0 -5.3 0M278 474a2.65 2.65 0 1 0 5.3 0a2.65 2.65 0 1 0 -5.3 0M291.6 462.5a2.65 2.65 0 1 0 5.3 0a2.65 2.65 0 1 0 -5.3 0M288 465.1a2.65 2.65 0 1 0 5.3 0a2.65 2.65 0 1 0 -5.3 0M285.2 471.5a2.65 2.65 0 1 0 5.3 0a2.65 2.65 0 1 0 -5.3 0M258.4 474.6a2.65 2.65 0 1 0 5.3 0a2.65 2.65 0 1 0 -5.3 0M279.8 471.2a2.65 2.65 0 1 0 5.3 0a2.65 2.65 0 1 0 -5.3 0M253.2 468.7a2.65 2.65 0 1 0 5.3 0a2.65 2.65 0 1 0 -5.3 0M288.7 471.6a2.65 2.65 0 1 0 5.3 0a2.65 2.65 0 1 0 -5.3 0M276.2 468.9a2.65 2.65 0 1 0 5.3 0a2.65 2.65 0 1 0 -5.3 0M267 471.2a2.65 2.65 0 1 0 5.3 0a2.65 2.65 0 1 0 -5.3 0M298.5 464.5a2.65 2.65 0 1 0 5.3 0a2.65 2.65 0 1 0 -5.3 0M284.9 474.1a2.65 2.65 0 1 0 5.3 0a2.65 2.65 0 1 0 -5.3 0M250.9 468a2.65 2.65 0 1 0 5.3 0a2.65 2.65 0 1 0 -5.3 0M275.5 463.1a2.65 2.65 0 1 0 5.3 0a2.65 2.65 0 1 0 -5.3 0M275.3 464.3a2.65 2.65 0 1 0 5.3 0a2.65 2.65 0 1 0 -5.3 0M277.9 466.1a2.65 2.65 0 1 0 5.3 0a2.65 2.65 0 1 0 -5.3 0M287.6 472.9a2.65 2.65 0 1 0 5.3 0a2.65 2.65 0 1 0 -5.3 0M267.6 471.5a2.65 2.65 0 1 0 5.3 0a2.65 2.65 0 1 0 -5.3 0M248.4 463.4a2.65 2.65 0 1 0 5.3 0a2.65 2.65 0 1 0 -5.3 0M247.2 472.2a2.65 2.65 0 1 0 5.3 0a2.65 2.65 0 1 0 -5.3 0M240.5 468.4a2.65 2.65 0 1 0 5.3 0a2.65 2.65 0 1 0 -5.3 0M222.5 462.1a2.65 2.65 0 1 0 5.3 0a2.65 2.65 0 1 0 -5.3 0M292.1 463.4a2.65 2.65 0 1 0 5.3 0a2.65 2.65 0 1 0 -5.3 0M281 473a2.65 2.65 0 1 0 5.3 0a2.65 2.65 0 1 0 -5.3 0M246.5 469.4a2.65 2.65 0 1 0 5.3 0a2.65 2.65 0 1 0 -5.3 0M246 467.6a2.65 2.65 0 1 0 5.3 0a2.65 2.65 0 1 0 -5.3 0M246.5 471a2.65 2.65 0 1 0 5.3 0a2.65 2.65 0 1 0 -5.3 0M291.6 471.5a2.65 2.65 0 1 0 5.3 0a2.65 2.65 0 1 0 -5.3 0M221.2 461.8a2.65 2.65 0 1 0 5.3 0a2.65 2.65 0 1 0 -5.3 0M222.8 462.4a2.65 2.65 0 1 0 5.3 0a2.65 2.65 0 1 0 -5.3 0M224.2 463.1a2.65 2.65 0 1 0 5.3 0a2.65 2.65 0 1 0 -5.3 0M225.4 464.4a2.65 2.65 0 1 0 5.3 0a2.65 2.65 0 1 0 -5.3 0M226.8 465.3a2.65 2.65 0 1 0 5.3 0a2.65 2.65 0 1 0 -5.3 0M227.8 466.1a2.65 2.65 0 1 0 5.3 0a2.65 2.65 0 1 0 -5.3 0M229.2 467.1a2.65 2.65 0 1 0 5.3 0a2.65 2.65 0 1 0 -5.3 0M230.7 467.7a2.65 2.65 0 1 0 5.3 0a2.65 2.65 0 1 0 -5.3 0M232.2 468.5a2.65 2.65 0 1 0 5.3 0a2.65 2.65 0 1 0 -5.3 0M233.9 469a2.65 2.65 0 1 0 5.3 0a2.65 2.65 0 1 0 -5.3 0M234.9 469.7a2.65 2.65 0 1 0 5.3 0a2.65 2.65 0 1 0 -5.3 0M236.3 470.8a2.65 2.65 0 1 0 5.3 0a2.65 2.65 0 1 0 -5.3 0M238.2 471.1a2.65 2.65 0 1 0 5.3 0a2.65 2.65 0 1 0 -5.3 0M239.3 472.2a2.65 2.65 0 1 0 5.3 0a2.65 2.65 0 1 0 -5.3 0M241.2 472.8a2.65 2.65 0 1 0 5.3 0a2.65 2.65 0 1 0 -5.3 0M243 472.9a2.65 2.65 0 1 0 5.3 0a2.65 2.65 0 1 0 -5.3 0M244.1 473.3a2.65 2.65 0 1 0 5.3 0a2.65 2.65 0 1 0 -5.3 0M246 473.7a2.65 2.65 0 1 0 5.3 0a2.65 2.65 0 1 0 -5.3 0M247.5 474.5a2.65 2.65 0 1 0 5.3 0a2.65 2.65 0 1 0 -5.3 0M249.5 474.8a2.65 2.65 0 1 0 5.3 0a2.65 2.65 0 1 0 -5.3 0M250.8 475.1a2.65 2.65 0 1 0 5.3 0a2.65 2.65 0 1 0 -5.3 0M252.4 475.1a2.65 2.65 0 1 0 5.3 0a2.65 2.65 0 1 0 -5.3 0M254.1 475.7a2.65 2.65 0 1 0 5.3 0a2.65 2.65 0 1 0 -5.3 0M256.2 475.4a2.65 2.65 0 1 0 5.3 0a2.65 2.65 0 1 0 -5.3 0M257.9 476a2.65 2.65 0 1 0 5.3 0a2.65 2.65 0 1 0 -5.3 0M259.4 475.9a2.65 2.65 0 1 0 5.3 0a2.65 2.65 0 1 0 -5.3 0M261.1 475.7a2.65 2.65 0 1 0 5.3 0a2.65 2.65 0 1 0 -5.3 0M262.2 476.3a2.65 2.65 0 1 0 5.3 0a2.65 2.65 0 1 0 -5.3 0M263.8 476.2a2.65 2.65 0 1 0 5.3 0a2.65 2.65 0 1 0 -5.3 0M265.7 475.7a2.65 2.65 0 1 0 5.3 0a2.65 2.65 0 1 0 -5.3 0M266.8 476.1a2.65 2.65 0 1 0 5.3 0a2.65 2.65 0 1 0 -5.3 0M268.4 476.1a2.65 2.65 0 1 0 5.3 0a2.65 2.65 0 1 0 -5.3 0M270.2 475.8a2.65 2.65 0 1 0 5.3 0a2.65 2.65 0 1 0 -5.3 0M271.6 475.8a2.65 2.65 0 1 0 5.3 0a2.65 2.65 0 1 0 -5.3 0M273.4 476.1a2.65 2.65 0 1 0 5.3 0a2.65 2.65 0 1 0 -5.3 0M274.8 476.1a2.65 2.65 0 1 0 5.3 0a2.65 2.65 0 1 0 -5.3 0M276 476.2a2.65 2.65 0 1 0 5.3 0a2.65 2.65 0 1 0 -5.3 0M278 476a2.65 2.65 0 1 0 5.3 0a2.65 2.65 0 1 0 -5.3 0M279.4 476a2.65 2.65 0 1 0 5.3 0a2.65 2.65 0 1 0 -5.3 0M281.2 475.7a2.65 2.65 0 1 0 5.3 0a2.65 2.65 0 1 0 -5.3 0M282.5 475.3a2.65 2.65 0 1 0 5.3 0a2.65 2.65 0 1 0 -5.3 0M284.2 474.7a2.65 2.65 0 1 0 5.3 0a2.65 2.65 0 1 0 -5.3 0M286 474.9a2.65 2.65 0 1 0 5.3 0a2.65 2.65 0 1 0 -5.3 0M287.8 474.2a2.65 2.65 0 1 0 5.3 0a2.65 2.65 0 1 0 -5.3 0M289.4 474.1a2.65 2.65 0 1 0 5.3 0a2.65 2.65 0 1 0 -5.3 0M290.7 473.1a2.65 2.65 0 1 0 5.3 0a2.65 2.65 0 1 0 -5.3 0M292 472.4a2.65 2.65 0 1 0 5.3 0a2.65 2.65 0 1 0 -5.3 0M293.6 471.5a2.65 2.65 0 1 0 5.3 0a2.65 2.65 0 1 0 -5.3 0M294.9 470.8a2.65 2.65 0 1 0 5.3 0a2.65 2.65 0 1 0 -5.3 0M295.8 469.7a2.65 2.65 0 1 0 5.3 0a2.65 2.65 0 1 0 -5.3 0M297.2 468.9a2.65 2.65 0 1 0 5.3 0a2.65 2.65 0 1 0 -5.3 0M298.1 467.5a2.65 2.65 0 1 0 5.3 0a2.65 2.65 0 1 0 -5.3 0M299.1 466.3a2.65 2.65 0 1 0 5.3 0a2.65 2.65 0 1 0 -5.3 0M299.4 464.9a2.65 2.65 0 1 0 5.3 0a2.65 2.65 0 1 0 -5.3 0M300.5 463.2a2.65 2.65 0 1 0 5.3 0a2.65 2.65 0 1 0 -5.3 0M301 462.3a2.65 2.65 0 1 0 5.3 0a2.65 2.65 0 1 0 -5.3 0M299.1 462a2.65 2.65 0 1 0 5.3 0a2.65 2.65 0 1 0 -5.3 0M297.5 461.4a2.65 2.65 0 1 0 5.3 0a2.65 2.65 0 1 0 -5.3 0M295.6 461.7a2.65 2.65 0 1 0 5.3 0a2.65 2.65 0 1 0 -5.3 0M294.2 461.4a2.65 2.65 0 1 0 5.3 0a2.65 2.65 0 1 0 -5.3 0M292.7 461.6a2.65 2.65 0 1 0 5.3 0a2.65 2.65 0 1 0 -5.3 0M291.4 461.7a2.65 2.65 0 1 0 5.3 0a2.65 2.65 0 1 0 -5.3 0M289.8 461.3a2.65 2.65 0 1 0 5.3 0a2.65 2.65 0 1 0 -5.3 0M288 461.2a2.65 2.65 0 1 0 5.3 0a2.65 2.65 0 1 0 -5.3 0M286.3 461.4a2.65 2.65 0 1 0 5.3 0a2.65 2.65 0 1 0 -5.3 0M284.8 461.5a2.65 2.65 0 1 0 5.3 0a2.65 2.65 0 1 0 -5.3 0M283.2 461.6a2.65 2.65 0 1 0 5.3 0a2.65 2.65 0 1 0 -5.3 0M281.8 461.3a2.65 2.65 0 1 0 5.3 0a2.65 2.65 0 1 0 -5.3 0M280.4 461.4a2.65 2.65 0 1 0 5.3 0a2.65 2.65 0 1 0 -5.3 0M278.5 461.7a2.65 2.65 0 1 0 5.3 0a2.65 2.65 0 1 0 -5.3 0M277.4 461.7a2.65 2.65 0 1 0 5.3 0a2.65 2.65 0 1 0 -5.3 0M275.5 461.4a2.65 2.65 0 1 0 5.3 0a2.65 2.65 0 1 0 -5.3 0M274.6 462.5a2.65 2.65 0 1 0 5.3 0a2.65 2.65 0 1 0 -5.3 0M273.6 463.9a2.65 2.65 0 1 0 5.3 0a2.65 2.65 0 1 0 -5.3 0M272.2 464.7a2.65 2.65 0 1 0 5.3 0a2.65 2.65 0 1 0 -5.3 0M270.9 466.1a2.65 2.65 0 1 0 5.3 0a2.65 2.65 0 1 0 -5.3 0M270.2 467.1a2.65 2.65 0 1 0 5.3 0a2.65 2.65 0 1 0 -5.3 0M268.8 468.3a2.65 2.65 0 1 0 5.3 0a2.65 2.65 0 1 0 -5.3 0M267.9 469.8a2.65 2.65 0 1 0 5.3 0a2.65 2.65 0 1 0 -5.3 0M266.6 471a2.65 2.65 0 1 0 5.3 0a2.65 2.65 0 1 0 -5.3 0M265.1 471.9a2.65 2.65 0 1 0 5.3 0a2.65 2.65 0 1 0 -5.3 0M263.9 473.2a2.65 2.65 0 1 0 5.3 0a2.65 2.65 0 1 0 -5.3 0M262.7 471.8a2.65 2.65 0 1 0 5.3 0a2.65 2.65 0 1 0 -5.3 0M261.7 471.1a2.65 2.65 0 1 0 5.3 0a2.65 2.65 0 1 0 -5.3 0M260.9 469.6a2.65 2.65 0 1 0 5.3 0a2.65 2.65 0 1 0 -5.3 0M259.8 468.3a2.65 2.65 0 1 0 5.3 0a2.65 2.65 0 1 0 -5.3 0M258.2 467.3a2.65 2.65 0 1 0 5.3 0a2.65 2.65 0 1 0 -5.3 0M257.4 465.9a2.65 2.65 0 1 0 5.3 0a2.65 2.65 0 1 0 -5.3 0M256.3 465a2.65 2.65 0 1 0 5.3 0a2.65 2.65 0 1 0 -5.3 0M255.1 463.7a2.65 2.65 0 1 0 5.3 0a2.65 2.65 0 1 0 -5.3 0M253.5 462.4a2.65 2.65 0 1 0 5.3 0a2.65 2.65 0 1 0 -5.3 0M252.8 461.5a2.65 2.65 0 1 0 5.3 0a2.65 2.65 0 1 0 -5.3 0M251.2 461.3a2.65 2.65 0 1 0 5.3 0a2.65 2.65 0 1 0 -5.3 0M249.4 461.3a2.65 2.65 0 1 0 5.3 0a2.65 2.65 0 1 0 -5.3 0M248.2 461.6a2.65 2.65 0 1 0 5.3 0a2.65 2.65 0 1 0 -5.3 0M246.2 461.6a2.65 2.65 0 1 0 5.3 0a2.65 2.65 0 1 0 -5.3 0M244.5 461.5a2.65 2.65 0 1 0 5.3 0a2.65 2.65 0 1 0 -5.3 0M243.1 461.7a2.65 2.65 0 1 0 5.3 0a2.65 2.65 0 1 0 -5.3 0M241.8 461.6a2.65 2.65 0 1 0 5.3 0a2.65 2.65 0 1 0 -5.3 0M239.9 461.2a2.65 2.65 0 1 0 5.3 0a2.65 2.65 0 1 0 -5.3 0M238.6 461.6a2.65 2.65 0 1 0 5.3 0a2.65 2.65 0 1 0 -5.3 0M236.7 461.7a2.65 2.65 0 1 0 5.3 0a2.65 2.65 0 1 0 -5.3 0M235.7 461.4a2.65 2.65 0 1 0 5.3 0a2.65 2.65 0 1 0 -5.3 0M233.9 461.6a2.65 2.65 0 1 0 5.3 0a2.65 2.65 0 1 0 -5.3 0M232.6 461.6a2.65 2.65 0 1 0 5.3 0a2.65 2.65 0 1 0 -5.3 0M230.7 461.7a2.65 2.65 0 1 0 5.3 0a2.65 2.65 0 1 0 -5.3 0M229.2 461.2a2.65 2.65 0 1 0 5.3 0a2.65 2.65 0 1 0 -5.3 0M227.6 461.4a2.65 2.65 0 1 0 5.3 0a2.65 2.65 0 1 0 -5.3 0M225.9 461.4a2.65 2.65 0 1 0 5.3 0a2.65 2.65 0 1 0 -5.3 0M224.3 461.4a2.65 2.65 0 1 0 5.3 0a2.65 2.65 0 1 0 -5.3 0M223.1 461.7a2.65 2.65 0 1 0 5.3 0a2.65 2.65 0 1 0 -5.3 0M308.2 473a2.65 2.65 0 1 0 5.3 0a2.65 2.65 0 1 0 -5.3 0M314.4 470.7a2.65 2.65 0 1 0 5.3 0a2.65 2.65 0 1 0 -5.3 0M317.4 469.5a2.65 2.65 0 1 0 5.3 0a2.65 2.65 0 1 0 -5.3 0M320.4 468a2.65 2.65 0 1 0 5.3 0a2.65 2.65 0 1 0 -5.3 0M323.4 466.8a2.65 2.65 0 1 0 5.3 0a2.65 2.65 0 1 0 -5.3 0M326.4 465.7a2.65 2.65 0 1 0 5.3 0a2.65 2.65 0 1 0 -5.3 0M329.4 464.5a2.65 2.65 0 1 0 5.3 0a2.65 2.65 0 1 0 -5.3 0M331.7 463.7a2.65 2.65 0 1 0 5.3 0a2.65 2.65 0 1 0 -5.3 0M302.4 465a2.65 2.65 0 1 0 5.3 0a2.65 2.65 0 1 0 -5.3 0" fill="#619CFF"/>
</g>
<line x1="127.7" y1="462.4" x2="443.7" y2="462.4" stroke="#999" stroke-width="1.2" stroke-dasharray="5.8 6.3 2 5.9" opacity="0.85"/>
<line x1="255.3" y1="21" x2="255.3" y2="491" stroke="#999" stroke-width="1.2" stroke-dasharray="5.8 6.3 2 5.9" opacity="0.85"/>
<line x1="278.3" y1="21" x2="278.3" y2="491" stroke="#999" stroke-width="1.2" stroke-dasharray="5.8 6.3 2 5.9" opacity="0.85"/>
<path d="M120.3 17.8V497.2H447" fill="none" stroke="#333" stroke-width="1.6"/>
<line x1="117.3" y1="102.4" x2="120.3" y2="102.4" stroke="#333" stroke-width="1.2"/>
<text x="114.8" y="105.8" font-size="9.3" fill="#4d4d4d" text-anchor="end" font-family="'DejaVu Sans', Verdana, sans-serif">40</text>
<line x1="117.3" y1="288.5" x2="120.3" y2="288.5" stroke="#333" stroke-width="1.2"/>
<text x="114.8" y="291.9" font-size="9.3" fill="#4d4d4d" text-anchor="end" font-family="'DejaVu Sans', Verdana, sans-serif">20</text>
<line x1="117.3" y1="462.5" x2="120.3" y2="462.5" stroke="#333" stroke-width="1.2"/>
<text x="114.8" y="465.9" font-size="9.3" fill="#4d4d4d" text-anchor="end" font-family="'DejaVu Sans', Verdana, sans-serif">1.301</text>
<line x1="140.5" y1="497.2" x2="140.5" y2="500.2" stroke="#333" stroke-width="1.2"/>
<text x="140.5" y="509.5" font-size="9.3" fill="#4d4d4d" text-anchor="middle" font-family="'DejaVu Sans', Verdana, sans-serif">-11</text>
<line x1="209.4" y1="497.2" x2="209.4" y2="500.2" stroke="#333" stroke-width="1.2"/>
<text x="209.4" y="509.5" font-size="9.3" fill="#4d4d4d" text-anchor="middle" font-family="'DejaVu Sans', Verdana, sans-serif">-5</text>
<line x1="255.3" y1="497.2" x2="255.3" y2="500.2" stroke="#333" stroke-width="1.2"/>
<text x="255.3" y="509.5" font-size="9.3" fill="#4d4d4d" text-anchor="middle" font-family="'DejaVu Sans', Verdana, sans-serif">-1</text>
<line x1="278.3" y1="497.2" x2="278.3" y2="500.2" stroke="#333" stroke-width="1.2"/>
<text x="278.3" y="509.5" font-size="9.3" fill="#4d4d4d" text-anchor="middle" font-family="'DejaVu Sans', Verdana, sans-serif">1</text>
<line x1="289.8" y1="497.2" x2="289.8" y2="500.2" stroke="#333" stroke-width="1.2"/>
<text x="289.8" y="509.5" font-size="9.3" fill="#4d4d4d" text-anchor="middle" font-family="'DejaVu Sans', Verdana, sans-serif">2</text>
<line x1="358.7" y1="497.2" x2="358.7" y2="500.2" stroke="#333" stroke-width="1.2"/>
<text x="358.7" y="509.5" font-size="9.3" fill="#4d4d4d" text-anchor="middle" font-family="'DejaVu Sans', Verdana, sans-serif">8</text>
<line x1="439.1" y1="497.2" x2="439.1" y2="500.2" stroke="#333" stroke-width="1.2"/>
<text x="439.1" y="509.5" font-size="9.3" fill="#4d4d4d" text-anchor="middle" font-family="'DejaVu Sans', Verdana, sans-serif">15</text>
<text x="283.9" y="523.3" font-size="11.7" fill="#000" text-anchor="middle" font-family="'DejaVu Sans', Verdana, sans-serif">log2FoldChange</text>
<text x="83.2" y="257.5" font-size="11.6" fill="#000" text-anchor="middle" font-family="'DejaVu Sans', Verdana, sans-serif" transform="rotate(-90 83.2 257.5)">-log10(padj)</text>
<text x="466" y="224.9" font-size="11.8" fill="#000" font-family="'DejaVu Sans', Verdana, sans-serif">padj&lt;=0.05</text>
<text x="466" y="237.6" font-size="11.8" fill="#000" font-family="'DejaVu Sans', Verdana, sans-serif">|log2FoldChange|&gt;=1</text>
<rect x="466.6" y="245.7" width="17" height="16" fill="#f2f2f2"/>
<circle cx="475" cy="253.7" r="2.8" fill="#F8766D"/>
<text x="490" y="258" font-size="9.3" fill="#000" font-family="'DejaVu Sans', Verdana, sans-serif">UP 4172</text>
<rect x="466.6" y="264.2" width="17" height="16" fill="#f2f2f2"/>
<circle cx="475" cy="272.2" r="2.8" fill="#00BA38"/>
<text x="490" y="276.5" font-size="9.3" fill="#000" font-family="'DejaVu Sans', Verdana, sans-serif">DOWN 1961</text>
<rect x="466.6" y="282.7" width="17" height="16" fill="#f2f2f2"/>
<circle cx="475" cy="290.7" r="2.8" fill="#619CFF"/>
<text x="490" y="295" font-size="9.3" fill="#000" font-family="'DejaVu Sans', Verdana, sans-serif">NO 15491</text>
<path d="M110.1 910.4L179.1 875.7L248.2 719.8L317.2 866.3L386.3 854L455.3 929L524.3 898.4L593.4 887.7M110.1 858.3L179.1 888.7L248.2 764.7L317.2 895.5L386.3 833.1L455.3 870.7L524.3 926.2L593.4 872M110.1 894.2L179.1 905.5L248.2 797L317.2 894.7L386.3 808.3L455.3 916.3L524.3 902.6L593.4 892.4M110.1 873.4L179.1 890.4L248.2 798L317.2 888.8L386.3 866L455.3 928.2L524.3 885.3L593.4 923.4M110.1 907.7L179.1 861.3L248.2 717.5L317.2 856.5L386.3 850.5L455.3 898.4L524.3 890.2L593.4 921.5M110.1 868.2L179.1 879.5L248.2 757.2L317.2 914.1L386.3 854.9L455.3 854.5L524.3 857.5L593.4 878.7M110.1 885.6L179.1 881.5L248.2 729.8L317.2 878.2L386.3 832.4L455.3 903.9L524.3 937.7L593.4 913.4M110.1 901.4L179.1 873.7L248.2 713.5L317.2 881.8L386.3 842.3L455.3 888.1L524.3 884.5L593.4 904.8M110.1 886.1L179.1 865.9L248.2 755.5L317.2 882.5L386.3 829.7L455.3 868.2L524.3 896.3L593.4 890.7M110.1 895.6L179.1 881.7L248.2 737.3L317.2 881.8L386.3 849.4L455.3 881.8L524.3 905.9L593.4 893.9M110.1 887.8L179.1 897.5L248.2 755.1L317.2 853.7L386.3 857.2L455.3 903.6L524.3 898.6L593.4 918.1M110.1 872.3L179.1 897.8L248.2 718.4L317.2 865.8L386.3 841.6L455.3 867.2L524.3 890.2L593.4 929M110.1 881L179.1 874.1L248.2 796.8L317.2 902.8L386.3 831.4L455.3 880.1L524.3 859.7L593.4 882.6M110.1 878.9L179.1 877.2L248.2 720.4L317.2 882.1L386.3 856.9L455.3 882.8L524.3 895.1L593.4 910.6M110.1 903.5L179.1 902.9L248.2 714.3L317.2 889L386.3 849.5L455.3 894.5L524.3 882.3L593.4 923.9M110.1 878.5L179.1 892.2L248.2 713.1L317.2 870.8L386.3 876.7L455.3 911.1L524.3 876.2L593.4 872.3M110.1 867.8L179.1 885.9L248.2 712.2L317.2 923.7L386.3 862.8L455.3 911.3L524.3 909.7L593.4 884.6M110.1 875.4L179.1 879.4L248.2 751.3L317.2 870.8L386.3 837.5L455.3 902.4L524.3 868.5L593.4 913.7M110.1 852.1L179.1 903.1L248.2 756.1L317.2 901L386.3 851.8L455.3 860.8L524.3 903.8L593.4 868.2M110.1 873.8L179.1 892.1L248.2 718.6L317.2 895.4L386.3 834L455.3 890.7L524.3 902.8L593.4 921M110.1 883.4L179.1 874.9L248.2 693L317.2 912.4L386.3 849.7L455.3 862.1L524.3 902.7L593.4 904.1M110.1 899.4L179.1 872.1L248.2 720.9L317.2 871.2L386.3 848L455.3 868L524.3 890.9L593.4 881.5M110.1 866.9L179.1 864.3L248.2 731.1L317.2 880.1L386.3 838.9L455.3 923.2L524.3 926L593.4 892.9M110.1 896.4L179.1 892.3L248.2 751.8L317.2 880.5L386.3 867.3L455.3 867.8L524.3 924L593.4 916.3M110.1 853.4L179.1 873.6L248.2 801.5L317.2 903.1L386.3 851.6L455.3 883.6L524.3 897.4L593.4 895.1M110.1 877.4L179.1 900.4L248.2 745.6L317.2 841.5L386.3 865.5L455.3 911.7L524.3 874.1L593.4 869.2M110.1 863.3L179.1 892.8L248.2 749.9L317.2 878L386.3 856.9L455.3 880.8L524.3 865.1L593.4 884.7M110.1 880.2L179.1 886.4L248.2 690L317.2 903.3L386.3 813.4L455.3 873.3L524.3 886.5L593.4 909.8M110.1 850.5L179.1 865.4L248.2 718.2L317.2 844.6L386.3 888.1L455.3 887.3L524.3 894.9L593.4 909.5M110.1 878.8L179.1 875.4L248.2 730.6L317.2 884L386.3 878.8L455.3 877.2L524.3 875.3L593.4 877.3M110.1 879.5L179.1 900.9L248.2 769.2L317.2 878.1L386.3 838L455.3 878.4L524.3 859.8L593.4 915.6M110.1 891.1L179.1 880.8L248.2 787.2L317.2 892.5L386.3 825.5L455.3 883L524.3 890.5L593.4 906.5M110.1 879.2L179.1 883.9L248.2 782.2L317.2 867.5L386.3 878L455.3 861.1L524.3 895.6L593.4 926.2M110.1 875.1L179.1 896.7L248.2 688.8L317.2 857L386.3 811.1L455.3 869.9L524.3 859.1L593.4 907.6M110.1 858.8L179.1 890.2L248.2 748.7L317.2 906.2L386.3 851.4L455.3 880.8L524.3 889.4L593.4 917.5M110.1 865.2L179.1 869.9L248.2 749.9L317.2 867.7L386.3 833L455.3 911.7L524.3 888.8L593.4 915.8M110.1 873.1L179.1 896.7L248.2 734.8L317.2 875.1L386.3 862.1L455.3 855.9L524.3 887.8L593.4 893.2M110.1 891.2L179.1 907.9L248.2 798.6L317.2 884.9L386.3 870L455.3 887L524.3 930.2L593.4 867.6M110.1 852.2L179.1 894.8L248.2 737L317.2 897.8L386.3 835.8L455.3 908.3L524.3 891.5L593.4 869.4M110.1 871.5L179.1 888.4L248.2 796.8L317.2 910.4L386.3 828.9L455.3 878L524.3 887.1L593.4 870.4M110.1 877.6L179.1 894.5L248.2 750.9L317.2 883.3L386.3 853.1L455.3 876.8L524.3 882.1L593.4 900.6M110.1 890.9L179.1 898.7L248.2 762.5L317.2 909.1L386.3 889.6L455.3 910.6L524.3 932.4L593.4 868M110.1 859.7L179.1 898.2L248.2 680.9L317.2 869.6L386.3 852.1L455.3 912.2L524.3 926L593.4 900.8M110.1 861L179.1 876.9L248.2 794.8L317.2 893.8L386.3 867.7L455.3 864.1L524.3 890.2L593.4 915.1M110.1 894.7L179.1 913.6L248.2 774.7L317.2 865.6L386.3 890.7L455.3 885.5L524.3 890.6L593.4 879.4M110.1 898.5L179.1 869.8L248.2 696.4L317.2 840.3L386.3 885.1L455.3 890.5L524.3 892.7L593.4 893.2M110.1 896L179.1 870.6L248.2 670.5L317.2 854.5L386.3 871.7L455.3 902.8L524.3 872.2L593.4 892.9M110.1 892.3L179.1 864.8L248.2 730.2L317.2 863.2L386.3 856.1L455.3 861L524.3 898.3L593.4 917.9M110.1 880L179.1 904.9L248.2 706.2L317.2 868.5L386.3 886.3L455.3 886L524.3 869.6L593.4 902.8M110.1 873.1L179.1 892.6L248.2 749.5L317.2 883.4L386.3 842.9L455.3 911.6L524.3 912.9L593.4 889M110.1 888.2L179.1 875.7L248.2 763.8L317.2 905.7L386.3 837.8L455.3 883.8L524.3 872.2L593.4 902.4M110.1 885.8L179.1 864.3L248.2 802.8L317.2 850.2L386.3 842.3L455.3 891.1L524.3 886.3L593.4 883.5M110.1 892.6L179.1 879.4L248.2 778.6L317.2 915.4L386.3 848.6L455.3 887.6L524.3 874.1L593.4 884.5M110.1 868.4L179.1 871.6L248.2 782L317.2 859.7L386.3 864.1L455.3 918.2L524.3 873.4L593.4 877.1M110.1 863.4L179.1 860L248.2 792.9L317.2 874.9L386.3 843.5L455.3 861.4L524.3 907.8L593.4 895M110.1 886.1L179.1 886L248.2 752.3L317.2 884.5L386.3 888.2L455.3 890.6L524.3 886.9L593.4 903.3M110.1 891.3L179.1 893.6L248.2 775.9L317.2 852.6L386.3 834.1L455.3 894L524.3 875.1L593.4 915M110.1 872.2L179.1 892.8L248.2 698.8L317.2 861.5L386.3 855.2L455.3 875.8L524.3 905.8L593.4 927.3M110.1 866.2L179.1 858.5L248.2 757.5L317.2 891.4L386.3 888.7L455.3 916.9L524.3 909.5L593.4 899.5M110.1 860L179.1 882.8L248.2 748L317.2 881.4L386.3 835.7L455.3 890.6L524.3 884.8L593.4 897.1M110.1 898.2L179.1 863.1L248.2 770.2L317.2 905.8L386.3 861.5L455.3 889.1L524.3 870.3L593.4 925.1M110.1 900.8L179.1 880.9L248.2 734.8L317.2 901.8L386.3 875.5L455.3 885.8L524.3 891.4L593.4 928.1M110.1 894.4L179.1 860.9L248.2 782.2L317.2 862.7L386.3 883.5L455.3 856.2L524.3 853.2L593.4 908.3M110.1 891.2L179.1 874L248.2 788.2L317.2 871.8L386.3 828.3L455.3 883.9L524.3 881.2L593.4 898.8M110.1 863.5L179.1 896.2L248.2 695.2L317.2 882.2L386.3 859.3L455.3 926.7L524.3 898L593.4 890.9M110.1 859.5L179.1 908.3L248.2 751.6L317.2 894.3L386.3 876.8L455.3 889.7L524.3 904.9L593.4 878.2M110.1 867.9L179.1 912.8L248.2 730.4L317.2 888L386.3 850.2L455.3 911.7L524.3 911.3L593.4 910.4M110.1 880.9L179.1 896.5L248.2 761.2L317.2 897.5L386.3 848.1L455.3 915.5L524.3 933.9L593.4 896M110.1 878.4L179.1 868.9L248.2 771.8L317.2 902.6L386.3 882.7L455.3 872.6L524.3 902L593.4 875.8M110.1 881.3L179.1 887.8L248.2 769.7L317.2 867.4L386.3 865L455.3 874.5L524.3 924.3L593.4 875.3M110.1 861.7L179.1 878.7L248.2 788L317.2 891.4L386.3 865.9L455.3 885.6L524.3 932.5L593.4 912.9M110.1 867L179.1 881.4L248.2 723.2L317.2 866.3L386.3 875.7L455.3 920.2L524.3 878.2L593.4 894.9M110.1 878.7L179.1 896.1L248.2 714.1L317.2 872.8L386.3 829.9L455.3 897.8L524.3 873.2L593.4 896.8M110.1 895.4L179.1 884.9L248.2 801.8L317.2 885.1L386.3 849.2L455.3 874.1L524.3 911.4L593.4 922.2M110.1 892L179.1 915.3L248.2 768.9L317.2 879.2L386.3 868L455.3 905.2L524.3 849.7L593.4 919M110.1 881.9L179.1 884.8L248.2 771.6L317.2 894.9L386.3 886.4L455.3 908.8L524.3 859.9L593.4 867.2M110.1 884.6L179.1 872.9L248.2 732.4L317.2 879.8L386.3 855.5L455.3 862.4L524.3 875.9L593.4 900.1M110.1 883.8L179.1 869.3L248.2 767L317.2 894.9L386.3 858.3L455.3 901.1L524.3 860.8L593.4 888.5M110.1 881.4L179.1 891.7L248.2 701.1L317.2 873.8L386.3 811.1L455.3 869.3L524.3 893L593.4 906.6M110.1 884.7L179.1 880.9L248.2 721.6L317.2 873L386.3 821.3L455.3 924.1L524.3 887.7L593.4 924M110.1 896.9L179.1 892.8L248.2 768.8L317.2 899.5L386.3 883.2L455.3 864.1L524.3 895.4L593.4 876.3M110.1 898.1L179.1 919.1L248.2 767L317.2 865.8L386.3 864L455.3 880.9L524.3 911.9L593.4 867.7M110.1 872.9L179.1 867.6L248.2 756.6L317.2 858.5L386.3 851.3L455.3 900.8L524.3 902.3L593.4 894.5M110.1 894.9L179.1 901.9L248.2 743.3L317.2 868.9L386.3 858.6L455.3 870.8L524.3 853.7L593.4 921M110.1 875.8L179.1 898.4L248.2 768.6L317.2 878.6L386.3 840.7L455.3 870.9L524.3 876.5L593.4 882.6M110.1 850.3L179.1 889.2L248.2 711.7L317.2 855.5L386.3 843L455.3 930.1L524.3 891.8L593.4 901.5M110.1 906.5L179.1 884.6L248.2 722.8L317.2 886.5L386.3 856.4L455.3 856.7L524.3 901.8L593.4 914.5M110.1 879.4L179.1 866.5L248.2 728.1L317.2 880.5L386.3 862.7L455.3 862L524.3 869L593.4 930.3M110.1 874.6L179.1 860.8L248.2 727.5L317.2 893.3L386.3 878.6L455.3 896.6L524.3 926.6L593.4 884.3M110.1 888.4L179.1 910.7L248.2 748.2L317.2 860.3L386.3 878.2L455.3 897.8L524.3 848.7L593.4 891.9M110.1 889.1L179.1 880.8L248.2 722L317.2 900.1L386.3 854.8L455.3 926.7L524.3 923L593.4 926.4M110.1 866.2L179.1 878.9L248.2 723.6L317.2 859.7L386.3 851.9L455.3 884.5L524.3 879.5L593.4 886.3M110.1 897.4L179.1 887.8L248.2 752.5L317.2 881.2L386.3 867.8L455.3 892.8L524.3 882.1L593.4 891.9M110.1 870.4L179.1 871.1L248.2 729.3L317.2 864.3L386.3 836L455.3 858.4L524.3 874.7L593.4 908M110.1 861.6L179.1 864.6L248.2 723.6L317.2 881L386.3 875.7L455.3 880L524.3 896.1L593.4 903.6M110.1 915L179.1 860L248.2 785.8L317.2 901.8L386.3 843.5L455.3 877L524.3 905.7L593.4 895.8M110.1 875.9L179.1 881.3L248.2 730.3L317.2 867.7L386.3 860.2L455.3 926.4L524.3 896.8L593.4 915.5M110.1 867.7L179.1 874.7L248.2 767.8L317.2 839.1L386.3 827.2L455.3 890.7L524.3 881.6L593.4 889.3M110.1 883.8L179.1 878.8L248.2 790.2L317.2 889.1L386.3 815.8L455.3 862L524.3 937.2L593.4 912.7M110.1 865.6L179.1 889.9L248.2 766.5L317.2 909.1L386.3 855.2L455.3 893.8L524.3 902.3L593.4 926.9M110.1 877.5L179.1 877.2L248.2 710.2L317.2 872.5L386.3 822.3L455.3 862.8L524.3 852L593.4 897.7M110.1 897.2L179.1 877L248.2 716.1L317.2 910L386.3 877.5L455.3 874.3L524.3 900.5L593.4 891.3M110.1 889L179.1 904L248.2 727.9L317.2 913.2L386.3 878.9L455.3 919.4L524.3 851.2L593.4 900.1M110.1 886.3L179.1 872.9L248.2 706.7L317.2 896.5L386.3 808.7L455.3 894.5L524.3 863.6L593.4 896.7M110.1 891.5L179.1 853.3L248.2 754.6L317.2 905L386.3 813.7L455.3 905.3L524.3 888.4L593.4 920.7M110.1 868.9L179.1 880.7L248.2 757L317.2 889.2L386.3 864.2L455.3 906.1L524.3 919.2L593.4 871.5M110.1 865.4L179.1 904.9L248.2 785.7L317.2 874.4L386.3 807.4L455.3 894.5L524.3 895.2L593.4 900.7M110.1 875.9L179.1 886.3L248.2 712L317.2 863.9L386.3 841.7L455.3 854.3L524.3 893.4L593.4 906.7M110.1 911.7L179.1 907.5L248.2 735.8L317.2 901.3L386.3 831.5L455.3 937.2L524.3 891.4L593.4 903.5M110.1 897.7L179.1 866.5L248.2 760.6L317.2 873.6L386.3 863.4L455.3 886.4L524.3 898.2L593.4 894.2M110.1 881.7L179.1 894.1L248.2 733.2L317.2 885.2L386.3 872.2L455.3 913.5L524.3 878.7L593.4 869M110.1 901.5L179.1 890L248.2 732.8L317.2 862.9L386.3 838.5L455.3 916.6L524.3 887.6L593.4 877.6M110.1 876.1L179.1 887.1L248.2 786.3L317.2 878.8L386.3 854.1L455.3 889.1L524.3 855.5L593.4 871.8M110.1 893L179.1 880.1L248.2 757.7L317.2 880L386.3 820.1L455.3 869.1L524.3 887.5L593.4 908.8M110.1 882.7L179.1 878.1L248.2 763.9L317.2 861.8L386.3 852.4L455.3 916.5L524.3 894.3L593.4 898.1M110.1 863.8L179.1 866.6L248.2 699.7L317.2 853.4L386.3 846.4L455.3 887.3L524.3 866.1L593.4 896.2M110.1 900.7L179.1 890.6L248.2 725.8L317.2 870.7L386.3 875L455.3 862.8L524.3 881.6L593.4 925.7M110.1 872.3L179.1 868.3L248.2 730L317.2 887.5L386.3 868.9L455.3 864.5L524.3 883.4L593.4 895.7M110.1 886.6L179.1 899.4L248.2 758.8L317.2 861.6L386.3 837.5L455.3 905.2L524.3 855L593.4 900.2M110.1 896.5L179.1 868.7L248.2 702.1L317.2 888.9L386.3 877.3L455.3 891.3L524.3 887.2L593.4 890.1M110.1 892L179.1 872.8L248.2 763.7L317.2 858.7L386.3 860L455.3 843.7L524.3 896L593.4 891.8M110.1 895.4L179.1 903.2L248.2 736.2L317.2 875.4L386.3 872.3L455.3 877.1L524.3 897.4L593.4 906.7M110.1 881.2L179.1 877.6L248.2 723.7L317.2 859.3L386.3 845.2L455.3 906.3L524.3 903.3L593.4 888.2M110.1 899.6L179.1 886.3L248.2 760.1L317.2 883.6L386.3 849.2L455.3 866.3L524.3 852.6L593.4 877.9M110.1 863.5L179.1 900L248.2 713.6L317.2 858.2L386.3 879.9L455.3 902.6L524.3 849.8L593.4 894.3M110.1 893.1L179.1 892.4L248.2 712.4L317.2 877.1L386.3 860.3L455.3 863.8L524.3 908.9L593.4 912.6M110.1 889.2L179.1 895.1L248.2 724.9L317.2 886L386.3 873.9L455.3 900.2L524.3 931.7L593.4 892.3M110.1 878.4L179.1 874.3L248.2 755.2L317.2 874.6L386.3 871.5L455.3 889.2L524.3 885L593.4 920M110.1 870.4L179.1 881.5L248.2 745.8L317.2 890.5L386.3 812.7L455.3 889.8L524.3 905.1L593.4 912.6M110.1 870.3L179.1 886.8L248.2 773.4L317.2 895L386.3 834.1L455.3 887.9L524.3 865.4L593.4 895.9M110.1 899.4L179.1 870.4L248.2 737.1L317.2 893.7L386.3 859L455.3 911.7L524.3 870.3L593.4 904M110.1 872.2L179.1 879.7L248.2 756L317.2 875.1L386.3 857.7L455.3 916.4L524.3 897.4L593.4 919.2M110.1 867.7L179.1 873.7L248.2 766.7L317.2 870.6L386.3 847.9L455.3 867.8L524.3 908.7L593.4 895.1M110.1 896.2L179.1 894.1L248.2 702.8L317.2 918.4L386.3 871.1L455.3 878.8L524.3 871.4L593.4 911.3M110.1 913.2L179.1 909.9L248.2 735.6L317.2 861.8L386.3 834.7L455.3 906.3L524.3 858.9L593.4 899.4M110.1 870L179.1 886.6L248.2 695.5L317.2 891.2L386.3 859.1L455.3 885.5L524.3 882.3L593.4 909.9M110.1 883.8L179.1 900.9L248.2 755.2L317.2 880.3L386.3 848L455.3 852.8L524.3 931.9L593.4 885.3M110.1 872.9L179.1 901.3L248.2 745.2L317.2 882L386.3 872.8L455.3 873.6L524.3 873.7L593.4 880.1M110.1 862.6L179.1 885.6L248.2 715.8L317.2 896.5L386.3 849.2L455.3 874L524.3 859.9L593.4 901.4M110.1 884.8L179.1 876.5L248.2 750.1L317.2 879.3L386.3 836.8L455.3 907L524.3 869.3L593.4 888.1M110.1 884.3L179.1 902.7L248.2 768.1L317.2 882.6L386.3 834.1L455.3 934L524.3 872.9L593.4 891.8M110.1 898.4L179.1 870.6L248.2 734.6L317.2 873.9L386.3 872.2L455.3 914.7L524.3 868.7L593.4 867.7M110.1 874.1L179.1 886.6L248.2 762.2L317.2 912.8L386.3 833.2L455.3 891.9L524.3 861.7L593.4 909.9M110.1 862.9L179.1 894.5L248.2 728.5L317.2 857L386.3 866.8L455.3 869.5L524.3 888.5L593.4 914.2M110.1 876.8L179.1 873.9L248.2 770.7L317.2 886.6L386.3 864.1L455.3 907L524.3 892.9L593.4 879.3M110.1 888.1L179.1 864.8L248.2 759.9L317.2 894.3L386.3 831.5L455.3 858.4L524.3 902.4L593.4 884M110.1 898.9L179.1 889.8L248.2 759.7L317.2 869.1L386.3 877.6L455.3 901.2L524.3 903.2L593.4 893.6M110.1 899.9L179.1 903.9L248.2 740.6L317.2 908.9L386.3 836.3L455.3 919.2L524.3 929L593.4 870.9M110.1 893.6L179.1 900.1L248.2 732.2L317.2 845.3L386.3 840.9L455.3 875.1L524.3 913.9L593.4 930.8M110.1 873.8L179.1 868.4L248.2 743.1L317.2 881.9L386.3 825.5L455.3 908.5L524.3 864.7L593.4 879.2M110.1 890.1L179.1 881.8L248.2 744L317.2 871.4L386.3 872.1L455.3 895L524.3 886.4L593.4 895.1M110.1 879.7L179.1 879.9L248.2 753.7L317.2 890.8L386.3 832.4L455.3 904.1L524.3 895.2L593.4 913M110.1 898.5L179.1 876.9L248.2 748.9L317.2 884.2L386.3 843.9L455.3 893.6L524.3 873.7L593.4 888.8M110.1 884.3L179.1 858.8L248.2 724.8L317.2 911.6L386.3 826.6L455.3 885.1L524.3 870.1L593.4 918.3M110.1 893.7L179.1 893.4L248.2 729.7L317.2 901.9L386.3 866.7L455.3 868.7L524.3 902.2L593.4 893.3M110.1 894.5L179.1 909.2L248.2 750.2L317.2 884L386.3 880.9L455.3 868.2L524.3 870.8L593.4 878.2M110.1 888.2L179.1 900.8L248.2 750.4L317.2 878.9L386.3 856.2L455.3 902.8L524.3 909.7L593.4 910.1M110.1 881.4L179.1 891L248.2 694L317.2 886.8L386.3 843.9L455.3 900.1L524.3 892.3L593.4 914.7M110.1 887.8L179.1 906.1L248.2 704.5L317.2 900.7L386.3 844.3L455.3 892.6L524.3 900.5L593.4 881.4M110.1 888.9L179.1 877.1L248.2 759.4L317.2 864.5L386.3 834.1L455.3 888.4L524.3 864.9L593.4 885.8M110.1 855.1L179.1 885.5L248.2 797.1L317.2 878.1L386.3 848.1L455.3 897.9L524.3 892.8L593.4 900.9M110.1 900.1L179.1 858L248.2 772.4L317.2 900.9L386.3 883.8L455.3 908.4L524.3 889.2L593.4 866.8M110.1 870.4L179.1 894.5L248.2 787.4L317.2 901.8L386.3 854.4L455.3 870.7L524.3 898.6L593.4 892.6M110.1 914.7L179.1 867.4L248.2 750.7L317.2 870L386.3 833.5L455.3 912L524.3 887L593.4 892.2M110.1 892.1L179.1 873.3L248.2 751.7L317.2 889L386.3 816.1L455.3 886.2L524.3 853.5L593.4 898.7M110.1 863.4L179.1 894.9L248.2 742.8L317.2 862.7L386.3 842.3L455.3 895.8L524.3 865.2L593.4 892.2M110.1 881.3L179.1 902.8L248.2 771.2L317.2 887.6L386.3 867L455.3 896.5L524.3 883.7L593.4 921.8M110.1 863.1L179.1 887.6L248.2 728.4L317.2 919.3L386.3 863L455.3 896.4L524.3 896.7L593.4 908.7M110.1 875.1L179.1 877.6L248.2 779L317.2 916.7L386.3 838.6L455.3 896.9L524.3 865.6L593.4 878.7M110.1 881.7L179.1 905L248.2 759.2L317.2 894.8L386.3 828.6L455.3 927.2L524.3 868.9L593.4 925.7M110.1 889.2L179.1 904.8L248.2 769.9L317.2 889.7L386.3 845.6L455.3 902.9L524.3 873.7L593.4 892.5M110.1 898.5L179.1 886.3L248.2 750.9L317.2 888.3L386.3 830.4L455.3 864.4L524.3 877.2L593.4 898.3M110.1 869.4L179.1 895.7L248.2 766.9L317.2 865.7L386.3 850.1L455.3 914.7L524.3 900.9L593.4 895.8M110.1 899.6L179.1 884.5L248.2 785.6L317.2 898.4L386.3 862.9L455.3 916L524.3 913.7L593.4 906.2M110.1 863.2L179.1 871.8L248.2 725.5L317.2 887.6L386.3 850.4L455.3 906.9L524.3 892.4L593.4 911.4M110.1 903.3L179.1 898.5L248.2 686.2L317.2 874.8L386.3 867.6L455.3 892.3L524.3 898.1L593.4 871.9M110.1 880.6L179.1 893.2L248.2 726.1L317.2 876.2L386.3 866.2L455.3 906.9L524.3 885.5L593.4 927.7M110.1 894.7L179.1 868.6L248.2 720.2L317.2 862.1L386.3 861.6L455.3 903L524.3 894.3L593.4 905.1M110.1 859.7L179.1 887L248.2 704.6L317.2 894.5L386.3 845.6L455.3 854.2L524.3 904.3L593.4 908.4M110.1 889.7L179.1 907.8L248.2 757.3L317.2 893.3L386.3 810L455.3 900.4L524.3 933.9L593.4 877.2M110.1 865L179.1 884.2L248.2 738.7L317.2 869.2L386.3 863.9L455.3 889L524.3 885.5L593.4 868.3M110.1 877.4L179.1 903.7L248.2 719.4L317.2 883L386.3 830L455.3 888.9L524.3 884.6L593.4 883.1M110.1 891.8L179.1 893.6L248.2 674.3L317.2 897.3L386.3 834.6L455.3 875.1L524.3 871L593.4 869.2M110.1 901.5L179.1 869.6L248.2 746.2L317.2 875.9L386.3 833L455.3 866L524.3 908.4L593.4 901M110.1 882.7L179.1 894.1L248.2 773.9L317.2 893.7L386.3 830.7L455.3 859.9L524.3 872.7L593.4 894.1M110.1 897.5L179.1 893.5L248.2 741.1L317.2 863.9L386.3 829.1L455.3 909.7L524.3 868L593.4 906.2M110.1 870.5L179.1 870.2L248.2 700.2L317.2 891.4L386.3 848.1L455.3 880.7L524.3 897.4L593.4 894.1M110.1 870.5L179.1 908.2L248.2 768.2L317.2 841.3L386.3 844L455.3 902.3L524.3 927.6L593.4 914.5M110.1 871.8L179.1 873.7L248.2 733.3L317.2 871.6L386.3 864.6L455.3 855.2L524.3 912.4L593.4 886M110.1 884.3L179.1 909.2L248.2 718.7L317.2 886.9L386.3 838.9L455.3 862.2L524.3 884.9L593.4 908.7M110.1 883.5L179.1 884.9L248.2 701.3L317.2 867L386.3 821.8L455.3 873.5L524.3 904.7L593.4 877.9M110.1 864.5L179.1 885.7L248.2 732.7L317.2 887.7L386.3 877.5L455.3 892.1L524.3 872.1L593.4 902.9M110.1 915.9L179.1 895.7L248.2 712.7L317.2 878.1L386.3 830.8L455.3 906.6L524.3 897.4L593.4 915.3M110.1 892.5L179.1 876.3L248.2 743.1L317.2 890.6L386.3 847L455.3 918.7L524.3 896.7L593.4 925M110.1 904.1L179.1 904L248.2 782.8L317.2 854.2L386.3 825.9L455.3 862.6L524.3 900.8L593.4 883.8M110.1 898.2L179.1 891.9L248.2 739.8L317.2 910.3L386.3 848.9L455.3 876.7L524.3 932.7L593.4 901.1M110.1 882.2L179.1 881.5L248.2 784L317.2 871.7L386.3 850.7L455.3 906L524.3 853.9L593.4 890.6M110.1 868.5L179.1 855.9L248.2 763.7L317.2 885.8L386.3 886.8L455.3 894.9L524.3 879.4L593.4 885M110.1 876.8L179.1 902.6L248.2 775L317.2 914.8L386.3 879.9L455.3 887.7L524.3 882L593.4 913.7M110.1 883.5L179.1 895.8L248.2 727.6L317.2 870.8L386.3 863.8L455.3 900.2L524.3 914.7L593.4 905M110.1 844.8L179.1 884.1L248.2 719.9L317.2 871.9L386.3 823.8L455.3 897.3L524.3 907.8L593.4 875.8M110.1 865.2L179.1 893.7L248.2 712.3L317.2 882.4L386.3 853.6L455.3 849.9L524.3 877L593.4 889.9M110.1 885.2L179.1 880.9L248.2 713.6L317.2 874.1L386.3 867.7L455.3 880.3L524.3 890.9L593.4 890M110.1 883.1L179.1 916.3L248.2 799.6L317.2 888.9L386.3 882.4L455.3 844.7L524.3 874L593.4 904.7M110.1 875.1L179.1 917.4L248.2 740.1L317.2 864.2L386.3 849.4L455.3 918.9L524.3 868.2L593.4 906.1M110.1 889.4L179.1 880.7L248.2 757.7L317.2 845.3L386.3 855.8L455.3 880.3L524.3 915.1L593.4 896M110.1 879.2L179.1 862.5L248.2 706.1L317.2 893.8L386.3 861.6L455.3 909.9L524.3 880.7L593.4 915.7M110.1 885.8L179.1 894.9L248.2 731.3L317.2 874.6L386.3 853.9L455.3 875.2L524.3 905.4L593.4 903.1M110.1 872.8L179.1 853.1L248.2 749.3L317.2 880.8L386.3 827.5L455.3 888.1L524.3 861L593.4 890.9M110.1 861.9L179.1 880.9L248.2 777.4L317.2 897.2L386.3 844.7L455.3 847.8L524.3 849L593.4 901.9M110.1 898.1L179.1 896.5L248.2 717.3L317.2 909.2L386.3 834.7L455.3 881.9L524.3 874.8L593.4 919.5M110.1 873.8L179.1 869.9L248.2 749.2L317.2 863.8L386.3 852.3L455.3 882.6L524.3 895.2L593.4 922.4M110.1 882.6L179.1 876.4L248.2 772.2L317.2 916.8L386.3 883.5L455.3 861.2L524.3 893.2L593.4 910.9M110.1 859.9L179.1 886.5L248.2 796.5L317.2 889.9L386.3 870.3L455.3 894.2L524.3 908.2L593.4 894.6M110.1 872.6L179.1 892.4L248.2 754.1L317.2 884.9L386.3 836.3L455.3 906L524.3 872.1L593.4 871.5M110.1 883.2L179.1 898.3L248.2 757.6L317.2 913.6L386.3 863.6L455.3 916.5L524.3 892.1L593.4 903.2M110.1 871.6L179.1 882.1L248.2 733.8L317.2 882.9L386.3 847.2L455.3 915.1L524.3 874L593.4 870.4M110.1 861.9L179.1 904L248.2 733.9L317.2 911L386.3 837.7L455.3 894.7L524.3 898.3L593.4 910.5M110.1 883.9L179.1 883.9L248.2 778.9L317.2 881L386.3 847.6L455.3 878.5L524.3 889.3L593.4 896M110.1 864.1L179.1 878.7L248.2 792.5L317.2 870.6L386.3 841.8L455.3 893.8L524.3 880L593.4 895.2M110.1 878.4L179.1 886.2L248.2 702.4L317.2 875.3L386.3 858.4L455.3 895.2L524.3 907.1L593.4 906.1M110.1 875L179.1 881.4L248.2 738.3L317.2 857.2L386.3 830.7L455.3 880.3L524.3 887.7L593.4 896.9M110.1 883.9L179.1 868.3L248.2 788.6L317.2 900.7L386.3 862L455.3 911.4L524.3 904.4L593.4 871.8M110.1 916.4L179.1 874.8L248.2 790.1L317.2 886.2L386.3 864.3L455.3 912.1L524.3 920.5L593.4 894.2M110.1 914.6L179.1 889.7L248.2 711.6L317.2 848.9L386.3 858.6L455.3 907.9L524.3 894.5L593.4 886.6M110.1 864.7L179.1 898.2L248.2 732L317.2 882.6L386.3 829.9L455.3 899.1L524.3 892.9L593.4 912.6M110.1 901.6L179.1 879.7L248.2 724.2L317.2 861.9L386.3 847.4L455.3 900.3L524.3 908.4L593.4 918.7M110.1 891.8L179.1 878.8L248.2 744.5L317.2 923.1L386.3 854.8L455.3 896.5L524.3 911.1L593.4 896.3M110.1 871.3L179.1 899.4L248.2 791.7L317.2 887.8L386.3 847.5L455.3 895.8L524.3 854.7L593.4 893M110.1 896.4L179.1 872.1L248.2 768.6L317.2 869.7L386.3 850.8L455.3 862.7L524.3 910L593.4 881.6M110.1 873.1L179.1 897.4L248.2 724.5L317.2 841.4L386.3 845.6L455.3 907.1L524.3 891.7L593.4 870.1M110.1 875.8L179.1 861.5L248.2 768.8L317.2 858.5L386.3 884.3L455.3 893.7L524.3 894.8L593.4 905.5M110.1 860L179.1 892.9L248.2 736L317.2 848.7L386.3 836.3L455.3 899.2L524.3 904.3L593.4 888M110.1 865.8L179.1 866.7L248.2 740L317.2 842.7L386.3 837.7L455.3 909.7L524.3 870.9L593.4 903.7M110.1 866.3L179.1 895.3L248.2 676.2L317.2 883.3L386.3 882.1L455.3 887.6L524.3 869L593.4 907.2M110.1 854.5L179.1 896.9L248.2 754.1L317.2 865.1L386.3 857.1L455.3 902.4L524.3 888.9L593.4 882.5M110.1 852L179.1 862.9L248.2 687L317.2 882.3L386.3 885.8L455.3 890.7L524.3 897.4L593.4 915.5M110.1 888.5L179.1 884.7L248.2 746L317.2 865.2L386.3 871L455.3 864L524.3 887.5L593.4 880.9M110.1 859.9L179.1 902.5L248.2 695.8L317.2 894.9L386.3 845L455.3 865.3L524.3 868.5L593.4 926.9M110.1 877.4L179.1 866.3L248.2 751.6L317.2 883.3L386.3 851.5L455.3 852.8L524.3 900.2L593.4 914.4M110.1 898.1L179.1 891.7L248.2 755.3L317.2 875.5L386.3 854.5L455.3 928.5L524.3 922.6L593.4 882M110.1 868.3L179.1 904.3L248.2 717.1L317.2 839.9L386.3 841L455.3 927.1L524.3 877.2L593.4 896.4M110.1 887.4L179.1 889.3L248.2 754.8L317.2 883.7L386.3 870.8L455.3 902.6L524.3 876.2L593.4 885.2M110.1 901.8L179.1 891.2L248.2 696.3L317.2 868.9L386.3 819.8L455.3 920.2L524.3 911L593.4 903.2M110.1 897.2L179.1 900.3L248.2 770.3L317.2 885.2L386.3 836.1L455.3 877.3L524.3 926.7L593.4 902.2M110.1 896.4L179.1 884.1L248.2 760.6L317.2 907.1L386.3 821.7L455.3 902.8L524.3 901.5L593.4 884.9M110.1 852.7L179.1 876.2L248.2 776.9L317.2 873.9L386.3 830.7L455.3 881.2L524.3 874.3L593.4 905.2M110.1 881.2L179.1 909.3L248.2 771L317.2 902.5L386.3 852.7L455.3 856.1L524.3 937.4L593.4 922M110.1 895.2L179.1 885L248.2 709.5L317.2 896L386.3 868.5L455.3 862.4L524.3 880.3L593.4 885.1M110.1 866.4L179.1 895L248.2 740.2L317.2 893.8L386.3 867.2L455.3 886.8L524.3 878.9L593.4 921.1M110.1 892.6L179.1 874.3L248.2 742.1L317.2 869.7L386.3 859.1L455.3 907.9L524.3 871.3L593.4 883.6M110.1 865.8L179.1 895.3L248.2 725.6L317.2 853.3L386.3 858.4L455.3 911.7L524.3 882.7L593.4 893.8M110.1 870.7L179.1 905.1L248.2 739.4L317.2 865.6L386.3 838.8L455.3 875.6L524.3 862.2L593.4 912.2M110.1 860L179.1 880.5L248.2 780.1L317.2 887.3L386.3 847.3L455.3 882.3L524.3 858.9L593.4 891.8M110.1 888.4L179.1 850.2L248.2 758.3L317.2 896.8L386.3 834.2L455.3 899.2L524.3 905.6L593.4 916.9M110.1 860.6L179.1 899.9L248.2 744.1L317.2 890.2L386.3 856.6L455.3 908.3L524.3 885L593.4 883.5M110.1 862.7L179.1 889.1L248.2 785.6L317.2 908.8L386.3 852.6L455.3 859.7L524.3 887.7L593.4 893.1M110.1 902.9L179.1 893.4L248.2 771.9L317.2 869.5L386.3 861L455.3 875.8L524.3 877.1L593.4 900.3M110.1 859.3L179.1 891.5L248.2 743.2L317.2 884.1L386.3 877.2L455.3 892.7L524.3 874.4L593.4 904.5M110.1 857L179.1 866L248.2 708.8L317.2 864.4L386.3 838.7L455.3 858.4L524.3 879.6L593.4 892.8M110.1 866.7L179.1 897.2L248.2 720.8L317.2 879L386.3 866.7L455.3 895.9L524.3 909L593.4 912.5M110.1 876.8L179.1 881.8L248.2 720.1L317.2 883.5L386.3 840L455.3 874.4L524.3 903.5L593.4 929.5M110.1 891.1L179.1 887.5L248.2 764.7L317.2 841.6L386.3 866.3L455.3 879.1L524.3 904.8L593.4 881.8M110.1 900.5L179.1 869.1L248.2 741.3L317.2 889.1L386.3 876.5L455.3 852.1L524.3 900.8L593.4 866.7M110.1 919.2L179.1 902L248.2 688L317.2 849.3L386.3 852.2L455.3 867.3L524.3 874.9L593.4 902.8M110.1 877.7L179.1 901.2L248.2 791L317.2 879.6L386.3 838L455.3 886.2L524.3 914.8L593.4 878.6M110.1 878.4L179.1 872.1L248.2 756.6L317.2 886.7L386.3 831.6L455.3 858.8L524.3 914.3L593.4 917.8M110.1 864L179.1 878.1L248.2 745.4L317.2 899.7L386.3 832.4L455.3 885.6L524.3 883.4L593.4 887.9M110.1 888.4L179.1 877.6L248.2 742.9L317.2 868.7L386.3 845L455.3 918.8L524.3 903.5L593.4 901M110.1 860.8L179.1 893.6L248.2 710.1L317.2 862.2L386.3 835.1L455.3 889.7L524.3 881.3L593.4 871.1M110.1 873.3L179.1 868.3L248.2 751.8L317.2 855.9L386.3 845.7L455.3 932.5L524.3 864.7L593.4 899.2M110.1 894.5L179.1 888L248.2 756.8L317.2 860.8L386.3 846.1L455.3 891.1L524.3 888.7L593.4 913.2M110.1 890.5L179.1 890.5L248.2 755L317.2 902.7L386.3 860.8L455.3 867L524.3 878.5L593.4 895.3M110.1 874.3L179.1 887.1L248.2 786.4L317.2 865.6L386.3 807.8L455.3 878L524.3 873.4L593.4 919.9M110.1 871.2L179.1 888.9L248.2 756.1L317.2 912L386.3 854.1L455.3 880.8L524.3 922.7L593.4 900M110.1 887.8L179.1 898.9L248.2 726.5L317.2 851.9L386.3 844.2L455.3 866.6L524.3 871.5L593.4 896.9M110.1 870.3L179.1 863.4L248.2 760.9L317.2 884.5L386.3 879.9L455.3 931.8L524.3 905.7L593.4 877.7M110.1 873.8L179.1 879.7L248.2 704.3L317.2 914L386.3 825.1L455.3 887.9L524.3 871.2L593.4 867.9M110.1 893L179.1 896.9L248.2 733.9L317.2 882.9L386.3 864L455.3 892.6L524.3 903.7L593.4 892.9M110.1 886L179.1 857.6L248.2 780.9L317.2 871.2L386.3 851L455.3 854.1L524.3 909L593.4 905M110.1 851.7L179.1 893.7L248.2 759.4L317.2 889L386.3 871.9L455.3 862.2L524.3 855.3L593.4 898.6M110.1 892L179.1 904.4L248.2 725.6L317.2 891.5L386.3 841.6L455.3 898.9L524.3 874.6L593.4 887.1M110.1 875L179.1 881.7L248.2 747.7L317.2 888L386.3 861.3L455.3 886.6L524.3 877L593.4 895.5M110.1 864.7L179.1 886.7L248.2 707.4L317.2 898.4L386.3 814.4L455.3 868L524.3 897.2L593.4 866.7M110.1 854.1L179.1 901.9L248.2 750.7L317.2 873.2L386.3 831.7L455.3 888.1L524.3 916.1L593.4 871.1M110.1 882.5L179.1 876.9L248.2 757.4L317.2 883.9L386.3 879.7L455.3 874.7L524.3 901.6L593.4 887.2M110.1 880.6L179.1 868.9L248.2 720.6L317.2 903.4L386.3 856.3L455.3 889.5L524.3 886.4L593.4 916.2M110.1 878.8L179.1 868.6L248.2 706.8L317.2 855.4L386.3 837.6L455.3 895.9L524.3 899.8L593.4 877.3M110.1 879.9L179.1 878.1L248.2 731.4L317.2 885.8L386.3 825.4L455.3 848.6L524.3 870.4L593.4 906.8M110.1 875.7L179.1 868.7L248.2 723.8L317.2 894.3L386.3 833.7L455.3 873.4L524.3 875.6L593.4 904M110.1 880.2L179.1 912.9L248.2 748.1L317.2 889.9L386.3 858.4L455.3 896.2L524.3 895L593.4 893.9M110.1 878.2L179.1 893L248.2 751.4L317.2 883.5L386.3 842.8L455.3 879.8L524.3 895.8L593.4 912.2M110.1 906.3L179.1 902.8L248.2 734L317.2 898.6L386.3 820.8L455.3 893.4L524.3 896.4L593.4 898.8M110.1 888.6L179.1 893.3L248.2 745L317.2 908.2L386.3 849.9L455.3 891.9L524.3 907.6L593.4 875M110.1 874L179.1 867L248.2 768.7L317.2 904.4L386.3 876L455.3 925.3L524.3 928.9L593.4 904.8M110.1 876.8L179.1 891.5L248.2 752.2L317.2 853.3L386.3 887.5L455.3 911.5L524.3 885.4L593.4 913.3M110.1 868.7L179.1 864L248.2 718.2L317.2 868.2L386.3 856L455.3 867.3L524.3 905.9L593.4 918.9M110.1 884.3L179.1 887.3L248.2 707.4L317.2 899.3L386.3 829.8L455.3 906.9L524.3 916L593.4 928.9M110.1 880.6L179.1 905.3L248.2 740.5L317.2 880.8L386.3 860.8L455.3 932.5L524.3 899.7L593.4 886.6M110.1 909.2L179.1 873.1L248.2 746.9L317.2 891.4L386.3 848.7L455.3 875.1L524.3 888.8L593.4 910.8M110.1 867.1L179.1 893.7L248.2 735.7L317.2 864.2L386.3 826.6L455.3 854.2L524.3 866L593.4 892.6M110.1 883.3L179.1 880.7L248.2 730.2L317.2 869.8L386.3 868.9L455.3 855.4L524.3 922.4L593.4 875.5M110.1 900.5L179.1 900.3L248.2 763.5L317.2 887L386.3 879.3L455.3 875.8L524.3 890.7L593.4 868.7M110.1 896.3L179.1 911.3L248.2 725.1L317.2 885.9L386.3 833.4L455.3 917.4L524.3 886.4L593.4 920.3M110.1 910.7L179.1 890.6L248.2 701.6L317.2 853L386.3 879.5L455.3 903.6L524.3 927.9L593.4 912.5M110.1 895.5L179.1 877.1L248.2 710.6L317.2 838.4L386.3 859.8L455.3 871.3L524.3 883.5L593.4 893.1M110.1 848.7L179.1 872.9L248.2 696.9L317.2 876.3L386.3 835.6L455.3 878.3L524.3 890.3L593.4 909.6M110.1 886.4L179.1 883.4L248.2 759.7L317.2 888L386.3 866.6L455.3 870.4L524.3 893.5L593.4 898M110.1 883.5L179.1 863.6L248.2 764.7L317.2 856.1L386.3 869.7L455.3 855.3L524.3 875.1L593.4 905.4M110.1 872.6L179.1 866.2L248.2 778.1L317.2 885.9L386.3 846.5L455.3 894.5L524.3 894.5L593.4 895.2M110.1 874.9L179.1 871.8L248.2 699.6L317.2 887.6L386.3 859.3L455.3 850.2L524.3 891.1L593.4 924.2M110.1 887.1L179.1 888.8L248.2 712.4L317.2 918L386.3 865.4L455.3 892.6L524.3 874L593.4 887.7M110.1 866L179.1 886L248.2 755.1L317.2 860.1L386.3 818.4L455.3 881.2L524.3 884.9L593.4 912.4M110.1 845.6L179.1 877.5L248.2 727.2L317.2 910.5L386.3 840.6L455.3 893.4L524.3 892.6L593.4 899.2M110.1 866.2L179.1 854.3L248.2 785.6L317.2 896.6L386.3 839.2L455.3 887.1L524.3 887.4L593.4 898.8M110.1 877.9L179.1 878.2L248.2 762.9L317.2 886.7L386.3 848.1L455.3 913.9L524.3 878.6L593.4 882.8M110.1 881.9L179.1 901.5L248.2 703.8L317.2 903L386.3 811.9L455.3 906.1L524.3 862.2L593.4 896.8M110.1 853.8L179.1 887L248.2 714L317.2 887.6L386.3 889.7L455.3 881L524.3 878L593.4 887.6M110.1 852.9L179.1 894.8L248.2 793.6L317.2 877.1L386.3 866.4L455.3 892L524.3 888.3L593.4 911.8M110.1 862.3L179.1 885.4L248.2 689.5L317.2 877.2L386.3 831.8L455.3 896.2L524.3 902.5L593.4 906M110.1 894.2L179.1 876.8L248.2 742.9L317.2 901.3L386.3 883.1L455.3 909L524.3 927.6L593.4 913.1M110.1 904.5L179.1 872.9L248.2 784.9L317.2 892.4L386.3 855.1L455.3 889L524.3 879.2L593.4 880.4M110.1 869.5L179.1 888.8L248.2 707L317.2 875L386.3 866.7L455.3 856.2L524.3 913.8L593.4 886.1M110.1 859.6L179.1 881.8L248.2 736.2L317.2 879.5L386.3 839.5L455.3 884.7L524.3 888.1L593.4 881.6M110.1 910.6L179.1 879.7L248.2 757.2L317.2 846.4L386.3 847L455.3 904.4L524.3 874.2L593.4 903.1M110.1 899.1L179.1 887.8L248.2 731.1L317.2 860.3L386.3 832L455.3 884.6L524.3 891.8L593.4 891.5M110.1 860.4L179.1 885.5L248.2 709.8L317.2 896L386.3 853L455.3 872.4L524.3 873.1L593.4 891.5M110.1 888.3L179.1 910.7L248.2 761.6L317.2 897L386.3 860.7L455.3 854.5L524.3 904.9L593.4 878.8M110.1 880.3L179.1 900.2L248.2 743.9L317.2 868.2L386.3 876.2L455.3 915.5L524.3 896.5L593.4 881.2M110.1 889.7L179.1 877.2L248.2 732.6L317.2 881.5L386.3 843.8L455.3 861.5L524.3 892.4L593.4 889.1M110.1 897.2L179.1 878.7L248.2 679.6L317.2 898.1L386.3 843L455.3 959.1L524.3 951L593.4 955.4M110.1 907.1L179.1 870.5L248.2 767.1L317.2 876.3L386.3 869.7L455.3 967.8L524.3 954.7L593.4 961.7M110.1 878.1L179.1 886.1L248.2 732.3L317.2 875.7L386.3 886.6L455.3 955.5L524.3 952.5L593.4 957.2M110.1 865.7L179.1 906.8L248.2 786.3L317.2 895.7L386.3 849.6L455.3 958.4L524.3 970.3L593.4 961.6M110.1 875.2L179.1 890.9L248.2 795.5L317.2 853.8L386.3 887L455.3 970.8L524.3 969.3L593.4 966.6M110.1 846.8L179.1 860.3L248.2 781.4L317.2 891.4L386.3 811.6L455.3 974L524.3 960.8L593.4 968.8M110.1 867.3L179.1 871.3L248.2 716.8L317.2 886.9L386.3 827.4L455.3 969.5L524.3 975L593.4 971.7M110.1 894.4L179.1 873.9L248.2 760.8L317.2 873.8L386.3 829.7L455.3 960.9L524.3 955.2L593.4 958.2M110.1 861.7L179.1 872.5L248.2 679.2L317.2 901.5L386.3 857.3L455.3 966.4L524.3 962L593.4 955.8M110.1 877.2L179.1 891L248.2 768.6L317.2 890.3L386.3 851.1L455.3 968.7L524.3 960.5L593.4 964.3M110.1 780.2L179.1 838.3L248.2 740.2L317.2 910.9L386.3 903.6L455.3 921.8L524.3 925.4L593.4 918.1M110.1 951.9L179.1 910.9L248.2 776.5L317.2 867.3L386.3 831L455.3 860L524.3 867.3L593.4 874.6M110.1 815.8L179.1 827.4L248.2 598.7L317.2 885.4L386.3 881.8L455.3 968.9L524.3 961.7L593.4 961.7M110.1 860L179.1 939.9L248.2 627.7L317.2 849.1L386.3 878.2L455.3 932.6L524.3 910.9L593.4 939.9M110.1 885.4L179.1 816.5L248.2 722.1L317.2 838.3L386.3 722.1L455.3 998L524.3 976.2L593.4 983.5M110.1 867.3L179.1 856.4L248.2 660.4L317.2 834.6L386.3 729.4L455.3 939.9L524.3 1012.5L593.4 990.7M110.1 889.1L179.1 881.8L248.2 642.2L317.2 874.6L386.3 771.5L455.3 976.2L524.3 791.1L593.4 1016.1M110.1 896.3L179.1 874.6L248.2 671.3L317.2 925.4L386.3 914.5L455.3 829.2L524.3 818.3L593.4 834.6M110.1 821.2L179.1 860L248.2 693.1L317.2 845.5L386.3 783.8L455.3 841.9L524.3 1003.4L593.4 987.1M110.1 903.6L179.1 892.7L248.2 649.5L317.2 856.4L386.3 791.1L455.3 979.8L524.3 979.8L593.4 979.8M110.1 874.6L179.1 885.4L248.2 703.9L317.2 860L386.3 802L455.3 961.7L524.3 972.6L593.4 972.6M110.1 856.4L179.1 867.3L248.2 682.2L317.2 881.8L386.3 823.7L455.3 947.2L524.3 947.2L593.4 947.2M110.1 831L179.1 845.5L248.2 758.4L317.2 896.3L386.3 812.8L455.3 954.4L524.3 932.6L593.4 961.7M110.1 918.1L179.1 925.4L248.2 787.4L317.2 852.8L386.3 834.6L455.3 838.3L524.3 845.5L593.4 856.4M110.1 849.1L179.1 827.4L248.2 635L317.2 841.9L386.3 776.5L455.3 860L524.3 823.7L593.4 885.4M110.1 910.9L179.1 932.6L248.2 802L317.2 903.6L386.3 794.7L455.3 849.1L524.3 838.3L593.4 863.7M110.1 834.6L179.1 900L248.2 653.1L317.2 889.1L386.3 805.6L455.3 987.1L524.3 958L593.4 976.2" fill="none" stroke="#d3d3d3" stroke-width="1.3" stroke-linejoin="round"/>
<polyline points="110.1,878.2 179.1,883.6 248.2,753 317.2,883.6 386.3,857.1 455.3,895.6 524.3,890.2 593.4,897.8" fill="none" stroke="#0000ff" stroke-width="1.9"/>
<circle cx="110.1" cy="878.2" r="3.9" fill="none" stroke="#0000ff" stroke-width="1.7"/>
<circle cx="179.1" cy="883.6" r="3.9" fill="none" stroke="#0000ff" stroke-width="1.7"/>
<circle cx="248.2" cy="753" r="3.9" fill="none" stroke="#0000ff" stroke-width="1.7"/>
<circle cx="317.2" cy="883.6" r="3.9" fill="none" stroke="#0000ff" stroke-width="1.7"/>
<circle cx="386.3" cy="857.1" r="3.9" fill="none" stroke="#0000ff" stroke-width="1.7"/>
<circle cx="455.3" cy="895.6" r="3.9" fill="none" stroke="#0000ff" stroke-width="1.7"/>
<circle cx="524.3" cy="890.2" r="3.9" fill="none" stroke="#0000ff" stroke-width="1.7"/>
<circle cx="593.4" cy="897.8" r="3.9" fill="none" stroke="#0000ff" stroke-width="1.7"/>
<rect x="91" y="580" width="522" height="453.4" fill="none" stroke="#000" stroke-width="2"/>
<line x1="79.5" y1="649.5" x2="91.2" y2="649.5" stroke="#000" stroke-width="1.8"/>
<text x="63.9" y="649.5" font-size="19.7" fill="#000" text-anchor="middle" transform="rotate(-90 63.9 649.5)">6</text>
<line x1="79.5" y1="722.1" x2="91.2" y2="722.1" stroke="#000" stroke-width="1.8"/>
<text x="63.9" y="722.1" font-size="19.7" fill="#000" text-anchor="middle" transform="rotate(-90 63.9 722.1)">4</text>
<line x1="79.5" y1="794.7" x2="91.2" y2="794.7" stroke="#000" stroke-width="1.8"/>
<text x="63.9" y="794.7" font-size="19.7" fill="#000" text-anchor="middle" transform="rotate(-90 63.9 794.7)">2</text>
<line x1="79.5" y1="867.3" x2="91.2" y2="867.3" stroke="#000" stroke-width="1.8"/>
<text x="63.9" y="867.3" font-size="19.7" fill="#000" text-anchor="middle" transform="rotate(-90 63.9 867.3)">0</text>
<line x1="79.5" y1="939.9" x2="91.2" y2="939.9" stroke="#000" stroke-width="1.8"/>
<text x="63.9" y="939.9" font-size="19.7" fill="#000" text-anchor="middle" transform="rotate(-90 63.9 939.9)">&#8722;2</text>
<line x1="79.5" y1="1012.5" x2="91.2" y2="1012.5" stroke="#000" stroke-width="1.8"/>
<text x="63.9" y="1012.5" font-size="19.7" fill="#000" text-anchor="middle" transform="rotate(-90 63.9 1012.5)">&#8722;4</text>
<line x1="110.1" y1="1033" x2="110.1" y2="1045.7" stroke="#000" stroke-width="1.8"/>
<line x1="179.1" y1="1033" x2="179.1" y2="1045.7" stroke="#000" stroke-width="1.8"/>
<line x1="248.2" y1="1033" x2="248.2" y2="1045.7" stroke="#000" stroke-width="1.8"/>
<line x1="317.2" y1="1033" x2="317.2" y2="1045.7" stroke="#000" stroke-width="1.8"/>
<line x1="386.3" y1="1033" x2="386.3" y2="1045.7" stroke="#000" stroke-width="1.8"/>
<line x1="455.3" y1="1033" x2="455.3" y2="1045.7" stroke="#000" stroke-width="1.8"/>
<line x1="524.3" y1="1033" x2="524.3" y2="1045.7" stroke="#000" stroke-width="1.8"/>
<line x1="593.4" y1="1033" x2="593.4" y2="1045.7" stroke="#000" stroke-width="1.8"/>
<text x="253.6" y="1072.4" font-size="16" fill="#000" text-anchor="middle">t_10u_2w</text>
<text x="18.4" y="807.6" font-size="18.3" fill="#000" text-anchor="middle" transform="rotate(-90 18.4 807.6)">centered log2(fpkm+1)</text>
<rect x="191.8" y="580.6" width="114.6" height="501.9" fill="none" stroke="#ff0000" stroke-width="2.8" stroke-dasharray="7.1 2.8"/>
<line x1="1133.4" y1="37" x2="1133.4" y2="1078.7" stroke="#ebebeb" stroke-width="0.6"/>
<line x1="1218.4" y1="37" x2="1218.4" y2="1078.7" stroke="#ebebeb" stroke-width="0.6"/>
<line x1="1303.4" y1="37" x2="1303.4" y2="1078.7" stroke="#ebebeb" stroke-width="0.6"/>
<line x1="1388.4" y1="37" x2="1388.4" y2="1078.7" stroke="#ebebeb" stroke-width="0.6"/>
<line x1="1473.4" y1="37" x2="1473.4" y2="1078.7" stroke="#ebebeb" stroke-width="0.6"/>
<line x1="1558.4" y1="37" x2="1558.4" y2="1078.7" stroke="#ebebeb" stroke-width="0.6"/>
<line x1="1175.9" y1="37" x2="1175.9" y2="1078.7" stroke="#e8e8e8" stroke-width="1.4"/>
<line x1="1260.9" y1="37" x2="1260.9" y2="1078.7" stroke="#e8e8e8" stroke-width="1.4"/>
<line x1="1345.9" y1="37" x2="1345.9" y2="1078.7" stroke="#e8e8e8" stroke-width="1.4"/>
<line x1="1430.9" y1="37" x2="1430.9" y2="1078.7" stroke="#e8e8e8" stroke-width="1.4"/>
<line x1="1515.9" y1="37" x2="1515.9" y2="1078.7" stroke="#e8e8e8" stroke-width="1.4"/>
<line x1="1124.5" y1="67.3" x2="1600.5" y2="67.3" stroke="#e8e8e8" stroke-width="1.4"/>
<line x1="1124.5" y1="118.9" x2="1600.5" y2="118.9" stroke="#e8e8e8" stroke-width="1.4"/>
<line x1="1124.5" y1="170.6" x2="1600.5" y2="170.6" stroke="#e8e8e8" stroke-width="1.4"/>
<line x1="1124.5" y1="222.2" x2="1600.5" y2="222.2" stroke="#e8e8e8" stroke-width="1.4"/>
<line x1="1124.5" y1="273.8" x2="1600.5" y2="273.8" stroke="#e8e8e8" stroke-width="1.4"/>
<line x1="1124.5" y1="325.4" x2="1600.5" y2="325.4" stroke="#e8e8e8" stroke-width="1.4"/>
<line x1="1124.5" y1="377" x2="1600.5" y2="377" stroke="#e8e8e8" stroke-width="1.4"/>
<line x1="1124.5" y1="428.5" x2="1600.5" y2="428.5" stroke="#e8e8e8" stroke-width="1.4"/>
<line x1="1124.5" y1="480.1" x2="1600.5" y2="480.1" stroke="#e8e8e8" stroke-width="1.4"/>
<line x1="1124.5" y1="531.8" x2="1600.5" y2="531.8" stroke="#e8e8e8" stroke-width="1.4"/>
<line x1="1124.5" y1="583.4" x2="1600.5" y2="583.4" stroke="#e8e8e8" stroke-width="1.4"/>
<line x1="1124.5" y1="635" x2="1600.5" y2="635" stroke="#e8e8e8" stroke-width="1.4"/>
<line x1="1124.5" y1="686.6" x2="1600.5" y2="686.6" stroke="#e8e8e8" stroke-width="1.4"/>
<line x1="1124.5" y1="738.2" x2="1600.5" y2="738.2" stroke="#e8e8e8" stroke-width="1.4"/>
<line x1="1124.5" y1="789.8" x2="1600.5" y2="789.8" stroke="#e8e8e8" stroke-width="1.4"/>
<line x1="1124.5" y1="841.4" x2="1600.5" y2="841.4" stroke="#e8e8e8" stroke-width="1.4"/>
<line x1="1124.5" y1="893" x2="1600.5" y2="893" stroke="#e8e8e8" stroke-width="1.4"/>
<line x1="1124.5" y1="944.6" x2="1600.5" y2="944.6" stroke="#e8e8e8" stroke-width="1.4"/>
<line x1="1124.5" y1="996.2" x2="1600.5" y2="996.2" stroke="#e8e8e8" stroke-width="1.4"/>
<line x1="1124.5" y1="1047.8" x2="1600.5" y2="1047.8" stroke="#e8e8e8" stroke-width="1.4"/>
<circle cx="1278.4" cy="67.3" r="11.3" fill="#fd0a00"/>
<line x1="1117.3" y1="67.3" x2="1124.5" y2="67.3" stroke="#333" stroke-width="1.6"/>
<text x="1111" y="74.4" font-size="19.75" fill="#4d4d4d" text-anchor="end">Adrenergic signaling in cardiomyocytes</text>
<circle cx="1198.3" cy="118.9" r="8.9" fill="#fd0a00"/>
<line x1="1117.3" y1="118.9" x2="1124.5" y2="118.9" stroke="#333" stroke-width="1.6"/>
<text x="1111" y="126" font-size="19.75" fill="#4d4d4d" text-anchor="end">Aldosterone synthesis and secretion</text>
<circle cx="1267.8" cy="170.6" r="10.7" fill="#fd0a00"/>
<line x1="1117.3" y1="170.6" x2="1124.5" y2="170.6" stroke="#333" stroke-width="1.6"/>
<text x="1111" y="177.6" font-size="19.75" fill="#4d4d4d" text-anchor="end">Relaxin signaling pathway</text>
<circle cx="1578.3" cy="222.2" r="16.5" fill="#fd0a00"/>
<line x1="1117.3" y1="222.2" x2="1124.5" y2="222.2" stroke="#333" stroke-width="1.6"/>
<text x="1111" y="229.2" font-size="19.75" fill="#4d4d4d" text-anchor="end">PI3K-Akt signaling pathway</text>
<circle cx="1166.3" cy="273.8" r="7.5" fill="#fd0a00"/>
<line x1="1117.3" y1="273.8" x2="1124.5" y2="273.8" stroke="#333" stroke-width="1.6"/>
<text x="1111" y="280.8" font-size="19.75" fill="#4d4d4d" text-anchor="end">Gastric acid secretion</text>
<circle cx="1182.2" cy="325.4" r="8.3" fill="#fd0a00"/>
<line x1="1117.3" y1="325.4" x2="1124.5" y2="325.4" stroke="#333" stroke-width="1.6"/>
<text x="1111" y="332.4" font-size="19.75" fill="#4d4d4d" text-anchor="end">Salivary secretion</text>
<circle cx="1176.9" cy="377" r="8.0" fill="#fd0a00"/>
<line x1="1117.3" y1="377" x2="1124.5" y2="377" stroke="#333" stroke-width="1.6"/>
<text x="1111" y="384" font-size="19.75" fill="#4d4d4d" text-anchor="end">Arrhythmogenic right ventricular cardiomyopathy ...</text>
<circle cx="1396.4" cy="428.5" r="13.9" fill="#fd0a00"/>
<line x1="1117.3" y1="428.5" x2="1124.5" y2="428.5" stroke="#333" stroke-width="1.6"/>
<text x="1111" y="435.6" font-size="19.75" fill="#4d4d4d" text-anchor="end">Focal adhesion</text>
<circle cx="1203.6" cy="480.1" r="9.2" fill="#fd0a00"/>
<line x1="1117.3" y1="480.1" x2="1124.5" y2="480.1" stroke="#333" stroke-width="1.6"/>
<text x="1111" y="487.2" font-size="19.75" fill="#4d4d4d" text-anchor="end">Pancreatic secretion</text>
<circle cx="1182.2" cy="531.8" r="8.3" fill="#fd0a00"/>
<line x1="1117.3" y1="531.8" x2="1124.5" y2="531.8" stroke="#333" stroke-width="1.6"/>
<text x="1111" y="538.8" font-size="19.75" fill="#4d4d4d" text-anchor="end">Cardiac muscle contraction</text>
<circle cx="1326.5" cy="583.4" r="12.4" fill="#fd0a00"/>
<line x1="1117.3" y1="583.4" x2="1124.5" y2="583.4" stroke="#333" stroke-width="1.6"/>
<text x="1111" y="590.4" font-size="19.75" fill="#4d4d4d" text-anchor="end">cGMP-PKG signaling pathway</text>
<circle cx="1144.6" cy="635" r="5.1" fill="#fd0a00"/>
<line x1="1117.3" y1="635" x2="1124.5" y2="635" stroke="#333" stroke-width="1.6"/>
<text x="1111" y="642" font-size="19.75" fill="#4d4d4d" text-anchor="end">Endocrine and other factor-regulated ...</text>
<circle cx="1203.6" cy="686.6" r="9.2" fill="#fd0a00"/>
<line x1="1117.3" y1="686.6" x2="1124.5" y2="686.6" stroke="#333" stroke-width="1.6"/>
<text x="1111" y="693.6" font-size="19.75" fill="#4d4d4d" text-anchor="end">Hypertrophic cardiomyopathy (HCM)</text>
<circle cx="1225" cy="738.2" r="10.1" fill="#fd0a00"/>
<line x1="1117.3" y1="738.2" x2="1124.5" y2="738.2" stroke="#333" stroke-width="1.6"/>
<text x="1111" y="745.2" font-size="19.75" fill="#4d4d4d" text-anchor="end">Circadian entrainment</text>
<circle cx="1203.6" cy="789.8" r="9.2" fill="#fd0a00"/>
<line x1="1117.3" y1="789.8" x2="1124.5" y2="789.8" stroke="#333" stroke-width="1.6"/>
<text x="1111" y="796.8" font-size="19.75" fill="#4d4d4d" text-anchor="end">Insulin secretion</text>
<circle cx="1278.4" cy="841.4" r="11.3" fill="#fd0a00"/>
<line x1="1117.3" y1="841.4" x2="1124.5" y2="841.4" stroke="#333" stroke-width="1.6"/>
<text x="1111" y="848.4" font-size="19.75" fill="#4d4d4d" text-anchor="end">Vascular smooth muscle contraction</text>
<circle cx="1230.6" cy="893" r="10.0" fill="#fd0a00"/>
<line x1="1117.3" y1="893" x2="1124.5" y2="893" stroke="#333" stroke-width="1.6"/>
<text x="1111" y="900" font-size="19.75" fill="#4d4d4d" text-anchor="end">Dilated cardiomyopathy (DCM)</text>
<circle cx="1241.4" cy="944.6" r="10.3" fill="#fd0a00"/>
<line x1="1117.3" y1="944.6" x2="1124.5" y2="944.6" stroke="#333" stroke-width="1.6"/>
<text x="1111" y="951.6" font-size="19.75" fill="#4d4d4d" text-anchor="end">ECM-receptor interaction</text>
<circle cx="1417.8" cy="996.2" r="14.0" fill="#fd0a00"/>
<line x1="1117.3" y1="996.2" x2="1124.5" y2="996.2" stroke="#333" stroke-width="1.6"/>
<text x="1111" y="1003.2" font-size="19.75" fill="#4d4d4d" text-anchor="end">Neuroactive ligand-receptor interaction</text>
<circle cx="1246.7" cy="1047.8" r="10.3" fill="#fd0a00"/>
<line x1="1117.3" y1="1047.8" x2="1124.5" y2="1047.8" stroke="#333" stroke-width="1.6"/>
<text x="1111" y="1054.8" font-size="19.75" fill="#4d4d4d" text-anchor="end">Protein digestion and absorption</text>
<rect x="1124.5" y="37" width="476" height="1041.7" fill="none" stroke="#333" stroke-width="1.6"/>
<line x1="1600.5" y1="37" x2="1600.5" y2="1078.7" stroke="#000" stroke-width="2.2"/>
<line x1="1175.9" y1="1078.7" x2="1175.9" y2="1083.7" stroke="#333" stroke-width="1.6"/>
<text x="1175.9" y="1104.4" font-size="19.6" fill="#4d4d4d" text-anchor="middle">0.02</text>
<line x1="1260.9" y1="1078.7" x2="1260.9" y2="1083.7" stroke="#333" stroke-width="1.6"/>
<text x="1260.9" y="1104.4" font-size="19.6" fill="#4d4d4d" text-anchor="middle">0.03</text>
<line x1="1345.9" y1="1078.7" x2="1345.9" y2="1083.7" stroke="#333" stroke-width="1.6"/>
<text x="1345.9" y="1104.4" font-size="19.6" fill="#4d4d4d" text-anchor="middle">0.04</text>
<line x1="1430.9" y1="1078.7" x2="1430.9" y2="1083.7" stroke="#333" stroke-width="1.6"/>
<text x="1430.9" y="1104.4" font-size="19.6" fill="#4d4d4d" text-anchor="middle">0.05</text>
<line x1="1515.9" y1="1078.7" x2="1515.9" y2="1083.7" stroke="#333" stroke-width="1.6"/>
<text x="1515.9" y="1104.4" font-size="19.6" fill="#4d4d4d" text-anchor="middle">0.06</text>
<text x="1361" y="1137.4" font-size="24.8" fill="#000" text-anchor="middle">GeneRatio</text>
<rect x="853" y="201" width="261.5" height="44.1" fill="none" stroke="#ff0000" stroke-width="4.4"/>
<rect x="939.2" y="301" width="175.3" height="43.8" fill="none" stroke="#ff0000" stroke-width="4.4"/>
<rect x="825" y="560.8" width="289.5" height="45.3" fill="none" stroke="#ff0000" stroke-width="4.4"/>
<text x="650.3" y="497.3" font-size="24.7" fill="#000" text-anchor="end" transform="rotate(-90 650.3 497.3)">iption</text>
<line x1="650.8" y1="560" x2="650.8" y2="618" stroke="#aaa" stroke-width="1" stroke-dasharray="6 7"/>
<text x="1637.5" y="341.6" font-size="25" fill="#000">Count</text>
<circle cx="1656.9" cy="377.3" r="9.1" fill="#000"/>
<text x="1688.9" y="384.4" font-size="20" fill="#000">40</text>
<circle cx="1656.9" cy="416.6" r="11.7" fill="#000"/>
<text x="1688.9" y="423.7" font-size="20" fill="#000">60</text>
<circle cx="1656.9" cy="455.4" r="13.7" fill="#000"/>
<text x="1688.9" y="462.5" font-size="20" fill="#000">80</text>
<circle cx="1656.9" cy="493.9" r="15.5" fill="#000"/>
<text x="1688.9" y="501" font-size="20" fill="#000">100</text>
<text x="1637.5" y="585.7" font-size="25" fill="#000">padj</text>
<defs><linearGradient id="gb" x1="0" y1="1" x2="0" y2="0"><stop offset="0" stop-color="#ff0000"/><stop offset="0.12" stop-color="#e87a00"/><stop offset="0.26" stop-color="#bcc400"/><stop offset="0.36" stop-color="#8af200"/><stop offset="0.5" stop-color="#72fa8a"/><stop offset="0.64" stop-color="#36f6f0"/><stop offset="0.76" stop-color="#62b8ff"/><stop offset="0.88" stop-color="#8570ff"/><stop offset="1" stop-color="#7800ff"/></linearGradient></defs>
<rect x="1637.1" y="601.7" width="39.1" height="194.7" fill="url(#gb)"/>
<line x1="1637.1" y1="602.2" x2="1676.2" y2="602.2" stroke="#ff3060" stroke-width="1"/>
<line x1="1637.1" y1="607" x2="1644.5" y2="607" stroke="#fff" stroke-width="1.2" opacity="0.6"/>
<line x1="1668.8" y1="607" x2="1676.2" y2="607" stroke="#fff" stroke-width="1.2" opacity="0.6"/>
<text x="1688.9" y="614.1" font-size="20" fill="#000">1.00</text>
<line x1="1637.1" y1="653.1" x2="1644.5" y2="653.1" stroke="#fff" stroke-width="1.2" opacity="0.6"/>
<line x1="1668.8" y1="653.1" x2="1676.2" y2="653.1" stroke="#fff" stroke-width="1.2" opacity="0.6"/>
<text x="1688.9" y="660.2" font-size="20" fill="#000">0.75</text>
<line x1="1637.1" y1="699.2" x2="1644.5" y2="699.2" stroke="#fff" stroke-width="1.2" opacity="0.6"/>
<line x1="1668.8" y1="699.2" x2="1676.2" y2="699.2" stroke="#fff" stroke-width="1.2" opacity="0.6"/>
<text x="1688.9" y="706.3" font-size="20" fill="#000">0.50</text>
<line x1="1637.1" y1="745.3" x2="1644.5" y2="745.3" stroke="#fff" stroke-width="1.2" opacity="0.6"/>
<line x1="1668.8" y1="745.3" x2="1676.2" y2="745.3" stroke="#fff" stroke-width="1.2" opacity="0.6"/>
<text x="1688.9" y="752.4" font-size="20" fill="#000">0.25</text>
<line x1="1637.1" y1="791.4" x2="1644.5" y2="791.4" stroke="#fff" stroke-width="1.2" opacity="0.6"/>
<line x1="1668.8" y1="791.4" x2="1676.2" y2="791.4" stroke="#fff" stroke-width="1.2" opacity="0.6"/>
<text x="1688.9" y="798.5" font-size="20" fill="#000">0.00</text>
<rect x="73.9" y="1226.6" width="323.1" height="524.2" fill="#fff"/>
<line x1="73.9" y1="1727.2" x2="397" y2="1727.2" stroke="#ebebeb" stroke-width="1"/>
<rect x="84.2" y="1453.9" width="14" height="273.3" fill="#0072B2" stroke="#000" stroke-width="1.3"/>
<rect x="98.2" y="1363" width="14" height="364.2" fill="#D55E00" stroke="#000" stroke-width="1.3"/>
<rect x="112.2" y="1369.1" width="14" height="358.1" fill="#F0E442" stroke="#000" stroke-width="1.3"/>
<line x1="105.2" y1="1750.8" x2="105.2" y2="1756.3" stroke="#333" stroke-width="1.6"/>
<text x="104" y="1771.1" font-size="15.6" fill="#111" text-anchor="middle">Akt3</text>
<rect x="136.6" y="1445.2" width="14" height="282" fill="#0072B2" stroke="#000" stroke-width="1.3"/>
<rect x="150.6" y="1355.1" width="14" height="372.1" fill="#D55E00" stroke="#000" stroke-width="1.3"/>
<rect x="164.6" y="1250" width="14" height="477.2" fill="#F0E442" stroke="#000" stroke-width="1.3"/>
<line x1="157.6" y1="1750.8" x2="157.6" y2="1756.3" stroke="#333" stroke-width="1.6"/>
<text x="156.4" y="1771.1" font-size="15.6" fill="#111" text-anchor="middle">Pik3cd</text>
<rect x="189" y="1415.2" width="14" height="312" fill="#0072B2" stroke="#000" stroke-width="1.3"/>
<rect x="203" y="1361.5" width="14" height="365.7" fill="#D55E00" stroke="#000" stroke-width="1.3"/>
<rect x="217" y="1537.8" width="14" height="189.4" fill="#F0E442" stroke="#000" stroke-width="1.3"/>
<line x1="210" y1="1750.8" x2="210" y2="1756.3" stroke="#333" stroke-width="1.6"/>
<text x="208.8" y="1771.1" font-size="15.6" fill="#111" text-anchor="middle">Pik3r3</text>
<rect x="241.4" y="1703.9" width="14" height="23.3" fill="#0072B2" stroke="#000" stroke-width="1.3"/>
<rect x="255.4" y="1630.4" width="14" height="96.8" fill="#D55E00" stroke="#000" stroke-width="1.3"/>
<rect x="269.4" y="1670.1" width="14" height="57.1" fill="#F0E442" stroke="#000" stroke-width="1.3"/>
<line x1="262.4" y1="1750.8" x2="262.4" y2="1756.3" stroke="#333" stroke-width="1.6"/>
<text x="261.2" y="1771.1" font-size="15.6" fill="#111" text-anchor="middle">Irs1</text>
<rect x="293.8" y="1715.3" width="14" height="11.9" fill="#0072B2" stroke="#000" stroke-width="1.3"/>
<rect x="307.8" y="1530.8" width="14" height="196.4" fill="#D55E00" stroke="#000" stroke-width="1.3"/>
<rect x="321.8" y="1708.1" width="14" height="19.1" fill="#F0E442" stroke="#000" stroke-width="1.3"/>
<line x1="314.8" y1="1750.8" x2="314.8" y2="1756.3" stroke="#333" stroke-width="1.6"/>
<text x="313.6" y="1771.1" font-size="15.6" fill="#111" text-anchor="middle">Tnxb</text>
<rect x="346.2" y="1531.6" width="14" height="195.6" fill="#0072B2" stroke="#000" stroke-width="1.3"/>
<rect x="360.2" y="1428.6" width="14" height="298.6" fill="#D55E00" stroke="#000" stroke-width="1.3"/>
<rect x="374.2" y="1568.6" width="14" height="158.6" fill="#F0E442" stroke="#000" stroke-width="1.3"/>
<line x1="367.2" y1="1750.8" x2="367.2" y2="1756.3" stroke="#333" stroke-width="1.6"/>
<text x="366" y="1771.1" font-size="15.6" fill="#111" text-anchor="middle">Nos3</text>
<line x1="68.9" y1="1726.6" x2="73.9" y2="1726.6" stroke="#333" stroke-width="1.6"/>
<text x="65" y="1732.7" font-size="17" fill="#222" text-anchor="end">0.0</text>
<line x1="68.9" y1="1620.4" x2="73.9" y2="1620.4" stroke="#333" stroke-width="1.6"/>
<text x="65" y="1626.5" font-size="17" fill="#222" text-anchor="end">0.5</text>
<line x1="68.9" y1="1514.2" x2="73.9" y2="1514.2" stroke="#333" stroke-width="1.6"/>
<text x="65" y="1520.3" font-size="17" fill="#222" text-anchor="end">1.0</text>
<line x1="68.9" y1="1408" x2="73.9" y2="1408" stroke="#333" stroke-width="1.6"/>
<text x="65" y="1414.1" font-size="17" fill="#222" text-anchor="end">1.5</text>
<line x1="68.9" y1="1301.8" x2="73.9" y2="1301.8" stroke="#333" stroke-width="1.6"/>
<text x="65" y="1307.9" font-size="17" fill="#222" text-anchor="end">2.0</text>
<text x="105.5" y="1357.3" font-size="11.5" fill="#000" text-anchor="middle" font-weight="bold">*</text>
<rect x="73.9" y="1226.6" width="323.1" height="524.2" fill="none" stroke="#333" stroke-width="1.4"/>
<text x="33.1" y="1464.1" font-size="19.6" fill="#000" text-anchor="middle" transform="rotate(-90 33.1 1464.1)">Expression</text>
<defs><clipPath id="cd"><rect x="395" y="1460" width="143" height="80"/></clipPath></defs><g clip-path="url(#cd)">
<rect x="402.2" y="1474" width="18.6" height="19.2" fill="#0072B2" stroke="#000" stroke-width="1.3"/>
<text x="432" y="1489.4" font-size="15.6" fill="#1a1a1a">Control</text>
<rect x="402.2" y="1493.2" width="18.6" height="19.2" fill="#D55E00" stroke="#000" stroke-width="1.3"/>
<text x="432" y="1508.6" font-size="15.6" fill="#1a1a1a">10µM c&#8722;di&#8722;AMP</text>
<rect x="402.2" y="1512.4" width="18.6" height="19.2" fill="#F0E442" stroke="#000" stroke-width="1.3"/>
<text x="432" y="1527.8" font-size="15.6" fill="#1a1a1a">100µM c&#8722;di&#8722;AMP</text>
</g>
<rect x="540" y="1218" width="560" height="566" fill="#fff"/>
<line x1="540.5" y1="1214.9" x2="1094.9" y2="1214.9" stroke="#eeeeee" stroke-width="1"/>
<rect x="594.7" y="1226.9" width="362.7" height="522.9" fill="#fff"/>
<rect x="608.4" y="1634.9" width="18.6" height="91.2" fill="#0072B2" stroke="#000" stroke-width="1.3"/>
<rect x="627" y="1428.6" width="18.6" height="297.5" fill="#D55E00" stroke="#000" stroke-width="1.3"/>
<rect x="645.6" y="1604.9" width="18.6" height="121.2" fill="#F0E442" stroke="#000" stroke-width="1.3"/>
<line x1="636.4" y1="1749.8" x2="636.4" y2="1755.3" stroke="#4a4a4a" stroke-width="1.6"/>
<text x="636.4" y="1770.1" font-size="15.7" fill="#111" text-anchor="middle">Adcy5</text>
<rect x="678.2" y="1454.6" width="18.6" height="271.5" fill="#0072B2" stroke="#000" stroke-width="1.3"/>
<rect x="696.8" y="1249.4" width="18.6" height="476.7" fill="#D55E00" stroke="#000" stroke-width="1.3"/>
<rect x="715.4" y="1456.7" width="18.6" height="269.4" fill="#F0E442" stroke="#000" stroke-width="1.3"/>
<line x1="706.2" y1="1749.8" x2="706.2" y2="1755.3" stroke="#4a4a4a" stroke-width="1.6"/>
<text x="706.2" y="1770.1" font-size="15.7" fill="#111" text-anchor="middle">Adcy6</text>
<rect x="748" y="1557.9" width="18.6" height="168.2" fill="#0072B2" stroke="#000" stroke-width="1.3"/>
<rect x="766.6" y="1334.2" width="18.6" height="391.9" fill="#D55E00" stroke="#000" stroke-width="1.3"/>
<rect x="785.2" y="1593.8" width="18.6" height="132.3" fill="#F0E442" stroke="#000" stroke-width="1.3"/>
<line x1="776" y1="1749.8" x2="776" y2="1755.3" stroke="#4a4a4a" stroke-width="1.6"/>
<text x="776" y="1770.1" font-size="15.7" fill="#111" text-anchor="middle">Adcy2</text>
<rect x="817.8" y="1513.4" width="18.6" height="212.7" fill="#0072B2" stroke="#000" stroke-width="1.3"/>
<rect x="836.4" y="1297.1" width="18.6" height="429" fill="#D55E00" stroke="#000" stroke-width="1.3"/>
<rect x="855" y="1462.3" width="18.6" height="263.8" fill="#F0E442" stroke="#000" stroke-width="1.3"/>
<line x1="845.8" y1="1749.8" x2="845.8" y2="1755.3" stroke="#4a4a4a" stroke-width="1.6"/>
<text x="845.8" y="1770.1" font-size="15.7" fill="#111" text-anchor="middle">Npr2</text>
<rect x="887.6" y="1539.7" width="18.6" height="186.4" fill="#0072B2" stroke="#000" stroke-width="1.3"/>
<rect x="906.2" y="1350" width="18.6" height="376.1" fill="#D55E00" stroke="#000" stroke-width="1.3"/>
<rect x="924.8" y="1528.2" width="18.6" height="197.9" fill="#F0E442" stroke="#000" stroke-width="1.3"/>
<line x1="915.6" y1="1749.8" x2="915.6" y2="1755.3" stroke="#4a4a4a" stroke-width="1.6"/>
<text x="915.6" y="1770.1" font-size="15.7" fill="#111" text-anchor="middle">Plcb4</text>
<line x1="589.7" y1="1725.6" x2="594.7" y2="1725.6" stroke="#4a4a4a" stroke-width="1.6"/>
<text x="584.9" y="1731.4" font-size="16" fill="#222" text-anchor="end">0.0</text>
<line x1="589.7" y1="1570.9" x2="594.7" y2="1570.9" stroke="#4a4a4a" stroke-width="1.6"/>
<text x="584.9" y="1576.7" font-size="16" fill="#222" text-anchor="end">0.5</text>
<line x1="589.7" y1="1416.2" x2="594.7" y2="1416.2" stroke="#4a4a4a" stroke-width="1.6"/>
<text x="584.9" y="1422" font-size="16" fill="#222" text-anchor="end">1.0</text>
<line x1="589.7" y1="1261.5" x2="594.7" y2="1261.5" stroke="#4a4a4a" stroke-width="1.6"/>
<text x="584.9" y="1267.3" font-size="16" fill="#222" text-anchor="end">1.5</text>
<text x="636" y="1423.4" font-size="11.5" fill="#000" text-anchor="middle" font-weight="bold">*</text>
<text x="705.9" y="1245" font-size="11.5" fill="#000" text-anchor="middle" font-weight="bold">*</text>
<text x="775.9" y="1328.9" font-size="11.5" fill="#000" text-anchor="middle" font-weight="bold">*</text>
<text x="845.5" y="1292.9" font-size="11.5" fill="#000" text-anchor="middle" font-weight="bold">*</text>
<text x="915.1" y="1346.4" font-size="11.5" fill="#000" text-anchor="middle" font-weight="bold">*</text>
<rect x="594.7" y="1226.9" width="362.7" height="522.9" fill="none" stroke="#4a4a4a" stroke-width="1.5"/>
<text x="553.9" y="1463.8" font-size="19.4" fill="#000" text-anchor="middle" transform="rotate(-90 553.9 1463.8)">Expression</text>
<defs><clipPath id="ce"><rect x="950" y="1460" width="145.2" height="80"/></clipPath></defs><g clip-path="url(#ce)">
<rect x="960.6" y="1473.5" width="18.2" height="18.8" fill="#0072B2" stroke="#000" stroke-width="1.6"/>
<text x="980.6" y="1488.3" font-size="15.8" fill="#111">Control</text>
<rect x="960.6" y="1493.3" width="18.2" height="18.8" fill="#D55E00" stroke="#000" stroke-width="1.6"/>
<text x="980.6" y="1507.8" font-size="15.8" fill="#111">10µM c-di-AMP</text>
<rect x="960.6" y="1513.1" width="18.2" height="18.8" fill="#F0E442" stroke="#000" stroke-width="1.6"/>
<text x="980.6" y="1527.7" font-size="15.8" fill="#111">100µM c-di-AMP</text>
</g>
<rect x="1216.4" y="1226" width="379.2" height="528.3" fill="#fff"/>
<rect x="1233.2" y="1620.8" width="24.4" height="109.8" fill="#0072B2" stroke="#000" stroke-width="1.3"/>
<rect x="1257.6" y="1485.2" width="24.4" height="245.4" fill="#D55E00" stroke="#000" stroke-width="1.3"/>
<rect x="1282" y="1612.6" width="24.4" height="118" fill="#F0E442" stroke="#000" stroke-width="1.3"/>
<line x1="1270.4" y1="1754.3" x2="1270.4" y2="1759.8" stroke="#222" stroke-width="1.6"/>
<text x="1270.4" y="1775.5" font-size="16" fill="#111" text-anchor="middle">Adcy6</text>
<rect x="1323.9" y="1710.3" width="24.4" height="20.3" fill="#0072B2" stroke="#000" stroke-width="1.3"/>
<rect x="1348.3" y="1549.4" width="24.4" height="181.2" fill="#D55E00" stroke="#000" stroke-width="1.3"/>
<rect x="1372.7" y="1595.1" width="24.4" height="135.5" fill="#F0E442" stroke="#000" stroke-width="1.3"/>
<line x1="1360.8" y1="1754.3" x2="1360.8" y2="1759.8" stroke="#222" stroke-width="1.6"/>
<text x="1360.8" y="1775.5" font-size="16" fill="#111" text-anchor="middle">Amy1</text>
<rect x="1414.6" y="1722.7" width="24.4" height="7.9" fill="#0072B2" stroke="#000" stroke-width="1.3"/>
<rect x="1439" y="1582.6" width="24.4" height="148" fill="#D55E00" stroke="#000" stroke-width="1.3"/>
<rect x="1463.4" y="1644" width="24.4" height="86.6" fill="#F0E442" stroke="#000" stroke-width="1.3"/>
<line x1="1451.2" y1="1754.3" x2="1451.2" y2="1759.8" stroke="#222" stroke-width="1.6"/>
<text x="1451.2" y="1775.5" font-size="16" fill="#111" text-anchor="middle">Atp1b2</text>
<rect x="1505.3" y="1633.2" width="24.4" height="97.4" fill="#0072B2" stroke="#000" stroke-width="1.3"/>
<rect x="1529.7" y="1249.3" width="24.4" height="481.3" fill="#D55E00" stroke="#000" stroke-width="1.3"/>
<rect x="1554.1" y="1593" width="24.4" height="137.6" fill="#F0E442" stroke="#000" stroke-width="1.3"/>
<line x1="1541.6" y1="1754.3" x2="1541.6" y2="1759.8" stroke="#222" stroke-width="1.6"/>
<text x="1541.6" y="1775.5" font-size="16" fill="#111" text-anchor="middle">Atp1a2</text>
<line x1="1211.4" y1="1730.6" x2="1216.4" y2="1730.6" stroke="#222" stroke-width="1.6"/>
<text x="1206.3" y="1736.4" font-size="16" fill="#222" text-anchor="end">0</text>
<line x1="1211.4" y1="1601.9" x2="1216.4" y2="1601.9" stroke="#222" stroke-width="1.6"/>
<text x="1206.3" y="1607.7" font-size="16" fill="#222" text-anchor="end">1</text>
<line x1="1211.4" y1="1473.2" x2="1216.4" y2="1473.2" stroke="#222" stroke-width="1.6"/>
<text x="1206.3" y="1479" font-size="16" fill="#222" text-anchor="end">2</text>
<line x1="1211.4" y1="1344.5" x2="1216.4" y2="1344.5" stroke="#222" stroke-width="1.6"/>
<text x="1206.3" y="1350.3" font-size="16" fill="#222" text-anchor="end">3</text>
<text x="1271.5" y="1481.2" font-size="11.5" fill="#000" text-anchor="middle" font-weight="bold">*</text>
<text x="1361.5" y="1545.4" font-size="11.5" fill="#000" text-anchor="middle" font-weight="bold">*</text>
<text x="1452" y="1578.2" font-size="11.5" fill="#000" text-anchor="middle" font-weight="bold">*</text>
<text x="1542" y="1244.1" font-size="11.5" fill="#000" text-anchor="middle" font-weight="bold">*</text>
<rect x="1216.4" y="1226" width="379.2" height="528.3" fill="none" stroke="#222" stroke-width="1.7"/>
<text x="1188.9" y="1465.6" font-size="19.8" fill="#000" text-anchor="middle" transform="rotate(-90 1188.9 1465.6)">Expression</text>
<rect x="1627.5" y="1475.3" width="18.4" height="17.8" fill="#0072B2" stroke="#000" stroke-width="1.4"/>
<text x="1649.5" y="1489.6" font-size="14" fill="#000" font-family="'DejaVu Sans', Verdana, sans-serif" font-weight="bold" textLength="50.5" lengthAdjust="spacingAndGlyphs">Control</text>
<rect x="1627.5" y="1495.5" width="18.4" height="17.8" fill="#D55E00" stroke="#000" stroke-width="1.4"/>
<text x="1649.5" y="1509.7" font-size="14" fill="#000" font-family="'DejaVu Sans', Verdana, sans-serif" font-weight="bold" textLength="109.7" lengthAdjust="spacingAndGlyphs">10uM c-di-AMP</text>
<rect x="1627.5" y="1515.3" width="18.4" height="17.8" fill="#F0E442" stroke="#000" stroke-width="1.4"/>
<text x="1649.5" y="1529.4" font-size="14" fill="#000" font-family="'DejaVu Sans', Verdana, sans-serif" font-weight="bold" textLength="118.3" lengthAdjust="spacingAndGlyphs">100uM c-di-AMP</text>
<text transform="translate(17.6 40.8) scale(1.03 1)" font-size="52.5" font-weight="bold" stroke="#000" stroke-width="0.5">A</text>
<text transform="translate(20.1 608.3) scale(0.945 1)" font-size="52.5" font-weight="bold" stroke="#000" stroke-width="0.5">B</text>
<text transform="translate(724.4 41.1) scale(0.94 1)" font-size="52.5" font-weight="bold" stroke="#000" stroke-width="0.5">C</text>
<text transform="translate(35.5 1218.6) scale(0.955 1)" font-size="52.5" font-weight="bold" stroke="#000" stroke-width="0.5">D</text>
<text transform="translate(574.5 1223.8) scale(0.985 1)" font-size="52.5" font-weight="bold" stroke="#000" stroke-width="0.5">E</text>
<text transform="translate(1182.4 1216.8) scale(0.966 1)" font-size="52.5" font-weight="bold" stroke="#000" stroke-width="0.5">F</text></svg></body></html>
